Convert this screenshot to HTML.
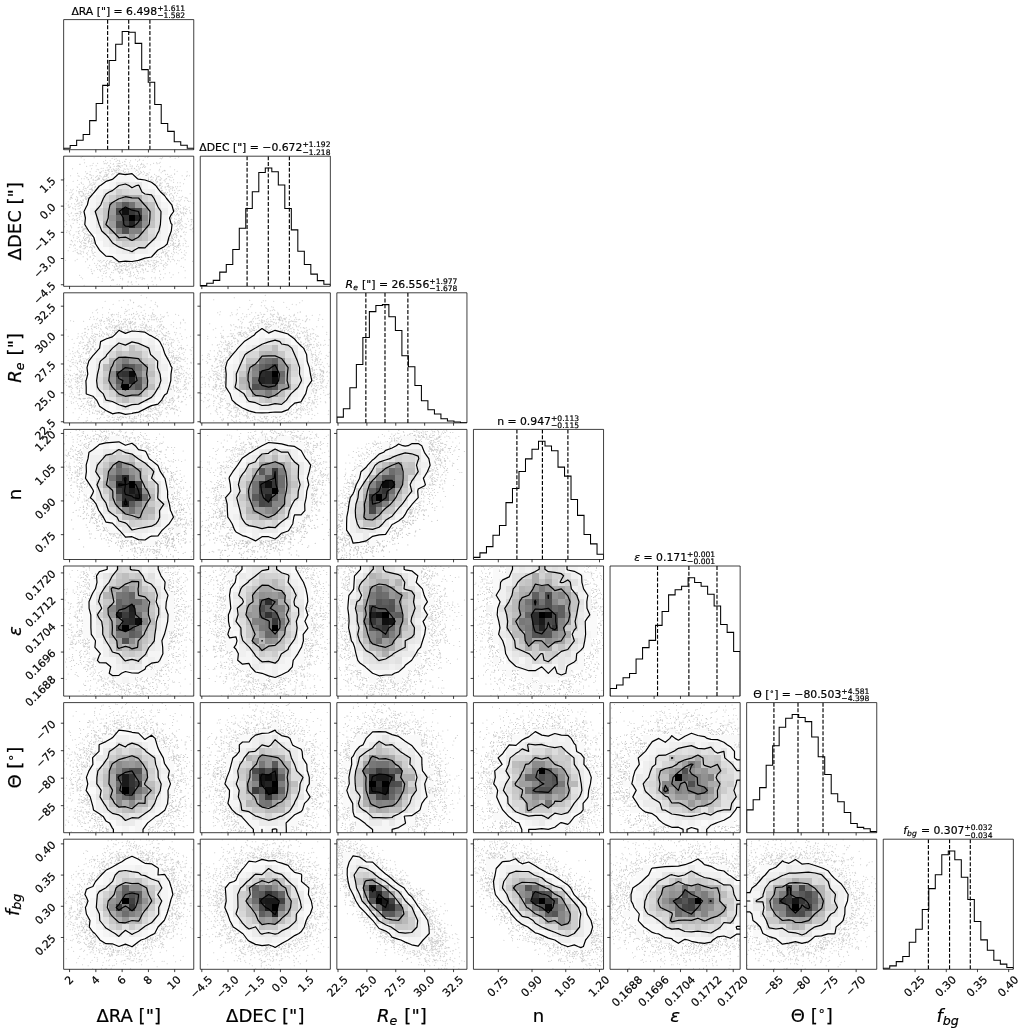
<!DOCTYPE html>
<html lang="en"><head><meta charset="utf-8"><title>Corner plot</title><style>
html,body{margin:0;padding:0;background:#fff}
svg{display:block;filter:blur(.35px)}
.pt{fill:none;stroke:#000;stroke-opacity:.24;stroke-width:2.1;stroke-linecap:round}
.ct{fill:none;stroke:#000;stroke-width:1.2;stroke-linejoin:round}
.hs{fill:none;stroke:#000;stroke-width:1.05;stroke-linejoin:miter}
.dq{fill:none;stroke:#000;stroke-width:1.15;stroke-dasharray:4 1.73}
.fr{fill:none;stroke:#000;stroke-width:.75}
.tk{fill:none;stroke:#000;stroke-width:.75}
</style></head><body>
<svg width="1026" height="1033" viewBox="0 0 1026 1033">
<defs>
<clipPath id="c00"><rect x="63.65" y="19.6" width="130.1" height="130.1"/></clipPath>
<clipPath id="c10"><rect x="63.65" y="156.2" width="130.1" height="130.1"/></clipPath>
<clipPath id="c11"><rect x="200.25" y="156.2" width="130.1" height="130.1"/></clipPath>
<clipPath id="c20"><rect x="63.65" y="292.8" width="130.1" height="130.1"/></clipPath>
<clipPath id="c21"><rect x="200.25" y="292.8" width="130.1" height="130.1"/></clipPath>
<clipPath id="c22"><rect x="336.85" y="292.8" width="130.1" height="130.1"/></clipPath>
<clipPath id="c30"><rect x="63.65" y="429.4" width="130.1" height="130.1"/></clipPath>
<clipPath id="c31"><rect x="200.25" y="429.4" width="130.1" height="130.1"/></clipPath>
<clipPath id="c32"><rect x="336.85" y="429.4" width="130.1" height="130.1"/></clipPath>
<clipPath id="c33"><rect x="473.45" y="429.4" width="130.1" height="130.1"/></clipPath>
<clipPath id="c40"><rect x="63.65" y="566" width="130.1" height="130.1"/></clipPath>
<clipPath id="c41"><rect x="200.25" y="566" width="130.1" height="130.1"/></clipPath>
<clipPath id="c42"><rect x="336.85" y="566" width="130.1" height="130.1"/></clipPath>
<clipPath id="c43"><rect x="473.45" y="566" width="130.1" height="130.1"/></clipPath>
<clipPath id="c44"><rect x="610.05" y="566" width="130.1" height="130.1"/></clipPath>
<clipPath id="c50"><rect x="63.65" y="702.6" width="130.1" height="130.1"/></clipPath>
<clipPath id="c51"><rect x="200.25" y="702.6" width="130.1" height="130.1"/></clipPath>
<clipPath id="c52"><rect x="336.85" y="702.6" width="130.1" height="130.1"/></clipPath>
<clipPath id="c53"><rect x="473.45" y="702.6" width="130.1" height="130.1"/></clipPath>
<clipPath id="c54"><rect x="610.05" y="702.6" width="130.1" height="130.1"/></clipPath>
<clipPath id="c55"><rect x="746.65" y="702.6" width="130.1" height="130.1"/></clipPath>
<clipPath id="c60"><rect x="63.65" y="839.2" width="130.1" height="130.1"/></clipPath>
<clipPath id="c61"><rect x="200.25" y="839.2" width="130.1" height="130.1"/></clipPath>
<clipPath id="c62"><rect x="336.85" y="839.2" width="130.1" height="130.1"/></clipPath>
<clipPath id="c63"><rect x="473.45" y="839.2" width="130.1" height="130.1"/></clipPath>
<clipPath id="c64"><rect x="610.05" y="839.2" width="130.1" height="130.1"/></clipPath>
<clipPath id="c65"><rect x="746.65" y="839.2" width="130.1" height="130.1"/></clipPath>
<clipPath id="c66"><rect x="883.25" y="839.2" width="130.1" height="130.1"/></clipPath>
</defs>
<rect width="1026" height="1033" fill="#fff"/>
<g clip-path="url(#c10)">
<path class="pt" transform="translate(63.65 156.2) scale(.5)" d="m1 45h0m0 62h0m1 22h0m0 12h0m1-36h0m1 103h0m1-140h0m0 27h0m0 36h0m1-72h0m0 77h0m0 16h0m1-38h0m0 35h0m2-58h0m0 8h0m0 90h0m1-92h0m0 5h0m0 15h0m1 10h0m0 24h0m1-78h0m0 29h0m0 18h0m0 34h0m0 28h0m1-97h0m0 1h0m0 14h0m0 57h0m0 19h0m1-137h0m0 28h0m0 15h0m0 56h0m0 10h0m1-76h0m0 7h0m0 35h0m0 26h0m0 29h0m0 8h0m1-95h0m0 1h0m0 12h0m0 18h0m0 30h0m0 25h0m1-99h0m0 15h0m0 43h0m1-102h0m0 52h0m0 26h0m0 68h0m1-121h0m0 16h0m0 9h0m0 30h0m0 14h0m0 6h0m0 9h0m0 25h0m0 31h0m1-27h0m0 16h0m1-51h0m0 29h0m1-62h0m0 32h0m0 49h0m1-76h0m0 5h0m0 10h0m0 54h0m0 9h0m0 6h0m0 5h0m0 20h0m1-123h0m0 21h0m1-10h0m0 17h0m0 5h0m0 8h0m0 24h0m1-82h0m0 12h0m0 9h0m0 29h0m1-58h0m0 27h0m0 26h0m0 10h0m0 5h0m0 4h0m0 28h0m0 3h0m0 23h0m0 5h0m0 14h0m1-172h0m0 14h0m0 14h0m0 21h0m0 3h0m0 3h0m0 6h0m0 0h0m0 19h0m0 14h0m0 43h0m0 22h0m1-154h0m0 56h0m0 5h0m0 5h0m0 10h0m0 28h0m0 8h0m0 44h0m1-124h0m0 80h0m0 3h0m0 8h0m1-122h0m0 16h0m0 15h0m0 2h0m0 2h0m0 17h0m0 0h0m0 3h0m0 16h0m0 11h0m0 20h0m0 13h0m0 40h0m1-179h0m0 50h0m0 33h0m0 6h0m0 14h0m0 0h0m0 7h0m0 10h0m0 13h0m0 18h0m0 3h0m0 11h0m0 57h0m1-222h0m0 54h0m0 8h0m0 32h0m0 5h0m0 0h0m0 44h0m0 23h0m0 7h0m1-100h0m0 14h0m0 7h0m0 2h0m0 2h0m0 1h0m0 1h0m0 56h0m0 7h0m0 15h0m1-191h0m0 49h0m0 18h0m0 11h0m0 12h0m0 4h0m0 1h0m0 22h0m0 61h0m0 10h0m0 5h0m0 46h0m1-197h0m0 9h0m0 26h0m0 11h0m0 7h0m0 14h0m0 30h0m0 29h0m0 4h0m1-105h0m0 2h0m0 6h0m0 2h0m0 12h0m0 1h0m0 4h0m0 32h0m0 11h0m0 2h0m0 8h0m1-150h0m0 148h0m0 20h0m0 77h0m1-189h0m0 10h0m0 8h0m0 13h0m0 2h0m0 11h0m0 7h0m0 29h0m0 0h0m0 8h0m0 0h0m0 2h0m0 2h0m0 37h0m0 5h0m0 11h0m1-138h0m0 11h0m0 2h0m0 3h0m0 30h0m0 2h0m0 2h0m0 4h0m0 5h0m0 1h0m0 3h0m0 2h0m0 0h0m0 1h0m0 2h0m0 21h0m0 10h0m0 2h0m0 9h0m0 6h0m0 14h0m1-186h0m0 38h0m0 15h0m0 19h0m0 15h0m0 5h0m0 8h0m0 17h0m0 3h0m0 1h0m0 7h0m0 2h0m0 10h0m0 26h0m0 85h0m1-245h0m0 56h0m0 0h0m0 29h0m0 4h0m0 3h0m0 18h0m0 11h0m0 0h0m0 0h0m0 0h0m0 11h0m0 9h0m0 3h0m0 3h0m0 6h0m0 2h0m0 6h0m0 0h0m0 5h0m0 6h0m1-145h0m0 24h0m0 12h0m0 4h0m0 4h0m0 17h0m0 24h0m0 10h0m0 9h0m0 34h0m0 5h0m1-152h0m0 51h0m0 4h0m0 69h0m0 9h0m0 4h0m0 6h0m0 9h0m0 28h0m1-146h0m0 4h0m0 5h0m0 11h0m0 57h0m0 2h0m0 3h0m0 4h0m0 16h0m0 8h0m0 5h0m1-160h0m0 15h0m0 8h0m0 37h0m0 7h0m0 70h0m0 6h0m0 31h0m1-151h0m0 39h0m0 3h0m0 6h0m0 5h0m0 0h0m0 50h0m0 1h0m0 46h0m0 12h0m1-171h0m0 28h0m0 13h0m0 72h0m0 8h0m0 8h0m0 18h0m0 16h0m0 10h0m1-160h0m0 14h0m0 17h0m0 72h0m0 6h0m0 2h0m0 3h0m0 10h0m0 52h0m1-177h0m0 25h0m0 3h0m0 0h0m0 9h0m0 85h0m0 2h0m0 3h0m0 16h0m1-131h0m0 20h0m0 80h0m0 5h0m1-126h0m0 0h0m0 13h0m0 3h0m0 13h0m0 17h0m0 69h0m0 7h0m0 6h0m0 2h0m0 3h0m0 12h0m0 36h0m1-199h0m0 12h0m0 25h0m0 0h0m0 0h0m0 16h0m0 6h0m0 78h0m0 0h0m0 44h0m0 2h0m1-165h0m0 29h0m0 6h0m0 6h0m0 80h0m0 1h0m0 17h0m0 5h0m1-143h0m0 6h0m0 11h0m0 3h0m0 7h0m0 10h0m0 3h0m0 93h0m0 3h0m0 8h0m0 44h0m1-201h0m0 17h0m0 23h0m0 2h0m0 8h0m0 89h0m0 4h0m0 3h0m0 17h0m0 42h0m1-212h0m0 45h0m0 4h0m0 1h0m0 3h0m0 89h0m0 7h0m0 12h0m0 4h0m0 1h0m0 2h0m0 4h0m0 3h0m0 41h0m1-175h0m0 8h0m0 107h0m0 33h0m0 28h0m1-221h0m0 25h0m0 7h0m0 2h0m0 4h0m0 0h0m0 4h0m0 12h0m0 103h0m0 8h0m0 15h0m0 1h0m0 3h0m1-30h0m0 5h0m0 8h0m0 23h0m1-201h0m0 52h0m0 110h0m0 7h0m0 2h0m0 0h0m0 55h0m1-173h0m0 7h0m0 112h0m0 0h0m0 6h0m0 2h0m0 0h0m0 9h0m0 7h0m0 15h0m1-166h0m0 5h0m0 7h0m0 2h0m0 5h0m0 108h0m0 17h0m0 8h0m1-158h0m0 18h0m1-41h0m0 11h0m0 19h0m0 6h0m0 128h0m0 3h0m0 32h0m1-178h0m0 148h0m0 1h0m0 2h0m0 6h0m0 1h0m0 7h0m0 0h0m0 17h0m1-196h0m0 21h0m0 14h0m0 2h0m0 126h0m0 6h0m0 6h0m1-187h0m0 25h0m0 8h0m0 9h0m0 1h0m0 1h0m0 126h0m0 1h0m0 15h0m0 15h0m0 11h0m1-181h0m0 150h0m0 14h0m0 33h0m1-215h0m0 16h0m0 3h0m0 10h0m0 2h0m0 140h0m1-153h0m0 1h0m0 7h0m0 1h0m0 141h0m0 3h0m0 7h0m0 2h0m0 12h0m1-187h0m0 7h0m0 5h0m0 145h0m0 9h0m0 4h0m0 0h0m0 8h0m0 9h0m0 8h0m1-193h0m0 5h0m0 15h0m0 2h0m0 148h0m0 24h0m1-228h0m0 32h0m0 158h0m0 4h0m0 7h0m0 2h0m0 5h0m0 0h0m0 13h0m0 9h0m1-206h0m0 17h0m0 8h0m0 5h0m0 1h0m0 143h0m0 4h0m0 3h0m0 8h0m0 13h0m1-195h0m0 165h0m0 8h0m1-153h0m0 144h0m0 16h0m0 28h0m0 11h0m1-205h0m0 1h0m0 8h0m0 149h0m0 22h0m0 20h0m1-221h0m0 5h0m0 13h0m0 155h0m0 8h0m0 13h0m0 1h0m1-208h0m0 35h0m0 1h0m0 1h0m0 153h0m0 8h0m0 25h0m1-219h0m0 25h0m0 1h0m0 157h0m0 9h0m0 1h0m0 22h0m1-191h0m0 9h0m0 153h0m0 17h0m1-204h0m0 18h0m0 4h0m0 10h0m0 158h0m0 17h0m0 3h0m1-222h0m0 6h0m0 20h0m0 12h0m0 173h0m0 21h0m1-201h0m0 185h0m0 2h0m0 8h0m0 13h0m1-226h0m0 21h0m0 2h0m0 1h0m0 1h0m0 5h0m0 0h0m0 157h0m0 1h0m0 1h0m0 1h0m0 5h0m0 5h0m0 2h0m0 0h0m0 16h0m1-210h0m0 5h0m0 18h0m1-33h0m0 23h0m0 3h0m0 165h0m0 1h0m0 2h0m0 1h0m0 14h0m1-195h0m0 15h0m0 6h0m0 153h0m0 24h0m1-206h0m0 10h0m0 6h0m0 179h0m1-196h0m0 8h0m0 5h0m0 12h0m0 171h0m0 3h0m1-176h0m0 4h0m0 156h0m0 2h0m0 7h0m0 2h0m0 13h0m0 0h0m0 16h0m1-232h0m0 12h0m0 1h0m0 1h0m0 19h0m0 0h0m0 3h0m0 156h0m0 2h0m1-189h0m0 8h0m0 185h0m0 1h0m0 3h0m0 26h0m0 6h0m0 16h0m1-213h0m0 1h0m0 155h0m0 2h0m0 8h0m1-185h0m0 3h0m0 7h0m0 6h0m0 2h0m0 2h0m0 155h0m0 5h0m0 1h0m0 4h0m0 20h0m0 16h0m1-244h0m0 26h0m0 10h0m0 2h0m0 160h0m0 1h0m1-173h0m0 5h0m0 5h0m0 166h0m0 6h0m0 6h0m0 28h0m1-230h0m0 9h0m0 11h0m0 8h0m0 168h0m0 21h0m0 15h0m1-233h0m0 12h0m0 16h0m0 185h0m0 19h0m1-246h0m0 19h0m0 7h0m0 7h0m0 178h0m0 8h0m1-214h0m0 23h0m0 176h0m0 8h0m0 9h0m1-194h0m0 3h0m0 10h0m0 0h0m0 166h0m0 18h0m0 2h0m1-12h0m0 2h0m1-212h0m0 5h0m0 15h0m0 4h0m0 3h0m0 178h0m0 5h0m0 5h0m0 7h0m1-207h0m0 9h0m0 8h0m0 181h0m0 1h0m1-204h0m0 12h0m0 5h0m0 3h0m0 179h0m0 6h0m0 4h0m0 32h0m1-248h0m0 11h0m0 0h0m0 208h0m1-209h0m0 1h0m0 2h0m0 4h0m0 186h0m0 13h0m0 6h0m1-216h0m0 11h0m0 4h0m0 4h0m0 180h0m0 18h0m1-223h0m0 11h0m0 13h0m0 1h0m0 182h0m0 5h0m0 3h0m0 10h0m1-223h0m0 4h0m0 6h0m0 1h0m0 6h0m0 8h0m0 183h0m0 16h0m0 23h0m1-243h0m0 212h0m0 4h0m0 2h0m0 8h0m1-218h0m0 10h0m0 182h0m0 5h0m0 25h0m1-225h0m0 10h0m0 192h0m1-187h0m0 0h0m0 185h0m0 1h0m0 6h0m0 2h0m0 1h0m1-9h0m0 14h0m1-222h0m0 7h0m0 17h0m0 181h0m0 12h0m0 15h0m0 3h0m1-219h0m0 2h0m0 195h0m0 8h0m1-203h0m0 189h0m1-203h0m0 9h0m0 8h0m0 181h0m0 4h0m1-208h0m0 22h0m0 182h0m0 5h0m1-208h0m0 6h0m0 9h0m0 10h0m0 179h0m0 0h0m0 11h0m0 0h0m1-220h0m0 25h0m0 3h0m0 191h0m0 2h0m1-221h0m0 211h0m0 2h0m0 2h0m0 1h0m0 5h0m0 1h0m1-210h0m0 2h0m0 14h0m0 2h0m0 177h0m1-188h0m0 186h0m0 18h0m0 7h0m1-15h0m0 6h0m0 32h0m1-233h0m0 7h0m0 178h0m0 9h0m0 30h0m0 2h0m1-222h0m0 185h0m0 17h0m1-203h0m0 0h0m0 190h0m0 5h0m0 3h0m0 13h0m1-227h0m0 13h0m0 1h0m0 186h0m1-196h0m0 3h0m0 12h0m0 182h0m0 3h0m0 16h0m0 0h0m0 4h0m0 4h0m1-232h0m0 17h0m0 4h0m0 3h0m0 198h0m0 0h0m0 3h0m1-20h0m0 3h0m0 5h0m0 17h0m0 14h0m1-229h0m0 10h0m0 217h0m1-232h0m0 2h0m0 5h0m0 192h0m0 3h0m0 4h0m0 31h0m1-44h0m0 0h0m0 5h0m1-191h0m0 6h0m0 3h0m0 1h0m0 0h0m0 186h0m0 1h0m0 1h0m1-197h0m0 4h0m0 1h0m0 178h0m0 4h0m0 18h0m0 7h0m1-207h0m1-8h0m0 1h0m0 211h0m1-206h0m0 182h0m0 2h0m0 8h0m0 1h0m1-216h0m0 212h0m0 1h0m0 22h0m1-215h0m0 8h0m0 7h0m0 180h0m0 29h0m1-231h0m0 8h0m0 14h0m0 174h0m0 4h0m0 6h0m0 19h0m1-217h0m0 10h0m0 171h0m0 4h0m0 16h0m0 1h0m1-220h0m0 7h0m0 27h0m0 168h0m0 18h0m0 9h0m1-238h0m0 30h0m0 1h0m0 186h0m0 4h0m0 9h0m0 13h0m1-223h0m0 15h0m0 3h0m0 6h0m0 170h0m0 19h0m0 22h0m1-248h0m0 16h0m0 3h0m1-21h0m0 29h0m0 1h0m0 175h0m0 6h0m0 2h0m0 3h0m1-188h0m0 7h0m0 2h0m0 164h0m0 7h0m0 29h0m1-226h0m0 6h0m0 7h0m0 187h0m0 2h0m0 12h0m1-199h0m0 11h0m1-29h0m0 0h0m0 2h0m0 17h0m0 179h0m0 6h0m1-178h0m0 168h0m0 17h0m0 1h0m0 17h0m0 3h0m1-224h0m0 20h0m0 164h0m0 0h0m0 10h0m0 3h0m1-211h0m0 8h0m0 20h0m0 6h0m0 177h0m0 8h0m0 2h0m0 15h0m1-224h0m0 10h0m0 11h0m0 3h0m0 174h0m0 15h0m1-215h0m0 24h0m0 164h0m0 2h0m0 3h0m1-189h0m0 11h0m0 9h0m0 203h0m1-243h0m0 209h0m0 4h0m1-194h0m0 17h0m0 7h0m0 0h0m0 180h0m0 2h0m1-187h0m0 1h0m0 1h0m0 3h0m0 161h0m0 8h0m0 3h0m1-182h0m0 3h0m0 10h0m0 158h0m0 8h0m1-199h0m0 29h0m0 163h0m0 4h0m0 19h0m1-228h0m0 33h0m0 5h0m0 1h0m0 5h0m0 0h0m0 159h0m0 2h0m0 1h0m0 49h0m1-256h0m0 36h0m0 6h0m0 2h0m0 159h0m0 26h0m1-184h0m0 1h0m0 1h0m0 158h0m0 3h0m0 1h0m0 5h0m0 0h0m0 5h0m1-187h0m0 17h0m0 161h0m0 5h0m2-189h0m0 24h0m0 153h0m0 12h0m1-199h0m0 25h0m0 7h0m0 168h0m0 4h0m1-174h0m0 160h0m0 2h0m1-169h0m0 1h0m0 161h0m0 4h0m0 37h0m1-196h0m0 0h0m0 180h0m0 3h0m0 20h0m1-32h0m1-175h0m0 7h0m0 159h0m0 3h0m0 9h0m0 36h0m1-243h0m0 40h0m0 144h0m0 0h0m0 8h0m0 19h0m1-171h0m0 145h0m0 6h0m0 2h0m0 7h0m0 1h0m0 3h0m0 14h0m1-196h0m0 0h0m0 161h0m0 6h0m0 5h0m0 11h0m0 5h0m1-167h0m0 145h0m0 20h0m0 5h0m0 15h0m0 3h0m1-197h0m0 144h0m0 24h0m1-177h0m0 0h0m0 7h0m0 1h0m0 4h0m0 3h0m0 138h0m0 16h0m0 4h0m0 1h0m1-200h0m0 30h0m0 2h0m0 146h0m0 3h0m0 2h0m0 1h0m0 4h0m0 10h0m0 9h0m0 37h0m0 3h0m1-245h0m0 37h0m0 7h0m0 131h0m0 1h0m0 2h0m1-152h0m0 9h0m0 10h0m0 3h0m0 127h0m0 10h0m0 11h0m1-170h0m0 149h0m0 1h0m1-151h0m0 148h0m0 1h0m0 8h0m0 14h0m0 8h0m1-205h0m0 15h0m0 11h0m0 7h0m0 12h0m0 134h0m0 9h0m1-176h0m0 31h0m0 1h0m0 1h0m0 9h0m0 1h0m0 121h0m0 12h0m0 27h0m0 1h0m0 13h0m1-239h0m0 8h0m0 36h0m0 5h0m0 1h0m0 1h0m0 10h0m0 126h0m0 0h0m0 0h0m0 23h0m1-193h0m0 22h0m0 4h0m0 11h0m0 8h0m0 2h0m0 124h0m0 14h0m0 30h0m0 11h0m1-214h0m0 22h0m0 7h0m0 6h0m0 1h0m0 0h0m0 131h0m1-195h0m0 40h0m0 19h0m0 5h0m0 1h0m0 3h0m0 111h0m0 10h0m0 8h0m0 7h0m0 5h0m1-161h0m0 7h0m0 126h0m0 6h0m1-189h0m0 27h0m0 38h0m0 4h0m0 3h0m0 113h0m1 2h0m0 2h0m0 16h0m0 10h0m1-146h0m0 3h0m0 118h0m0 27h0m0 6h0m0 17h0m1-215h0m0 1h0m0 19h0m0 26h0m0 1h0m0 141h0m1-143h0m0 2h0m0 111h0m1-157h0m0 18h0m0 4h0m0 10h0m0 2h0m0 11h0m0 3h0m0 1h0m0 112h0m0 6h0m0 2h0m0 25h0m0 12h0m1-199h0m0 36h0m0 122h0m0 7h0m0 12h0m1-168h0m0 22h0m0 111h0m0 9h0m0 6h0m0 22h0m0 3h0m1-173h0m0 10h0m0 20h0m0 2h0m0 3h0m0 2h0m0 0h0m0 1h0m0 97h0m0 14h0m1-134h0m0 22h0m0 2h0m0 99h0m0 9h0m0 5h0m1-161h0m0 18h0m0 18h0m0 6h0m0 95h0m0 3h0m0 1h0m0 2h0m0 20h0m0 11h0m0 7h0m1-176h0m0 18h0m0 2h0m0 108h0m0 8h0m0 12h0m0 10h0m0 2h0m0 3h0m0 2h0m1-151h0m0 3h0m0 111h0m0 11h0m0 1h0m1-141h0m0 22h0m0 5h0m0 1h0m0 99h0m0 14h0m0 8h0m0 0h0m0 18h0m1-160h0m0 24h0m0 5h0m0 3h0m0 86h0m0 16h0m0 52h0m1-231h0m0 19h0m0 21h0m0 19h0m0 62h0m0 34h0m0 11h0m1-103h0m0 10h0m0 10h0m0 71h0m0 18h0m0 4h0m0 23h0m0 10h0m1-173h0m0 11h0m0 34h0m0 0h0m0 12h0m0 29h0m0 6h0m0 3h0m0 25h0m0 2h0m0 5h0m0 77h0m1-167h0m0 13h0m0 8h0m0 1h0m0 25h0m0 3h0m0 22h0m0 0h0m0 15h0m0 6h0m0 26h0m1-152h0m0 19h0m0 4h0m0 25h0m0 4h0m0 24h0m0 0h0m0 1h0m0 17h0m0 4h0m0 13h0m0 2h0m0 6h0m0 2h0m0 7h0m0 7h0m0 1h0m0 28h0m1-138h0m0 10h0m0 12h0m0 6h0m0 19h0m0 1h0m0 14h0m0 10h0m0 5h0m0 2h0m0 0h0m0 17h0m0 1h0m0 4h0m0 32h0m1-139h0m0 0h0m0 1h0m0 21h0m0 10h0m0 1h0m0 3h0m0 1h0m0 17h0m0 16h0m0 7h0m0 0h0m0 1h0m0 13h0m0 2h0m0 2h0m0 2h0m0 15h0m0 1h0m0 2h0m0 20h0m0 40h0m1-190h0m0 5h0m0 28h0m0 2h0m0 7h0m0 3h0m0 2h0m0 5h0m0 7h0m0 0h0m0 8h0m0 1h0m0 1h0m0 17h0m0 2h0m0 2h0m0 3h0m0 2h0m0 13h0m0 11h0m0 6h0m0 6h0m0 4h0m0 4h0m0 1h0m0 4h0m0 15h0m1-120h0m0 20h0m0 10h0m0 21h0m0 38h0m0 9h0m1-157h0m0 8h0m0 1h0m0 32h0m0 6h0m0 34h0m0 17h0m0 5h0m0 3h0m0 2h0m0 13h0m0 0h0m0 6h0m0 8h0m0 18h0m0 13h0m0 16h0m1-205h0m0 68h0m0 37h0m0 10h0m0 37h0m1-95h0m0 44h0m0 28h0m0 2h0m0 16h0m0 17h0m0 6h0m0 6h0m1-91h0m0 0h0m0 9h0m0 13h0m0 15h0m0 14h0m0 7h0m0 7h0m0 3h0m0 4h0m0 0h0m0 25h0m1-121h0m0 14h0m0 27h0m0 11h0m0 41h0m0 5h0m0 19h0m0 10h0m0 23h0m1-185h0m0 64h0m0 3h0m0 4h0m0 3h0m0 5h0m0 0h0m0 6h0m0 1h0m0 16h0m0 3h0m0 4h0m0 8h0m0 1h0m0 11h0m0 0h0m0 20h0m0 2h0m1-128h0m0 8h0m0 13h0m0 40h0m0 17h0m0 13h0m0 4h0m0 60h0m1-139h0m0 19h0m0 13h0m0 27h0m0 8h0m0 16h0m0 27h0m0 16h0m1-193h0m0 102h0m0 0h0m0 2h0m0 11h0m0 2h0m0 14h0m0 13h0m0 4h0m0 1h0m0 16h0m0 3h0m0 6h0m0 2h0m0 4h0m0 51h0m1-151h0m0 9h0m0 5h0m0 21h0m0 7h0m0 4h0m0 2h0m0 3h0m0 2h0m0 39h0m0 2h0m0 12h0m0 21h0m1-141h0m0 73h0m0 28h0m0 5h0m1-121h0m0 7h0m0 29h0m0 21h0m0 1h0m0 0h0m0 24h0m0 4h0m0 5h0m0 35h0m1-81h0m0 7h0m0 8h0m0 14h0m0 5h0m0 27h0m0 2h0m0 25h0m1-104h0m0 4h0m0 40h0m0 1h0m0 1h0m0 92h0m1-151h0m0 45h0m0 7h0m0 3h0m0 13h0m0 10h0m0 13h0m0 32h0m0 12h0m1-165h0m0 73h0m0 18h0m0 9h0m0 6h0m1-65h0m1 22h0m0 12h0m0 27h0m0 34h0m0 4h0m0 24h0m1-148h0m0 49h0m0 3h0m0 6h0m0 3h0m0 36h0m0 70h0m1-118h0m0 15h0m0 32h0m0 14h0m0 31h0m1-150h0m0 43h0m0 100h0m1-106h0m0 17h0m0 13h0m0 22h0m0 8h0m0 14h0m0 11h0m0 30h0m0 9h0m0 22h0m0 14h0m1-137h0m0 8h0m0 60h0m1-91h0m0 22h0m0 10h0m0 27h0m0 10h0m0 18h0m0 11h0m0 12h0m1-153h0m0 70h0m0 26h0m1-105h0m0 7h0m0 46h0m0 22h0m1-18h0m0 37h0m1 55h0m1-90h0m0 40h0m1-28h0m1-63h0m0 70h0m1-34h0m0 15h0m0 23h0m0 26h0m0 7h0m1-33h0m0 1h0m1 12h0m0 1h0m0 9h0m0 1h0m0 10h0m1-16h0m1-4h0m1 18h0m0 65h0m1-67h0m0 8h0m1-57h0m0 37h0"/>
<path fill="#fff" fill-rule="evenodd" d="M112.7 257L118.9 261.8L125.4 261.2L132 261.5L138.5 260.4L145 258.1L151.5 257L151.5 257L157.4 250.5L158 250L164.5 246.4L167.2 244L168.8 237.5L171 231.7L171.3 231L172 224.5L171 223.3L169.5 218L171 215.1L173.7 211.5L171.9 205L171 203.9L166.6 198.5L164.5 195.5L160.6 192L158 188.7L155.7 185.5L151.5 182.2L145 180L138.5 179.2L137.8 179L132 173.6L125.4 174.6L118.9 173.6L112.9 179L112.4 179.4L105.9 181.4L100.5 185.5L99.4 186L94.5 192L92.9 193.8L88.9 198.5L87.3 205L86.4 206.5L84 211.5L85.4 218L84.8 224.5L86.4 227.2L88.8 231L92.9 236.2L93.9 237.5L95.6 244L99.4 249.9L99.9 250.5L105.9 256.1L112.4 256.6L112.7 257Z"/>
<g transform="translate(63.65 156.2) scale(6.5050)" shape-rendering="crispEdges">
<path fill="#fafafa" d="M3 10h1v1h-1zM3 9h1v1h-1zM3 8h1v1h-1zM3 7h1v1h-1zM5 15h1v1h-1zM5 14h1v1h-1zM5 13h1v1h-1zM5 4h1v1h-1zM6 15h1v1h-1zM6 14h1v1h-1zM6 4h1v1h-1zM7 15h1v1h-1zM7 3h1v1h-1zM10 2h1v1h-1zM11 15h1v1h-1zM11 3h1v1h-1zM12 15h1v1h-1zM12 3h1v1h-1zM13 15h1v1h-1zM13 4h1v1h-1zM14 14h1v1h-1zM14 5h1v1h-1zM15 13h1v1h-1zM15 6h1v1h-1zM16 11h1v1h-1zM16 10h1v1h-1zM16 8h1v1h-1zM16 7h1v1h-1z"/>
<path fill="#f5f5f5" d="M4 11h1v1h-1zM4 10h1v1h-1zM4 9h1v1h-1zM4 7h1v1h-1zM4 6h1v1h-1zM5 12h1v1h-1zM5 5h1v1h-1zM7 14h1v1h-1zM7 4h1v1h-1zM8 15h1v1h-1zM8 3h1v1h-1zM9 15h1v1h-1zM9 3h1v1h-1zM10 15h1v1h-1zM10 3h1v1h-1zM12 4h1v1h-1zM13 14h1v1h-1zM14 13h1v1h-1zM15 12h1v1h-1zM15 11h1v1h-1zM15 10h1v1h-1zM15 9h1v1h-1zM15 7h1v1h-1z"/>
<path fill="#f0f0f0" d="M4 8h1v1h-1zM5 11h1v1h-1zM5 6h1v1h-1zM6 13h1v1h-1zM6 12h1v1h-1zM8 14h1v1h-1zM11 14h1v1h-1zM12 14h1v1h-1zM12 5h1v1h-1zM13 13h1v1h-1zM13 5h1v1h-1zM14 12h1v1h-1zM14 6h1v1h-1zM15 8h1v1h-1z"/>
<path fill="#ebebeb" d="M5 7h1v1h-1zM6 5h1v1h-1zM7 13h1v1h-1zM9 14h1v1h-1zM10 4h1v1h-1zM14 7h1v1h-1z"/>
<path fill="#e6e6e6" d="M5 10h1v1h-1zM8 4h1v1h-1zM11 4h1v1h-1zM14 11h1v1h-1z"/>
<path fill="#e1e1e1" d="M7 5h1v1h-1zM9 4h1v1h-1zM10 14h1v1h-1z"/>
<path fill="#dcdcdc" d="M5 9h1v1h-1zM6 6h1v1h-1zM8 13h1v1h-1zM10 5h1v1h-1zM11 5h1v1h-1zM13 11h1v1h-1zM13 6h1v1h-1zM14 10h1v1h-1zM14 9h1v1h-1zM14 8h1v1h-1z"/>
<path fill="#d7d7d7" d="M5 8h1v1h-1zM6 11h1v1h-1zM7 12h1v1h-1zM9 5h1v1h-1zM11 13h1v1h-1zM12 13h1v1h-1zM13 12h1v1h-1z"/>
<path fill="#d2d2d2" d="M10 13h1v1h-1zM12 6h1v1h-1z"/>
<path fill="#cdcdcd" d="M6 7h1v1h-1zM7 6h1v1h-1zM8 5h1v1h-1zM9 13h1v1h-1z"/>
<path fill="#c3c3c3" d="M6 9h1v1h-1zM6 8h1v1h-1zM12 12h1v1h-1zM13 10h1v1h-1zM13 7h1v1h-1z"/>
<path fill="#bebebe" d="M12 11h1v1h-1zM13 9h1v1h-1zM13 8h1v1h-1z"/>
<path fill="#b9b9b9" d="M8 6h1v1h-1zM9 12h1v1h-1zM11 12h1v1h-1z"/>
<path fill="#b4b4b4" d="M6 10h1v1h-1zM7 11h1v1h-1zM8 12h1v1h-1zM12 7h1v1h-1z"/>
<path fill="#afafaf" d="M10 6h1v1h-1zM11 6h1v1h-1z"/>
<path fill="#a5a5a5" d="M9 6h1v1h-1z"/>
<path fill="#a0a0a0" d="M7 7h1v1h-1zM11 7h1v1h-1z"/>
<path fill="#9b9b9b" d="M7 10h1v1h-1zM7 8h1v1h-1z"/>
<path fill="#969696" d="M10 12h1v1h-1z"/>
<path fill="#919191" d="M7 9h1v1h-1zM12 10h1v1h-1zM12 8h1v1h-1z"/>
<path fill="#878787" d="M12 9h1v1h-1z"/>
<path fill="#828282" d="M10 11h1v1h-1zM11 11h1v1h-1z"/>
<path fill="#7d7d7d" d="M8 11h1v1h-1zM8 7h1v1h-1z"/>
<path fill="#737373" d="M10 7h1v1h-1z"/>
<path fill="#696969" d="M8 9h1v1h-1z"/>
<path fill="#5a5a5a" d="M9 7h1v1h-1zM11 10h1v1h-1z"/>
<path fill="#505050" d="M8 10h1v1h-1zM9 11h1v1h-1z"/>
<path fill="#464646" d="M8 8h1v1h-1zM11 8h1v1h-1z"/>
<path fill="#414141" d="M9 10h1v1h-1z"/>
<path fill="#373737" d="M10 8h1v1h-1z"/>
<path fill="#323232" d="M9 9h1v1h-1z"/>
<path fill="#232323" d="M10 10h1v1h-1zM11 9h1v1h-1z"/>
<path fill="#0f0f0f" d="M9 8h1v1h-1z"/>
<path fill="#000000" d="M10 9h1v1h-1z"/>
</g>
<path class="ct" d="M112.7 257L118.9 261.8L125.4 261.2L132 261.5L138.5 260.4L145 258.1L151.5 257L151.5 257L157.4 250.5L158 250L164.5 246.4L167.2 244L168.8 237.5L171 231.7L171.3 231L172 224.5L171 223.3L169.5 218L171 215.1L173.7 211.5L171.9 205L171 203.9L166.6 198.5L164.5 195.5L160.6 192L158 188.7L155.7 185.5L151.5 182.2L145 180L138.5 179.2L137.8 179L132 173.6L125.4 174.6L118.9 173.6L112.9 179L112.4 179.4L105.9 181.4L100.5 185.5L99.4 186L94.5 192L92.9 193.8L88.9 198.5L87.3 205L86.4 206.5L84 211.5L85.4 218L84.8 224.5L86.4 227.2L88.8 231L92.9 236.2L93.9 237.5L95.6 244L99.4 249.9L99.9 250.5L105.9 256.1L112.4 256.6ZM128.9 250.5L132 251.7L133.7 250.5L138.5 247.7L145 247.8L148.8 244L151.5 241.5L155.6 237.5L158 232.6L158.9 231L160.4 224.5L160.8 218L161 211.5L158 207L157.1 205L154.1 198.5L151.5 194.9L145 194L142 192L139 185.5L138.5 185.1L136.5 185.5L132 187.8L128.9 185.5L125.4 184L118.9 185.5L118.9 185.5L112.4 190.6L109.2 192L105.9 194.3L103.3 198.5L100.7 205L99.4 206.7L95.2 211.5L97.3 218L99.2 224.5L99.4 224.9L101.8 231L105.9 234.7L108.6 237.5L112.4 242.7L114.2 244L118.9 246.9L125.4 249.5ZM118.7 237.5L118.9 237.8L120.6 237.5L125.4 237.1L126.4 237.5L132 240.5L137.8 237.5L138.5 237L143.7 231L145 229.3L149.2 224.5L149.9 218L150.1 211.5L145 205.2L144.7 205L139 198.5L138.5 198L132 197.8L125.4 196.7L119.9 198.5L118.9 198.8L112.4 202.4L109.9 205L108.6 211.5L108.2 218L105.9 224.5L112.4 231L112.4 231ZM123.8 224.5L125.4 226.1L132 226.7L136 224.5L138.5 221.9L140.4 218L138.5 211.5L138.5 211.5L132 210.2L125.4 207L119.3 211.5L123.4 218Z"/>
</g>
<g clip-path="url(#c20)">
<path class="pt" transform="translate(63.65 292.8) scale(.5)" d="m1 173h0m0 8h0m1-16h0m0 4h0m1 35h0m1-27h0m1-103h0m0 53h0m0 52h0m1-16h0m0 22h0m0 44h0m1-76h0m0 62h0m2-128h0m0 48h0m0 38h0m1-18h0m0 17h0m0 15h0m1-73h0m0 75h0m1-43h0m0 18h0m0 13h0m0 10h0m0 20h0m1-85h0m0 15h0m0 11h0m0 32h0m0 22h0m1-146h0m0 99h0m0 10h0m0 1h0m0 22h0m1-41h0m0 26h0m0 12h0m0 9h0m0 24h0m0 0h0m1-84h0m0 42h0m0 13h0m0 9h0m0 10h0m0 13h0m1-128h0m0 47h0m0 60h0m1-83h0m0 12h0m0 37h0m0 25h0m1-81h0m0 12h0m0 11h0m0 6h0m0 4h0m0 29h0m0 31h0m0 9h0m0 28h0m1-183h0m0 163h0m1-119h0m0 60h0m1-35h0m0 82h0m0 1h0m1-89h0m0 7h0m0 13h0m0 6h0m0 23h0m0 4h0m0 11h0m0 48h0m1-68h0m0 13h0m1-41h0m0 43h0m0 10h0m0 21h0m0 7h0m1-69h0m0 0h0m0 15h0m0 1h0m1-73h0m0 27h0m0 22h0m0 22h0m0 8h0m0 2h0m0 4h0m0 2h0m0 10h0m0 4h0m0 8h0m1-84h0m0 25h0m0 1h0m0 8h0m0 3h0m0 11h0m0 8h0m0 10h0m0 6h0m0 4h0m0 30h0m1-140h0m0 6h0m0 31h0m0 51h0m0 7h0m0 27h0m0 8h0m0 41h0m1-147h0m0 23h0m0 51h0m0 46h0m1-126h0m0 12h0m0 9h0m0 5h0m0 12h0m0 18h0m0 10h0m0 13h0m0 7h0m0 13h0m0 6h0m0 26h0m0 18h0m1-148h0m0 36h0m0 21h0m0 9h0m0 4h0m0 21h0m0 3h0m0 1h0m0 2h0m0 5h0m0 1h0m0 7h0m0 1h0m1-111h0m0 28h0m0 4h0m0 2h0m0 1h0m0 16h0m0 17h0m0 4h0m0 59h0m1-134h0m0 28h0m0 1h0m0 16h0m0 16h0m0 5h0m0 5h0m0 43h0m0 1h0m0 14h0m1-140h0m0 50h0m0 20h0m0 1h0m0 2h0m0 4h0m0 2h0m0 0h0m0 2h0m0 9h0m0 12h0m0 14h0m1-80h0m0 16h0m0 8h0m0 9h0m0 18h0m0 12h0m0 31h0m0 10h0m0 16h0m1-162h0m0 8h0m0 11h0m0 7h0m0 20h0m0 47h0m0 3h0m0 4h0m0 0h0m0 10h0m0 34h0m1-133h0m0 58h0m0 14h0m0 8h0m1-79h0m0 19h0m0 7h0m0 1h0m0 12h0m0 24h0m0 10h0m0 9h0m0 8h0m0 13h0m0 4h0m0 5h0m0 6h0m0 1h0m0 10h0m0 13h0m1-178h0m0 42h0m0 12h0m0 1h0m0 27h0m0 2h0m0 3h0m0 2h0m0 12h0m0 2h0m0 9h0m0 4h0m0 5h0m0 3h0m0 13h0m0 6h0m0 1h0m0 11h0m0 10h0m0 7h0m0 31h0m1-174h0m0 50h0m0 1h0m0 10h0m0 8h0m0 14h0m0 0h0m0 8h0m0 5h0m0 3h0m0 1h0m0 1h0m0 3h0m0 9h0m0 7h0m1-134h0m0 7h0m0 26h0m0 5h0m0 32h0m0 1h0m0 3h0m0 3h0m0 4h0m0 13h0m0 12h0m0 4h0m0 5h0m0 3h0m0 3h0m0 2h0m0 8h0m0 1h0m0 7h0m0 1h0m0 15h0m1-143h0m0 48h0m0 12h0m0 9h0m0 1h0m0 10h0m0 9h0m0 14h0m0 6h0m0 9h0m0 3h0m0 27h0m1-160h0m0 7h0m0 27h0m0 16h0m0 17h0m0 11h0m0 10h0m0 3h0m0 2h0m0 8h0m0 8h0m0 0h0m0 4h0m0 0h0m0 3h0m0 2h0m0 2h0m0 19h0m1-97h0m0 6h0m0 21h0m0 1h0m0 2h0m0 2h0m0 6h0m0 1h0m0 2h0m0 18h0m0 28h0m0 22h0m0 16h0m0 17h0m0 2h0m1-170h0m0 16h0m0 10h0m0 8h0m0 11h0m0 3h0m0 5h0m0 14h0m0 1h0m1-66h0m0 15h0m0 7h0m0 1h0m0 5h0m0 24h0m0 24h0m0 42h0m0 10h0m0 2h0m0 30h0m1-182h0m0 14h0m0 17h0m0 4h0m0 4h0m0 26h0m0 72h0m0 6h0m0 6h0m0 16h0m0 22h0m1-181h0m0 0h0m0 36h0m0 1h0m0 7h0m0 14h0m0 74h0m0 9h0m1-142h0m0 27h0m0 7h0m0 14h0m0 11h0m0 3h0m0 71h0m0 4h0m0 10h0m0 0h0m0 4h0m1-132h0m0 2h0m0 2h0m0 2h0m0 19h0m0 2h0m0 92h0m0 14h0m0 11h0m1-183h0m0 45h0m0 19h0m0 9h0m0 3h0m0 0h0m0 6h0m0 73h0m0 1h0m0 16h0m0 6h0m0 7h0m0 5h0m1-141h0m0 13h0m0 3h0m0 4h0m0 7h0m0 4h0m0 72h0m0 13h0m0 1h0m0 6h0m1-176h0m0 40h0m0 9h0m0 13h0m0 2h0m0 6h0m0 7h0m0 3h0m0 2h0m0 74h0m0 2h0m0 4h0m0 6h0m0 5h0m0 3h0m1-158h0m0 37h0m0 8h0m0 1h0m0 1h0m0 7h0m0 1h0m0 5h0m0 84h0m0 0h0m0 46h0m1-186h0m0 15h0m0 5h0m0 125h0m0 7h0m0 2h0m0 1h0m0 0h0m0 4h0m1-164h0m0 8h0m0 4h0m0 3h0m0 10h0m0 17h0m0 14h0m0 87h0m0 2h0m0 17h0m1-188h0m0 23h0m0 24h0m0 20h0m0 101h0m0 3h0m0 0h0m0 28h0m0 2h0m1-148h0m0 7h0m0 2h0m0 4h0m0 1h0m0 0h0m0 1h0m0 1h0m0 9h0m0 108h0m0 8h0m1-186h0m0 37h0m0 10h0m0 3h0m0 23h0m1-68h0m0 15h0m0 1h0m0 20h0m0 9h0m0 21h0m0 100h0m0 5h0m0 4h0m0 2h0m0 11h0m1-159h0m0 15h0m0 15h0m0 0h0m0 1h0m0 1h0m0 100h0m0 0h0m0 3h0m0 2h0m0 2h0m1-152h0m0 19h0m0 6h0m0 1h0m0 126h0m0 4h0m0 3h0m1-166h0m0 21h0m0 5h0m0 12h0m0 4h0m0 8h0m0 3h0m0 100h0m0 11h0m0 9h0m1-200h0m0 32h0m0 25h0m0 25h0m0 120h0m1-183h0m0 17h0m0 12h0m0 8h0m0 13h0m0 4h0m0 7h0m0 1h0m0 100h0m0 6h0m0 0h0m1-189h0m0 29h0m0 21h0m0 136h0m0 4h0m0 2h0m0 3h0m0 4h0m0 2h0m0 8h0m0 1h0m0 9h0m1-212h0m0 11h0m0 33h0m0 22h0m0 8h0m0 123h0m0 15h0m1-160h0m0 7h0m1-34h0m0 5h0m0 24h0m0 2h0m0 141h0m1-150h0m0 19h0m0 1h0m0 123h0m0 4h0m0 3h0m0 3h0m0 0h0m1-185h0m0 22h0m0 4h0m0 4h0m0 9h0m0 9h0m0 2h0m0 1h0m0 4h0m0 124h0m0 5h0m0 13h0m1-194h0m0 30h0m1-26h0m0 10h0m0 20h0m0 1h0m0 137h0m0 19h0m1-195h0m0 2h0m0 9h0m0 9h0m0 160h0m0 9h0m1-187h0m0 28h0m0 2h0m0 8h0m0 0h0m0 1h0m0 1h0m0 136h0m0 5h0m0 5h0m0 2h0m1-148h0m0 0h0m0 146h0m1-212h0m0 14h0m0 5h0m0 29h0m0 13h0m0 0h0m0 3h0m0 139h0m0 7h0m0 3h0m1-163h0m0 1h0m0 6h0m0 1h0m0 156h0m1-186h0m0 182h0m1-3h0m0 3h0m0 9h0m1-192h0m0 5h0m0 20h0m0 1h0m0 154h0m0 1h0m1-221h0m0 218h0m1-166h0m0 167h0m1-165h0m0 0h0m0 20h0m1-40h0m0 17h0m0 3h0m0 9h0m0 4h0m0 6h0m0 165h0m1-203h0m0 4h0m0 15h0m0 10h0m0 2h0m0 163h0m1-173h0m0 164h0m0 19h0m1-202h0m0 30h0m0 1h0m0 154h0m0 10h0m1-209h0m0 9h0m0 13h0m0 23h0m0 1h0m1-32h0m0 1h0m0 12h0m0 3h0m0 12h0m0 5h0m0 0h0m0 153h0m0 6h0m0 2h0m0 9h0m1-224h0m0 24h0m0 5h0m0 27h0m0 155h0m1-192h0m0 15h0m0 8h0m0 167h0m0 12h0m1-165h0m1-45h0m0 15h0m0 4h0m0 7h0m0 13h0m0 3h0m0 155h0m0 2h0m1-198h0m0 12h0m0 185h0m0 2h0m0 0h0m1-201h0m0 5h0m0 22h0m0 17h0m0 1h0m0 155h0m0 6h0m1-206h0m0 23h0m0 1h0m0 8h0m0 4h0m0 170h0m1-226h0m0 31h0m0 1h0m0 27h0m0 4h0m0 158h0m0 0h0m0 11h0m1-202h0m0 23h0m1-32h0m0 15h0m0 6h0m0 5h0m0 180h0m0 4h0m0 5h0m1-189h0m0 2h0m0 4h0m0 1h0m0 2h0m0 4h0m1-16h0m0 2h0m0 6h0m0 168h0m0 3h0m1-178h0m0 1h0m0 10h0m1-13h0m0 2h0m0 4h0m0 8h0m0 0h0m0 163h0m0 15h0m1-215h0m0 12h0m0 0h0m0 21h0m0 164h0m0 13h0m1-187h0m0 2h0m0 6h0m1 0h0m0 169h0m0 3h0m0 3h0m0 4h0m1-209h0m0 4h0m0 16h0m0 179h0m0 0h0m1-203h0m0 15h0m0 1h0m0 4h0m0 5h0m0 179h0m0 6h0m0 3h0m0 2h0m1-239h0m0 52h0m0 2h0m0 4h0m0 170h0m1-186h0m0 6h0m0 6h0m0 2h0m0 170h0m0 7h0m0 1h0m1-176h0m0 168h0m0 6h0m1-202h0m0 3h0m0 13h0m0 184h0m0 8h0m0 6h0m1-192h0m0 0h0m0 2h0m0 1h0m0 170h0m0 4h0m0 2h0m0 5h0m1-223h0m0 28h0m0 1h0m0 12h0m0 2h0m0 3h0m0 0h0m1-11h0m0 9h0m0 5h0m0 171h0m0 10h0m1-197h0m0 186h0m1-179h0m0 181h0m1-235h0m0 38h0m0 8h0m0 0h0m0 3h0m0 15h0m0 170h0m0 10h0m1-191h0m0 9h0m0 2h0m0 164h0m0 3h0m1-205h0m0 17h0m0 18h0m1-38h0m0 14h0m0 1h0m0 1h0m0 6h0m0 19h0m0 167h0m1-213h0m0 25h0m0 10h0m0 6h0m0 4h0m0 166h0m0 5h0m1-204h0m0 18h0m0 1h0m0 10h0m0 5h0m0 1h0m0 165h0m1-208h0m0 18h0m0 188h0m0 7h0m1-214h0m0 38h0m0 169h0m0 0h0m0 14h0m0 2h0m1-206h0m0 13h0m0 1h0m0 3h0m0 6h0m0 170h0m1-222h0m0 49h0m0 3h0m0 2h0m0 166h0m1-186h0m0 18h0m0 168h0m0 2h0m1-212h0m0 9h0m0 17h0m0 2h0m0 13h0m0 170h0m0 7h0m1-200h0m0 1h0m0 9h0m0 184h0m0 1h0m0 1h0m0 2h0m1-236h0m0 43h0m0 4h0m0 9h0m0 7h0m0 167h0m0 2h0m0 10h0m1-240h0m0 42h0m0 2h0m0 2h0m0 4h0m0 1h0m0 0h0m0 3h0m0 0h0m0 172h0m1 10h0m0 6h0m1-215h0m0 1h0m0 16h0m0 11h0m0 3h0m0 169h0m0 13h0m1-198h0m0 186h0m0 2h0m0 11h0m0 2h0m0 1h0m1-229h0m0 20h0m0 7h0m0 6h0m0 12h0m0 176h0m1-202h0m0 204h0m1-235h0m0 1h0m0 21h0m0 1h0m0 20h0m0 179h0m0 4h0m0 13h0m1-211h0m0 16h0m0 10h0m0 176h0m0 3h0m0 4h0m1-196h0m0 10h0m0 6h0m0 165h0m0 2h0m0 3h0m0 2h0m1-196h0m0 10h0m0 6h0m0 1h0m0 7h0m0 0h0m0 166h0m0 9h0m1-198h0m0 6h0m0 9h0m1-25h0m0 25h0m0 180h0m0 9h0m0 2h0m1-221h0m0 35h0m0 178h0m1-174h0m0 164h0m1-199h0m1-15h0m0 219h0m1-198h0m0 20h0m0 171h0m0 1h0m0 4h0m0 2h0m1-220h0m0 19h0m0 29h0m0 1h0m1-23h0m0 23h0m1-22h0m0 11h0m0 11h0m0 163h0m0 2h0m0 1h0m0 1h0m0 12h0m1-226h0m0 41h0m0 176h0m0 2h0m0 2h0m0 5h0m0 4h0m0 2h0m1-255h0m0 34h0m0 26h0m0 10h0m0 1h0m0 1h0m0 167h0m0 14h0m1-229h0m0 41h0m0 173h0m1-181h0m0 12h0m0 161h0m1-190h0m0 13h0m0 7h0m0 12h0m1-32h0m0 5h0m0 19h0m0 8h0m0 157h0m0 12h0m0 8h0m1-202h0m0 11h0m0 175h0m0 5h0m0 13h0m1-221h0m0 16h0m0 21h0m0 3h0m1-22h0m0 7h0m0 10h0m0 164h0m1-210h0m0 23h0m0 200h0m1-205h0m0 24h0m0 1h0m0 3h0m0 0h0m0 1h0m0 163h0m0 13h0m1-184h0m0 1h0m0 2h0m0 180h0m1-236h0m0 56h0m0 7h0m0 6h0m0 155h0m0 1h0m0 11h0m0 1h0m0 11h0m1-190h0m0 7h0m0 3h0m0 152h0m0 0h0m0 3h0m0 0h0m0 12h0m1-191h0m0 21h0m0 4h0m0 151h0m0 14h0m0 5h0m0 8h0m1-199h0m0 12h0m0 6h0m0 4h0m0 149h0m0 0h0m0 9h0m0 9h0m0 5h0m1-207h0m0 12h0m0 18h0m0 156h0m0 1h0m0 1h0m0 1h0m0 10h0m0 0h0m1-169h0m0 181h0m1-203h0m0 14h0m0 6h0m0 5h0m0 3h0m0 148h0m0 0h0m0 1h0m0 7h0m0 18h0m1-226h0m0 40h0m0 11h0m0 4h0m0 0h0m0 146h0m0 14h0m0 1h0m0 2h0m1-173h0m0 9h0m0 148h0m0 1h0m0 5h0m0 10h0m1-231h0m0 29h0m0 3h0m0 25h0m0 2h0m0 8h0m0 143h0m0 2h0m0 5h0m0 1h0m0 4h0m1-188h0m0 4h0m0 12h0m0 4h0m0 156h0m0 34h0m1-206h0m0 24h0m0 1h0m0 3h0m0 0h0m0 2h0m0 148h0m1-192h0m0 2h0m0 43h0m0 151h0m0 7h0m0 6h0m1-215h0m0 10h0m0 4h0m0 195h0m1-189h0m0 177h0m0 20h0m0 6h0m0 1h0m1-214h0m0 31h0m0 0h0m0 3h0m0 156h0m0 20h0m1-206h0m0 6h0m0 18h0m0 154h0m0 3h0m0 12h0m1-218h0m0 65h0m1-69h0m0 27h0m0 32h0m0 10h0m0 138h0m0 3h0m0 3h0m0 0h0m0 1h0m0 9h0m1-190h0m0 29h0m0 145h0m0 5h0m0 13h0m0 6h0m1-196h0m0 31h0m0 149h0m1-208h0m0 24h0m0 8h0m0 10h0m0 7h0m0 3h0m0 8h0m0 138h0m0 11h0m0 9h0m0 7h0m0 1h0m0 2h0m0 5h0m1-231h0m0 48h0m1-11h0m0 18h0m0 9h0m0 134h0m0 6h0m0 7h0m1-185h0m0 34h0m0 5h0m0 143h0m0 11h0m1-177h0m0 23h0m0 3h0m0 129h0m0 1h0m1-168h0m0 10h0m0 15h0m0 8h0m0 4h0m0 130h0m0 5h0m0 9h0m0 3h0m1-178h0m0 3h0m0 9h0m0 1h0m0 147h0m0 1h0m0 18h0m0 3h0m1-202h0m0 9h0m0 5h0m0 35h0m0 2h0m0 0h0m0 5h0m1-49h0m0 14h0m0 27h0m0 127h0m0 1h0m0 1h0m0 17h0m0 2h0m0 3h0m1-180h0m0 9h0m0 7h0m1-31h0m0 9h0m0 25h0m0 0h0m0 8h0m0 2h0m0 1h0m0 3h0m0 120h0m0 3h0m0 10h0m1-156h0m0 9h0m0 12h0m0 121h0m0 2h0m0 4h0m0 15h0m0 24h0m1-193h0m0 22h0m0 14h0m0 112h0m0 3h0m0 3h0m1-172h0m0 0h0m0 19h0m0 2h0m0 14h0m0 1h0m0 16h0m0 2h0m0 9h0m0 112h0m0 0h0m1-177h0m0 22h0m0 16h0m0 28h0m0 1h0m0 1h0m0 141h0m1-149h0m1-22h0m0 2h0m0 4h0m0 2h0m0 10h0m0 4h0m0 2h0m0 2h0m0 4h0m0 2h0m0 2h0m0 89h0m0 0h0m0 6h0m0 2h0m0 4h0m0 1h0m0 11h0m1-147h0m0 7h0m0 0h0m0 2h0m0 9h0m0 6h0m0 5h0m0 6h0m0 0h0m0 112h0m1-160h0m0 8h0m0 27h0m0 6h0m0 5h0m0 4h0m0 87h0m0 2h0m0 18h0m0 11h0m1-160h0m0 0h0m0 6h0m0 14h0m0 18h0m0 100h0m0 15h0m0 15h0m1-209h0m0 1h0m0 72h0m0 2h0m0 10h0m0 106h0m1-135h0m0 10h0m0 3h0m0 15h0m0 8h0m0 71h0m0 23h0m0 14h0m1-193h0m0 32h0m0 4h0m0 6h0m0 12h0m0 3h0m0 15h0m0 77h0m0 3h0m0 10h0m0 0h0m0 11h0m0 23h0m1-165h0m0 0h0m0 28h0m0 8h0m0 1h0m0 8h0m0 8h0m0 69h0m0 0h0m0 1h0m0 20h0m0 6h0m1-115h0m0 4h0m0 3h0m0 7h0m0 72h0m0 1h0m0 1h0m0 7h0m0 13h0m1-137h0m0 11h0m0 17h0m0 9h0m0 1h0m0 73h0m0 12h0m0 8h0m0 3h0m0 9h0m0 4h0m0 27h0m1-166h0m0 12h0m0 17h0m0 67h0m0 11h0m0 2h0m0 5h0m0 10h0m0 5h0m1-90h0m0 8h0m0 6h0m0 37h0m0 11h0m0 3h0m0 39h0m1-169h0m0 29h0m0 11h0m0 37h0m0 2h0m0 22h0m0 6h0m0 1h0m0 16h0m0 0h0m0 4h0m0 1h0m0 2h0m0 16h0m0 5h0m0 15h0m1-132h0m0 2h0m0 5h0m0 1h0m0 13h0m0 5h0m0 3h0m0 8h0m0 10h0m0 2h0m0 1h0m0 22h0m0 7h0m0 15h0m0 11h0m0 3h0m0 5h0m1-96h0m0 0h0m0 3h0m0 25h0m0 2h0m0 0h0m0 2h0m0 11h0m0 6h0m0 1h0m0 3h0m0 12h0m0 15h0m0 8h0m0 8h0m0 9h0m0 3h0m0 6h0m0 2h0m1-138h0m0 33h0m0 3h0m0 2h0m0 7h0m0 6h0m0 1h0m0 4h0m0 10h0m0 3h0m0 2h0m0 2h0m0 10h0m0 19h0m0 4h0m0 9h0m0 2h0m0 4h0m0 0h0m1-122h0m0 6h0m0 11h0m0 16h0m0 1h0m0 19h0m0 0h0m0 8h0m0 5h0m0 7h0m0 4h0m0 5h0m0 4h0m0 6h0m0 2h0m0 1h0m0 0h0m0 1h0m0 6h0m0 8h0m0 8h0m0 3h0m0 5h0m0 12h0m1-172h0m0 9h0m0 49h0m0 5h0m0 3h0m0 3h0m0 13h0m0 0h0m0 1h0m0 13h0m0 1h0m0 10h0m0 2h0m0 3h0m0 2h0m0 3h0m0 1h0m0 8h0m0 0h0m0 4h0m0 3h0m0 3h0m0 2h0m0 0h0m0 20h0m0 1h0m0 15h0m1-137h0m0 41h0m0 15h0m0 18h0m0 27h0m0 9h0m1-127h0m0 51h0m0 1h0m0 2h0m0 7h0m0 1h0m0 14h0m0 2h0m0 2h0m0 10h0m0 6h0m0 20h0m0 20h0m0 12h0m0 5h0m0 7h0m0 3h0m1-129h0m0 19h0m0 6h0m0 38h0m0 0h0m1-133h0m0 41h0m0 46h0m0 25h0m0 4h0m0 4h0m0 12h0m0 50h0m1-145h0m0 45h0m0 4h0m0 24h0m0 15h0m0 10h0m0 4h0m0 5h0m0 2h0m0 39h0m0 6h0m1-163h0m0 61h0m0 3h0m0 18h0m0 6h0m0 11h0m0 20h0m0 8h0m0 36h0m1-143h0m0 26h0m0 12h0m0 4h0m0 0h0m0 9h0m0 5h0m0 2h0m0 5h0m0 12h0m0 4h0m0 0h0m0 1h0m0 7h0m0 0h0m0 13h0m0 20h0m0 23h0m1-129h0m0 29h0m0 1h0m0 18h0m0 21h0m0 7h0m0 14h0m0 40h0m1-139h0m0 30h0m0 46h0m0 8h0m0 10h0m0 9h0m0 9h0m0 1h0m1-164h0m0 68h0m0 17h0m0 1h0m0 5h0m0 18h0m0 4h0m0 0h0m0 7h0m0 7h0m0 5h0m0 17h0m0 12h0m0 4h0m0 7h0m0 29h0m1-147h0m0 12h0m0 9h0m0 30h0m0 1h0m0 8h0m0 1h0m0 1h0m0 5h0m0 1h0m0 5h0m0 36h0m0 22h0m1-107h0m0 6h0m0 8h0m0 59h0m1-126h0m0 12h0m0 28h0m0 19h0m0 0h0m0 8h0m0 8h0m0 20h0m0 9h0m0 25h0m1-140h0m0 3h0m0 70h0m0 16h0m0 14h0m0 16h0m0 15h0m0 44h0m1-132h0m0 4h0m0 23h0m0 16h0m0 50h0m0 21h0m1-132h0m0 23h0m0 1h0m0 2h0m0 34h0m0 4h0m0 10h0m0 9h0m0 47h0m1-124h0m0 28h0m0 12h0m0 21h0m0 9h0m1 55h0m1-165h0m0 59h0m0 36h0m0 39h0m0 6h0m0 14h0m1-152h0m0 56h0m0 13h0m0 10h0m0 27h0m0 7h0m0 40h0m1-89h0m0 14h0m0 23h0m0 9h0m0 19h0m1-7h0m0 8h0m0 6h0m1-131h0m0 14h0m0 56h0m0 7h0m0 37h0m0 3h0m0 2h0m0 4h0m0 10h0m0 8h0m0 12h0m1-99h0m0 75h0m0 13h0m1-43h0m0 1h0m0 9h0m0 1h0m0 3h0m0 16h0m0 3h0m0 32h0m1-134h0m0 92h0m0 27h0m1-104h0m0 37h0m0 9h0m0 11h0m1-30h0m0 62h0m1-14h0m1-16h0m0 18h0m1-12h0m1-18h0m0 54h0m1-92h0m0 48h0m0 9h0m0 7h0m0 27h0m1-118h0m0 52h0m1-23h0m0 7h0m0 16h0m0 2h0m0 69h0m1-44h0m1-57h0m1 62h0m0 88h0m1-127h0m0 56h0m1-48h0m0 19h0"/>
<path fill="#fff" fill-rule="evenodd" d="M111.3 413.1L112.4 413.8L115.7 413.1L118.9 412.6L121.1 413.1L125.4 414.4L132 413.5L132.8 413.1L138.5 412.1L145 408.9L149.3 406.6L151.5 405.6L158 404.2L161.6 400.1L164.5 395.1L166.9 393.6L169 387.1L170.8 380.6L171 374.1L171 374.1L172 367.6L171 366.1L168.9 361.1L165.2 354.6L164.5 352.7L163 348.1L159.7 341.6L158 339.8L151.5 335.9L149.4 335.1L145 332.2L138.5 331.5L132 331L125.4 333.4L118.9 330.3L114.4 335.1L112.4 336.9L105.9 339L100.6 341.6L99.6 348.1L99.4 348.4L93.9 354.6L92.9 355.7L88.8 361.1L87 367.6L87.8 374.1L86.4 379.7L85.9 380.6L86.2 387.1L86.2 393.6L86.4 394L92.9 396.2L96.6 400.1L99.4 405.8L100 406.6L105.9 410.5L111.3 413.1Z"/>
<g transform="translate(63.65 292.8) scale(6.5050)" shape-rendering="crispEdges">
<path fill="#fafafa" d="M3 15h1v1h-1zM3 14h1v1h-1zM3 13h1v1h-1zM3 11h1v1h-1zM4 15h1v1h-1zM4 9h1v1h-1zM5 17h1v1h-1zM5 16h1v1h-1zM5 8h1v1h-1zM5 7h1v1h-1zM6 7h1v1h-1zM7 18h1v1h-1zM7 17h1v1h-1zM8 18h1v1h-1zM9 18h1v1h-1zM9 6h1v1h-1zM10 18h1v1h-1zM12 17h1v1h-1zM12 6h1v1h-1zM13 6h1v1h-1zM14 16h1v1h-1zM14 7h1v1h-1zM15 15h1v1h-1zM15 9h1v1h-1zM15 8h1v1h-1zM16 15h1v1h-1zM16 13h1v1h-1zM16 12h1v1h-1zM16 11h1v1h-1z"/>
<path fill="#f5f5f5" d="M4 14h1v1h-1zM4 13h1v1h-1zM4 12h1v1h-1zM4 11h1v1h-1zM4 10h1v1h-1zM5 9h1v1h-1zM6 17h1v1h-1zM7 7h1v1h-1zM8 6h1v1h-1zM10 6h1v1h-1zM11 6h1v1h-1zM12 7h1v1h-1zM14 15h1v1h-1zM14 8h1v1h-1zM15 14h1v1h-1zM15 12h1v1h-1zM15 10h1v1h-1z"/>
<path fill="#f0f0f0" d="M5 15h1v1h-1zM6 8h1v1h-1zM8 17h1v1h-1zM10 17h1v1h-1zM11 17h1v1h-1zM13 16h1v1h-1zM13 7h1v1h-1zM15 13h1v1h-1zM15 11h1v1h-1z"/>
<path fill="#ebebeb" d="M5 10h1v1h-1zM6 9h1v1h-1zM7 8h1v1h-1zM8 7h1v1h-1zM9 7h1v1h-1zM10 7h1v1h-1zM11 7h1v1h-1zM13 9h1v1h-1zM13 8h1v1h-1zM14 11h1v1h-1zM14 10h1v1h-1zM14 9h1v1h-1z"/>
<path fill="#e6e6e6" d="M5 11h1v1h-1zM6 16h1v1h-1zM9 17h1v1h-1zM9 8h1v1h-1zM12 16h1v1h-1zM14 14h1v1h-1z"/>
<path fill="#e1e1e1" d="M5 14h1v1h-1zM5 12h1v1h-1zM6 15h1v1h-1zM6 10h1v1h-1zM7 16h1v1h-1zM12 8h1v1h-1zM14 13h1v1h-1zM14 12h1v1h-1z"/>
<path fill="#dcdcdc" d="M5 13h1v1h-1zM13 15h1v1h-1z"/>
<path fill="#d7d7d7" d="M7 9h1v1h-1zM8 8h1v1h-1zM11 16h1v1h-1zM11 8h1v1h-1zM12 9h1v1h-1z"/>
<path fill="#d2d2d2" d="M7 15h1v1h-1zM10 16h1v1h-1zM13 10h1v1h-1z"/>
<path fill="#cdcdcd" d="M6 14h1v1h-1zM8 16h1v1h-1zM13 13h1v1h-1z"/>
<path fill="#c8c8c8" d="M6 12h1v1h-1zM9 9h1v1h-1zM12 15h1v1h-1zM12 10h1v1h-1zM13 11h1v1h-1z"/>
<path fill="#c3c3c3" d="M10 8h1v1h-1z"/>
<path fill="#bebebe" d="M6 13h1v1h-1zM8 9h1v1h-1zM9 16h1v1h-1zM10 9h1v1h-1zM11 9h1v1h-1zM13 14h1v1h-1zM13 12h1v1h-1z"/>
<path fill="#b9b9b9" d="M6 11h1v1h-1z"/>
<path fill="#b4b4b4" d="M7 10h1v1h-1z"/>
<path fill="#aaaaaa" d="M7 14h1v1h-1zM7 11h1v1h-1zM8 15h1v1h-1z"/>
<path fill="#a5a5a5" d="M12 12h1v1h-1z"/>
<path fill="#a0a0a0" d="M9 15h1v1h-1zM10 15h1v1h-1zM11 10h1v1h-1zM12 14h1v1h-1z"/>
<path fill="#9b9b9b" d="M10 10h1v1h-1zM11 15h1v1h-1z"/>
<path fill="#969696" d="M7 13h1v1h-1zM12 11h1v1h-1z"/>
<path fill="#919191" d="M8 10h1v1h-1zM12 13h1v1h-1z"/>
<path fill="#8c8c8c" d="M7 12h1v1h-1z"/>
<path fill="#878787" d="M8 11h1v1h-1z"/>
<path fill="#7d7d7d" d="M9 10h1v1h-1zM11 12h1v1h-1z"/>
<path fill="#737373" d="M8 14h1v1h-1zM11 11h1v1h-1z"/>
<path fill="#696969" d="M10 14h1v1h-1z"/>
<path fill="#5a5a5a" d="M8 13h1v1h-1zM10 11h1v1h-1zM11 13h1v1h-1z"/>
<path fill="#555555" d="M11 14h1v1h-1z"/>
<path fill="#505050" d="M9 11h1v1h-1z"/>
<path fill="#464646" d="M9 13h1v1h-1z"/>
<path fill="#373737" d="M8 12h1v1h-1z"/>
<path fill="#323232" d="M9 12h1v1h-1z"/>
<path fill="#232323" d="M10 13h1v1h-1z"/>
<path fill="#0a0a0a" d="M10 12h1v1h-1z"/>
<path fill="#000000" d="M9 14h1v1h-1z"/>
</g>
<path class="ct" d="M111.3 413.1L112.4 413.8L115.7 413.1L118.9 412.6L121.1 413.1L125.4 414.4L132 413.5L132.8 413.1L138.5 412.1L145 408.9L149.3 406.6L151.5 405.6L158 404.2L161.6 400.1L164.5 395.1L166.9 393.6L169 387.1L170.8 380.6L171 374.1L171 374.1L172 367.6L171 366.1L168.9 361.1L165.2 354.6L164.5 352.7L163 348.1L159.7 341.6L158 339.8L151.5 335.9L149.4 335.1L145 332.2L138.5 331.5L132 331L125.4 333.4L118.9 330.3L114.4 335.1L112.4 336.9L105.9 339L100.6 341.6L99.6 348.1L99.4 348.4L93.9 354.6L92.9 355.7L88.8 361.1L87 367.6L87.8 374.1L86.4 379.7L85.9 380.6L86.2 387.1L86.2 393.6L86.4 394L92.9 396.2L96.6 400.1L99.4 405.8L100 406.6L105.9 410.5ZM124.9 406.6L125.4 406.9L126.1 406.6L132 404.6L138.5 404.1L145 400.8L146.3 400.1L151.5 397.4L154.6 393.6L158 387.9L158.8 387.1L160.9 380.6L160.1 374.1L158 368.8L157.5 367.6L157.7 361.1L151.5 355.3L150.6 354.6L148.9 348.1L145 346.2L138.5 343.4L132 341.9L125.4 345.1L118.9 343L112.6 348.1L112.4 348.3L106.8 354.6L105.9 356.5L100.4 361.1L99.4 364.4L99.1 367.6L97.5 374.1L96.6 380.6L97.4 387.1L99.4 390.3L103.1 393.6L105.9 400.1L105.9 400.1L112.4 401.5L118.9 404.7ZM118.7 393.6L118.9 393.9L125.4 396.3L132 395.2L138.5 395L140.5 393.6L145 388.8L147.2 387.1L147.7 380.6L146.6 374.1L147.5 367.6L145 365.2L140.4 361.1L138.5 358.7L132 357.9L125.4 357.2L118.9 357.3L114.3 361.1L112.4 366L111.2 367.6L109.5 374.1L108.8 380.6L112.4 387.1L112.4 387.1ZM121.2 387.1L125.4 389.9L130.2 387.1L132 384.5L137.1 380.6L135.5 374.1L132 368.5L125.4 367.6L118.9 372.4L117.4 374.1L118.9 378.5L122.9 380.6Z"/>
</g>
<g clip-path="url(#c21)">
<path class="pt" transform="translate(200.25 292.8) scale(.5)" d="m0 201h0m1-41h0m0 55h0m1-46h0m1 20h0m0 12h0m0 14h0m1-90h0m0 43h0m0 15h0m1-49h0m2 84h0m1-49h0m1 40h0m1-29h0m0 3h0m0 5h0m0 22h0m2-73h0m0 27h0m1 40h0m0 26h0m1-100h0m0 11h0m1-54h0m0 5h0m0 33h0m0 14h0m0 76h0m1-93h0m0 49h0m0 30h0m0 15h0m1-55h0m0 22h0m0 1h0m0 44h0m1-105h0m0 4h0m0 6h0m0 24h0m0 16h0m0 3h0m0 12h0m0 15h0m0 10h0m1-151h0m0 164h0m1-110h0m0 51h0m0 1h0m1-35h0m0 109h0m1-73h0m0 35h0m1-58h0m0 6h0m1-48h0m0 41h0m0 11h0m0 37h0m1-46h0m1-73h0m0 88h0m0 10h0m0 15h0m0 2h0m0 5h0m0 1h0m1-181h0m0 143h0m0 8h0m0 10h0m0 30h0m0 3h0m0 9h0m0 4h0m0 5h0m0 30h0m1-140h0m0 11h0m1 11h0m0 13h0m0 7h0m0 6h0m0 26h0m0 1h0m0 25h0m1-85h0m0 26h0m0 27h0m0 3h0m0 3h0m0 1h0m0 18h0m0 27h0m1-165h0m0 18h0m0 44h0m0 2h0m0 27h0m0 11h0m0 7h0m0 4h0m0 3h0m1-38h0m0 13h0m0 1h0m0 14h0m0 11h0m0 23h0m0 27h0m1-106h0m0 1h0m0 25h0m0 10h0m0 1h0m0 15h0m0 2h0m0 7h0m0 4h0m0 31h0m0 4h0m0 2h0m1-129h0m0 22h0m0 15h0m0 6h0m0 1h0m0 16h0m0 75h0m1-200h0m0 64h0m0 16h0m0 1h0m0 27h0m0 12h0m0 4h0m0 0h0m0 6h0m0 1h0m0 2h0m0 32h0m0 2h0m0 36h0m1-119h0m0 23h0m0 8h0m0 16h0m0 37h0m0 13h0m1-111h0m0 56h0m0 6h0m0 2h0m0 18h0m1-89h0m0 12h0m0 2h0m0 18h0m0 1h0m0 25h0m0 5h0m0 36h0m0 21h0m0 6h0m1-185h0m0 96h0m0 0h0m0 33h0m0 13h0m0 2h0m0 42h0m1-192h0m0 79h0m0 9h0m0 4h0m0 16h0m0 35h0m0 5h0m0 24h0m0 4h0m0 5h0m0 0h0m0 30h0m1-168h0m0 16h0m0 29h0m0 0h0m0 10h0m0 2h0m0 1h0m0 24h0m0 0h0m0 4h0m0 24h0m0 0h0m0 2h0m0 5h0m0 14h0m0 4h0m0 10h0m0 4h0m0 9h0m1-131h0m0 10h0m0 26h0m0 3h0m0 1h0m0 7h0m0 3h0m0 12h0m0 4h0m0 1h0m0 1h0m0 5h0m0 23h0m0 0h0m0 0h0m0 14h0m1-150h0m0 17h0m0 3h0m0 2h0m0 9h0m0 20h0m0 3h0m0 7h0m0 9h0m0 7h0m0 7h0m0 1h0m0 38h0m0 7h0m0 13h0m0 43h0m1-150h0m0 76h0m0 33h0m0 4h0m0 39h0m1-167h0m0 38h0m0 12h0m0 1h0m0 1h0m0 7h0m0 37h0m0 1h0m0 9h0m0 3h0m0 0h0m0 5h0m0 23h0m0 18h0m1-169h0m0 12h0m0 49h0m0 9h0m0 4h0m0 5h0m0 0h0m0 16h0m0 15h0m0 2h0m0 13h0m0 52h0m0 2h0m1-163h0m0 0h0m0 9h0m0 12h0m0 21h0m0 3h0m0 1h0m0 23h0m0 4h0m0 4h0m0 24h0m0 3h0m0 18h0m1-101h0m0 5h0m0 0h0m0 8h0m0 19h0m0 9h0m0 4h0m0 2h0m0 0h0m0 5h0m0 13h0m0 3h0m0 0h0m1-66h0m0 27h0m0 10h0m0 14h0m0 3h0m0 1h0m0 1h0m0 8h0m0 1h0m0 1h0m0 1h0m0 14h0m0 2h0m0 14h0m1-115h0m0 16h0m0 18h0m0 4h0m0 5h0m0 10h0m0 7h0m0 2h0m0 6h0m0 7h0m0 1h0m0 11h0m0 7h0m0 16h0m0 25h0m1-133h0m0 1h0m0 5h0m0 28h0m0 0h0m0 7h0m0 30h0m0 4h0m0 20h0m0 2h0m0 21h0m1-86h0m0 2h0m0 0h0m0 2h0m0 4h0m0 0h0m0 1h0m0 2h0m0 51h0m1-87h0m0 8h0m0 4h0m0 12h0m0 4h0m0 4h0m0 0h0m0 55h0m0 5h0m0 2h0m0 6h0m0 0h0m0 2h0m0 2h0m0 6h0m0 4h0m0 2h0m0 9h0m1-142h0m0 15h0m0 7h0m0 6h0m0 2h0m0 11h0m0 66h0m0 0h0m0 3h0m0 7h0m0 1h0m0 2h0m0 13h0m0 3h0m0 10h0m0 0h0m1-128h0m0 5h0m0 3h0m0 85h0m0 9h0m0 2h0m0 2h0m0 0h0m0 8h0m0 10h0m0 20h0m1-148h0m0 3h0m0 28h0m0 86h0m0 2h0m0 24h0m1-158h0m0 10h0m0 4h0m0 20h0m0 5h0m0 5h0m0 96h0m0 8h0m1-133h0m0 5h0m0 3h0m0 7h0m0 2h0m0 4h0m0 99h0m0 3h0m0 15h0m0 2h0m1-142h0m0 11h0m0 8h0m0 4h0m0 2h0m0 0h0m0 3h0m0 87h0m0 4h0m0 1h0m0 3h0m0 13h0m0 0h0m1-190h0m0 36h0m0 40h0m0 102h0m1-160h0m0 11h0m0 29h0m0 14h0m0 2h0m0 5h0m0 88h0m0 24h0m0 2h0m1-173h0m0 21h0m0 35h0m0 90h0m0 2h0m0 4h0m0 19h0m0 8h0m0 1h0m1-206h0m0 42h0m0 14h0m0 6h0m0 5h0m0 1h0m0 5h0m0 8h0m0 94h0m0 16h0m0 23h0m1-210h0m0 41h0m0 2h0m0 13h0m0 7h0m0 14h0m0 126h0m0 8h0m1-148h0m1-25h0m0 25h0m0 0h0m0 9h0m0 4h0m0 0h0m1-56h0m0 25h0m0 2h0m0 20h0m0 3h0m0 1h0m0 3h0m0 102h0m0 6h0m0 3h0m0 3h0m0 17h0m0 8h0m1-247h0m0 82h0m0 26h0m0 104h0m0 6h0m1-154h0m0 12h0m0 12h0m0 17h0m0 105h0m0 2h0m0 8h0m0 29h0m1-191h0m0 23h0m0 13h0m0 9h0m0 109h0m0 1h0m0 12h0m0 4h0m0 7h0m1-155h0m0 17h0m0 117h0m0 3h0m0 0h0m0 1h0m0 20h0m1-205h0m0 24h0m0 161h0m0 1h0m0 17h0m0 8h0m0 3h0m1-145h0m0 0h0m0 117h0m0 10h0m0 4h0m0 2h0m1-212h0m0 7h0m0 41h0m0 12h0m0 16h0m0 123h0m0 0h0m0 2h0m0 2h0m1-167h0m0 26h0m0 2h0m0 3h0m0 129h0m1-176h0m0 25h0m0 19h0m0 9h0m0 1h0m0 0h0m0 124h0m0 15h0m1-193h0m0 29h0m0 3h0m0 10h0m0 10h0m0 127h0m1-153h0m0 23h0m0 1h0m0 1h0m0 126h0m0 4h0m0 0h0m0 5h0m1-211h0m0 38h0m0 3h0m0 9h0m0 4h0m0 15h0m0 7h0m0 1h0m0 0h0m0 135h0m0 2h0m0 10h0m0 5h0m1-179h0m0 1h0m0 4h0m0 13h0m0 9h0m0 127h0m0 1h0m1-177h0m0 22h0m0 3h0m0 2h0m0 8h0m0 139h0m0 28h0m1-209h0m0 37h0m0 12h0m0 1h0m0 130h0m0 10h0m1-178h0m0 6h0m0 2h0m0 1h0m0 5h0m0 9h0m0 12h0m0 134h0m1-172h0m0 28h0m0 7h0m0 0h0m0 1h0m0 2h0m0 135h0m0 0h0m0 1h0m0 10h0m0 0h0m1-201h0m0 39h0m0 15h0m1-43h0m0 40h0m0 0h0m0 142h0m0 0h0m0 11h0m1-166h0m0 3h0m0 1h0m0 1h0m0 10h0m0 2h0m0 141h0m1-150h0m1-40h0m0 22h0m0 10h0m0 16h0m0 138h0m0 12h0m1-168h0m0 166h0m0 0h0m1-163h0m0 8h0m0 3h0m0 2h0m0 140h0m0 25h0m1-178h0m0 9h0m0 2h0m0 153h0m0 13h0m1-214h0m0 4h0m0 32h0m0 4h0m0 9h0m0 142h0m0 5h0m0 6h0m0 2h0m1-160h0m0 150h0m0 0h0m0 8h0m0 5h0m1-181h0m0 1h0m0 13h0m0 0h0m0 4h0m0 4h0m0 148h0m0 2h0m0 0h0m0 1h0m0 6h0m1-216h0m0 37h0m0 21h0m0 156h0m0 2h0m1-178h0m0 14h0m1-26h0m0 17h0m0 175h0m1-236h0m0 28h0m0 31h0m0 5h0m1-21h0m0 180h0m0 4h0m0 1h0m1-215h0m0 36h0m0 2h0m0 10h0m0 2h0m0 178h0m1-232h0m0 33h0m0 2h0m0 13h0m0 5h0m0 9h0m0 154h0m1-200h0m0 37h0m1-54h0m0 39h0m0 12h0m0 7h0m0 5h0m0 156h0m0 8h0m1-196h0m0 21h0m0 11h0m0 169h0m1-204h0m0 7h0m0 10h0m0 14h0m0 162h0m0 2h0m1-178h0m0 0h0m0 2h0m0 0h0m0 2h0m0 3h0m0 6h0m0 4h0m0 154h0m0 1h0m0 4h0m0 3h0m1-176h0m0 5h0m0 168h0m1-196h0m0 27h0m0 6h0m0 1h0m0 166h0m0 1h0m0 3h0m0 1h0m1-185h0m0 13h0m0 160h0m0 0h0m0 13h0m1-214h0m0 12h0m0 10h0m1 12h0m1 168h0m1-181h0m0 16h0m0 177h0m1-209h0m0 6h0m0 14h0m0 176h0m0 18h0m1-214h0m0 17h0m0 5h0m0 3h0m0 176h0m1-201h0m0 5h0m0 193h0m0 11h0m1-199h0m0 10h0m0 4h0m0 1h0m0 173h0m0 13h0m1-195h0m0 5h0m0 3h0m0 172h0m0 3h0m0 2h0m1-206h0m0 204h0m0 5h0m1-182h0m0 179h0m0 11h0m1-231h0m0 17h0m0 13h0m0 2h0m0 7h0m0 1h0m0 6h0m0 185h0m1-238h0m0 35h0m0 6h0m0 11h0m0 171h0m0 10h0m1-203h0m0 16h0m0 5h0m0 182h0m1-204h0m0 8h0m0 3h0m0 1h0m0 12h0m0 0h0m0 172h0m0 14h0m1-242h0m0 31h0m0 210h0m0 3h0m1-217h0m0 201h0m1-188h0m0 1h0m0 12h0m0 4h0m0 173h0m0 2h0m0 1h0m1-223h0m0 17h0m0 20h0m0 179h0m0 6h0m1-243h0m0 57h0m0 5h0m0 0h0m0 4h0m0 3h0m0 2h0m0 167h0m0 1h0m0 8h0m1-236h0m0 14h0m0 32h0m0 7h0m0 4h0m0 170h0m0 3h0m0 6h0m0 8h0m1-202h0m0 10h0m0 174h0m0 2h0m0 6h0m1-219h0m0 23h0m0 9h0m0 4h0m0 2h0m0 3h0m0 175h0m0 5h0m1-215h0m0 37h0m0 181h0m0 3h0m0 2h0m1-226h0m0 18h0m0 8h0m0 7h0m0 11h0m0 0h0m0 162h0m0 7h0m1-190h0m0 7h0m0 6h0m0 9h0m1-17h0m0 1h0m0 12h0m0 3h0m0 165h0m0 1h0m0 0h0m0 1h0m0 9h0m1-184h0m0 7h0m0 165h0m1-179h0m0 4h0m0 177h0m1-208h0m0 13h0m0 9h0m0 18h0m0 165h0m0 18h0m1-217h0m0 1h0m0 11h0m0 10h0m0 3h0m0 11h0m1-34h0m0 29h0m1-45h0m0 29h0m0 8h0m0 184h0m1-214h0m0 10h0m0 13h0m0 19h0m0 169h0m1-198h0m0 26h0m0 2h0m0 163h0m0 1h0m0 18h0m0 1h0m0 1h0m1-231h0m0 15h0m0 3h0m0 6h0m0 10h0m0 6h0m0 171h0m0 1h0m0 2h0m0 13h0m0 2h0m1-241h0m0 16h0m0 20h0m0 7h0m0 0h0m0 6h0m0 177h0m0 4h0m0 6h0m1-210h0m0 16h0m0 8h0m0 6h0m0 2h0m0 169h0m1-209h0m0 32h0m0 2h0m0 1h0m0 170h0m0 3h0m0 2h0m1-4h0m0 7h0m1-194h0m0 8h0m0 6h0m0 5h0m0 1h0m0 1h0m0 165h0m0 5h0m0 5h0m1-190h0m0 2h0m0 188h0m1-202h0m0 21h0m0 1h0m0 169h0m0 10h0m0 1h0m1-182h0m0 0h0m0 175h0m0 14h0m1-218h0m0 3h0m0 7h0m0 17h0m0 2h0m0 8h0m0 170h0m0 8h0m0 5h0m1-217h0m0 2h0m0 9h0m0 16h0m0 170h0m1-179h0m0 8h0m1-19h0m0 3h0m0 1h0m0 1h0m0 2h0m0 184h0m0 1h0m0 0h0m1-192h0m0 2h0m0 2h0m0 1h0m0 185h0m0 9h0m0 1h0m0 6h0m0 1h0m1-208h0m0 24h0m0 3h0m0 171h0m0 1h0m0 9h0m1-201h0m0 11h0m0 5h0m0 176h0m1-198h0m0 13h0m0 1h0m0 180h0m0 3h0m0 7h0m1-201h0m0 23h0m0 185h0m1-205h0m0 8h0m0 1h0m0 11h0m0 167h0m1-187h0m0 3h0m0 16h0m0 177h0m1-189h0m0 176h0m0 1h0m0 1h0m0 1h0m0 5h0m1-227h0m0 26h0m0 7h0m0 17h0m0 2h0m1 5h0m0 2h0m0 173h0m0 5h0m1-205h0m0 2h0m0 12h0m0 5h0m0 5h0m1-23h0m0 2h0m0 10h0m0 6h0m0 174h0m1-186h0m0 22h0m1-30h0m0 8h0m0 7h0m0 8h0m0 169h0m0 1h0m0 16h0m1-230h0m0 52h0m0 163h0m1-174h0m0 9h0m0 161h0m1-173h0m0 9h0m0 164h0m1-164h0m0 6h0m0 153h0m0 11h0m0 11h0m0 3h0m1-202h0m0 2h0m0 2h0m0 0h0m0 3h0m0 3h0m0 6h0m0 6h0m0 3h0m0 1h0m0 148h0m0 4h0m0 12h0m1-215h0m0 12h0m0 8h0m0 5h0m0 10h0m0 1h0m0 11h0m0 1h0m1-14h0m0 11h0m0 162h0m0 1h0m0 1h0m0 14h0m1-192h0m0 2h0m0 6h0m0 157h0m0 11h0m1-192h0m0 9h0m0 24h0m0 5h0m0 1h0m0 140h0m0 2h0m0 3h0m0 2h0m0 24h0m1-186h0m0 5h0m0 4h0m0 146h0m0 5h0m0 5h0m0 7h0m1-188h0m0 30h0m0 157h0m1-220h0m0 34h0m0 30h0m0 156h0m1-173h0m0 10h0m0 8h0m0 138h0m0 28h0m1-197h0m1-11h0m0 15h0m0 3h0m0 9h0m0 4h0m0 10h0m0 147h0m0 6h0m1-197h0m0 2h0m0 29h0m0 6h0m1-26h0m0 4h0m0 32h0m0 1h0m0 158h0m1-160h0m0 141h0m1-180h0m0 8h0m0 6h0m0 22h0m0 0h0m0 6h0m0 3h0m0 0h0m0 127h0m0 17h0m1-215h0m0 42h0m0 28h0m0 1h0m0 125h0m0 1h0m0 3h0m0 14h0m0 11h0m0 3h0m1-199h0m0 5h0m0 10h0m0 16h0m0 12h0m0 126h0m0 1h0m0 3h0m0 7h0m0 1h0m0 2h0m0 13h0m1-168h0m0 5h0m0 2h0m0 0h0m0 2h0m0 152h0m0 7h0m1-209h0m0 34h0m0 6h0m0 15h0m0 3h0m0 136h0m0 1h0m1-167h0m0 7h0m0 15h0m0 9h0m0 133h0m1-178h0m0 38h0m0 139h0m0 1h0m1-166h0m0 15h0m0 9h0m0 0h0m0 3h0m0 139h0m0 11h0m1-223h0m0 33h0m0 28h0m0 1h0m0 0h0m1-44h0m0 1h0m0 23h0m0 27h0m0 1h0m0 14h0m0 117h0m0 4h0m0 19h0m1-174h0m0 27h0m0 3h0m0 120h0m0 9h0m0 3h0m0 2h0m0 5h0m0 0h0m0 11h0m1-173h0m0 22h0m0 4h0m0 0h0m0 118h0m0 1h0m0 6h0m0 8h0m0 10h0m1-28h0m1-202h0m0 215h0m0 3h0m1-179h0m0 24h0m0 2h0m0 137h0m1-148h0m0 10h0m0 24h0m0 6h0m0 107h0m0 2h0m0 3h0m0 6h0m1-158h0m0 32h0m0 5h0m0 5h0m0 101h0m0 0h0m0 0h0m0 2h0m0 0h0m0 1h0m0 1h0m0 17h0m0 1h0m1-158h0m0 10h0m0 15h0m0 9h0m0 2h0m0 118h0m1-160h0m0 14h0m0 23h0m0 4h0m0 98h0m1-152h0m0 21h0m0 13h0m0 13h0m0 101h0m0 11h0m0 25h0m1-185h0m0 37h0m0 5h0m0 107h0m0 6h0m0 22h0m1-188h0m0 1h0m0 8h0m0 15h0m0 18h0m0 18h0m0 100h0m0 20h0m1-173h0m0 22h0m0 3h0m0 13h0m0 18h0m0 5h0m0 3h0m0 75h0m0 3h0m0 31h0m1-174h0m0 23h0m0 5h0m0 3h0m0 3h0m0 20h0m0 1h0m0 0h0m0 6h0m0 4h0m0 2h0m0 6h0m0 4h0m0 75h0m0 16h0m0 4h0m0 5h0m0 5h0m1-148h0m0 3h0m0 3h0m0 1h0m0 3h0m0 7h0m0 2h0m0 12h0m0 2h0m0 6h0m0 0h0m0 9h0m0 1h0m0 0h0m0 52h0m0 6h0m0 0h0m0 46h0m1-141h0m0 12h0m0 1h0m0 10h0m0 17h0m0 2h0m0 53h0m0 3h0m0 25h0m0 22h0m0 14h0m1-171h0m0 9h0m0 12h0m0 8h0m0 16h0m0 2h0m0 64h0m0 7h0m0 3h0m0 0h0m0 3h0m0 2h0m0 7h0m0 24h0m1-170h0m0 23h0m0 8h0m0 0h0m0 3h0m0 12h0m0 2h0m0 15h0m0 0h0m0 7h0m0 3h0m0 3h0m0 34h0m0 14h0m0 5h0m0 5h0m0 2h0m0 5h0m0 18h0m0 6h0m1-184h0m0 46h0m0 4h0m0 19h0m0 5h0m0 3h0m0 5h0m0 6h0m0 7h0m0 2h0m0 32h0m0 7h0m0 3h0m0 2h0m0 0h0m0 12h0m0 2h0m0 5h0m0 5h0m1-132h0m0 5h0m0 11h0m0 0h0m0 1h0m0 9h0m0 24h0m0 1h0m0 12h0m0 5h0m0 3h0m0 23h0m0 2h0m0 26h0m1-127h0m0 2h0m0 31h0m0 10h0m0 0h0m0 8h0m0 11h0m0 1h0m0 1h0m0 2h0m0 4h0m0 4h0m0 0h0m0 7h0m0 19h0m0 11h0m0 0h0m0 1h0m0 6h0m0 26h0m1-133h0m0 10h0m0 1h0m0 14h0m0 3h0m0 1h0m0 1h0m0 24h0m0 4h0m0 11h0m0 25h0m0 1h0m0 14h0m0 32h0m1-105h0m0 38h0m0 4h0m0 11h0m0 4h0m0 36h0m0 9h0m0 21h0m1-207h0m0 27h0m0 53h0m0 8h0m0 7h0m0 11h0m0 2h0m0 4h0m0 8h0m0 0h0m0 7h0m0 10h0m0 14h0m0 19h0m0 4h0m0 16h0m0 8h0m1-161h0m0 27h0m0 1h0m0 13h0m0 5h0m0 7h0m0 14h0m0 4h0m0 2h0m0 8h0m0 12h0m0 9h0m0 9h0m0 24h0m1-127h0m0 72h0m0 3h0m0 5h0m0 0h0m0 6h0m0 16h0m0 5h0m0 25h0m1-148h0m0 7h0m0 23h0m0 19h0m0 38h0m0 8h0m0 8h0m0 19h0m0 4h0m0 19h0m1-122h0m0 12h0m0 46h0m0 4h0m0 4h0m0 4h0m0 2h0m0 2h0m0 5h0m0 6h0m0 4h0m0 5h0m0 28h0m0 3h0m1-84h0m0 4h0m0 12h0m0 9h0m0 3h0m0 39h0m0 1h0m0 3h0m0 5h0m0 31h0m1-153h0m0 27h0m0 4h0m0 10h0m0 4h0m0 8h0m0 23h0m0 14h0m0 12h0m0 12h0m0 22h0m1-144h0m0 9h0m0 22h0m0 10h0m0 0h0m0 5h0m0 5h0m0 28h0m0 1h0m0 23h0m0 13h0m0 1h0m0 12h0m1-82h0m0 14h0m0 24h0m0 4h0m0 21h0m0 2h0m0 4h0m0 29h0m1-161h0m0 19h0m0 15h0m0 4h0m0 21h0m0 6h0m0 10h0m0 10h0m0 20h0m0 12h0m0 9h0m0 2h0m0 22h0m1-115h0m0 4h0m0 25h0m0 2h0m0 2h0m0 36h0m0 0h0m0 8h0m0 33h0m1-127h0m0 54h0m0 22h0m0 4h0m0 24h0m0 18h0m0 15h0m0 18h0m1-186h0m0 32h0m0 18h0m0 25h0m0 50h0m0 6h0m1-134h0m0 47h0m0 25h0m0 19h0m1-32h0m0 9h0m0 18h0m0 11h0m0 44h0m1-149h0m0 109h0m0 13h0m0 0h0m0 7h0m1-56h0m0 17h0m0 10h0m0 11h0m0 7h0m0 2h0m0 5h0m0 4h0m0 4h0m0 34h0m1-108h0m0 2h0m0 28h0m0 20h0m0 11h0m0 15h0m0 7h0m0 5h0m0 12h0m0 15h0m1-96h0m0 21h0m0 13h0m0 2h0m0 23h0m0 10h0m1-24h0m0 19h0m1-47h0m0 17h0m0 1h0m0 0h0m0 8h0m0 6h0m0 2h0m0 4h0m0 3h0m1-127h0m0 15h0m0 97h0m0 23h0m1-41h0m0 9h0m0 2h0m0 2h0m0 1h0m0 6h0m0 1h0m0 7h0m0 3h0m0 11h0m0 0h0m1-84h0m0 53h0m0 2h0m0 35h0m0 5h0m1-50h0m0 24h0m1-79h0m1 8h0m0 28h0m0 57h0m0 17h0m0 13h0m1 2h0m1-95h0m0 65h0m1-111h0m0 4h0m0 76h0m0 27h0m1-44h0m0 15h0m0 10h0m0 14h0m0 22h0m1-76h0m1-22h0m0 22h0m0 49h0m0 67h0m1-96h0m0 56h0m0 33h0m1-142h0m0 25h0m0 28h0m0 13h0m1 41h0m0 9h0m1-67h0m0 29h0m0 15h0m0 22h0"/>
<path fill="#fff" fill-rule="evenodd" d="M240.1 406.6L242.5 408L249 410.9L255.5 412.7L262 412.8L268.6 412.6L275.1 412L281.6 412.1L288.1 409.6L290.6 406.6L294.6 403.2L301.1 401.8L302 400.1L305.8 393.6L307.4 387.1L307.6 386.8L311.8 380.6L310.4 374.1L309.4 367.6L307.6 362.5L307.2 361.1L306.6 354.6L303.5 348.1L301.1 346L296.7 341.6L294.6 339L289.2 335.1L288.1 334L281.6 332.1L275.1 330.3L268.6 333.1L262 328.6L255.5 333.3L254.3 335.1L249 338.4L244.2 341.6L242.5 343.4L238 348.1L236 350.6L232.5 354.6L229.5 358.4L227.3 361.1L225.5 367.6L226.2 374.1L226 380.6L225.8 387.1L229.5 393L230 393.6L232.1 400.1L236 403.7L240.1 406.6Z"/>
<g transform="translate(200.25 292.8) scale(6.5050)" shape-rendering="crispEdges">
<path fill="#fafafa" d="M4 16h1v1h-1zM4 15h1v1h-1zM4 10h1v1h-1zM5 8h1v1h-1zM6 17h1v1h-1zM6 7h1v1h-1zM8 18h1v1h-1zM8 6h1v1h-1zM9 18h1v1h-1zM9 5h1v1h-1zM10 18h1v1h-1zM10 6h1v1h-1zM11 18h1v1h-1zM11 5h1v1h-1zM12 18h1v1h-1zM13 6h1v1h-1zM14 7h1v1h-1zM15 16h1v1h-1zM15 8h1v1h-1zM16 15h1v1h-1zM16 14h1v1h-1zM16 12h1v1h-1zM16 11h1v1h-1zM16 10h1v1h-1zM16 9h1v1h-1z"/>
<path fill="#f5f5f5" d="M4 14h1v1h-1zM4 13h1v1h-1zM4 12h1v1h-1zM4 11h1v1h-1zM5 16h1v1h-1zM5 15h1v1h-1zM5 10h1v1h-1zM5 9h1v1h-1zM6 16h1v1h-1zM6 8h1v1h-1zM7 17h1v1h-1zM7 7h1v1h-1zM8 17h1v1h-1zM8 7h1v1h-1zM9 6h1v1h-1zM11 6h1v1h-1zM12 6h1v1h-1zM13 17h1v1h-1zM14 16h1v1h-1zM15 15h1v1h-1zM15 9h1v1h-1zM16 13h1v1h-1z"/>
<path fill="#f0f0f0" d="M5 11h1v1h-1zM7 8h1v1h-1zM9 7h1v1h-1zM11 17h1v1h-1zM12 17h1v1h-1zM13 7h1v1h-1zM14 15h1v1h-1zM15 14h1v1h-1zM15 10h1v1h-1z"/>
<path fill="#ebebeb" d="M6 15h1v1h-1zM6 9h1v1h-1zM9 17h1v1h-1zM10 17h1v1h-1zM13 16h1v1h-1zM14 8h1v1h-1zM15 12h1v1h-1zM15 11h1v1h-1z"/>
<path fill="#e6e6e6" d="M5 13h1v1h-1zM5 12h1v1h-1zM6 10h1v1h-1zM8 8h1v1h-1zM10 7h1v1h-1zM12 7h1v1h-1zM14 9h1v1h-1zM15 13h1v1h-1z"/>
<path fill="#e1e1e1" d="M5 14h1v1h-1zM7 16h1v1h-1zM11 7h1v1h-1zM12 8h1v1h-1zM13 9h1v1h-1zM14 13h1v1h-1z"/>
<path fill="#dcdcdc" d="M8 16h1v1h-1zM13 15h1v1h-1zM13 8h1v1h-1zM14 10h1v1h-1z"/>
<path fill="#d7d7d7" d="M6 11h1v1h-1zM7 9h1v1h-1zM8 9h1v1h-1zM14 14h1v1h-1zM14 12h1v1h-1z"/>
<path fill="#d2d2d2" d="M9 8h1v1h-1zM10 8h1v1h-1zM11 16h1v1h-1zM13 10h1v1h-1zM14 11h1v1h-1z"/>
<path fill="#cdcdcd" d="M7 15h1v1h-1zM9 16h1v1h-1zM12 16h1v1h-1z"/>
<path fill="#c8c8c8" d="M6 12h1v1h-1zM12 9h1v1h-1z"/>
<path fill="#c3c3c3" d="M7 10h1v1h-1zM8 10h1v1h-1zM10 16h1v1h-1z"/>
<path fill="#bebebe" d="M6 14h1v1h-1zM11 8h1v1h-1zM12 15h1v1h-1z"/>
<path fill="#b9b9b9" d="M9 9h1v1h-1zM11 9h1v1h-1z"/>
<path fill="#b4b4b4" d="M6 13h1v1h-1zM10 9h1v1h-1zM13 13h1v1h-1z"/>
<path fill="#afafaf" d="M7 14h1v1h-1zM7 11h1v1h-1zM13 12h1v1h-1z"/>
<path fill="#aaaaaa" d="M7 13h1v1h-1zM13 11h1v1h-1z"/>
<path fill="#a5a5a5" d="M7 12h1v1h-1z"/>
<path fill="#a0a0a0" d="M13 14h1v1h-1z"/>
<path fill="#969696" d="M8 15h1v1h-1zM11 15h1v1h-1zM12 14h1v1h-1zM12 10h1v1h-1z"/>
<path fill="#919191" d="M9 15h1v1h-1z"/>
<path fill="#8c8c8c" d="M12 11h1v1h-1z"/>
<path fill="#878787" d="M8 12h1v1h-1z"/>
<path fill="#828282" d="M8 11h1v1h-1z"/>
<path fill="#7d7d7d" d="M10 15h1v1h-1z"/>
<path fill="#787878" d="M9 10h1v1h-1z"/>
<path fill="#737373" d="M12 13h1v1h-1z"/>
<path fill="#6e6e6e" d="M10 10h1v1h-1z"/>
<path fill="#696969" d="M8 13h1v1h-1zM12 12h1v1h-1z"/>
<path fill="#646464" d="M9 11h1v1h-1zM11 10h1v1h-1z"/>
<path fill="#555555" d="M9 14h1v1h-1zM10 11h1v1h-1zM11 14h1v1h-1z"/>
<path fill="#505050" d="M8 14h1v1h-1z"/>
<path fill="#4b4b4b" d="M10 14h1v1h-1z"/>
<path fill="#373737" d="M11 11h1v1h-1z"/>
<path fill="#2d2d2d" d="M9 12h1v1h-1z"/>
<path fill="#282828" d="M10 13h1v1h-1zM10 12h1v1h-1z"/>
<path fill="#232323" d="M9 13h1v1h-1z"/>
<path fill="#0f0f0f" d="M11 13h1v1h-1z"/>
<path fill="#000000" d="M11 12h1v1h-1z"/>
</g>
<path class="ct" d="M240.1 406.6L242.5 408L249 410.9L255.5 412.7L262 412.8L268.6 412.6L275.1 412L281.6 412.1L288.1 409.6L290.6 406.6L294.6 403.2L301.1 401.8L302 400.1L305.8 393.6L307.4 387.1L307.6 386.8L311.8 380.6L310.4 374.1L309.4 367.6L307.6 362.5L307.2 361.1L306.6 354.6L303.5 348.1L301.1 346L296.7 341.6L294.6 339L289.2 335.1L288.1 334L281.6 332.1L275.1 330.3L268.6 333.1L262 328.6L255.5 333.3L254.3 335.1L249 338.4L244.2 341.6L242.5 343.4L238 348.1L236 350.6L232.5 354.6L229.5 358.4L227.3 361.1L225.5 367.6L226.2 374.1L226 380.6L225.8 387.1L229.5 393L230 393.6L232.1 400.1L236 403.7ZM247.7 400.1L249 401.3L255.5 402.7L262 405.5L268.6 405.2L275.1 403.7L281.6 404.4L286.5 400.1L288.1 397.6L291.1 393.6L294.6 390.5L298.2 387.1L301.1 381.4L301.5 380.6L301.1 378.7L299.5 374.1L299.6 367.6L297.4 361.1L294.6 354.6L294.6 354.6L291.7 348.1L288.1 345.1L281.6 344L279.9 341.6L275.1 340.2L269.7 341.6L268.6 341.9L262 344.2L255.5 348.1L255.5 348.1L249 351.7L245.1 354.6L242.5 359.7L242 361.1L239.1 367.6L236.3 374.1L236.4 380.6L236 383.3L235 387.1L236 388.3L242.5 392.7L243.9 393.6ZM253.4 393.6L255.5 395.3L262 396L268.6 397.6L275.1 395.3L277.7 393.6L281.6 390.1L288.1 387.9L288.9 387.1L288.1 384.1L287.1 380.6L287.4 374.1L288.1 367.6L283.6 361.1L281.6 358.5L275.1 355.9L268.6 355.8L262 356.2L258.1 361.1L255.5 363.9L250 367.6L249 371.1L248.2 374.1L248 380.6L249 382.8L249.4 387.1ZM258.7 380.6L262 385.3L268.6 387.1L275.1 385.8L278.6 380.6L279.4 374.1L276.4 367.6L275.1 364.9L271.1 367.6L268.6 369.4L262 370.9L260.2 374.1Z"/>
</g>
<g clip-path="url(#c30)">
<path class="pt" transform="translate(63.65 429.4) scale(.5)" d="m1 28h0m0 1h0m1 37h0m0 9h0m1-24h0m1 13h0m1-52h0m0 29h0m0 90h0m1-79h0m0 21h0m0 9h0m1-28h0m0 37h0m2-42h0m0 2h0m0 24h0m1-29h0m0 2h0m0 50h0m1-27h0m0 4h0m1-23h0m0 15h0m0 19h0m0 17h0m0 23h0m1-82h0m0 30h0m0 3h0m0 2h0m0 3h0m1-76h0m0 33h0m0 18h0m0 55h0m0 19h0m1-94h0m0 21h0m0 40h0m0 3h0m0 17h0m0 0h0m1-28h0m0 6h0m0 1h0m0 14h0m0 22h0m0 48h0m1-166h0m0 25h0m0 51h0m1-59h0m0 0h0m0 22h0m0 0h0m0 32h0m1-66h0m0 5h0m0 9h0m0 9h0m0 10h0m0 52h0m0 30h0m0 31h0m0 33h0m1-144h0m0 71h0m1-61h0m0 9h0m1 23h0m0 8h0m0 43h0m1-107h0m0 0h0m0 18h0m0 17h0m0 7h0m0 3h0m0 2h0m0 57h0m1-104h0m0 8h0m1-47h0m0 83h0m0 9h0m0 11h0m0 57h0m1-126h0m0 14h0m0 11h0m0 12h0m1-62h0m0 14h0m0 34h0m0 26h0m0 4h0m0 3h0m0 7h0m0 3h0m0 6h0m0 4h0m0 2h0m1-95h0m0 25h0m0 7h0m0 5h0m0 5h0m0 19h0m0 2h0m0 3h0m0 8h0m0 1h0m0 21h0m0 22h0m1-127h0m0 34h0m0 23h0m0 7h0m0 26h0m0 39h0m0 3h0m0 31h0m1-143h0m0 14h0m0 4h0m0 46h0m1-80h0m0 29h0m0 4h0m0 9h0m0 6h0m0 25h0m0 1h0m0 1h0m0 25h0m0 6h0m0 10h0m0 31h0m0 59h0m1-218h0m0 54h0m0 10h0m0 10h0m0 1h0m0 3h0m0 3h0m0 5h0m0 3h0m0 28h0m0 5h0m0 2h0m0 9h0m1-112h0m0 9h0m0 10h0m0 5h0m0 10h0m0 21h0m0 30h0m0 8h0m0 40h0m1-134h0m0 18h0m0 10h0m0 1h0m0 17h0m0 9h0m0 30h0m0 2h0m0 65h0m0 0h0m1-161h0m0 18h0m0 26h0m0 6h0m0 16h0m0 3h0m0 5h0m0 2h0m0 9h0m0 3h0m0 11h0m0 2h0m1-70h0m0 2h0m0 5h0m0 21h0m0 2h0m0 3h0m0 31h0m0 8h0m0 6h0m1-117h0m0 22h0m0 21h0m0 8h0m0 4h0m0 8h0m0 8h0m0 30h0m0 9h0m0 2h0m0 7h0m0 21h0m1-133h0m0 37h0m0 38h0m0 13h0m1-92h0m0 29h0m0 9h0m0 2h0m0 14h0m0 33h0m0 3h0m0 2h0m0 0h0m0 0h0m0 5h0m0 3h0m0 12h0m0 35h0m0 13h0m0 11h0m1-175h0m0 3h0m0 24h0m0 13h0m0 8h0m0 6h0m0 4h0m0 1h0m0 1h0m0 4h0m0 2h0m0 23h0m0 0h0m0 5h0m0 3h0m0 3h0m0 1h0m0 48h0m0 3h0m0 4h0m0 75h0m1-204h0m0 10h0m0 5h0m0 7h0m0 30h0m0 7h0m0 4h0m0 0h0m0 4h0m0 5h0m0 1h0m0 26h0m0 1h0m0 8h0m0 26h0m0 13h0m1-158h0m0 10h0m0 4h0m0 7h0m0 15h0m0 4h0m0 7h0m0 9h0m0 1h0m0 3h0m0 1h0m0 6h0m0 1h0m0 5h0m0 8h0m0 9h0m0 6h0m0 2h0m0 7h0m0 18h0m0 22h0m1-151h0m0 15h0m0 22h0m0 1h0m0 8h0m0 8h0m0 0h0m0 13h0m0 7h0m0 39h0m0 1h0m0 5h0m1-120h0m0 3h0m0 20h0m0 10h0m0 13h0m0 3h0m0 3h0m0 9h0m0 4h0m0 0h0m0 5h0m0 3h0m0 4h0m0 5h0m0 3h0m0 2h0m0 9h0m0 19h0m1-100h0m0 5h0m0 14h0m0 31h0m0 5h0m0 18h0m0 0h0m0 21h0m0 2h0m0 7h0m0 10h0m0 1h0m0 1h0m0 48h0m1-172h0m0 18h0m0 9h0m0 1h0m0 8h0m0 8h0m0 3h0m0 49h0m0 20h0m0 21h0m0 3h0m0 12h0m0 7h0m1-140h0m0 6h0m0 13h0m0 0h0m0 51h0m0 6h0m0 0h0m0 10h0m0 17h0m0 1h0m0 6h0m0 10h0m0 10h0m0 28h0m1-185h0m0 1h0m0 26h0m0 4h0m0 4h0m0 1h0m0 6h0m0 56h0m0 2h0m0 7h0m0 3h0m0 3h0m0 25h0m0 2h0m0 0h0m1-134h0m0 17h0m0 17h0m0 74h0m0 0h0m0 1h0m0 13h0m1-113h0m0 4h0m0 2h0m0 4h0m0 7h0m0 76h0m0 19h0m0 5h0m0 29h0m1-132h0m0 1h0m0 1h0m0 3h0m0 74h0m0 3h0m0 3h0m0 20h0m0 8h0m0 50h0m1-185h0m0 9h0m0 3h0m0 9h0m0 3h0m0 69h0m0 16h0m0 10h0m0 49h0m0 23h0m1-185h0m0 6h0m0 12h0m0 71h0m0 0h0m0 2h0m0 4h0m0 1h0m0 5h0m0 3h0m0 5h0m0 4h0m0 46h0m0 34h0m1-202h0m0 19h0m0 6h0m0 1h0m0 2h0m0 80h0m0 1h0m0 3h0m0 6h0m0 1h0m0 4h0m0 1h0m0 40h0m1-158h0m0 4h0m0 9h0m0 7h0m0 1h0m0 74h0m0 1h0m0 8h0m0 3h0m0 11h0m0 2h0m0 5h0m0 29h0m0 34h0m1-186h0m0 12h0m0 5h0m0 85h0m0 16h0m0 11h0m0 2h0m0 6h0m0 5h0m0 6h0m0 6h0m1-139h0m0 1h0m0 1h0m0 79h0m0 0h0m0 25h0m0 14h0m0 18h0m1-173h0m0 33h0m0 5h0m0 78h0m0 3h0m0 26h0m0 15h0m0 6h0m0 8h0m0 1h0m0 0h0m1-165h0m0 5h0m0 10h0m0 0h0m0 8h0m0 90h0m0 22h0m0 1h0m0 11h0m0 2h0m0 2h0m0 23h0m1-174h0m0 6h0m0 9h0m0 6h0m0 3h0m0 1h0m0 134h0m1-160h0m0 13h0m0 4h0m0 128h0m0 11h0m0 2h0m0 6h0m1-157h0m0 14h0m0 126h0m0 12h0m0 17h0m1-157h0m0 3h0m0 1h0m0 117h0m0 2h0m0 1h0m0 63h0m1-215h0m0 1h0m0 5h0m0 19h0m0 3h0m0 137h0m0 10h0m0 4h0m1-172h0m0 22h0m0 118h0m0 14h0m1-146h0m0 0h0m0 2h0m0 7h0m0 3h0m0 123h0m0 7h0m0 6h0m0 14h0m0 4h0m0 3h0m0 6h0m0 5h0m1-173h0m0 130h0m0 2h0m0 23h0m0 6h0m0 16h0m1-202h0m0 10h0m0 14h0m0 4h0m0 2h0m0 129h0m0 1h0m0 34h0m1-175h0m0 141h0m0 1h0m0 1h0m0 2h0m0 4h0m0 24h0m1-181h0m0 10h0m0 9h0m0 144h0m0 3h0m0 25h0m1-187h0m0 154h0m0 3h0m0 22h0m0 0h0m1-182h0m0 1h0m0 13h0m0 1h0m0 1h0m0 137h0m0 18h0m0 1h0m1-182h0m0 11h0m0 1h0m0 159h0m0 27h0m1-191h0m0 17h0m0 1h0m0 143h0m0 1h0m0 42h0m1-209h0m0 10h0m0 7h0m0 4h0m0 152h0m0 32h0m1-204h0m0 11h0m0 0h0m0 9h0m0 4h0m0 146h0m0 5h0m0 39h0m1-30h0m1-183h0m0 13h0m0 8h0m0 148h0m0 1h0m0 0h0m0 12h0m0 1h0m0 0h0m1-176h0m0 9h0m0 158h0m0 3h0m0 3h0m0 8h0m0 9h0m1-199h0m0 0h0m0 22h0m0 155h0m0 15h0m0 6h0m1-199h0m0 24h0m0 1h0m0 155h0m0 0h0m0 5h0m0 3h0m0 7h0m0 20h0m1-214h0m0 14h0m0 1h0m0 1h0m0 164h0m0 15h0m0 2h0m1-189h0m0 3h0m0 9h0m0 3h0m0 0h0m0 158h0m0 10h0m0 7h0m1-202h0m0 12h0m0 4h0m0 1h0m0 8h0m0 168h0m1-178h0m0 4h0m0 3h0m0 172h0m0 17h0m0 10h0m1-218h0m0 2h0m0 9h0m0 13h0m0 0h0m0 163h0m0 7h0m1-181h0m0 7h0m0 178h0m0 3h0m1-186h0m0 198h0m1-30h0m0 0h0m0 8h0m0 0h0m0 33h0m1-224h0m0 13h0m0 3h0m0 172h0m0 30h0m1-213h0m0 1h0m0 4h0m0 177h0m0 7h0m0 5h0m0 4h0m0 1h0m0 27h0m1-217h0m0 5h0m0 168h0m0 7h0m0 3h0m0 9h0m1-195h0m0 10h0m0 176h0m0 4h0m0 0h0m0 4h0m0 14h0m1-206h0m0 5h0m0 2h0m0 167h0m0 5h0m0 6h0m0 4h0m0 6h0m1-196h0m0 5h0m0 170h0m0 16h0m1-201h0m0 186h0m0 3h0m0 0h0m0 4h0m0 3h0m0 8h0m0 9h0m0 6h0m1-215h0m0 8h0m0 2h0m0 173h0m0 0h0m0 7h0m0 6h0m1-199h0m0 2h0m0 7h0m0 4h0m0 172h0m0 13h0m0 3h0m1-202h0m0 10h0m0 1h0m0 1h0m0 8h0m0 186h0m0 3h0m1-214h0m0 26h0m0 175h0m0 4h0m1-191h0m0 0h0m0 3h0m0 7h0m0 1h0m0 0h0m0 170h0m0 3h0m0 9h0m0 2h0m0 1h0m1-202h0m0 14h0m0 173h0m1-178h0m0 5h0m0 174h0m0 0h0m0 2h0m0 14h0m0 1h0m1-8h0m0 23h0m1-217h0m0 193h0m0 2h0m0 2h0m0 18h0m1-203h0m0 1h0m0 192h0m1-207h0m0 2h0m0 4h0m0 8h0m0 178h0m0 1h0m0 2h0m0 13h0m1-16h0m0 8h0m0 22h0m1-22h0m0 14h0m1-211h0m0 1h0m0 6h0m0 4h0m0 194h0m0 9h0m1-222h0m0 7h0m0 3h0m0 10h0m0 1h0m0 176h0m0 2h0m0 12h0m1-215h0m0 1h0m0 16h0m0 5h0m0 189h0m0 1h0m0 31h0m1-217h0m0 207h0m1-232h0m0 4h0m0 201h0m0 5h0m0 13h0m0 10h0m0 3h0m1-233h0m0 19h0m0 2h0m0 182h0m0 0h0m0 1h0m0 5h0m0 4h0m1-202h0m0 4h0m0 6h0m0 200h0m0 4h0m0 9h0m1-17h0m0 31h0m1-240h0m0 201h0m0 6h0m0 3h0m0 3h0m0 8h0m1-205h0m0 186h0m0 6h0m0 9h0m0 6h0m1-222h0m0 3h0m0 1h0m0 8h0m0 2h0m0 202h0m1-15h0m0 1h0m0 9h0m1-5h0m0 5h0m1-217h0m0 8h0m0 11h0m0 191h0m0 1h0m0 0h0m1-212h0m0 13h0m0 4h0m0 0h0m0 6h0m0 189h0m0 4h0m1-217h0m0 9h0m0 15h0m0 2h0m0 187h0m0 3h0m0 1h0m0 5h0m0 1h0m1-215h0m0 12h0m0 1h0m0 1h0m0 189h0m0 17h0m1-219h0m0 1h0m0 203h0m0 2h0m0 24h0m1-223h0m0 1h0m0 193h0m0 6h0m0 3h0m1-197h0m0 0h0m0 195h0m0 35h0m1-234h0m0 1h0m0 3h0m0 0h0m0 2h0m0 189h0m0 15h0m1-216h0m0 11h0m1-11h0m0 2h0m0 4h0m0 192h0m1-198h0m0 208h0m1-200h0m0 202h0m0 13h0m1-233h0m0 9h0m0 0h0m0 200h0m0 4h0m0 2h0m0 9h0m1-8h0m0 3h0m0 3h0m0 31h0m1-232h0m0 188h0m0 11h0m0 12h0m0 4h0m1-237h0m0 3h0m0 211h0m0 11h0m1-15h0m0 3h0m1-218h0m0 26h0m0 1h0m0 201h0m0 22h0m1-235h0m0 2h0m0 202h0m0 18h0m0 20h0m1-229h0m0 193h0m0 3h0m0 11h0m0 9h0m0 9h0m0 6h0m1-243h0m0 6h0m0 205h0m0 10h0m0 3h0m0 2h0m1-222h0m0 8h0m0 191h0m1-192h0m0 193h0m0 9h0m0 15h0m1-212h0m0 187h0m0 9h0m1 27h0m1-241h0m0 222h0m0 11h0m1-226h0m0 7h0m0 11h0m1-26h0m0 5h0m0 9h0m0 12h0m0 181h0m0 6h0m1-2h0m0 11h0m1-220h0m0 212h0m1 11h0m0 13h0m1-246h0m0 4h0m0 22h0m0 1h0m0 191h0m0 0h0m0 15h0m0 1h0m0 7h0m0 0h0m1-223h0m0 11h0m0 0h0m0 1h0m0 1h0m0 3h0m0 186h0m0 2h0m0 15h0m1-231h0m0 19h0m0 0h0m0 215h0m1-215h0m0 2h0m0 8h0m0 180h0m0 4h0m1-195h0m0 203h0m0 6h0m0 3h0m1-228h0m0 26h0m0 1h0m0 181h0m1-205h0m0 10h0m0 14h0m0 189h0m0 9h0m0 6h0m1-204h0m0 1h0m0 180h0m0 6h0m1-209h0m0 203h0m0 4h0m0 8h0m1-226h0m0 20h0m0 8h0m0 193h0m0 0h0m0 22h0m1-232h0m0 6h0m0 16h0m0 184h0m0 2h0m0 4h0m1-198h0m0 212h0m0 12h0m1-245h0m0 14h0m0 9h0m0 4h0m0 0h0m0 2h0m0 1h0m0 178h0m0 8h0m0 2h0m0 3h0m1-213h0m0 12h0m0 0h0m0 5h0m0 182h0m0 11h0m0 3h0m0 8h0m0 1h0m0 0h0m1-204h0m0 183h0m0 6h0m0 2h0m0 10h0m1-212h0m0 2h0m0 5h0m0 5h0m0 1h0m0 9h0m0 2h0m0 1h0m0 168h0m0 7h0m0 1h0m0 3h0m0 1h0m0 1h0m1-196h0m0 4h0m0 177h0m0 3h0m0 3h0m0 1h0m0 6h0m0 20h0m1-231h0m0 16h0m0 7h0m0 5h0m0 2h0m0 3h0m0 167h0m0 19h0m0 0h0m1-211h0m0 191h0m0 10h0m0 15h0m1-204h0m0 3h0m0 7h0m0 8h0m0 157h0m0 5h0m0 0h0m0 3h0m0 3h0m0 5h0m0 1h0m1-197h0m0 181h0m0 5h0m0 12h0m0 1h0m0 7h0m1-199h0m0 12h0m0 165h0m0 12h0m1-9h0m1-165h0m0 4h0m0 162h0m0 1h0m0 0h0m0 4h0m0 12h0m1-187h0m0 168h0m0 5h0m0 0h0m0 0h0m0 19h0m1-213h0m0 7h0m0 7h0m0 8h0m0 9h0m0 0h0m0 170h0m1-192h0m0 0h0m0 5h0m0 11h0m0 157h0m0 3h0m0 3h0m0 1h0m0 3h0m0 10h0m0 6h0m0 8h0m1-222h0m0 29h0m0 170h0m0 5h0m0 13h0m0 16h0m1-206h0m0 177h0m0 11h0m0 6h0m1-211h0m0 177h0m0 1h0m0 1h0m1-155h0m0 165h0m0 4h0m0 14h0m1-223h0m0 14h0m0 3h0m0 21h0m0 158h0m0 11h0m0 1h0m0 24h0m0 4h0m1-240h0m0 32h0m0 5h0m0 9h0m0 165h0m0 5h0m0 0h0m0 11h0m0 3h0m0 12h0m1-225h0m0 8h0m0 11h0m0 16h0m0 1h0m0 147h0m0 4h0m0 5h0m0 1h0m0 3h0m0 5h0m0 6h0m0 4h0m0 13h0m1-194h0m0 1h0m0 1h0m0 2h0m0 148h0m1-150h0m0 3h0m0 0h0m0 2h0m0 147h0m0 2h0m0 3h0m0 23h0m0 6h0m1-183h0m0 149h0m1-173h0m0 22h0m0 6h0m0 3h0m0 144h0m0 21h0m0 7h0m1-238h0m0 20h0m0 21h0m0 8h0m0 7h0m0 2h0m0 4h0m0 2h0m0 1h0m0 134h0m0 2h0m0 3h0m0 1h0m0 0h0m0 4h0m0 6h0m0 8h0m0 13h0m1-218h0m0 17h0m0 25h0m0 138h0m0 4h0m0 24h0m0 1h0m0 5h0m1-196h0m0 14h0m0 10h0m0 2h0m0 8h0m0 3h0m0 0h0m0 0h0m0 3h0m0 129h0m0 13h0m0 2h0m1-186h0m0 2h0m0 22h0m0 7h0m0 0h0m0 4h0m0 0h0m0 2h0m0 127h0m0 11h0m0 32h0m1-222h0m0 38h0m0 11h0m0 1h0m0 150h0m1-200h0m0 43h0m0 11h0m0 125h0m0 16h0m1-140h0m0 7h0m0 122h0m0 41h0m1-228h0m0 52h0m0 10h0m0 2h0m0 124h0m0 15h0m1-213h0m0 71h0m0 4h0m0 0h0m0 4h0m0 110h0m0 12h0m1-149h0m0 18h0m0 1h0m0 6h0m0 3h0m0 104h0m0 17h0m0 44h0m1-166h0m0 104h0m0 2h0m0 9h0m1-159h0m0 28h0m0 14h0m0 105h0m0 7h0m0 3h0m0 1h0m0 6h0m0 9h0m0 8h0m0 1h0m1-177h0m0 20h0m0 2h0m0 2h0m0 17h0m0 1h0m0 4h0m0 2h0m0 114h0m0 9h0m1-186h0m0 1h0m0 15h0m0 41h0m0 4h0m0 5h0m0 88h0m0 4h0m0 10h0m0 1h0m0 4h0m0 6h0m0 41h0m1-180h0m0 14h0m0 4h0m0 95h0m0 1h0m0 4h0m0 5h0m0 2h0m0 0h0m0 13h0m0 1h0m0 12h0m0 5h0m0 1h0m0 17h0m0 1h0m1-177h0m0 3h0m0 13h0m0 110h0m0 10h0m0 14h0m0 5h0m1-198h0m0 48h0m0 2h0m0 49h0m0 62h0m0 1h0m0 6h0m0 13h0m0 8h0m0 2h0m0 8h0m1-198h0m0 26h0m0 16h0m0 7h0m0 33h0m0 6h0m0 1h0m0 15h0m0 59h0m0 13h0m0 11h0m0 9h0m1-112h0m0 3h0m0 0h0m0 2h0m0 1h0m0 1h0m0 1h0m0 2h0m0 70h0m0 20h0m0 3h0m0 20h0m1-179h0m0 37h0m0 16h0m0 1h0m0 0h0m0 0h0m0 25h0m0 1h0m0 47h0m0 2h0m0 1h0m0 23h0m0 2h0m0 2h0m0 18h0m1-141h0m0 4h0m0 1h0m0 4h0m0 3h0m0 5h0m0 3h0m0 75h0m0 5h0m0 8h0m0 21h0m1-154h0m0 26h0m0 7h0m0 4h0m0 16h0m0 2h0m0 18h0m0 6h0m0 5h0m0 36h0m0 5h0m0 4h0m0 1h0m1-119h0m0 30h0m0 23h0m0 24h0m0 50h0m0 39h0m1-187h0m0 24h0m0 5h0m0 2h0m0 8h0m0 14h0m0 29h0m0 44h0m0 19h0m0 1h0m0 25h0m1-198h0m0 50h0m0 2h0m0 4h0m0 4h0m0 1h0m0 3h0m0 16h0m0 4h0m0 10h0m0 1h0m0 15h0m0 11h0m0 38h0m0 24h0m0 1h0m1-133h0m0 34h0m0 27h0m0 5h0m0 1h0m0 2h0m0 4h0m0 3h0m0 19h0m0 4h0m0 4h0m0 9h0m0 9h0m0 11h0m0 1h0m0 7h0m0 2h0m0 4h0m1-139h0m0 2h0m0 20h0m0 14h0m0 7h0m0 2h0m0 5h0m0 13h0m0 6h0m0 3h0m0 5h0m0 17h0m0 1h0m0 6h0m0 5h0m0 18h0m0 2h0m0 8h0m1-187h0m0 23h0m0 1h0m0 26h0m0 26h0m0 4h0m0 7h0m0 5h0m0 2h0m0 25h0m0 2h0m0 6h0m0 6h0m0 4h0m0 0h0m0 2h0m0 4h0m0 6h0m0 1h0m0 33h0m0 9h0m0 2h0m0 18h0m0 2h0m1-207h0m0 12h0m0 26h0m0 13h0m0 2h0m0 12h0m0 7h0m0 3h0m0 4h0m0 7h0m0 5h0m0 0h0m0 1h0m0 5h0m0 0h0m0 12h0m0 7h0m0 3h0m0 1h0m0 6h0m0 24h0m0 16h0m0 3h0m0 2h0m0 1h0m0 1h0m0 15h0m1-133h0m0 48h0m0 12h0m0 2h0m0 15h0m0 42h0m1-186h0m0 69h0m0 12h0m0 9h0m0 2h0m0 9h0m0 13h0m0 7h0m0 16h0m0 2h0m0 4h0m0 12h0m0 0h0m0 15h0m0 25h0m0 1h0m0 10h0m1-153h0m0 1h0m0 89h0m0 5h0m0 6h0m1-128h0m0 40h0m0 32h0m0 4h0m0 29h0m0 8h0m0 23h0m0 39h0m1-153h0m0 25h0m0 32h0m0 22h0m0 2h0m0 2h0m0 18h0m0 7h0m0 4h0m0 9h0m0 4h0m0 33h0m1-166h0m0 23h0m0 10h0m0 32h0m0 23h0m0 3h0m0 22h0m0 7h0m0 22h0m1-135h0m0 27h0m0 14h0m0 3h0m0 6h0m0 5h0m0 24h0m0 0h0m0 8h0m0 2h0m0 9h0m0 8h0m0 6h0m0 1h0m0 2h0m0 3h0m0 3h0m0 8h0m1-112h0m0 21h0m0 0h0m0 8h0m0 24h0m0 30h0m0 14h0m0 13h0m1-84h0m0 13h0m0 0h0m0 40h0m0 14h0m0 11h0m0 5h0m0 37h0m1-185h0m0 54h0m0 31h0m0 5h0m0 0h0m0 26h0m0 14h0m0 7h0m0 1h0m0 1h0m0 8h0m0 6h0m0 6h0m0 4h0m0 1h0m0 33h0m1-150h0m0 17h0m0 19h0m0 4h0m0 2h0m0 9h0m0 7h0m0 12h0m0 12h0m0 1h0m0 11h0m0 2h0m0 0h0m1-73h0m0 9h0m0 22h0m0 46h0m1-126h0m0 7h0m0 26h0m0 13h0m0 8h0m0 14h0m0 21h0m0 6h0m0 22h0m0 30h0m1-125h0m0 51h0m0 11h0m0 14h0m0 2h0m0 6h0m0 1h0m0 7h0m1-92h0m0 14h0m0 3h0m0 38h0m0 54h0m0 8h0m1-157h0m0 32h0m0 53h0m0 2h0m0 1h0m0 9h0m0 1h0m0 18h0m0 55h0m1-134h0m0 36h0m0 23h0m0 19h0m0 12h0m1 4h0m1-152h0m0 117h0m0 10h0m0 48h0m0 4h0m0 26h0m1-133h0m0 3h0m0 23h0m0 16h0m0 5h0m0 28h0m0 0h0m1-97h0m0 65h0m0 22h0m0 11h0m0 13h0m1-54h0m0 54h0m0 6h0m1-149h0m0 79h0m0 26h0m0 10h0m0 20h0m0 10h0m0 13h0m0 1h0m0 6h0m0 2h0m0 18h0m1-140h0m0 83h0m0 13h0m1-17h0m0 2h0m0 0h0m0 1h0m0 10h0m0 10h0m0 1h0m0 16h0m1-102h0m0 43h0m0 15h0m1-59h0m0 9h0m0 6h0m0 11h0m1 3h0m0 40h0m1-3h0m1-45h0m0 12h0m1 36h0m1-53h0m0 21h0m1-23h0m0 13h0m0 20h0m0 14h0m0 42h0m1-110h0m0 14h0m1 0h0m0 49h0m0 7h0m0 13h0m0 57h0m1-64h0m1-42h0m1 70h0m0 25h0m1-60h0m0 28h0m1-31h0m0 20h0"/>
<path fill="#fff" fill-rule="evenodd" d="M125.1 536.7L125.4 537.1L132 536.7L132 536.7L132 536.7L138.5 539.6L145 540L149.8 536.7L151.5 536.1L158 535.8L162.2 530.2L164.5 528.1L169.2 523.7L171 521L173.5 517.2L171 511.3L170.5 510.7L169.4 504.2L167.6 497.7L167.6 491.2L166.3 484.7L164.9 478.2L164.5 477.8L160.4 471.7L158 465.8L157.6 465.2L151.5 460.4L149.2 458.7L146.2 452.2L145 451L138.5 449.6L135.2 445.7L132 443.3L125.4 445.3L118.9 441.8L112.4 442.4L105.9 442.9L99.4 444.4L97.9 445.7L92.9 449.7L89 452.2L88 458.7L86.4 464.2L86.2 465.2L86.4 471.7L86.4 471.7L86.4 471.7L85.5 478.2L86.4 479.6L89.7 484.7L92.9 489.8L93.5 491.2L92.9 493.1L90.4 497.7L92.9 499.9L96.2 504.2L98.8 510.7L99.4 511.3L103.4 517.2L105.9 522.1L112.4 523.1L112.9 523.7L118.9 529.9L119.3 530.2L125.1 536.7Z"/>
<g transform="translate(63.65 429.4) scale(6.5050)" shape-rendering="crispEdges">
<path fill="#fafafa" d="M3 9h1v1h-1zM3 7h1v1h-1zM3 6h1v1h-1zM3 5h1v1h-1zM3 4h1v1h-1zM3 3h1v1h-1zM4 9h1v1h-1zM4 2h1v1h-1zM5 12h1v1h-1zM5 2h1v1h-1zM6 14h1v1h-1zM7 15h1v1h-1zM7 14h1v1h-1zM7 2h1v1h-1zM7 1h1v1h-1zM8 15h1v1h-1zM8 1h1v1h-1zM9 16h1v1h-1zM9 2h1v1h-1zM10 16h1v1h-1zM12 17h1v1h-1zM12 3h1v1h-1zM13 17h1v1h-1zM13 16h1v1h-1zM13 4h1v1h-1zM14 16h1v1h-1zM14 5h1v1h-1zM15 15h1v1h-1zM15 7h1v1h-1zM16 14h1v1h-1zM16 12h1v1h-1zM16 9h1v1h-1zM17 15h1v1h-1z"/>
<path fill="#f5f5f5" d="M4 10h1v1h-1zM4 8h1v1h-1zM4 3h1v1h-1zM5 3h1v1h-1zM6 13h1v1h-1zM6 2h1v1h-1zM8 2h1v1h-1zM10 2h1v1h-1zM11 3h1v1h-1zM12 16h1v1h-1zM12 4h1v1h-1zM14 15h1v1h-1zM14 7h1v1h-1zM14 6h1v1h-1zM15 14h1v1h-1zM15 12h1v1h-1zM15 10h1v1h-1zM15 9h1v1h-1zM15 8h1v1h-1zM16 13h1v1h-1z"/>
<path fill="#f0f0f0" d="M4 7h1v1h-1zM4 6h1v1h-1zM4 5h1v1h-1zM4 4h1v1h-1zM5 11h1v1h-1zM5 4h1v1h-1zM7 13h1v1h-1zM10 3h1v1h-1zM11 16h1v1h-1zM13 15h1v1h-1zM13 5h1v1h-1zM15 13h1v1h-1z"/>
<path fill="#ebebeb" d="M6 12h1v1h-1zM6 3h1v1h-1zM7 3h1v1h-1zM9 15h1v1h-1zM11 15h1v1h-1zM12 15h1v1h-1z"/>
<path fill="#e6e6e6" d="M5 10h1v1h-1zM5 9h1v1h-1zM5 7h1v1h-1zM6 11h1v1h-1zM8 14h1v1h-1zM9 14h1v1h-1zM9 3h1v1h-1zM10 15h1v1h-1zM11 4h1v1h-1zM13 7h1v1h-1zM14 14h1v1h-1zM14 10h1v1h-1zM14 8h1v1h-1zM15 11h1v1h-1z"/>
<path fill="#e1e1e1" d="M8 13h1v1h-1zM14 13h1v1h-1zM14 9h1v1h-1z"/>
<path fill="#dcdcdc" d="M5 5h1v1h-1zM6 10h1v1h-1zM13 14h1v1h-1zM14 12h1v1h-1z"/>
<path fill="#d7d7d7" d="M5 8h1v1h-1zM6 4h1v1h-1zM7 12h1v1h-1zM12 14h1v1h-1zM12 5h1v1h-1zM13 6h1v1h-1zM14 11h1v1h-1z"/>
<path fill="#d2d2d2" d="M5 6h1v1h-1zM8 3h1v1h-1zM11 14h1v1h-1zM11 5h1v1h-1z"/>
<path fill="#cdcdcd" d="M6 9h1v1h-1zM8 4h1v1h-1zM9 4h1v1h-1zM10 14h1v1h-1zM12 6h1v1h-1zM13 8h1v1h-1z"/>
<path fill="#c8c8c8" d="M6 5h1v1h-1zM7 4h1v1h-1zM13 11h1v1h-1z"/>
<path fill="#c3c3c3" d="M7 11h1v1h-1zM10 4h1v1h-1zM12 7h1v1h-1zM13 13h1v1h-1zM13 9h1v1h-1z"/>
<path fill="#bebebe" d="M8 12h1v1h-1zM9 13h1v1h-1z"/>
<path fill="#b9b9b9" d="M6 7h1v1h-1zM6 6h1v1h-1zM10 13h1v1h-1zM12 13h1v1h-1zM12 8h1v1h-1z"/>
<path fill="#b4b4b4" d="M12 12h1v1h-1zM13 12h1v1h-1zM13 10h1v1h-1z"/>
<path fill="#afafaf" d="M7 10h1v1h-1zM7 9h1v1h-1zM7 5h1v1h-1z"/>
<path fill="#aaaaaa" d="M6 8h1v1h-1zM10 5h1v1h-1z"/>
<path fill="#a5a5a5" d="M11 13h1v1h-1zM12 11h1v1h-1z"/>
<path fill="#9b9b9b" d="M11 7h1v1h-1zM11 6h1v1h-1z"/>
<path fill="#969696" d="M9 5h1v1h-1zM11 12h1v1h-1z"/>
<path fill="#919191" d="M10 6h1v1h-1zM12 9h1v1h-1z"/>
<path fill="#8c8c8c" d="M7 8h1v1h-1zM7 6h1v1h-1zM9 12h1v1h-1z"/>
<path fill="#878787" d="M8 11h1v1h-1z"/>
<path fill="#7d7d7d" d="M9 6h1v1h-1zM11 11h1v1h-1z"/>
<path fill="#787878" d="M10 7h1v1h-1z"/>
<path fill="#737373" d="M7 7h1v1h-1zM10 12h1v1h-1z"/>
<path fill="#6e6e6e" d="M8 6h1v1h-1z"/>
<path fill="#696969" d="M8 10h1v1h-1zM12 10h1v1h-1z"/>
<path fill="#646464" d="M8 5h1v1h-1z"/>
<path fill="#5a5a5a" d="M10 11h1v1h-1z"/>
<path fill="#4b4b4b" d="M8 7h1v1h-1z"/>
<path fill="#414141" d="M11 8h1v1h-1z"/>
<path fill="#3c3c3c" d="M8 9h1v1h-1z"/>
<path fill="#2d2d2d" d="M9 10h1v1h-1zM10 10h1v1h-1z"/>
<path fill="#282828" d="M9 9h1v1h-1zM9 8h1v1h-1zM11 9h1v1h-1z"/>
<path fill="#232323" d="M8 8h1v1h-1zM9 7h1v1h-1z"/>
<path fill="#191919" d="M9 11h1v1h-1zM10 9h1v1h-1zM11 10h1v1h-1z"/>
<path fill="#000000" d="M10 8h1v1h-1z"/>
</g>
<path class="ct" d="M125.1 536.7L125.4 537.1L132 536.7L132 536.7L132 536.7L138.5 539.6L145 540L149.8 536.7L151.5 536.1L158 535.8L162.2 530.2L164.5 528.1L169.2 523.7L171 521L173.5 517.2L171 511.3L170.5 510.7L169.4 504.2L167.6 497.7L167.6 491.2L166.3 484.7L164.9 478.2L164.5 477.8L160.4 471.7L158 465.8L157.6 465.2L151.5 460.4L149.2 458.7L146.2 452.2L145 451L138.5 449.6L135.2 445.7L132 443.3L125.4 445.3L118.9 441.8L112.4 442.4L105.9 442.9L99.4 444.4L97.9 445.7L92.9 449.7L89 452.2L88 458.7L86.4 464.2L86.2 465.2L86.4 471.7L86.4 471.7L86.4 471.7L85.5 478.2L86.4 479.6L89.7 484.7L92.9 489.8L93.5 491.2L92.9 493.1L90.4 497.7L92.9 499.9L96.2 504.2L98.8 510.7L99.4 511.3L103.4 517.2L105.9 522.1L112.4 523.1L112.9 523.7L118.9 529.9L119.3 530.2ZM126.6 523.7L132 530L138.5 528.5L145 527.3L151.5 526.2L156.1 523.7L158 521.2L159.7 517.2L159.5 510.7L163.8 504.2L158 498.7L157.7 497.7L158 492.8L158.1 491.2L158 484.7L158 484.7L151.5 478.2L151.5 478.2L151.5 478.2L153.8 471.7L151.5 468.9L147.5 465.2L145 462.9L138.5 459.1L138.2 458.7L132 454.1L125.4 452.7L124.8 452.2L118.9 449.5L114.5 452.2L112.4 453.8L105.9 455.1L102.9 458.7L99.4 462.7L97.4 465.2L95.7 471.7L99.4 477.3L99.9 478.2L99.4 479.3L97 484.7L99.4 490.6L99.8 491.2L102 497.7L105.9 502.9L106.3 504.2L108.4 510.7L112.4 514.1L117.1 517.2L118.9 521L125.4 522.9ZM136.8 517.2L138.5 517.9L140.2 517.2L142.6 510.7L145 506.4L145.9 504.2L150.3 497.7L147.8 491.2L145 487.5L143.9 484.7L140.5 478.2L140.2 471.7L138.5 470.1L132 465.2L132 465.2L125.4 463.3L118.9 461.3L113 465.2L112.4 466.3L108.5 471.7L107.8 478.2L106.4 484.7L112.4 490.3L112.8 491.2L112.9 497.7L115.5 504.2L118.9 508L121.9 510.7L125.4 514L132 515.5ZM124.6 504.2L125.4 505L127 504.2L125.4 498.9ZM133.5 497.7L138.5 498.7L139.8 497.7L138.6 491.2L138.5 490.8L136 484.7L132 482.7L125.4 484.7L125.4 484.7L124.5 491.2L125.4 494.4L132 496.2ZM118.7 484.7L118.9 486L125.4 484.7L118.9 483.9ZM124.2 478.2L125.4 484.7L126 478.2L125.4 477.6Z"/>
</g>
<g clip-path="url(#c31)">
<path class="pt" transform="translate(200.25 429.4) scale(.5)" d="m0 246h0m1-182h0m0 103h0m1-64h0m1 91h0m0 1h0m0 37h0m1-156h0m0 49h0m0 59h0m1 8h0m2 39h0m1-71h0m1 69h0m1-120h0m0 42h0m0 45h0m0 6h0m2-66h0m0 46h0m1-65h0m0 96h0m1-134h0m0 118h0m1-185h0m0 53h0m0 72h0m0 0h0m0 6h0m1 23h0m0 15h0m0 21h0m0 2h0m1-68h0m0 11h0m0 45h0m0 19h0m1-146h0m0 4h0m0 13h0m0 39h0m0 51h0m0 5h0m0 18h0m0 9h0m0 42h0m1-192h0m0 167h0m1-135h0m0 68h0m0 54h0m1-104h0m0 85h0m1-112h0m0 48h0m0 23h0m0 45h0m1-88h0m0 71h0m0 14h0m1-73h0m0 1h0m0 41h0m0 85h0m1-187h0m1-19h0m0 79h0m0 21h0m0 11h0m0 25h0m0 2h0m0 31h0m1-121h0m0 38h0m0 6h0m0 32h0m0 7h0m0 17h0m0 12h0m0 10h0m0 12h0m0 25h0m1-126h0m0 6h0m1-33h0m0 18h0m0 12h0m0 13h0m0 13h0m0 3h0m0 76h0m1-110h0m0 5h0m0 19h0m0 3h0m0 20h0m0 4h0m0 29h0m0 20h0m1-173h0m0 15h0m0 22h0m0 35h0m0 1h0m0 18h0m0 4h0m0 1h0m0 26h0m0 27h0m1-143h0m0 79h0m0 8h0m0 37h0m0 2h0m0 24h0m0 0h0m1-94h0m0 26h0m0 2h0m0 8h0m0 0h0m0 0h0m0 6h0m0 4h0m0 8h0m0 29h0m0 1h0m0 32h0m1-180h0m0 71h0m0 3h0m0 3h0m0 22h0m0 46h0m0 31h0m1-194h0m0 43h0m0 10h0m0 17h0m0 8h0m0 14h0m0 4h0m0 4h0m0 25h0m0 6h0m0 11h0m0 0h0m0 12h0m0 14h0m1-153h0m0 68h0m0 1h0m0 50h0m0 0h0m0 83h0m1-129h0m0 13h0m0 14h0m0 3h0m0 3h0m1-79h0m0 45h0m0 21h0m0 4h0m0 5h0m0 22h0m0 9h0m0 1h0m0 3h0m0 11h0m0 18h0m1-116h0m0 15h0m0 25h0m0 31h0m0 4h0m0 49h0m0 28h0m1-165h0m0 1h0m0 9h0m0 24h0m0 48h0m0 6h0m0 4h0m0 1h0m0 6h0m0 46h0m0 31h0m0 5h0m1-185h0m0 18h0m0 11h0m0 13h0m0 1h0m0 1h0m0 5h0m0 14h0m0 0h0m0 0h0m0 3h0m0 25h0m0 4h0m0 12h0m0 14h0m0 1h0m0 1h0m0 4h0m0 48h0m1-220h0m0 52h0m0 4h0m0 7h0m0 1h0m0 22h0m0 1h0m0 3h0m0 7h0m0 3h0m0 5h0m0 1h0m0 38h0m0 2h0m0 1h0m0 39h0m0 32h0m1-173h0m0 3h0m0 9h0m0 1h0m0 21h0m0 4h0m0 9h0m0 4h0m0 9h0m0 3h0m0 20h0m0 12h0m0 1h0m0 6h0m0 51h0m0 34h0m1-96h0m0 2h0m0 0h0m0 25h0m0 52h0m0 18h0m1-186h0m0 23h0m0 22h0m0 30h0m0 7h0m0 10h0m0 3h0m0 4h0m0 7h0m0 5h0m0 4h0m0 5h0m0 19h0m0 38h0m1-217h0m0 2h0m0 75h0m0 5h0m0 3h0m0 7h0m0 2h0m0 14h0m0 9h0m0 34h0m0 5h0m0 4h0m0 1h0m1-130h0m0 8h0m0 5h0m0 26h0m0 8h0m0 3h0m0 4h0m0 13h0m0 15h0m0 1h0m0 25h0m0 45h0m0 8h0m1-205h0m0 58h0m0 39h0m0 6h0m0 1h0m0 3h0m0 7h0m0 24h0m0 4h0m0 11h0m0 9h0m0 1h0m0 6h0m1-105h0m0 12h0m0 20h0m0 9h0m0 2h0m0 14h0m0 10h0m0 3h0m0 7h0m0 1h0m0 16h0m0 18h0m0 35h0m0 10h0m1-166h0m0 10h0m0 1h0m0 10h0m0 1h0m0 38h0m0 3h0m0 4h0m0 5h0m0 5h0m0 10h0m0 10h0m0 1h0m0 45h0m0 2h0m1-177h0m0 41h0m0 16h0m0 14h0m0 5h0m0 6h0m0 21h0m0 25h0m0 4h0m0 2h0m0 10h0m0 25h0m0 29h0m1-201h0m0 23h0m0 7h0m0 0h0m0 6h0m0 9h0m0 12h0m0 26h0m0 6h0m0 3h0m0 13h0m0 22h0m0 13h0m0 2h0m0 9h0m0 0h0m1-151h0m0 14h0m0 19h0m0 12h0m0 0h0m0 16h0m0 12h0m0 10h0m0 5h0m0 3h0m0 17h0m0 5h0m0 8h0m0 5h0m0 2h0m0 3h0m0 8h0m0 11h0m0 20h0m0 3h0m0 1h0m0 11h0m1-215h0m0 12h0m0 17h0m0 52h0m0 0h0m0 13h0m0 3h0m0 14h0m0 42h0m0 0h0m0 3h0m0 6h0m0 0h0m0 14h0m0 1h0m0 8h0m0 12h0m0 0h0m0 23h0m0 2h0m1-168h0m0 11h0m0 2h0m0 3h0m0 19h0m0 5h0m0 18h0m0 8h0m0 42h0m0 7h0m0 0h0m0 10h0m0 0h0m0 39h0m0 25h0m1-182h0m0 10h0m0 2h0m0 9h0m0 14h0m0 11h0m0 4h0m0 74h0m0 19h0m0 2h0m0 16h0m0 6h0m1-176h0m0 13h0m0 3h0m0 5h0m0 2h0m0 1h0m0 3h0m0 101h0m0 16h0m0 1h0m0 10h0m1-178h0m0 15h0m0 25h0m0 1h0m0 3h0m0 15h0m0 1h0m0 1h0m0 7h0m0 1h0m0 0h0m0 5h0m0 5h0m0 4h0m0 59h0m0 3h0m0 32h0m0 15h0m0 20h0m1-241h0m0 51h0m0 27h0m0 2h0m0 2h0m0 15h0m0 1h0m0 13h0m0 61h0m0 3h0m0 2h0m0 6h0m0 6h0m0 18h0m0 4h0m1-165h0m0 67h0m0 68h0m0 9h0m0 1h0m1-159h0m0 17h0m0 6h0m0 7h0m0 1h0m0 10h0m0 5h0m0 31h0m0 70h0m0 1h0m0 2h0m0 4h0m0 16h0m0 19h0m1-215h0m0 43h0m0 5h0m0 12h0m0 5h0m0 7h0m0 101h0m0 2h0m0 15h0m0 6h0m0 5h0m1-205h0m0 29h0m0 9h0m0 28h0m0 2h0m0 4h0m0 106h0m0 5h0m0 4h0m1-155h0m0 12h0m0 5h0m0 6h0m0 8h0m0 148h0m0 5h0m0 15h0m1-208h0m0 5h0m0 152h0m0 3h0m0 11h0m1-171h0m0 13h0m0 16h0m0 6h0m0 0h0m0 125h0m0 6h0m0 6h0m1-157h0m0 22h0m0 3h0m0 3h0m0 117h0m0 3h0m0 7h0m0 4h0m0 8h0m0 21h0m1-200h0m0 15h0m0 5h0m0 18h0m0 123h0m0 7h0m0 2h0m0 5h0m0 1h0m0 3h0m0 1h0m0 3h0m0 10h0m1-189h0m0 26h0m0 2h0m0 8h0m0 127h0m0 8h0m0 0h0m0 16h0m0 5h0m1-198h0m0 27h0m0 7h0m0 6h0m0 128h0m0 4h0m0 6h0m1-190h0m0 11h0m0 13h0m0 6h0m0 21h0m0 130h0m0 0h0m0 4h0m0 2h0m0 1h0m0 13h0m1-195h0m0 9h0m0 24h0m0 2h0m0 140h0m0 12h0m0 9h0m1-204h0m0 197h0m0 1h0m0 8h0m1-228h0m0 62h0m0 2h0m1-27h0m0 10h0m0 3h0m0 3h0m0 16h0m0 138h0m0 6h0m1-173h0m0 20h0m0 0h0m0 0h0m0 171h0m1-183h0m0 12h0m0 1h0m0 5h0m0 161h0m0 5h0m0 5h0m1-224h0m0 24h0m0 3h0m0 16h0m0 1h0m0 151h0m0 3h0m0 2h0m0 7h0m0 6h0m0 21h0m1-229h0m0 28h0m0 3h0m0 4h0m0 3h0m0 6h0m0 0h0m0 154h0m0 30h0m1-215h0m0 9h0m0 15h0m0 2h0m0 5h0m0 161h0m0 15h0m1-231h0m0 20h0m0 23h0m0 4h0m0 2h0m0 3h0m0 152h0m0 3h0m0 1h0m0 4h0m0 1h0m1-180h0m0 11h0m0 177h0m0 0h0m0 9h0m0 12h0m0 6h0m1-229h0m0 8h0m0 4h0m0 0h0m0 8h0m0 3h0m0 2h0m0 5h0m0 0h0m0 2h0m0 154h0m0 4h0m0 3h0m0 32h0m1-213h0m0 6h0m0 172h0m0 0h0m0 5h0m0 6h0m1-187h0m0 10h0m0 171h0m0 2h0m1-197h0m0 7h0m0 2h0m0 5h0m0 7h0m0 4h0m0 170h0m0 6h0m0 6h0m0 14h0m0 9h0m1-232h0m0 24h0m0 5h0m1 161h0m0 19h0m0 11h0m1-214h0m0 4h0m0 7h0m0 2h0m0 2h0m0 168h0m0 5h0m0 12h0m1-201h0m0 15h0m0 173h0m0 6h0m0 0h0m1-183h0m0 11h0m0 176h0m1-198h0m0 8h0m0 2h0m0 9h0m0 2h0m0 165h0m0 10h0m0 2h0m0 8h0m1-197h0m0 7h0m0 4h0m0 175h0m0 8h0m0 1h0m0 10h0m1-28h0m0 10h0m0 2h0m0 5h0m0 24h0m0 1h0m1-238h0m0 0h0m0 22h0m0 174h0m0 7h0m0 3h0m0 17h0m1-237h0m0 7h0m0 27h0m0 9h0m0 171h0m0 9h0m0 1h0m0 10h0m0 5h0m1-229h0m0 9h0m0 21h0m0 177h0m1-205h0m0 18h0m0 5h0m0 3h0m0 175h0m0 1h0m1-194h0m0 1h0m0 2h0m0 189h0m0 1h0m0 6h0m0 2h0m1-197h0m0 11h0m0 180h0m0 5h0m0 1h0m0 13h0m1-234h0m0 12h0m0 2h0m0 234h0m1-226h0m0 2h0m0 3h0m0 4h0m0 3h0m0 2h0m0 0h0m0 2h0m1-31h0m0 14h0m0 18h0m0 197h0m1-208h0m0 2h0m0 1h0m0 5h0m0 179h0m0 1h0m0 1h0m0 2h0m0 1h0m0 11h0m0 8h0m0 5h0m1-235h0m0 20h0m0 0h0m0 195h0m0 1h0m0 4h0m1-235h0m0 17h0m0 1h0m0 15h0m0 4h0m0 206h0m1-231h0m0 211h0m0 6h0m0 4h0m0 10h0m1-18h0m0 4h0m0 17h0m1-242h0m0 35h0m0 1h0m0 183h0m0 1h0m0 19h0m1-224h0m0 16h0m0 199h0m0 22h0m1-253h0m0 7h0m0 14h0m0 10h0m0 196h0m0 3h0m1-2h0m1-208h0m0 2h0m0 1h0m0 13h0m1-11h0m0 5h0m0 195h0m0 30h0m1-223h0m0 2h0m0 187h0m0 9h0m0 11h0m0 1h0m1-226h0m0 14h0m0 2h0m1-13h0m0 14h0m0 197h0m1-211h0m0 198h0m0 11h0m1-11h0m0 2h0m0 17h0m1-222h0m0 13h0m0 3h0m0 186h0m0 5h0m0 2h0m0 1h0m0 9h0m1-222h0m0 6h0m0 5h0m0 192h0m0 10h0m0 4h0m0 24h0m1-249h0m0 17h0m0 2h0m0 0h0m0 5h0m0 195h0m0 4h0m1-222h0m0 15h0m0 200h0m0 5h0m0 28h0m1-252h0m0 2h0m0 6h0m0 6h0m0 2h0m0 12h0m0 189h0m1-209h0m0 5h0m0 7h0m0 194h0m0 3h0m0 8h0m0 1h0m1-215h0m0 6h0m0 4h0m0 1h0m0 2h0m0 193h0m0 5h0m0 6h0m0 6h0m0 2h0m1-225h0m0 15h0m0 1h0m0 194h0m1-215h0m0 7h0m0 218h0m0 9h0m1 12h0m1-242h0m0 1h0m0 8h0m0 3h0m0 1h0m0 0h0m0 200h0m1-210h0m0 3h0m0 1h0m0 5h0m0 4h0m0 190h0m0 0h0m0 4h0m0 3h0m0 27h0m1-244h0m0 18h0m0 194h0m0 25h0m1-237h0m0 207h0m0 2h0m0 1h0m0 1h0m0 9h0m0 12h0m0 17h0m1-231h0m0 188h0m0 5h0m0 15h0m0 5h0m1-223h0m0 3h0m0 199h0m0 0h0m0 4h0m0 9h0m0 13h0m1-223h0m0 194h0m0 0h0m0 8h0m0 9h0m1-211h0m0 198h0m0 14h0m1-209h0m0 198h0m0 2h0m0 3h0m1-206h0m0 209h0m0 17h0m1-244h0m0 10h0m0 217h0m0 9h0m1-238h0m0 0h0m0 233h0m1-220h0m0 207h0m0 3h0m0 5h0m0 3h0m0 7h0m1-234h0m0 11h0m0 2h0m0 3h0m0 197h0m0 3h0m0 3h0m1-223h0m0 14h0m0 202h0m1-201h0m0 6h0m0 0h0m0 195h0m0 4h0m0 6h0m0 1h0m1-221h0m0 213h0m0 0h0m0 7h0m0 8h0m0 2h0m1-231h0m0 213h0m0 1h0m0 16h0m1-216h0m0 201h0m0 21h0m1-240h0m0 1h0m0 223h0m1-209h0m0 3h0m0 216h0m1-232h0m0 216h0m0 5h0m0 7h0m0 6h0m1-218h0m0 212h0m1-226h0m0 8h0m0 2h0m0 11h0m0 190h0m0 0h0m0 2h0m0 15h0m1-222h0m0 14h0m0 194h0m0 4h0m0 2h0m0 16h0m1-24h0m1-211h0m0 214h0m0 17h0m1-231h0m0 11h0m0 0h0m0 3h0m0 218h0m1-228h0m0 2h0m0 13h0m0 1h0m0 187h0m0 12h0m0 4h0m0 10h0m0 6h0m1-238h0m0 3h0m0 16h0m0 196h0m0 3h0m0 24h0m1-237h0m0 200h0m0 0h0m0 14h0m0 0h0m0 32h0m1-251h0m0 6h0m0 0h0m0 1h0m0 4h0m0 198h0m0 2h0m0 0h0m0 22h0m1-237h0m0 22h0m0 190h0m1-204h0m0 10h0m0 194h0m0 7h0m0 10h0m0 0h0m1-207h0m0 182h0m0 2h0m0 13h0m0 4h0m1-219h0m0 3h0m0 1h0m0 12h0m0 2h0m0 181h0m0 3h0m0 5h0m0 25h0m1-220h0m0 8h0m0 179h0m0 4h0m1-200h0m0 8h0m0 5h0m0 199h0m1-198h0m0 1h0m0 189h0m0 1h0m0 4h0m0 8h0m1-228h0m0 13h0m0 193h0m0 9h0m0 3h0m1-216h0m0 2h0m0 11h0m0 11h0m0 187h0m0 2h0m1-203h0m0 2h0m0 14h0m0 176h0m0 6h0m0 8h0m1-189h0m0 1h0m0 180h0m0 7h0m1-199h0m0 6h0m1-20h0m0 20h0m0 6h0m0 174h0m1-178h0m0 5h0m0 178h0m0 50h0m1-245h0m0 1h0m0 5h0m0 1h0m0 1h0m0 4h0m0 177h0m0 2h0m0 6h0m0 13h0m0 14h0m1-235h0m0 11h0m0 4h0m0 7h0m0 177h0m0 4h0m0 53h0m1-245h0m0 1h0m0 13h0m0 1h0m0 1h0m0 172h0m0 1h0m0 10h0m0 11h0m0 22h0m1-233h0m0 5h0m0 4h0m0 176h0m0 1h0m0 3h0m0 1h0m0 35h0m1-229h0m0 9h0m0 12h0m0 169h0m0 9h0m0 11h0m0 5h0m1-221h0m0 16h0m0 4h0m0 5h0m0 2h0m0 1h0m0 173h0m0 10h0m0 3h0m0 8h0m0 3h0m0 7h0m1-229h0m0 8h0m0 182h0m0 5h0m0 1h0m0 1h0m0 5h0m0 11h0m0 31h0m1-246h0m0 19h0m0 4h0m0 167h0m0 8h0m1-197h0m0 11h0m0 10h0m0 169h0m0 11h0m1-195h0m0 5h0m0 9h0m0 167h0m0 11h0m1-192h0m0 8h0m0 165h0m0 1h0m0 2h0m0 10h0m0 8h0m0 4h0m0 3h0m0 19h0m1-231h0m0 16h0m0 8h0m0 1h0m0 169h0m0 10h0m1-199h0m0 7h0m0 21h0m0 141h0m0 9h0m0 11h0m1-170h0m0 5h0m0 154h0m0 5h0m0 6h0m0 25h0m1-207h0m0 19h0m0 140h0m0 3h0m0 5h0m0 9h0m0 4h0m1-193h0m0 27h0m0 2h0m0 4h0m0 139h0m0 8h0m1-168h0m0 161h0m0 0h0m0 3h0m0 5h0m0 2h0m0 1h0m0 0h0m0 2h0m0 2h0m0 7h0m0 6h0m0 5h0m1-193h0m0 0h0m0 3h0m0 8h0m0 11h0m0 147h0m0 1h0m0 7h0m0 53h0m0 8h0m1-237h0m0 2h0m0 8h0m0 1h0m0 4h0m0 3h0m0 2h0m0 2h0m0 1h0m0 141h0m0 21h0m0 3h0m0 2h0m1-201h0m0 20h0m0 0h0m0 15h0m0 159h0m1-193h0m0 24h0m0 3h0m0 4h0m0 145h0m0 23h0m0 24h0m1-212h0m0 23h0m0 139h0m0 9h0m0 0h0m0 67h0m1-216h0m0 2h0m0 137h0m0 17h0m0 8h0m0 6h0m1-190h0m0 2h0m0 8h0m0 6h0m0 3h0m0 1h0m0 135h0m1-160h0m0 27h0m0 1h0m0 131h0m0 7h0m0 26h0m0 20h0m1-209h0m0 4h0m0 5h0m0 2h0m0 3h0m0 142h0m0 6h0m0 1h0m0 10h0m0 11h0m1-188h0m0 18h0m0 4h0m0 140h0m0 4h0m0 18h0m0 1h0m0 0h0m0 9h0m0 16h0m1-183h0m0 155h0m0 23h0m1-208h0m0 11h0m0 160h0m0 11h0m0 23h0m0 17h0m1-201h0m0 7h0m0 143h0m0 1h0m0 3h0m1-179h0m0 15h0m0 15h0m0 12h0m0 124h0m0 11h0m0 15h0m0 1h0m1-149h0m0 119h0m0 9h0m0 2h0m0 2h0m0 1h0m0 4h0m0 5h0m0 1h0m0 3h0m0 22h0m1-201h0m0 4h0m0 7h0m0 15h0m0 4h0m0 120h0m0 11h0m0 4h0m0 29h0m1-192h0m0 14h0m0 10h0m0 4h0m0 9h0m0 129h0m0 11h0m0 10h0m0 12h0m1-71h0m0 14h0m0 10h0m0 21h0m1-154h0m0 7h0m0 107h0m0 27h0m0 22h0m0 5h0m1-186h0m0 5h0m0 6h0m0 10h0m0 98h0m0 3h0m1-124h0m0 14h0m0 27h0m0 1h0m0 70h0m0 1h0m0 7h0m0 1h0m0 4h0m0 31h0m0 1h0m0 3h0m0 3h0m0 29h0m1-193h0m0 1h0m0 10h0m0 17h0m0 3h0m0 8h0m0 4h0m0 64h0m0 6h0m0 6h0m0 4h0m0 10h0m0 2h0m0 0h0m0 25h0m0 31h0m1-179h0m0 7h0m0 6h0m0 9h0m0 48h0m0 1h0m0 20h0m0 11h0m0 14h0m0 0h0m0 6h0m0 11h0m0 7h0m0 2h0m0 3h0m0 64h0m1-210h0m0 1h0m0 2h0m0 3h0m0 59h0m0 24h0m0 1h0m0 16h0m0 1h0m0 31h0m0 11h0m0 17h0m1-151h0m0 11h0m0 2h0m0 2h0m0 34h0m0 4h0m0 21h0m0 2h0m0 12h0m0 23h0m0 2h0m0 2h0m0 0h0m0 17h0m0 60h0m1-229h0m0 31h0m0 10h0m0 10h0m0 11h0m0 29h0m0 11h0m0 2h0m0 4h0m0 3h0m0 1h0m0 7h0m0 13h0m0 0h0m0 1h0m0 4h0m0 7h0m0 4h0m0 6h0m0 14h0m0 3h0m0 2h0m0 17h0m1-177h0m0 36h0m0 6h0m0 6h0m0 1h0m0 19h0m0 8h0m0 0h0m0 4h0m0 9h0m0 1h0m0 0h0m0 9h0m0 16h0m0 7h0m0 9h0m0 11h0m0 3h0m0 2h0m0 0h0m0 3h0m0 1h0m1-168h0m0 19h0m0 26h0m0 3h0m0 7h0m0 23h0m0 4h0m0 6h0m0 7h0m0 1h0m0 4h0m0 8h0m0 0h0m0 6h0m0 25h0m0 11h0m0 13h0m0 18h0m1-171h0m0 17h0m0 1h0m0 17h0m0 4h0m0 6h0m0 4h0m0 26h0m0 3h0m0 0h0m0 6h0m0 8h0m0 10h0m0 3h0m0 6h0m0 13h0m0 4h0m0 5h0m0 12h0m0 3h0m0 0h0m0 2h0m0 2h0m0 4h0m0 18h0m1-138h0m0 3h0m0 1h0m0 5h0m0 2h0m0 4h0m0 2h0m0 7h0m0 14h0m0 45h0m0 2h0m0 6h0m0 1h0m0 24h0m1-144h0m0 58h0m0 22h0m0 0h0m0 5h0m0 34h0m0 18h0m0 43h0m1-193h0m0 55h0m0 15h0m0 23h0m0 1h0m0 7h0m0 6h0m0 6h0m0 10h0m0 2h0m0 2h0m0 13h0m0 1h0m0 4h0m0 5h0m0 18h0m0 9h0m1-143h0m0 9h0m0 20h0m0 4h0m0 1h0m0 12h0m0 8h0m0 2h0m0 3h0m0 7h0m0 11h0m0 19h0m0 6h0m0 6h0m0 16h0m1-130h0m0 11h0m0 17h0m0 7h0m0 37h0m0 5h0m0 2h0m0 7h0m0 12h0m1-107h0m0 7h0m0 5h0m0 4h0m0 3h0m0 80h0m0 7h0m0 3h0m0 6h0m0 1h0m1-108h0m0 23h0m0 7h0m0 4h0m0 8h0m0 9h0m0 6h0m0 13h0m0 26h0m0 10h0m0 2h0m0 4h0m0 6h0m0 42h0m1-175h0m0 47h0m0 9h0m0 10h0m0 32h0m0 3h0m0 4h0m0 21h0m0 14h0m0 40h0m1-165h0m0 28h0m0 1h0m0 15h0m0 4h0m0 1h0m0 23h0m0 29h0m0 15h0m0 50h0m0 30h0m1-218h0m0 26h0m0 28h0m0 5h0m0 8h0m0 6h0m0 18h0m0 9h0m0 11h0m0 1h0m0 8h0m0 16h0m0 25h0m1-159h0m0 88h0m0 19h0m0 3h0m0 1h0m0 21h0m0 2h0m0 14h0m1-151h0m0 5h0m0 14h0m0 5h0m0 3h0m0 34h0m0 12h0m0 33h0m0 6h0m0 8h0m0 20h0m0 2h0m0 21h0m1-144h0m0 2h0m0 22h0m0 15h0m0 54h0m0 16h0m0 8h0m0 8h0m0 27h0m1-148h0m0 41h0m0 22h0m0 12h0m0 3h0m0 9h0m0 24h0m0 52h0m1-179h0m0 55h0m0 8h0m0 13h0m0 13h0m0 58h0m1-105h0m0 45h0m0 0h0m0 3h0m1-54h0m0 25h0m0 24h0m0 6h0m0 53h0m1-92h0m0 1h0m0 41h0m0 35h0m0 18h0m1-136h0m0 5h0m0 6h0m0 28h0m0 1h0m0 19h0m0 2h0m0 3h0m0 12h0m0 7h0m1-86h0m0 1h0m0 15h0m0 18h0m0 24h0m0 3h0m0 51h0m0 2h0m0 0h0m0 7h0m0 1h0m1-76h0m0 14h0m0 9h0m0 26h0m0 14h0m0 16h0m1-119h0m0 60h0m1-43h0m0 44h0m0 5h0m0 10h0m0 3h0m0 0h0m0 3h0m0 12h0m0 66h0m1-190h0m0 77h0m0 25h0m0 9h0m1-83h0m0 39h0m0 23h0m0 0h0m0 4h0m0 8h0m0 3h0m0 1h0m0 23h0m0 18h0m0 29h0m1-112h0m0 24h0m0 32h0m0 7h0m0 93h0m1-202h0m0 74h0m0 58h0m1-104h0m1 19h0m0 14h0m0 11h0m0 21h0m0 20h0m1-51h0m0 11h0m1-77h0m0 88h0m1-37h0m0 11h0m0 21h0m0 34h0m1-98h0m0 58h0m0 2h0m0 51h0m0 37h0m1-153h0m1-17h0m0 78h0m0 9h0m0 108h0m1-163h0m0 58h0m0 111h0m1-158h0m0 22h0m0 30h0m0 0h0m1 21h0m0 73h0m1-137h0m0 2h0m0 22h0m0 21h0m0 58h0"/>
<path fill="#fff" fill-rule="evenodd" d="M246.6 536.7L249 537.8L255.5 540.9L262 536.7L262 536.7L268.6 536.7L268.6 536.7L275.1 539L278.2 536.7L281.6 533.2L288.1 531L288.9 530.2L292.8 523.7L293.8 517.2L294.6 514.8L301.1 514.9L304.9 510.7L304.7 504.2L306.2 497.7L306.8 491.2L307.6 488.3L308.8 484.7L307.6 479.3L307.3 478.2L307.6 477.4L309.2 471.7L310.7 465.2L307.6 460.7L305.7 458.7L302.1 452.2L301.1 450.5L294.6 446.4L288.1 445.7L288.1 445.7L281.6 443.8L275.1 443.1L268.6 442.5L262 445.7L262 445.7L255.5 449.5L251.2 452.2L249 453.4L242.5 458L241.9 458.7L237.6 465.2L236 467.3L232.8 471.7L229.5 476.9L229.1 478.2L229.5 480.4L230.3 484.7L230.8 491.2L229.5 493.1L225.6 497.7L227.2 504.2L227.4 510.7L227.8 517.2L229.5 519.5L232.1 523.7L234.7 530.2L236 531.9L242.5 535.6L246.6 536.7Z"/>
<g transform="translate(200.25 429.4) scale(6.5050)" shape-rendering="crispEdges">
<path fill="#fafafa" d="M3 9h1v1h-1zM4 14h1v1h-1zM4 9h1v1h-1zM4 8h1v1h-1zM4 7h1v1h-1zM4 6h1v1h-1zM5 16h1v1h-1zM5 15h1v1h-1zM5 5h1v1h-1zM6 16h1v1h-1zM6 4h1v1h-1zM7 16h1v1h-1zM7 3h1v1h-1zM8 17h1v1h-1zM9 16h1v1h-1zM9 2h1v1h-1zM9 1h1v1h-1zM10 16h1v1h-1zM12 2h1v1h-1zM12 1h1v1h-1zM13 15h1v1h-1zM13 2h1v1h-1zM13 1h1v1h-1zM14 14h1v1h-1zM14 13h1v1h-1zM14 2h1v1h-1zM15 13h1v1h-1zM15 3h1v1h-1zM15 2h1v1h-1zM16 12h1v1h-1zM16 11h1v1h-1zM16 10h1v1h-1zM16 9h1v1h-1zM16 7h1v1h-1zM16 4h1v1h-1z"/>
<path fill="#f5f5f5" d="M4 13h1v1h-1zM4 12h1v1h-1zM4 11h1v1h-1zM5 14h1v1h-1zM5 12h1v1h-1zM5 7h1v1h-1zM5 6h1v1h-1zM6 5h1v1h-1zM7 15h1v1h-1zM8 3h1v1h-1zM10 2h1v1h-1zM11 16h1v1h-1zM11 2h1v1h-1zM12 15h1v1h-1zM13 14h1v1h-1zM14 12h1v1h-1zM15 12h1v1h-1zM15 11h1v1h-1zM15 4h1v1h-1zM16 8h1v1h-1zM16 6h1v1h-1zM16 5h1v1h-1z"/>
<path fill="#f0f0f0" d="M4 10h1v1h-1zM5 13h1v1h-1zM6 15h1v1h-1zM7 4h1v1h-1zM8 16h1v1h-1zM8 15h1v1h-1zM14 11h1v1h-1zM14 4h1v1h-1zM14 3h1v1h-1zM15 7h1v1h-1z"/>
<path fill="#ebebeb" d="M5 11h1v1h-1zM5 9h1v1h-1zM5 8h1v1h-1zM6 14h1v1h-1zM6 6h1v1h-1zM8 4h1v1h-1zM9 15h1v1h-1zM9 3h1v1h-1zM10 15h1v1h-1zM11 15h1v1h-1zM12 14h1v1h-1zM15 10h1v1h-1zM15 9h1v1h-1zM15 6h1v1h-1zM15 5h1v1h-1z"/>
<path fill="#e6e6e6" d="M5 10h1v1h-1zM10 3h1v1h-1zM12 3h1v1h-1zM13 13h1v1h-1zM13 3h1v1h-1zM15 8h1v1h-1z"/>
<path fill="#e1e1e1" d="M6 13h1v1h-1zM7 5h1v1h-1z"/>
<path fill="#dcdcdc" d="M6 9h1v1h-1zM7 14h1v1h-1zM10 14h1v1h-1zM12 4h1v1h-1zM13 12h1v1h-1z"/>
<path fill="#d7d7d7" d="M6 12h1v1h-1zM6 7h1v1h-1zM8 5h1v1h-1zM14 10h1v1h-1zM14 5h1v1h-1z"/>
<path fill="#d2d2d2" d="M6 11h1v1h-1zM6 8h1v1h-1zM7 6h1v1h-1zM8 14h1v1h-1zM9 14h1v1h-1zM10 4h1v1h-1zM11 14h1v1h-1zM13 4h1v1h-1zM14 9h1v1h-1zM14 6h1v1h-1z"/>
<path fill="#cdcdcd" d="M7 7h1v1h-1zM11 3h1v1h-1zM12 13h1v1h-1zM14 7h1v1h-1z"/>
<path fill="#c8c8c8" d="M6 10h1v1h-1z"/>
<path fill="#c3c3c3" d="M7 13h1v1h-1zM8 13h1v1h-1zM9 4h1v1h-1zM13 11h1v1h-1zM13 10h1v1h-1zM14 8h1v1h-1z"/>
<path fill="#bebebe" d="M7 11h1v1h-1zM11 13h1v1h-1zM12 12h1v1h-1zM13 5h1v1h-1z"/>
<path fill="#b9b9b9" d="M11 4h1v1h-1zM13 6h1v1h-1z"/>
<path fill="#b4b4b4" d="M7 12h1v1h-1zM8 6h1v1h-1zM13 9h1v1h-1zM13 7h1v1h-1z"/>
<path fill="#afafaf" d="M7 8h1v1h-1zM13 8h1v1h-1z"/>
<path fill="#aaaaaa" d="M9 13h1v1h-1z"/>
<path fill="#a5a5a5" d="M7 10h1v1h-1zM9 5h1v1h-1zM10 13h1v1h-1z"/>
<path fill="#a0a0a0" d="M7 9h1v1h-1zM8 12h1v1h-1z"/>
<path fill="#9b9b9b" d="M9 12h1v1h-1zM12 5h1v1h-1z"/>
<path fill="#969696" d="M10 5h1v1h-1z"/>
<path fill="#919191" d="M11 5h1v1h-1z"/>
<path fill="#8c8c8c" d="M8 7h1v1h-1zM10 12h1v1h-1z"/>
<path fill="#878787" d="M9 7h1v1h-1zM10 6h1v1h-1zM11 11h1v1h-1zM12 11h1v1h-1zM12 10h1v1h-1z"/>
<path fill="#828282" d="M11 12h1v1h-1z"/>
<path fill="#7d7d7d" d="M8 11h1v1h-1zM12 6h1v1h-1z"/>
<path fill="#787878" d="M12 9h1v1h-1z"/>
<path fill="#737373" d="M8 9h1v1h-1zM8 8h1v1h-1z"/>
<path fill="#6e6e6e" d="M12 8h1v1h-1zM12 7h1v1h-1z"/>
<path fill="#646464" d="M11 10h1v1h-1z"/>
<path fill="#5a5a5a" d="M8 10h1v1h-1zM9 6h1v1h-1z"/>
<path fill="#555555" d="M10 7h1v1h-1z"/>
<path fill="#4b4b4b" d="M10 11h1v1h-1z"/>
<path fill="#464646" d="M9 11h1v1h-1zM9 10h1v1h-1z"/>
<path fill="#3c3c3c" d="M11 7h1v1h-1zM11 6h1v1h-1z"/>
<path fill="#373737" d="M9 9h1v1h-1zM10 9h1v1h-1zM11 8h1v1h-1z"/>
<path fill="#2d2d2d" d="M9 8h1v1h-1z"/>
<path fill="#1e1e1e" d="M10 10h1v1h-1z"/>
<path fill="#0f0f0f" d="M10 8h1v1h-1z"/>
<path fill="#000000" d="M11 9h1v1h-1z"/>
</g>
<path class="ct" d="M246.6 536.7L249 537.8L255.5 540.9L262 536.7L262 536.7L268.6 536.7L268.6 536.7L275.1 539L278.2 536.7L281.6 533.2L288.1 531L288.9 530.2L292.8 523.7L293.8 517.2L294.6 514.8L301.1 514.9L304.9 510.7L304.7 504.2L306.2 497.7L306.8 491.2L307.6 488.3L308.8 484.7L307.6 479.3L307.3 478.2L307.6 477.4L309.2 471.7L310.7 465.2L307.6 460.7L305.7 458.7L302.1 452.2L301.1 450.5L294.6 446.4L288.1 445.7L288.1 445.7L281.6 443.8L275.1 443.1L268.6 442.5L262 445.7L262 445.7L255.5 449.5L251.2 452.2L249 453.4L242.5 458L241.9 458.7L237.6 465.2L236 467.3L232.8 471.7L229.5 476.9L229.1 478.2L229.5 480.4L230.3 484.7L230.8 491.2L229.5 493.1L225.6 497.7L227.2 504.2L227.4 510.7L227.8 517.2L229.5 519.5L232.1 523.7L234.7 530.2L236 531.9L242.5 535.6ZM245.5 523.7L249 525.6L255.5 526.8L262 528.7L268.6 527.2L275.1 527.7L279.2 523.7L281.6 521.7L287.9 517.2L288.1 516.5L289.3 510.7L292.3 504.2L294.6 500.3L297.9 497.7L298.3 491.2L300.1 484.7L298.3 478.2L298.4 471.7L298.7 465.2L294.6 462L291.7 458.7L288.1 452.2L281.6 452.2L281.6 452.2L275.1 449L269.5 452.2L268.6 453.3L262 454L257.3 458.7L255.5 461.7L249 464.2L248.3 465.2L244.7 471.7L242.5 474.1L240 478.2L238.4 484.7L240.1 491.2L236.7 497.7L238.3 504.2L240 510.7L241.4 517.2L242.5 519.3ZM266.9 517.2L268.6 517.4L269.1 517.2L275.1 514.4L278.7 510.7L281.6 507.5L284.6 504.2L284.8 497.7L286.3 491.2L287 484.7L286.6 478.2L285.7 471.7L283.2 465.2L281.6 464.4L275.1 461.7L268.6 463.7L262 465.2L262 465.2L256.9 471.7L255.5 474.3L253.3 478.2L250.2 484.7L249 488.4L248.5 491.2L249 496.8L249.2 497.7L251.7 504.2L254.2 510.7L255.5 511.4L262 514.8ZM263.5 497.7L268.6 502.2L271.3 497.7L275.1 494.9L278.1 491.2L276 484.7L275.4 478.2L275.1 471.7L274.2 478.2L268.6 480.5L262 483.7L260.7 484.7L261.5 491.2L262 493.6Z"/>
</g>
<g clip-path="url(#c32)">
<path class="pt" transform="translate(336.85 429.4) scale(.5)" d="m0 216h0m0 8h0m0 11h0m0 4h0m0 14h0m1-156h0m0 64h0m0 32h0m0 5h0m0 7h0m0 13h0m0 12h0m0 10h0m0 4h0m1-51h0m0 10h0m0 15h0m0 8h0m1-93h0m0 37h0m0 5h0m0 6h0m0 10h0m0 5h0m0 31h0m0 13h0m0 7h0m1-114h0m0 10h0m0 8h0m0 63h0m0 2h0m0 11h0m0 11h0m0 1h0m0 6h0m0 15h0m1-109h0m0 19h0m0 20h0m0 54h0m0 16h0m1-129h0m0 26h0m0 25h0m0 11h0m0 2h0m0 0h0m0 5h0m0 20h0m0 39h0m1-88h0m0 13h0m0 10h0m0 23h0m1-95h0m0 26h0m0 7h0m0 18h0m0 3h0m0 18h0m0 7h0m0 19h0m0 6h0m0 32h0m1-75h0m0 37h0m0 1h0m0 20h0m0 16h0m1-129h0m0 20h0m0 20h0m0 16h0m0 4h0m0 22h0m0 25h0m0 21h0m1-110h0m0 10h0m0 13h0m0 13h0m0 0h0m0 24h0m0 1h0m0 13h0m0 2h0m0 21h0m0 9h0m1-121h0m0 4h0m0 12h0m0 17h0m0 16h0m0 3h0m0 16h0m0 19h0m0 19h0m0 23h0m1-139h0m0 50h0m0 26h0m0 1h0m0 5h0m0 3h0m0 23h0m0 3h0m0 0h0m1-117h0m0 10h0m0 52h0m0 2h0m0 3h0m0 2h0m0 1h0m0 0h0m0 11h0m0 8h0m0 3h0m0 0h0m0 0h0m0 0h0m0 8h0m0 15h0m0 3h0m0 24h0m0 1h0m1-164h0m0 31h0m0 26h0m0 6h0m0 12h0m0 11h0m0 11h0m0 7h0m0 41h0m1-131h0m0 24h0m0 6h0m0 11h0m0 15h0m0 1h0m0 2h0m0 11h0m0 0h0m0 2h0m0 1h0m0 10h0m0 1h0m0 14h0m0 5h0m0 5h0m0 2h0m0 3h0m0 22h0m0 8h0m1-172h0m0 11h0m0 1h0m0 8h0m0 17h0m0 21h0m0 12h0m0 3h0m0 7h0m0 5h0m0 2h0m0 5h0m0 5h0m0 2h0m0 6h0m0 0h0m0 4h0m0 13h0m0 2h0m0 4h0m0 16h0m0 3h0m1-159h0m0 20h0m0 44h0m0 16h0m0 9h0m0 3h0m0 15h0m0 4h0m0 1h0m0 8h0m0 4h0m0 2h0m0 1h0m0 10h0m0 2h0m0 16h0m0 1h0m0 10h0m1-75h0m0 5h0m0 4h0m0 9h0m0 13h0m0 1h0m0 2h0m0 3h0m0 5h0m0 11h0m0 21h0m0 15h0m0 9h0m1-148h0m0 10h0m0 10h0m0 7h0m0 13h0m0 6h0m0 12h0m0 10h0m0 9h0m0 18h0m0 2h0m0 13h0m0 0h0m0 11h0m0 23h0m0 8h0m1-159h0m0 4h0m0 38h0m0 11h0m0 2h0m0 2h0m0 0h0m0 9h0m0 0h0m0 38h0m0 1h0m0 2h0m0 4h0m1-106h0m0 30h0m0 1h0m0 0h0m0 2h0m0 4h0m0 1h0m0 63h0m0 1h0m0 4h0m0 9h0m0 9h0m1-116h0m0 5h0m0 0h0m0 5h0m0 21h0m0 8h0m0 0h0m0 3h0m0 2h0m0 51h0m0 0h0m0 4h0m0 7h0m1-169h0m0 55h0m0 18h0m0 5h0m0 1h0m0 7h0m0 7h0m0 2h0m0 66h0m0 15h0m1-119h0m0 32h0m0 74h0m0 11h0m0 2h0m0 1h0m0 20h0m1-181h0m0 40h0m0 7h0m0 1h0m0 6h0m0 9h0m0 3h0m0 1h0m0 3h0m0 76h0m0 5h0m0 0h0m0 8h0m0 4h0m0 1h0m0 2h0m0 0h0m0 10h0m0 8h0m0 7h0m1-164h0m0 5h0m0 19h0m0 16h0m0 0h0m0 83h0m0 8h0m0 8h0m0 7h0m0 2h0m0 8h0m0 5h0m1-156h0m0 22h0m0 5h0m0 2h0m0 3h0m0 2h0m0 84h0m0 5h0m0 3h0m0 1h0m0 1h0m1-119h0m0 113h0m0 6h0m0 9h0m1-146h0m0 3h0m0 0h0m0 10h0m0 3h0m0 8h0m0 110h0m0 5h0m1-147h0m0 27h0m0 4h0m0 4h0m0 112h0m0 0h0m1-173h0m0 35h0m0 14h0m0 2h0m0 1h0m0 14h0m0 6h0m0 0h0m0 0h0m0 100h0m0 0h0m0 3h0m1-187h0m0 38h0m0 19h0m0 8h0m0 4h0m0 115h0m1-125h0m0 4h0m0 1h0m0 2h0m0 6h0m0 7h0m0 118h0m0 2h0m0 8h0m0 1h0m1-172h0m0 14h0m0 17h0m0 6h0m0 2h0m0 0h0m0 109h0m0 9h0m1-170h0m0 7h0m0 3h0m0 17h0m0 21h0m0 3h0m1 118h0m0 2h0m1-177h0m0 17h0m0 13h0m0 4h0m0 7h0m0 5h0m0 2h0m0 2h0m0 1h0m0 122h0m1-188h0m0 43h0m0 4h0m0 10h0m0 1h0m0 6h0m0 122h0m0 9h0m1-166h0m0 4h0m0 12h0m0 2h0m0 10h0m0 4h0m0 124h0m0 9h0m0 10h0m1-180h0m0 11h0m0 5h0m0 4h0m0 1h0m0 2h0m0 0h0m0 4h0m0 6h0m0 140h0m0 3h0m0 2h0m0 7h0m1-218h0m0 42h0m0 2h0m0 10h0m0 7h0m0 133h0m0 0h0m0 3h0m1-183h0m0 22h0m0 15h0m0 2h0m0 1h0m0 2h0m0 1h0m0 135h0m0 0h0m0 4h0m0 1h0m0 1h0m0 4h0m0 3h0m1-198h0m0 9h0m0 43h0m0 3h0m0 129h0m0 3h0m0 6h0m1-183h0m0 18h0m0 1h0m0 9h0m0 3h0m0 4h0m0 0h0m0 138h0m0 4h0m0 1h0m1-170h0m0 17h0m0 1h0m0 8h0m0 4h0m0 137h0m1-166h0m0 5h0m0 178h0m1-195h0m0 21h0m0 0h0m0 1h0m0 8h0m0 2h0m0 150h0m0 18h0m1-198h0m0 20h0m0 154h0m0 1h0m0 19h0m1-209h0m0 29h0m0 165h0m0 2h0m0 21h0m1-208h0m0 12h0m0 16h0m0 0h0m0 154h0m0 2h0m0 26h0m1-18h0m1-190h0m0 27h0m0 2h0m0 161h0m1-159h0m0 146h0m0 22h0m1-190h0m0 3h0m0 7h0m0 0h0m0 2h0m0 164h0m1-183h0m0 23h0m0 3h0m1-42h0m0 32h0m0 3h0m0 1h0m0 3h0m0 171h0m0 0h0m1-169h0m0 149h0m0 1h0m0 15h0m0 4h0m1-216h0m0 16h0m0 13h0m0 174h0m0 1h0m0 7h0m0 6h0m1-207h0m0 8h0m0 19h0m0 3h0m0 170h0m1-199h0m0 6h0m0 180h0m0 20h0m1-192h0m0 1h0m0 10h0m0 158h0m0 4h0m0 2h0m1-180h0m0 19h0m0 157h0m0 11h0m0 6h0m1-214h0m0 37h0m0 159h0m0 6h0m1-188h0m0 8h0m0 14h0m0 2h0m0 154h0m0 9h0m0 4h0m1-176h0m0 164h0m0 3h0m0 2h0m0 7h0m1-196h0m0 190h0m0 1h0m0 3h0m0 5h0m0 8h0m1-187h0m0 163h0m0 8h0m0 0h0m1-181h0m0 177h0m0 4h0m0 11h0m1-196h0m0 1h0m0 10h0m0 174h0m0 17h0m1-189h0m0 0h0m0 161h0m0 8h0m0 1h0m0 9h0m0 12h0m1-220h0m0 1h0m0 26h0m0 2h0m0 1h0m0 158h0m0 9h0m0 5h0m0 9h0m0 4h0m0 1h0m0 10h0m1-224h0m0 5h0m0 17h0m0 2h0m0 3h0m0 2h0m0 159h0m0 2h0m0 1h0m0 17h0m1-189h0m0 170h0m0 4h0m0 6h0m0 6h0m0 20h0m1-224h0m0 28h0m0 176h0m1-211h0m0 197h0m0 7h0m1-202h0m0 6h0m0 11h0m0 172h0m0 3h0m0 1h0m0 1h0m0 1h0m0 4h0m0 4h0m1-179h0m0 5h0m0 162h0m0 4h0m0 6h0m1-197h0m0 1h0m0 16h0m0 2h0m0 165h0m0 5h0m0 26h0m1-216h0m0 15h0m0 1h0m0 0h0m0 4h0m0 1h0m0 165h0m0 8h0m0 17h0m1-189h0m0 1h0m0 175h0m0 7h0m1-206h0m0 9h0m0 6h0m0 2h0m0 168h0m0 3h0m0 1h0m0 9h0m1-210h0m0 20h0m0 192h0m0 18h0m1-217h0m0 21h0m0 166h0m0 5h0m0 0h0m0 7h0m1 4h0m1-193h0m0 175h0m0 1h0m0 15h0m0 4h0m1-208h0m0 22h0m0 167h0m0 15h0m1-201h0m0 0h0m0 13h0m0 5h0m1-12h0m0 5h0m0 6h0m0 171h0m0 3h0m0 0h0m0 1h0m0 23h0m1-205h0m0 4h0m0 2h0m0 2h0m0 171h0m0 3h0m1-210h0m0 21h0m0 3h0m0 7h0m0 3h0m0 180h0m0 16h0m0 2h0m1-204h0m0 176h0m0 3h0m0 4h0m0 12h0m1-205h0m0 11h0m0 6h0m0 166h0m0 0h0m0 3h0m0 0h0m0 3h0m0 18h0m0 8h0m1-211h0m0 5h0m0 177h0m0 3h0m0 19h0m0 18h0m1-241h0m0 20h0m0 181h0m0 6h0m0 1h0m0 13h0m1-202h0m0 4h0m0 3h0m0 2h0m0 1h0m0 174h0m1-190h0m0 1h0m0 4h0m0 8h0m0 1h0m0 175h0m1-190h0m0 2h0m0 5h0m0 182h0m0 6h0m1-181h0m0 1h0m0 0h0m0 1h0m0 166h0m0 6h0m0 19h0m0 1h0m1-194h0m0 1h0m0 169h0m0 5h0m1-190h0m0 6h0m0 2h0m0 175h0m0 1h0m0 3h0m0 13h0m1-196h0m0 3h0m0 0h0m0 7h0m0 1h0m0 178h0m1-186h0m0 3h0m0 5h0m0 171h0m1-207h0m0 27h0m0 2h0m0 5h0m0 166h0m0 4h0m0 1h0m0 8h0m1-198h0m0 9h0m0 6h0m0 2h0m0 1h0m0 174h0m0 35h0m1-20h0m1-211h0m0 11h0m0 5h0m0 6h0m0 169h0m1-175h0m0 3h0m0 161h0m0 11h0m2-196h0m0 8h0m0 2h0m0 3h0m0 2h0m0 174h0m0 21h0m1-21h0m0 5h0m0 10h0m0 3h0m1-180h0m0 0h0m0 155h0m0 5h0m0 26h0m0 8h0m1-217h0m0 181h0m0 0h0m0 1h0m0 27h0m1-32h0m0 2h0m0 2h0m0 8h0m0 16h0m1-206h0m0 5h0m0 4h0m0 2h0m0 11h0m0 158h0m0 17h0m1-190h0m0 4h0m0 167h0m0 12h0m0 2h0m0 13h0m0 12h0m1-220h0m0 17h0m0 3h0m0 0h0m0 172h0m0 3h0m1-171h0m0 156h0m0 0h0m0 1h0m1-168h0m0 3h0m0 3h0m0 2h0m0 164h0m0 3h0m0 10h0m1-190h0m0 12h0m0 159h0m0 10h0m0 11h0m0 32h0m1-234h0m0 22h0m0 156h0m0 0h0m0 6h0m0 2h0m0 20h0m0 5h0m1-201h0m0 6h0m0 191h0m1-196h0m0 9h0m0 162h0m0 17h0m0 2h0m0 3h0m0 17h0m1-226h0m0 6h0m0 11h0m0 8h0m0 0h0m0 158h0m1-159h0m0 4h0m0 157h0m0 5h0m1-176h0m0 167h0m0 15h0m0 5h0m1-180h0m0 0h0m0 1h0m0 165h0m0 1h0m0 0h0m0 2h0m0 6h0m0 12h0m1-197h0m0 12h0m0 3h0m0 1h0m0 0h0m0 151h0m0 1h0m0 1h0m0 5h0m0 1h0m0 0h0m0 14h0m0 0h0m1-182h0m0 8h0m0 1h0m0 155h0m0 2h0m0 1h0m1-166h0m0 161h0m0 10h0m0 7h0m0 2h0m1-186h0m0 3h0m0 3h0m0 4h0m0 2h0m0 156h0m0 2h0m0 14h0m0 8h0m0 9h0m1-199h0m0 2h0m0 158h0m0 5h0m0 4h0m1-182h0m0 13h0m0 3h0m0 5h0m0 0h0m0 3h0m0 3h0m0 144h0m0 1h0m0 3h0m0 8h0m1-181h0m0 9h0m0 9h0m0 5h0m0 4h0m0 146h0m0 3h0m0 10h0m0 3h0m1-184h0m0 1h0m0 1h0m0 1h0m0 2h0m0 9h0m0 7h0m0 152h0m1-165h0m0 14h0m0 0h0m0 143h0m0 2h0m0 2h0m0 0h0m1-154h0m0 151h0m0 1h0m0 1h0m0 1h0m0 5h0m0 5h0m0 5h0m1-179h0m0 2h0m0 1h0m0 10h0m0 139h0m0 7h0m1-161h0m0 0h0m0 3h0m0 3h0m0 2h0m0 7h0m0 0h0m0 3h0m0 147h0m0 7h0m0 24h0m1-186h0m0 139h0m0 23h0m1-167h0m0 8h0m0 139h0m0 12h0m0 1h0m0 11h0m1-179h0m0 2h0m0 13h0m0 4h0m0 1h0m0 142h0m0 1h0m0 5h0m0 0h0m0 4h0m0 3h0m0 26h0m0 19h0m1-213h0m0 6h0m0 1h0m0 1h0m0 4h0m0 0h0m0 130h0m0 0h0m0 16h0m1-158h0m0 149h0m0 31h0m0 10h0m1-199h0m0 18h0m0 136h0m0 10h0m0 1h0m0 13h0m1-177h0m0 12h0m0 1h0m0 5h0m0 2h0m0 130h0m0 7h0m0 21h0m0 20h0m1-185h0m0 132h0m0 1h0m0 10h0m0 3h0m0 13h0m0 8h0m1-182h0m0 5h0m0 6h0m0 0h0m0 141h0m0 0h0m0 2h0m0 3h0m0 5h0m0 5h0m1-159h0m0 0h0m0 1h0m0 0h0m0 2h0m0 2h0m0 133h0m0 5h0m0 9h0m0 23h0m1-166h0m0 140h0m0 2h0m1-159h0m0 18h0m0 1h0m0 136h0m0 0h0m0 11h0m1-18h0m0 4h0m0 22h0m0 3h0m0 3h0m1-175h0m0 7h0m0 8h0m0 124h0m0 6h0m0 14h0m0 2h0m0 14h0m1-185h0m0 9h0m0 3h0m0 135h0m0 32h0m0 0h0m1-171h0m0 1h0m0 2h0m0 4h0m0 1h0m0 1h0m0 129h0m1-145h0m0 0h0m0 8h0m0 2h0m0 6h0m0 1h0m0 142h0m0 4h0m0 46h0m1-213h0m0 11h0m0 8h0m0 1h0m0 127h0m0 10h0m0 18h0m0 30h0m1-182h0m0 119h0m0 18h0m0 22h0m0 21h0m1-188h0m0 5h0m1-18h0m0 3h0m0 17h0m0 5h0m0 114h0m0 0h0m0 7h0m0 6h0m0 5h0m1-11h0m0 19h0m0 11h0m0 0h0m1-167h0m0 16h0m0 111h0m0 28h0m0 1h0m1-162h0m0 9h0m0 8h0m0 3h0m0 2h0m1-15h0m0 4h0m0 7h0m0 3h0m0 2h0m0 107h0m0 3h0m0 1h0m0 7h0m0 3h0m0 4h0m0 10h0m0 8h0m1-163h0m0 7h0m0 8h0m0 2h0m0 106h0m0 14h0m0 7h0m0 4h0m0 4h0m1-155h0m0 10h0m0 14h0m0 109h0m0 13h0m0 49h0m1-185h0m0 6h0m0 6h0m0 0h0m0 1h0m0 93h0m0 7h0m0 6h0m0 1h0m0 8h0m0 4h0m0 10h0m1-129h0m0 90h0m0 1h0m0 10h0m0 1h0m0 22h0m1-146h0m0 6h0m0 7h0m0 5h0m0 1h0m0 1h0m0 93h0m0 10h0m0 1h0m0 0h0m0 8h0m0 25h0m1-156h0m0 5h0m0 104h0m0 7h0m0 2h0m0 1h0m0 17h0m1-128h0m0 12h0m0 6h0m0 85h0m0 5h0m0 38h0m1-158h0m0 11h0m0 15h0m0 8h0m0 80h0m0 1h0m1-109h0m0 4h0m0 1h0m0 1h0m0 17h0m0 1h0m0 4h0m0 80h0m0 1h0m0 11h0m0 2h0m0 22h0m0 17h0m1-165h0m0 10h0m0 20h0m0 1h0m0 7h0m0 76h0m0 18h0m0 6h0m0 2h0m0 16h0m0 11h0m0 8h0m1-164h0m0 10h0m0 1h0m0 4h0m0 9h0m0 55h0m0 22h0m0 46h0m0 9h0m1-143h0m0 11h0m0 3h0m0 4h0m0 49h0m0 6h0m0 0h0m0 14h0m0 9h0m0 8h0m1-126h0m0 3h0m0 17h0m0 15h0m0 56h0m0 7h0m0 3h0m0 4h0m0 0h0m1-108h0m0 15h0m0 17h0m0 0h0m0 6h0m0 1h0m0 5h0m0 43h0m0 8h0m0 9h0m0 3h0m0 50h0m1-151h0m0 21h0m0 0h0m0 2h0m0 3h0m0 1h0m0 1h0m0 2h0m0 0h0m0 53h0m0 10h0m0 8h0m0 7h0m0 8h0m0 35h0m1-148h0m0 3h0m0 1h0m0 11h0m0 7h0m0 6h0m0 9h0m0 0h0m0 39h0m0 5h0m0 4h0m0 3h0m0 2h0m0 0h0m0 3h0m0 4h0m1-106h0m0 44h0m0 45h0m0 12h0m0 2h0m0 6h0m0 37h0m1-130h0m0 15h0m0 0h0m0 1h0m0 18h0m0 1h0m0 28h0m0 10h0m0 3h0m0 4h0m0 10h0m0 5h0m0 0h0m0 4h0m0 11h0m1-87h0m0 9h0m0 27h0m0 7h0m0 29h0m0 8h0m0 15h0m0 35h0m1-154h0m0 8h0m0 0h0m0 22h0m0 3h0m0 1h0m0 2h0m0 26h0m0 3h0m1-70h0m0 20h0m0 5h0m0 4h0m0 5h0m0 1h0m0 1h0m0 14h0m0 46h0m0 1h0m0 7h0m0 0h0m0 0h0m0 11h0m0 1h0m0 14h0m0 3h0m1-135h0m0 4h0m0 8h0m0 5h0m0 5h0m0 2h0m0 2h0m0 16h0m0 14h0m0 8h0m0 0h0m0 6h0m0 1h0m0 1h0m0 9h0m0 4h0m0 10h0m0 27h0m0 6h0m1-114h0m0 2h0m0 11h0m0 27h0m0 27h0m0 3h0m1-87h0m0 7h0m0 6h0m0 15h0m0 3h0m0 17h0m0 10h0m0 2h0m0 1h0m0 6h0m0 1h0m0 6h0m0 27h0m0 2h0m0 14h0m1-110h0m0 9h0m0 5h0m0 9h0m0 2h0m0 3h0m0 19h0m0 6h0m0 8h0m0 16h0m0 6h0m1-98h0m0 21h0m0 7h0m0 2h0m0 8h0m0 3h0m0 22h0m0 8h0m0 9h0m0 8h0m0 0h0m0 0h0m0 9h0m0 0h0m0 4h0m0 1h0m0 15h0m0 12h0m0 20h0m0 34h0m1-151h0m0 7h0m0 16h0m0 5h0m0 10h0m0 2h0m0 15h0m0 4h0m0 5h0m0 7h0m0 4h0m0 24h0m0 16h0m0 8h0m1-152h0m0 3h0m0 5h0m0 3h0m0 13h0m0 1h0m0 2h0m0 4h0m0 7h0m0 6h0m0 2h0m0 9h0m0 6h0m0 3h0m0 4h0m0 8h0m0 3h0m0 6h0m0 11h0m0 5h0m0 4h0m0 2h0m0 11h0m1-100h0m0 0h0m0 3h0m0 9h0m0 9h0m0 20h0m0 74h0m1-125h0m0 30h0m0 0h0m0 8h0m0 3h0m0 2h0m0 17h0m0 4h0m0 5h0m0 15h0m0 14h0m1-106h0m0 7h0m0 8h0m0 6h0m0 10h0m0 5h0m0 0h0m0 13h0m0 12h0m0 12h0m0 33h0m0 10h0m0 6h0m1-121h0m0 34h0m0 24h0m0 24h0m0 11h0m0 4h0m0 2h0m0 53h0m0 0h0m0 5h0m1-162h0m0 41h0m0 24h0m0 1h0m0 1h0m0 1h0m0 64h0m1-112h0m0 6h0m0 4h0m0 20h0m0 7h0m0 3h0m0 0h0m0 11h0m0 1h0m0 10h0m0 2h0m0 20h0m0 7h0m1-94h0m0 2h0m0 21h0m0 14h0m0 23h0m0 13h0m1-49h0m0 3h0m0 2h0m0 15h0m0 9h0m0 6h0m0 1h0m0 23h0m0 54h0m1-135h0m0 17h0m0 22h0m0 22h0m0 21h0m0 81h0m1-180h0m0 15h0m0 7h0m0 9h0m0 7h0m0 2h0m0 15h0m0 1h0m0 22h0m0 5h0m0 5h0m0 6h0m0 30h0m1-122h0m0 5h0m0 8h0m0 11h0m0 9h0m0 12h0m0 0h0m0 6h0m0 4h0m0 3h0m0 27h0m0 2h0m1-85h0m0 8h0m0 2h0m0 7h0m0 46h0m1-56h0m0 3h0m0 7h0m0 9h0m0 11h0m0 4h0m0 5h0m0 63h0m1-100h0m0 1h0m0 29h0m0 1h0m0 7h0m0 5h0m0 3h0m0 9h0m0 40h0m0 6h0m1-116h0m0 27h0m0 12h0m0 4h0m0 1h0m0 4h0m0 13h0m0 1h0m0 1h0m0 9h0m0 0h0m0 3h0m0 20h0m0 16h0m0 32h0m1-130h0m0 7h0m0 7h0m0 7h0m0 8h0m0 18h0m0 1h0m0 10h0m0 32h0m0 0h0m1-103h0m0 9h0m0 19h0m0 39h0m1-27h0m0 25h0m0 2h0m0 24h0m0 10h0m1-96h0m0 22h0m0 13h0m0 1h0m0 49h0m0 19h0m1-81h0m0 10h0m0 4h0m0 13h0m0 18h0m0 44h0m0 2h0m0 36h0m1-147h0m0 33h0m1-40h0m0 75h0m0 10h0m0 38h0m1-119h0m0 53h0m0 3h0m0 17h0m0 24h0m1-87h0m0 15h0m0 6h0m0 9h0m0 17h0m0 2h0m0 19h0m0 21h0m0 3h0m1-101h0m0 24h0m0 5h0m0 27h0m0 0h0m0 2h0m0 5h0m0 5h0m0 60h0m1-82h0m0 39h0m0 7h0m1-97h0m0 30h0m0 51h0m1-79h0m0 0h0m0 10h0m0 11h0m0 57h0m0 1h0m1-27h0m0 23h0m1-33h0m0 13h0m0 28h0m1-48h0m1-24h0m1 24h0m0 3h0m1-24h0m0 46h0m1-57h0m0 32h0m0 8h0m2-12h0m2 16h0m0 21h0m0 2h0m1-67h0m0 19h0m0 42h0m1 45h0m1-69h0m0 25h0m2-27h0m0 59h0m1-64h0m1-19h0m2 16h0m1 27h0m1 20h0m2-66h0m0 26h0m0 14h0m1-27h0m0 13h0m1 46h0m4 0h0m5-42h0"/>
<path fill="#fff" fill-rule="evenodd" d="M351 536.7L353.1 543.2L359.6 542.4L366.1 540.9L372 536.7L372.6 536.3L379.1 534.9L385.6 534.4L388.3 530.2L392.1 524.5L393.7 523.7L398.6 521L403.3 517.2L405.2 514.4L407.1 510.7L411.7 504.8L412.2 504.2L418.2 497.7L417.7 491.2L418.2 489L424.7 485.7L425.4 484.7L424.7 482.3L423.4 478.2L424.7 476.3L427.4 471.7L430.1 465.2L428.8 458.7L424.7 452.9L424.4 452.2L421.8 445.7L418.2 443.6L411.7 443.7L408.1 445.7L405.2 446.2L402.8 445.7L398.6 444L396.3 445.7L392.1 448L385.6 450.4L383.7 452.2L379.1 454.1L374.3 458.7L372.6 459.9L367.7 465.2L366.1 467.3L361 471.7L359.6 478.2L359.6 478.2L356.2 484.7L354.1 491.2L353.1 493.6L350.3 497.7L349 504.2L348.1 510.7L346.8 517.2L346.6 523.7L346.6 530.2L351 536.7Z"/>
<g transform="translate(336.85 429.4) scale(6.5050)" shape-rendering="crispEdges">
<path fill="#fafafa" d="M1 15h1v1h-1zM1 14h1v1h-1zM1 13h1v1h-1zM1 12h1v1h-1zM2 17h1v1h-1zM2 9h1v1h-1zM3 17h1v1h-1zM3 7h1v1h-1zM3 6h1v1h-1zM4 5h1v1h-1zM5 17h1v1h-1zM5 16h1v1h-1zM5 4h1v1h-1zM6 16h1v1h-1zM6 3h1v1h-1zM7 16h1v1h-1zM7 2h1v1h-1zM8 14h1v1h-1zM9 14h1v1h-1zM10 13h1v1h-1zM10 2h1v1h-1zM10 1h1v1h-1zM11 11h1v1h-1zM11 1h1v1h-1zM12 10h1v1h-1zM12 9h1v1h-1zM13 8h1v1h-1zM13 7h1v1h-1zM13 3h1v1h-1zM13 2h1v1h-1zM14 5h1v1h-1zM14 4h1v1h-1z"/>
<path fill="#f5f5f5" d="M2 16h1v1h-1zM3 16h1v1h-1zM3 8h1v1h-1zM7 15h1v1h-1zM7 3h1v1h-1zM9 13h1v1h-1zM9 2h1v1h-1zM10 12h1v1h-1zM11 10h1v1h-1zM11 2h1v1h-1zM12 8h1v1h-1zM12 2h1v1h-1zM13 6h1v1h-1zM13 4h1v1h-1z"/>
<path fill="#f0f0f0" d="M2 15h1v1h-1zM2 14h1v1h-1zM2 13h1v1h-1zM2 11h1v1h-1zM2 10h1v1h-1zM4 6h1v1h-1zM6 15h1v1h-1zM6 4h1v1h-1zM8 3h1v1h-1zM12 7h1v1h-1zM13 5h1v1h-1z"/>
<path fill="#ebebeb" d="M2 12h1v1h-1zM4 16h1v1h-1zM4 15h1v1h-1zM4 7h1v1h-1zM5 5h1v1h-1zM7 14h1v1h-1zM7 4h1v1h-1zM9 12h1v1h-1zM9 3h1v1h-1zM10 11h1v1h-1zM11 8h1v1h-1zM12 5h1v1h-1z"/>
<path fill="#e6e6e6" d="M3 15h1v1h-1zM5 15h1v1h-1zM8 13h1v1h-1zM10 3h1v1h-1zM11 3h1v1h-1zM12 3h1v1h-1z"/>
<path fill="#e1e1e1" d="M5 6h1v1h-1zM8 4h1v1h-1zM11 9h1v1h-1zM12 6h1v1h-1zM12 4h1v1h-1z"/>
<path fill="#dcdcdc" d="M3 14h1v1h-1zM3 10h1v1h-1zM3 9h1v1h-1zM10 10h1v1h-1zM11 7h1v1h-1z"/>
<path fill="#d7d7d7" d="M7 13h1v1h-1zM10 4h1v1h-1zM11 4h1v1h-1z"/>
<path fill="#d2d2d2" d="M6 14h1v1h-1zM6 5h1v1h-1zM9 11h1v1h-1zM9 4h1v1h-1z"/>
<path fill="#cdcdcd" d="M3 11h1v1h-1zM10 9h1v1h-1z"/>
<path fill="#c8c8c8" d="M3 12h1v1h-1zM4 8h1v1h-1zM8 12h1v1h-1zM10 5h1v1h-1z"/>
<path fill="#c3c3c3" d="M3 13h1v1h-1zM4 14h1v1h-1zM5 14h1v1h-1zM7 12h1v1h-1zM9 10h1v1h-1zM10 8h1v1h-1zM11 5h1v1h-1z"/>
<path fill="#bebebe" d="M7 5h1v1h-1zM10 6h1v1h-1zM11 6h1v1h-1z"/>
<path fill="#b9b9b9" d="M4 9h1v1h-1zM5 7h1v1h-1zM6 13h1v1h-1zM6 6h1v1h-1zM8 11h1v1h-1zM10 7h1v1h-1z"/>
<path fill="#aaaaaa" d="M4 10h1v1h-1zM8 5h1v1h-1zM9 9h1v1h-1z"/>
<path fill="#a0a0a0" d="M4 12h1v1h-1z"/>
<path fill="#9b9b9b" d="M4 13h1v1h-1zM4 11h1v1h-1z"/>
<path fill="#969696" d="M5 13h1v1h-1zM7 6h1v1h-1z"/>
<path fill="#8c8c8c" d="M9 5h1v1h-1z"/>
<path fill="#878787" d="M5 8h1v1h-1zM6 12h1v1h-1zM6 7h1v1h-1zM8 10h1v1h-1zM9 7h1v1h-1z"/>
<path fill="#828282" d="M7 11h1v1h-1zM9 8h1v1h-1z"/>
<path fill="#7d7d7d" d="M9 6h1v1h-1z"/>
<path fill="#6e6e6e" d="M8 9h1v1h-1zM8 6h1v1h-1z"/>
<path fill="#646464" d="M5 9h1v1h-1z"/>
<path fill="#5f5f5f" d="M6 8h1v1h-1z"/>
<path fill="#5a5a5a" d="M6 11h1v1h-1zM7 7h1v1h-1zM8 7h1v1h-1z"/>
<path fill="#464646" d="M5 12h1v1h-1z"/>
<path fill="#414141" d="M5 11h1v1h-1zM6 9h1v1h-1zM7 10h1v1h-1z"/>
<path fill="#323232" d="M5 10h1v1h-1zM7 9h1v1h-1z"/>
<path fill="#141414" d="M8 8h1v1h-1z"/>
<path fill="#0a0a0a" d="M7 8h1v1h-1z"/>
<path fill="#000000" d="M6 10h1v1h-1z"/>
</g>
<path class="ct" d="M351 536.7L353.1 543.2L359.6 542.4L366.1 540.9L372 536.7L372.6 536.3L379.1 534.9L385.6 534.4L388.3 530.2L392.1 524.5L393.7 523.7L398.6 521L403.3 517.2L405.2 514.4L407.1 510.7L411.7 504.8L412.2 504.2L418.2 497.7L417.7 491.2L418.2 489L424.7 485.7L425.4 484.7L424.7 482.3L423.4 478.2L424.7 476.3L427.4 471.7L430.1 465.2L428.8 458.7L424.7 452.9L424.4 452.2L421.8 445.7L418.2 443.6L411.7 443.7L408.1 445.7L405.2 446.2L402.8 445.7L398.6 444L396.3 445.7L392.1 448L385.6 450.4L383.7 452.2L379.1 454.1L374.3 458.7L372.6 459.9L367.7 465.2L366.1 467.3L361 471.7L359.6 478.2L359.6 478.2L356.2 484.7L354.1 491.2L353.1 493.6L350.3 497.7L349 504.2L348.1 510.7L346.8 517.2L346.6 523.7L346.6 530.2ZM357.3 523.7L359.6 528L366.1 528.7L372.6 529.4L379.1 527.2L382.8 523.7L385.6 520.3L390.4 517.2L392.1 516.2L396.6 510.7L398.6 508.2L402.3 504.2L405.2 500.1L406.7 497.7L411.7 491.4L411.8 491.2L411.7 490.8L410.1 484.7L411.7 481.2L413.9 478.2L418.2 471.7L416.5 465.2L418.2 459.9L418.8 458.7L418.2 456.1L411.7 453.8L405.2 452.9L398.6 454.8L392.1 457.4L390 458.7L385.6 460L379.1 462.1L375.1 465.2L372.6 469.8L371.5 471.7L367.2 478.2L366.1 479.7L362.8 484.7L359.6 489.7L358.7 491.2L358 497.7L355.9 504.2L355.3 510.7L355.6 517.2ZM363.9 517.2L366.1 519.5L372.6 520L376.3 517.2L379.1 515.3L383 510.7L385.6 508.2L390.5 504.2L392.1 502.4L395.8 497.7L398.6 491.8L399.1 491.2L402.6 484.7L403.1 478.2L403.1 471.7L401.5 465.2L398.6 462.7L392.1 465.2L392.1 465.2L385.6 468.4L381.7 471.7L379.1 473.6L374.9 478.2L372.6 480.4L369.4 484.7L367.4 491.2L366.2 497.7L366.1 498.1L364.4 504.2L364.7 510.7ZM371.9 497.7L372.6 504.2L379.1 502.5L385.6 498.1L386 497.7L387.3 491.2L392.1 487.9L394.7 484.7L392.1 480.3L385.6 480.3L381.5 484.7L379.1 490.9L378.9 491.2L372.6 495.8Z"/>
</g>
<g clip-path="url(#c40)">
<path class="pt" transform="translate(63.65 566) scale(.5)" d="m1 86h0m0 5h0m1-44h0m0 48h0m1-27h0m1 124h0m1-136h0m0 74h0m0 97h0m1-174h0m0 133h0m0 16h0m1-156h0m0 91h0m2-64h0m0 42h0m0 101h0m1-142h0m0 52h0m0 17h0m1-56h0m0 96h0m1-167h0m0 88h0m0 14h0m0 9h0m0 39h0m1-82h0m0 11h0m0 49h0m0 13h0m0 34h0m1-169h0m0 54h0m0 5h0m0 37h0m0 38h0m1-81h0m0 41h0m0 12h0m0 22h0m0 3h0m0 54h0m1-84h0m0 10h0m0 5h0m0 19h0m0 32h0m0 12h0m1-192h0m0 154h0m0 21h0m1-52h0m0 18h0m0 3h0m0 3h0m0 21h0m0 4h0m1-133h0m0 4h0m0 30h0m0 40h0m0 18h0m0 2h0m0 4h0m0 9h0m0 9h0m1 24h0m0 1h0m1-88h0m0 46h0m1-92h0m0 83h0m0 61h0m1-168h0m0 61h0m0 6h0m0 3h0m0 37h0m0 3h0m0 15h0m0 61h0m1-114h0m0 54h0m1-105h0m0 44h0m0 59h0m0 14h0m0 44h0m1-81h0m0 1h0m0 19h0m0 43h0m1-154h0m0 34h0m0 14h0m0 1h0m0 13h0m0 2h0m0 5h0m0 7h0m0 2h0m0 22h0m0 78h0m1-210h0m0 24h0m0 9h0m0 4h0m0 11h0m0 25h0m0 19h0m0 2h0m0 8h0m0 0h0m0 11h0m0 9h0m1-109h0m0 41h0m0 4h0m0 6h0m0 7h0m0 31h0m0 25h0m0 85h0m1-81h0m0 9h0m0 3h0m0 45h0m1-163h0m0 24h0m0 14h0m0 1h0m0 1h0m0 2h0m0 13h0m0 5h0m0 13h0m0 21h0m0 10h0m0 14h0m0 98h0m1-212h0m0 48h0m0 2h0m0 1h0m0 2h0m0 0h0m0 18h0m0 23h0m0 0h0m0 5h0m0 3h0m0 33h0m0 6h0m1-161h0m0 25h0m0 9h0m0 58h0m0 19h0m0 8h0m0 34h0m0 5h0m0 13h0m1-165h0m0 29h0m0 20h0m0 68h0m0 7h0m0 7h0m0 27h0m0 1h0m0 1h0m0 9h0m1-181h0m0 69h0m0 1h0m0 2h0m0 3h0m0 8h0m0 30h0m0 4h0m0 3h0m0 4h0m0 33h0m0 0h0m1-146h0m0 16h0m0 11h0m0 22h0m0 30h0m0 8h0m0 18h0m0 3h0m0 50h0m0 15h0m1-132h0m0 3h0m0 2h0m0 1h0m0 7h0m0 1h0m0 3h0m0 2h0m0 6h0m0 19h0m0 12h0m0 33h0m1-43h0m0 5h0m0 19h0m0 14h0m1-146h0m0 9h0m0 12h0m0 8h0m0 10h0m0 12h0m0 21h0m0 4h0m0 6h0m0 7h0m0 39h0m0 1h0m0 18h0m0 3h0m0 6h0m0 99h0m1-243h0m0 3h0m0 14h0m0 26h0m0 4h0m0 10h0m0 17h0m0 12h0m0 5h0m0 8h0m0 5h0m0 3h0m0 7h0m0 13h0m0 0h0m0 17h0m0 3h0m0 15h0m0 15h0m0 13h0m0 32h0m1-233h0m0 9h0m0 38h0m0 26h0m0 16h0m0 2h0m0 0h0m0 17h0m0 0h0m0 3h0m0 9h0m0 17h0m0 6h0m0 1h0m0 8h0m0 7h0m1-147h0m0 12h0m0 11h0m0 18h0m0 12h0m0 12h0m0 7h0m0 6h0m0 1h0m0 4h0m0 2h0m0 3h0m0 1h0m0 3h0m0 13h0m0 8h0m0 32h0m0 11h0m0 11h0m0 21h0m0 36h0m1-206h0m0 8h0m0 31h0m0 4h0m0 25h0m0 16h0m0 4h0m0 13h0m0 27h0m0 10h0m0 11h0m0 20h0m1-183h0m0 7h0m0 24h0m0 6h0m0 6h0m0 1h0m0 7h0m0 6h0m0 6h0m0 15h0m0 15h0m0 1h0m0 36h0m0 3h0m0 3h0m0 2h0m0 50h0m0 23h0m0 9h0m1-231h0m0 19h0m0 2h0m0 8h0m0 29h0m0 5h0m0 9h0m0 23h0m0 4h0m0 13h0m0 2h0m0 5h0m0 8h0m0 33h0m0 9h0m0 20h0m0 52h0m0 10h0m1-246h0m0 7h0m0 24h0m0 11h0m0 16h0m0 8h0m0 1h0m0 7h0m0 7h0m0 12h0m0 9h0m0 6h0m0 2h0m0 0h0m0 32h0m0 56h0m1-194h0m0 4h0m0 1h0m0 12h0m0 42h0m0 4h0m0 1h0m0 14h0m0 8h0m0 3h0m0 8h0m0 6h0m0 11h0m0 14h0m0 16h0m0 14h0m0 0h0m0 16h0m1-175h0m0 6h0m0 20h0m0 14h0m0 3h0m0 21h0m0 8h0m0 1h0m0 7h0m0 34h0m0 7h0m0 10h0m0 9h0m0 8h0m0 6h0m0 4h0m0 24h0m0 8h0m0 2h0m0 13h0m1-188h0m0 12h0m0 1h0m0 21h0m0 13h0m0 2h0m0 12h0m0 6h0m0 3h0m0 7h0m0 21h0m0 21h0m0 2h0m0 32h0m0 14h0m0 30h0m1-212h0m0 18h0m0 8h0m0 21h0m0 2h0m0 17h0m0 2h0m0 21h0m0 5h0m0 4h0m0 4h0m0 16h0m0 1h0m0 12h0m0 14h0m0 29h0m0 7h0m0 1h0m1-198h0m0 25h0m0 32h0m0 10h0m0 1h0m0 12h0m0 8h0m0 5h0m0 1h0m0 35h0m0 1h0m0 3h0m0 7h0m0 18h0m0 1h0m0 1h0m0 1h0m0 11h0m1-170h0m0 4h0m0 20h0m0 8h0m0 3h0m0 2h0m0 6h0m0 7h0m0 4h0m0 9h0m0 25h0m0 4h0m0 2h0m0 9h0m0 2h0m0 13h0m0 6h0m0 20h0m0 5h0m0 14h0m0 18h0m0 7h0m0 56h0m1-243h0m0 30h0m0 2h0m0 4h0m0 7h0m0 11h0m0 38h0m0 1h0m0 7h0m0 6h0m0 1h0m0 4h0m0 0h0m0 0h0m0 2h0m0 2h0m0 6h0m0 1h0m0 2h0m0 1h0m0 34h0m0 2h0m0 11h0m0 4h0m0 13h0m0 10h0m0 2h0m0 11h0m0 29h0m1-242h0m0 3h0m0 30h0m0 3h0m0 57h0m0 9h0m0 3h0m0 1h0m0 3h0m0 12h0m0 2h0m0 4h0m0 1h0m0 7h0m0 1h0m0 5h0m0 2h0m0 12h0m0 7h0m0 13h0m0 50h0m0 11h0m0 15h0m1-254h0m0 1h0m0 5h0m0 4h0m0 25h0m0 3h0m0 9h0m0 5h0m0 75h0m0 4h0m0 7h0m0 37h0m0 1h0m0 0h0m0 2h0m0 12h0m0 23h0m1-207h0m0 23h0m0 15h0m0 11h0m0 84h0m0 11h0m0 6h0m0 13h0m0 6h0m0 1h0m0 26h0m1-194h0m0 1h0m0 2h0m0 1h0m0 1h0m0 17h0m0 11h0m0 1h0m0 104h0m0 1h0m0 1h0m0 1h0m0 6h0m0 30h0m0 12h0m0 1h0m0 22h0m0 0h0m1-214h0m0 6h0m0 37h0m0 104h0m0 0h0m0 6h0m0 4h0m0 3h0m0 5h0m0 1h0m0 3h0m0 26h0m1-201h0m0 29h0m0 8h0m0 6h0m0 5h0m0 1h0m0 93h0m0 12h0m0 1h0m0 11h0m0 4h0m0 10h0m0 1h0m0 4h0m0 6h0m0 6h0m0 3h0m0 1h0m0 10h0m0 6h0m1-197h0m0 11h0m0 124h0m0 6h0m0 1h0m0 25h0m0 8h0m0 30h0m1-206h0m0 5h0m0 13h0m0 1h0m0 118h0m0 2h0m0 3h0m0 2h0m0 20h0m0 4h0m0 18h0m0 9h0m1-206h0m0 12h0m0 5h0m0 3h0m0 9h0m0 114h0m0 9h0m0 10h0m0 9h0m0 6h0m0 72h0m1-241h0m0 7h0m0 9h0m0 2h0m0 2h0m0 7h0m0 109h0m0 10h0m0 1h0m0 11h0m0 4h0m0 11h0m0 18h0m0 18h0m0 31h0m1-250h0m0 3h0m0 5h0m0 22h0m0 0h0m0 3h0m0 0h0m0 2h0m0 123h0m0 3h0m0 9h0m0 7h0m0 17h0m0 11h0m0 37h0m1-241h0m0 16h0m0 11h0m0 135h0m0 16h0m1-185h0m0 2h0m0 15h0m0 7h0m0 1h0m0 140h0m0 1h0m0 1h0m0 7h0m0 1h0m0 1h0m0 4h0m0 3h0m0 11h0m0 2h0m0 1h0m0 36h0m1-218h0m0 172h0m0 1h0m0 1h0m0 54h0m1-243h0m0 3h0m0 10h0m0 2h0m0 159h0m0 5h0m0 3h0m0 20h0m0 1h0m0 15h0m1-18h0m0 27h0m0 3h0m1-226h0m0 169h0m0 1h0m0 20h0m0 9h0m0 10h0m1-205h0m0 169h0m0 20h0m0 5h0m0 10h0m0 15h0m1-224h0m0 0h0m0 3h0m0 187h0m0 2h0m0 23h0m0 29h0m1-241h0m0 1h0m0 2h0m0 192h0m0 0h0m0 18h0m0 28h0m0 8h0m0 4h0m1-57h0m0 19h0m1-212h0m0 189h0m0 2h0m0 3h0m0 1h0m0 6h0m0 10h0m0 6h0m0 1h0m1-31h0m0 26h0m0 3h0m0 15h0m1-239h0m0 195h0m0 10h0m0 1h0m0 17h0m0 5h0m1-36h0m0 1h0m0 60h0m1-253h0m0 0h0m0 193h0m0 2h0m0 20h0m0 23h0m0 11h0m1-44h0m0 2h0m0 0h0m0 3h0m0 8h0m0 10h0m0 7h0m0 2h0m1-43h0m0 2h0m0 1h0m0 11h0m0 1h0m0 9h0m0 4h0m0 16h0m0 5h0m1-244h0m0 0h0m0 197h0m0 5h0m0 3h0m0 1h0m0 2h0m0 5h0m1-16h0m0 10h0m0 2h0m0 0h0m0 1h0m0 8h0m0 2h0m0 5h0m0 8h0m1-232h0m0 1h0m0 1h0m0 195h0m0 19h0m0 19h0m0 10h0m0 10h0m1-256h0m0 5h0m0 195h0m0 6h0m0 7h0m0 2h0m0 1h0m0 16h0m0 13h0m0 10h0m0 1h0m1-256h0m0 2h0m0 1h0m0 207h0m0 3h0m0 4h0m0 40h0m1-254h0m0 210h0m0 12h0m0 30h0m1-43h0m0 22h0m1-32h0m0 20h0m0 1h0m0 13h0m0 1h0m0 20h0m1-59h0m0 49h0m1-41h0m0 14h0m0 9h0m0 13h0m0 0h0m0 13h0m1-47h0m0 12h0m0 36h0m1-40h0m0 3h0m0 10h0m0 2h0m0 24h0m1 4h0m2-26h0m1-5h0m0 3h0m0 1h0m1-13h0m0 0h0m0 4h0m0 6h0m0 13h0m1-9h0m0 3h0m0 5h0m1-18h0m0 4h0m0 17h0m1-25h0m0 10h0m0 8h0m1-18h0m0 11h0m0 5h0m0 17h0m1-33h0m0 3h0m1 27h0m1-30h0m0 12h0m1-1h0m0 2h0m0 1h0m0 8h0m0 1h0m1-21h0m0 15h0m0 14h0m1-32h0m0 17h0m1 8h0m0 13h0m1-26h0m0 2h0m0 5h0m0 2h0m1-10h0m0 8h0m1-10h0m0 31h0m1-37h0m0 10h0m0 8h0m0 2h0m0 5h0m1-24h0m0 10h0m1-12h0m0 1h0m0 12h0m0 13h0m0 9h0m1-42h0m0 1h0m0 5h0m0 3h0m0 21h0m0 0h0m0 8h0m1-4h0m1-28h0m1-5h0m0 9h0m0 16h0m0 1h0m0 5h0m0 0h0m1-12h0m1-14h0m0 11h0m0 3h0m0 13h0m0 1h0m1-21h0m0 22h0m0 6h0m1-39h0m0 7h0m0 1h0m0 1h0m0 2h0m0 2h0m0 24h0m1-24h0m0 28h0m1-44h0m0 5h0m0 20h0m0 12h0m1-30h0m0 7h0m0 3h0m0 0h0m0 14h0m0 0h0m0 4h0m1-34h0m0 3h0m0 1h0m0 5h0m0 0h0m0 1h0m1-6h0m0 7h0m0 12h0m0 2h0m0 19h0m1-44h0m0 12h0m0 5h0m0 4h0m0 13h0m1-34h0m0 11h0m0 2h0m0 12h0m0 7h0m0 5h0m1-30h0m0 9h0m0 2h0m0 21h0m1-38h0m0 1h0m0 7h0m0 1h0m0 6h0m0 1h0m0 3h0m0 7h0m0 6h0m0 9h0m1-39h0m0 7h0m0 29h0m1-28h0m0 20h0m1-28h0m0 30h0m2-31h0m0 5h0m0 6h0m0 10h0m1-21h0m0 1h0m0 2h0m0 1h0m1 5h0m0 3h0m0 1h0m0 11h0m1-22h0m0 2h0m0 10h0m0 24h0m1-39h0m0 5h0m0 8h0m0 3h0m1-10h0m0 2h0m0 9h0m0 22h0m1-36h0m0 9h0m1-9h0m0 4h0m0 3h0m0 15h0m0 3h0m0 9h0m1-36h0m0 5h0m0 7h0m0 11h0m0 14h0m0 3h0m1-22h0m0 5h0m0 0h0m0 0h0m0 1h0m0 20h0m1-44h0m0 4h0m0 8h0m0 10h0m1-19h0m0 4h0m0 8h0m0 26h0m1-40h0m0 21h0m0 5h0m0 2h0m2-29h0m0 1h0m0 0h0m0 34h0m0 7h0m1-39h0m0 1h0m0 18h0m1-21h0m0 8h0m0 3h0m1 12h0m0 15h0m0 4h0m1-42h0m0 0h0m0 4h0m0 6h0m0 19h0m1-33h0m0 0h0m0 1h0m0 10h0m0 18h0m0 4h0m1-31h0m0 3h0m0 5h0m0 24h0m0 1h0m0 3h0m0 3h0m1-41h0m0 18h0m0 14h0m0 0h0m1-31h0m0 6h0m0 24h0m0 8h0m0 4h0m1-44h0m0 3h0m0 1h0m0 24h0m0 1h0m0 4h0m0 11h0m1-49h0m0 9h0m0 15h0m0 13h0m1-36h0m0 1h0m0 8h0m0 15h0m1 12h0m1-39h0m0 2h0m0 2h0m0 11h0m0 0h0m0 39h0m1-56h0m0 26h0m0 25h0m1-46h0m0 1h0m0 18h0m0 18h0m1-43h0m0 9h0m0 10h0m0 9h0m0 0h0m1-8h0m0 3h0m0 5h0m0 25h0m1-47h0m0 0h0m0 11h0m1-3h0m0 19h0m0 0h0m0 12h0m1-47h0m0 11h0m0 4h0m0 22h0m0 11h0m1-48h0m1 9h0m0 8h0m0 4h0m0 13h0m0 7h0m0 10h0m1-50h0m0 8h0m0 11h0m1-18h0m0 5h0m0 3h0m0 12h0m0 1h0m1-28h0m0 8h0m0 8h0m1-11h0m0 3h0m0 2h0m0 9h0m0 40h0m1-59h0m0 2h0m0 21h0m0 8h0m0 7h0m0 8h0m1-31h0m0 1h0m0 0h0m0 1h0m0 14h0m0 7h0m1-25h0m0 12h0m0 25h0m1-27h0m0 42h0m1-60h0m0 15h0m0 9h0m1-31h0m0 6h0m0 5h0m0 12h0m1 5h0m0 7h0m0 21h0m1-42h0m0 9h0m0 11h0m0 20h0m1-41h0m0 30h0m1-43h0m0 6h0m0 9h0m0 2h0m0 6h0m0 2h0m0 22h0m0 3h0m0 12h0m1-56h0m0 14h0m1-20h0m0 1h0m0 4h0m0 8h0m0 21h0m1-227h0m0 199h0m0 2h0m1-200h0m0 192h0m0 36h0m0 3h0m1-231h0m0 8h0m0 181h0m0 5h0m0 12h0m0 1h0m0 6h0m0 2h0m0 4h0m1-219h0m0 4h0m0 7h0m0 1h0m0 2h0m0 192h0m0 2h0m0 21h0m0 29h0m1-257h0m0 5h0m0 5h0m0 184h0m0 1h0m0 23h0m0 35h0m1-243h0m0 179h0m0 13h0m0 4h0m0 2h0m0 10h0m0 0h0m0 32h0m1-236h0m0 191h0m0 14h0m0 14h0m1-232h0m0 0h0m0 5h0m0 2h0m0 4h0m0 4h0m0 163h0m0 6h0m0 22h0m1-60h0m0 16h0m0 16h0m0 21h0m1-57h0m0 6h0m0 6h0m0 2h0m0 1h0m0 11h0m0 5h0m0 2h0m0 16h0m1-50h0m0 16h0m0 2h0m0 6h0m0 11h0m0 10h0m0 14h0m0 14h0m0 12h0m1-221h0m0 19h0m0 127h0m0 1h0m0 1h0m0 4h0m0 2h0m0 2h0m0 7h0m0 3h0m0 26h0m1-181h0m0 26h0m0 127h0m0 17h0m0 5h0m0 41h0m0 3h0m1-233h0m0 8h0m0 2h0m0 3h0m0 29h0m0 1h0m0 84h0m0 8h0m0 13h0m0 15h0m0 8h0m0 1h0m0 6h0m0 4h0m0 6h0m0 2h0m0 2h0m0 52h0m1-222h0m0 16h0m0 0h0m0 96h0m0 1h0m0 2h0m0 19h0m0 15h0m0 12h0m0 13h0m0 8h0m0 26h0m1-222h0m0 10h0m0 4h0m0 1h0m0 0h0m0 5h0m0 15h0m0 1h0m0 0h0m0 28h0m0 11h0m0 38h0m0 1h0m0 7h0m0 4h0m0 1h0m0 0h0m0 18h0m0 3h0m0 5h0m0 0h0m0 4h0m0 7h0m0 20h0m0 20h0m0 26h0m1-228h0m0 9h0m0 3h0m0 3h0m0 9h0m0 0h0m0 12h0m0 2h0m0 19h0m0 2h0m0 5h0m0 71h0m0 4h0m0 15h0m0 2h0m0 1h0m0 18h0m0 3h0m0 4h0m0 3h0m0 17h0m1-216h0m0 3h0m0 27h0m0 2h0m0 1h0m0 3h0m0 14h0m0 19h0m0 1h0m0 11h0m0 4h0m0 1h0m0 4h0m0 32h0m0 2h0m0 19h0m0 1h0m0 4h0m0 3h0m0 5h0m0 1h0m0 35h0m0 54h0m0 11h0m1-243h0m0 2h0m0 1h0m0 4h0m0 12h0m0 4h0m0 4h0m0 8h0m0 20h0m0 3h0m0 5h0m0 3h0m0 5h0m0 6h0m0 24h0m0 1h0m0 0h0m0 2h0m0 24h0m0 1h0m0 12h0m0 18h0m0 19h0m0 4h0m0 7h0m1-198h0m0 3h0m0 21h0m0 5h0m0 3h0m0 6h0m0 30h0m0 25h0m0 10h0m0 8h0m0 13h0m0 36h0m0 16h0m0 8h0m0 5h0m0 8h0m0 1h0m0 18h0m0 8h0m0 15h0m0 12h0m1-256h0m0 3h0m0 10h0m0 26h0m0 3h0m0 11h0m0 22h0m0 10h0m0 14h0m0 7h0m0 6h0m0 3h0m0 12h0m0 30h0m0 5h0m0 7h0m0 0h0m0 20h0m0 19h0m0 30h0m1-220h0m0 9h0m0 11h0m0 5h0m0 1h0m0 5h0m0 14h0m0 7h0m0 4h0m0 22h0m0 5h0m0 5h0m0 14h0m0 6h0m0 2h0m0 3h0m0 24h0m0 5h0m0 6h0m0 30h0m0 14h0m1-181h0m0 3h0m0 14h0m0 43h0m0 10h0m0 4h0m0 9h0m0 3h0m0 19h0m0 11h0m0 11h0m0 10h0m0 12h0m0 0h0m0 48h0m1-203h0m0 4h0m0 10h0m0 24h0m0 3h0m0 13h0m0 15h0m0 3h0m0 4h0m0 12h0m0 2h0m0 13h0m0 12h0m0 12h0m0 4h0m0 7h0m0 97h0m1-254h0m0 9h0m0 18h0m0 8h0m0 20h0m0 12h0m0 13h0m0 21h0m0 5h0m0 33h0m1-98h0m0 6h0m0 3h0m0 10h0m0 1h0m0 7h0m0 19h0m0 5h0m0 8h0m0 26h0m0 4h0m0 2h0m0 3h0m0 6h0m0 6h0m0 9h0m0 46h0m1-189h0m0 17h0m0 17h0m0 11h0m0 11h0m0 11h0m0 11h0m0 1h0m0 10h0m0 13h0m0 14h0m0 17h0m0 1h0m0 13h0m0 12h0m0 17h0m0 20h0m1-210h0m0 38h0m0 14h0m0 4h0m0 0h0m0 5h0m0 3h0m0 4h0m0 1h0m0 4h0m0 3h0m0 1h0m0 5h0m0 9h0m0 41h0m0 9h0m0 4h0m0 4h0m0 1h0m1-138h0m0 9h0m0 19h0m0 8h0m0 1h0m0 3h0m0 13h0m0 14h0m0 4h0m0 5h0m0 27h0m0 5h0m0 1h0m0 18h0m0 1h0m0 35h0m0 4h0m0 20h0m0 28h0m1-211h0m0 10h0m0 12h0m0 11h0m0 1h0m0 14h0m0 5h0m0 2h0m0 7h0m0 0h0m0 3h0m0 3h0m0 9h0m0 3h0m0 8h0m0 1h0m0 0h0m0 10h0m0 1h0m0 12h0m0 2h0m0 10h0m0 8h0m0 24h0m0 58h0m1-229h0m0 10h0m0 18h0m0 3h0m0 7h0m0 14h0m0 0h0m0 2h0m0 6h0m0 2h0m0 0h0m0 13h0m0 1h0m0 0h0m0 8h0m0 6h0m0 3h0m0 3h0m0 4h0m0 14h0m0 0h0m0 21h0m0 23h0m0 4h0m0 13h0m0 4h0m0 11h0m1-192h0m0 64h0m0 3h0m0 15h0m0 25h0m0 10h0m0 32h0m1-100h0m0 1h0m0 5h0m0 17h0m0 11h0m0 8h0m0 18h0m0 11h0m0 7h0m0 7h0m0 1h0m0 5h0m0 8h0m0 11h0m0 1h0m0 0h0m0 70h0m1-220h0m0 44h0m0 67h0m0 17h0m0 46h0m1-169h0m0 85h0m0 8h0m0 30h0m0 0h0m0 2h0m0 12h0m0 58h0m1-182h0m0 10h0m0 39h0m0 3h0m0 10h0m0 8h0m0 5h0m0 30h0m0 6h0m0 32h0m0 8h0m0 26h0m1-157h0m0 5h0m0 15h0m0 36h0m0 10h0m0 14h0m0 9h0m0 51h0m0 18h0m1-191h0m0 15h0m0 1h0m0 10h0m0 8h0m0 0h0m0 15h0m0 12h0m0 17h0m0 6h0m0 0h0m0 9h0m0 15h0m0 27h0m0 29h0m0 13h0m0 14h0m0 0h0m1-207h0m0 13h0m0 12h0m0 21h0m0 30h0m0 17h0m0 50h0m0 5h0m1-137h0m0 16h0m0 14h0m0 8h0m0 15h0m0 16h0m0 8h0m0 6h0m0 32h0m1-100h0m0 8h0m0 14h0m0 9h0m0 13h0m0 19h0m0 14h0m0 3h0m0 22h0m0 6h0m0 2h0m0 17h0m0 13h0m0 14h0m0 9h0m0 22h0m1-205h0m0 24h0m0 50h0m0 7h0m0 18h0m0 3h0m0 8h0m0 2h0m0 7h0m0 11h0m0 27h0m0 13h0m0 56h0m1-209h0m0 74h0m0 54h0m0 37h0m1-143h0m0 41h0m0 4h0m0 7h0m0 17h0m0 21h0m0 58h0m0 10h0m0 11h0m0 39h0m1-199h0m0 0h0m0 1h0m0 11h0m0 72h0m0 1h0m0 38h0m0 62h0m1-218h0m0 17h0m0 6h0m0 1h0m0 8h0m0 73h0m1-81h0m0 17h0m0 18h0m0 6h0m0 13h0m0 10h0m0 9h0m0 32h0m0 8h0m1-94h0m0 12h0m0 51h0m0 8h0m0 3h0m1-96h0m1 8h0m0 39h0m0 1h0m0 43h0m0 35h0m0 5h0m1-159h0m0 18h0m0 36h0m0 24h0m0 30h0m0 2h0m0 57h0m1-128h0m0 23h0m0 31h0m0 70h0m0 26h0m1-122h0m0 22h0m0 44h0m1-144h0m0 13h0m0 13h0m0 10h0m0 17h0m0 29h0m0 5h0m0 5h0m0 105h0m0 25h0m0 33h0m1-176h0m0 40h0m0 66h0m1-166h0m0 48h0m0 10h0m0 62h0m0 5h0m0 14h0m0 8h0m0 11h0m1-131h0m0 54h0m0 18h0m1-94h0m0 66h0m0 24h0m0 15h0m1-107h0m0 82h0m1-26h0m1-2h0m0 22h0m1-1h0m1 33h0m0 12h0m1-136h0m0 70h0m0 16h0m0 100h0m0 40h0m1-88h0m0 51h0m1-130h0m0 17h0m0 22h0m0 41h0m0 60h0m1-101h0m1 7h0m1-13h0m0 50h0m1-57h0m0 163h0m1-199h0m0 84h0"/>
<path fill="#fff" fill-rule="evenodd" d="M109.2 673.3L112.4 675.6L118.9 675.4L121.5 673.3L125.4 671.5L132 673L138.5 673.1L145 669.2L146 666.8L151.5 663.2L158 662.1L159.8 660.3L162.9 653.8L162.7 647.3L161.9 640.8L164.5 634.3L164.5 634.3L166.2 627.8L167.7 621.3L168.1 614.8L165.8 608.3L166.3 601.8L168 595.3L164.5 588.8L164.5 588.8L164.5 588.8L165.1 582.3L164.5 581L161 575.8L158.2 569.3L158.2 562.7L158 562.6L151.5 561L145 562.3L138.5 559.7L132 559.5L125.4 559.2L118.9 559.2L112.4 561.6L107.2 562.7L107.2 569.3L105.9 569.7L99.4 571.6L96.5 575.8L97 582.3L95.4 588.8L92.9 592.8L91.7 595.3L89 601.8L89.1 608.3L90.8 614.8L90.9 621.3L90.9 627.8L91.3 634.3L92.9 636.7L95.5 640.8L94.9 647.3L99.4 652.6L100.4 653.8L99.4 655.1L97.4 660.3L99.4 662.7L105.9 662.8L110.7 666.8L109.2 673.3ZM151.5 653.8L151.5 653.8L151.5 653.8L151.5 653.8L151.5 653.8Z"/>
<g transform="translate(63.65 566) scale(6.5050)" shape-rendering="crispEdges">
<path fill="#fafafa" d="M3 10h1v1h-1zM3 9h1v1h-1zM3 8h1v1h-1zM3 7h1v1h-1zM3 6h1v1h-1zM3 5h1v1h-1zM4 13h1v1h-1zM4 12h1v1h-1zM4 11h1v1h-1zM4 3h1v1h-1zM4 2h1v1h-1zM4 0h1v1h-1zM5 15h1v1h-1zM5 13h1v1h-1zM5 0h1v1h-1zM6 16h1v1h-1zM6 15h1v1h-1zM6 0h1v1h-1zM8 17h1v1h-1zM9 16h1v1h-1zM10 17h1v1h-1zM10 16h1v1h-1zM11 16h1v1h-1zM12 16h1v1h-1zM13 16h1v1h-1zM14 15h1v1h-1zM15 14h1v1h-1zM15 13h1v1h-1zM15 12h1v1h-1zM15 11h1v1h-1zM15 1h1v1h-1zM16 9h1v1h-1zM16 8h1v1h-1zM16 7h1v1h-1zM16 6h1v1h-1zM16 5h1v1h-1zM16 4h1v1h-1z"/>
<path fill="#f5f5f5" d="M4 10h1v1h-1zM4 9h1v1h-1zM4 8h1v1h-1zM4 7h1v1h-1zM4 5h1v1h-1zM4 4h1v1h-1zM5 14h1v1h-1zM5 12h1v1h-1zM5 11h1v1h-1zM5 2h1v1h-1zM6 14h1v1h-1zM7 16h1v1h-1zM7 15h1v1h-1zM7 14h1v1h-1zM7 0h1v1h-1zM8 16h1v1h-1zM9 17h1v1h-1zM12 15h1v1h-1zM12 14h1v1h-1zM12 0h1v1h-1zM13 13h1v1h-1zM14 14h1v1h-1zM14 13h1v1h-1zM14 1h1v1h-1zM14 0h1v1h-1zM15 10h1v1h-1zM15 9h1v1h-1zM15 8h1v1h-1zM15 6h1v1h-1zM15 5h1v1h-1zM15 3h1v1h-1zM15 2h1v1h-1z"/>
<path fill="#f0f0f0" d="M4 6h1v1h-1zM5 3h1v1h-1zM5 1h1v1h-1zM6 13h1v1h-1zM6 12h1v1h-1zM8 15h1v1h-1zM13 14h1v1h-1zM13 0h1v1h-1zM14 12h1v1h-1zM14 11h1v1h-1zM14 10h1v1h-1zM14 2h1v1h-1zM15 7h1v1h-1zM15 4h1v1h-1z"/>
<path fill="#ebebeb" d="M5 10h1v1h-1zM5 9h1v1h-1zM5 6h1v1h-1zM6 2h1v1h-1zM8 14h1v1h-1zM9 15h1v1h-1zM11 15h1v1h-1zM12 1h1v1h-1zM13 12h1v1h-1zM14 9h1v1h-1zM14 8h1v1h-1zM14 5h1v1h-1z"/>
<path fill="#e6e6e6" d="M5 8h1v1h-1zM5 4h1v1h-1zM6 1h1v1h-1zM7 13h1v1h-1zM10 15h1v1h-1zM10 14h1v1h-1zM11 0h1v1h-1zM13 2h1v1h-1zM14 3h1v1h-1z"/>
<path fill="#e1e1e1" d="M6 11h1v1h-1zM7 1h1v1h-1zM8 13h1v1h-1zM10 0h1v1h-1zM13 1h1v1h-1zM14 4h1v1h-1z"/>
<path fill="#dcdcdc" d="M5 5h1v1h-1zM9 14h1v1h-1zM9 0h1v1h-1zM11 14h1v1h-1zM12 13h1v1h-1zM12 2h1v1h-1zM14 7h1v1h-1zM14 6h1v1h-1z"/>
<path fill="#d7d7d7" d="M6 3h1v1h-1zM7 12h1v1h-1zM8 0h1v1h-1zM13 3h1v1h-1z"/>
<path fill="#d2d2d2" d="M5 7h1v1h-1zM6 10h1v1h-1zM6 9h1v1h-1zM7 2h1v1h-1zM11 13h1v1h-1zM13 11h1v1h-1z"/>
<path fill="#cdcdcd" d="M6 8h1v1h-1zM7 11h1v1h-1zM9 13h1v1h-1zM10 1h1v1h-1zM12 12h1v1h-1zM13 10h1v1h-1z"/>
<path fill="#c8c8c8" d="M6 5h1v1h-1zM8 1h1v1h-1zM10 13h1v1h-1zM11 1h1v1h-1zM12 3h1v1h-1zM13 9h1v1h-1zM13 6h1v1h-1z"/>
<path fill="#c3c3c3" d="M7 5h1v1h-1zM8 2h1v1h-1zM12 11h1v1h-1zM13 7h1v1h-1zM13 4h1v1h-1z"/>
<path fill="#bebebe" d="M6 7h1v1h-1zM6 6h1v1h-1zM9 12h1v1h-1zM9 2h1v1h-1zM9 1h1v1h-1zM13 5h1v1h-1z"/>
<path fill="#b9b9b9" d="M12 10h1v1h-1zM12 4h1v1h-1zM13 8h1v1h-1z"/>
<path fill="#b4b4b4" d="M6 4h1v1h-1z"/>
<path fill="#afafaf" d="M7 10h1v1h-1zM7 9h1v1h-1zM7 8h1v1h-1zM7 4h1v1h-1zM8 3h1v1h-1zM11 12h1v1h-1zM11 11h1v1h-1zM11 4h1v1h-1zM11 3h1v1h-1zM11 2h1v1h-1z"/>
<path fill="#aaaaaa" d="M10 2h1v1h-1z"/>
<path fill="#a5a5a5" d="M7 3h1v1h-1zM8 12h1v1h-1zM10 12h1v1h-1zM12 9h1v1h-1z"/>
<path fill="#a0a0a0" d="M8 11h1v1h-1zM10 3h1v1h-1z"/>
<path fill="#9b9b9b" d="M12 7h1v1h-1z"/>
<path fill="#919191" d="M7 7h1v1h-1z"/>
<path fill="#8c8c8c" d="M10 11h1v1h-1z"/>
<path fill="#878787" d="M7 6h1v1h-1zM12 8h1v1h-1zM12 6h1v1h-1zM12 5h1v1h-1z"/>
<path fill="#828282" d="M8 8h1v1h-1zM9 3h1v1h-1zM11 6h1v1h-1z"/>
<path fill="#787878" d="M8 10h1v1h-1zM8 4h1v1h-1zM9 10h1v1h-1z"/>
<path fill="#737373" d="M9 5h1v1h-1zM9 4h1v1h-1zM11 9h1v1h-1z"/>
<path fill="#6e6e6e" d="M11 7h1v1h-1z"/>
<path fill="#696969" d="M10 5h1v1h-1zM11 10h1v1h-1zM11 5h1v1h-1z"/>
<path fill="#646464" d="M8 6h1v1h-1zM8 5h1v1h-1zM10 4h1v1h-1z"/>
<path fill="#5f5f5f" d="M10 10h1v1h-1z"/>
<path fill="#505050" d="M9 11h1v1h-1zM9 6h1v1h-1z"/>
<path fill="#4b4b4b" d="M10 9h1v1h-1z"/>
<path fill="#414141" d="M8 9h1v1h-1z"/>
<path fill="#3c3c3c" d="M9 7h1v1h-1z"/>
<path fill="#2d2d2d" d="M9 8h1v1h-1z"/>
<path fill="#282828" d="M10 8h1v1h-1z"/>
<path fill="#232323" d="M10 7h1v1h-1z"/>
<path fill="#1e1e1e" d="M10 6h1v1h-1z"/>
<path fill="#191919" d="M8 7h1v1h-1z"/>
<path fill="#0a0a0a" d="M11 8h1v1h-1z"/>
<path fill="#000000" d="M9 9h1v1h-1z"/>
</g>
<path class="ct" d="M109.2 673.3L112.4 675.6L118.9 675.4L121.5 673.3L125.4 671.5L132 673L138.5 673.1L145 669.2L146 666.8L151.5 663.2L158 662.1L159.8 660.3L162.9 653.8L162.7 647.3L161.9 640.8L164.5 634.3L164.5 634.3L166.2 627.8L167.7 621.3L168.1 614.8L165.8 608.3L166.3 601.8L168 595.3L164.5 588.8L164.5 588.8L164.5 588.8L165.1 582.3L164.5 581L161 575.8L158.2 569.3L158.2 562.7L158 562.6L151.5 561L145 562.3L138.5 559.7L132 559.5L125.4 559.2L118.9 559.2L112.4 561.6L107.2 562.7L107.2 569.3L105.9 569.7L99.4 571.6L96.5 575.8L97 582.3L95.4 588.8L92.9 592.8L91.7 595.3L89 601.8L89.1 608.3L90.8 614.8L90.9 621.3L90.9 627.8L91.3 634.3L92.9 636.7L95.5 640.8L94.9 647.3L99.4 652.6L100.4 653.8L99.4 655.1L97.4 660.3L99.4 662.7L105.9 662.8L110.7 666.8ZM151.5 653.8L151.5 653.8L151.5 653.8L151.5 653.8ZM124.5 660.3L125.4 661L127.3 660.3L132 659.3L136 660.3L138.5 661.4L139 660.3L145 654.9L145.8 653.8L149 647.3L151.5 644.6L154.3 640.8L154.9 634.3L155.9 627.8L156.4 621.3L158 616L158.7 614.8L158.7 608.3L158 606.7L156.1 601.8L157.4 595.3L155.3 588.8L151.5 584.3L147.1 582.3L145 581L142.8 575.8L138.5 570.5L132 569.8L130.3 569.3L130.3 562.7L125.4 562.3L118.9 562.1L117.6 562.7L117.6 569.3L112.4 575.8L112.4 575.8L109 582.3L105.9 585.8L103.9 588.8L100.1 595.3L99.4 598.5L98.5 601.8L99.4 603.2L101.7 608.3L99.4 611.6L97.4 614.8L99.4 618.7L101.7 621.3L102.7 627.8L102.7 634.3L105.9 640.8L105.9 640.8L110 647.3L112.4 652L118.9 653.8L118.9 653.8ZM117.5 647.3L118.9 648.5L122.2 647.3L125.4 646.4L129.3 647.3L132 648.9L137.6 647.3L138.2 640.8L138.5 640.7L144.2 634.3L145 631.9L147.1 627.8L150.4 621.3L148.4 614.8L148.5 608.3L149.7 601.8L145 596.8L138.5 595.3L138.5 595.3L138 588.8L138.5 586.6L138.7 582.3L138.5 581.7L132 581.4L130.3 582.3L125.4 584.1L119.1 588.8L118.9 588.9L118.2 588.8L112.4 587.4L111.2 588.8L112.4 594.5L112.6 595.3L113.9 601.8L112.4 604L108 608.3L108.3 614.8L112 621.3L112.4 627.8L112.4 627.8L112.4 627.8L112.1 634.3L112.4 634.8L116.8 640.8ZM118.4 627.8L118.9 629.1L125.4 631.7L132 628.4L132.2 627.8L138.5 625.3L141.8 621.3L138.5 617.1L135.6 614.8L134.9 608.3L132 604.1L125.4 608.3L125.4 608.3L118.9 610.2L116.3 614.8L118.9 617.8L123.1 621.3L118.9 626.7Z"/>
</g>
<g clip-path="url(#c41)">
<path class="pt" transform="translate(200.25 566) scale(.5)" d="m0 150h0m1-95h0m0 52h0m1-95h0m1 9h0m0 50h0m0 72h0m1-82h0m0 30h0m0 89h0m1-101h0m2-32h0m1 114h0m1-48h0m1-102h0m0 24h0m0 23h0m0 143h0m2-178h0m0 144h0m1-52h0m0 55h0m1-81h0m0 20h0m1-38h0m0 11h0m0 10h0m0 42h0m0 35h0m1-132h0m0 93h0m0 19h0m0 58h0m1-174h0m0 20h0m0 4h0m0 18h0m1-55h0m0 37h0m0 15h0m0 12h0m0 7h0m0 27h0m0 29h0m0 78h0m0 35h0m1-156h0m0 7h0m1-92h0m0 94h0m0 12h0m1-95h0m0 60h0m1-63h0m0 30h0m0 31h0m1 43h0m0 4h0m1-133h0m0 1h0m0 20h0m0 51h0m1 52h0m1-116h0m0 51h0m0 35h0m0 15h0m0 49h0m0 8h0m0 39h0m1-194h0m0 15h0m0 10h0m0 8h0m0 34h0m0 50h0m0 7h0m0 24h0m0 1h0m0 4h0m1-65h0m0 8h0m1 29h0m0 23h0m0 5h0m0 15h0m0 2h0m0 21h0m0 2h0m1-116h0m0 10h0m0 8h0m0 5h0m0 4h0m0 15h0m0 36h0m0 63h0m1-222h0m0 51h0m0 37h0m0 2h0m0 3h0m0 14h0m0 9h0m0 25h0m0 23h0m0 8h0m1-160h0m0 1h0m0 51h0m0 4h0m0 27h0m0 56h0m0 41h0m1-172h0m0 63h0m0 8h0m0 10h0m0 26h0m0 1h0m0 0h0m0 2h0m0 3h0m0 11h0m0 27h0m0 40h0m1-190h0m0 50h0m0 3h0m0 9h0m0 15h0m0 33h0m0 12h0m1-124h0m0 8h0m0 7h0m0 12h0m0 6h0m0 6h0m0 2h0m0 4h0m0 49h0m0 7h0m0 4h0m0 8h0m0 30h0m0 24h0m1-158h0m0 17h0m0 8h0m0 27h0m0 55h0m0 8h0m1-52h0m0 2h0m0 30h0m0 8h0m0 25h0m1-147h0m0 66h0m0 13h0m0 6h0m0 4h0m0 5h0m0 13h0m0 9h0m0 5h0m0 0h0m0 25h0m1-118h0m0 14h0m0 2h0m0 7h0m0 91h0m0 8h0m0 54h0m1-218h0m0 4h0m0 31h0m0 10h0m0 15h0m0 2h0m0 10h0m0 12h0m0 39h0m0 27h0m0 5h0m0 62h0m1-202h0m0 14h0m0 10h0m0 3h0m0 9h0m0 8h0m0 19h0m0 18h0m0 10h0m0 1h0m0 20h0m0 28h0m0 9h0m0 2h0m0 9h0m0 3h0m0 10h0m0 7h0m0 4h0m1-187h0m0 34h0m0 20h0m0 37h0m0 11h0m0 7h0m0 11h0m0 0h0m0 1h0m0 5h0m0 6h0m0 4h0m0 10h0m0 3h0m0 6h0m0 29h0m0 14h0m1-206h0m0 28h0m0 26h0m0 2h0m0 12h0m0 3h0m0 5h0m0 15h0m0 5h0m0 9h0m0 7h0m0 45h0m0 3h0m0 28h0m0 3h0m0 60h0m1-245h0m0 0h0m0 32h0m0 46h0m0 62h0m1-127h0m0 1h0m0 9h0m0 3h0m0 32h0m0 7h0m0 41h0m0 10h0m0 3h0m0 8h0m0 14h0m0 4h0m0 23h0m0 22h0m1-200h0m0 41h0m0 4h0m0 7h0m0 6h0m0 2h0m0 3h0m0 11h0m0 10h0m0 28h0m0 52h0m0 12h0m0 50h0m1-219h0m0 14h0m0 18h0m0 22h0m0 19h0m0 18h0m0 5h0m0 6h0m0 20h0m0 9h0m0 7h0m0 10h0m0 76h0m1-234h0m0 15h0m0 6h0m0 4h0m0 8h0m0 37h0m0 14h0m0 18h0m0 17h0m0 9h0m0 13h0m0 27h0m0 24h0m1-189h0m0 13h0m0 4h0m0 40h0m0 7h0m0 1h0m0 8h0m0 28h0m0 3h0m0 7h0m0 29h0m0 6h0m0 2h0m0 49h0m1-194h0m0 14h0m0 11h0m0 29h0m0 19h0m0 40h0m0 16h0m0 0h0m0 15h0m0 1h0m0 5h0m0 44h0m0 4h0m0 16h0m0 11h0m1-173h0m0 5h0m0 3h0m0 12h0m0 5h0m0 17h0m0 4h0m0 17h0m0 9h0m0 31h0m0 15h0m0 54h0m1-217h0m0 5h0m0 29h0m0 17h0m0 4h0m0 15h0m0 21h0m0 11h0m0 8h0m0 7h0m0 8h0m0 5h0m0 16h0m0 6h0m0 26h0m0 25h0m0 8h0m1-213h0m0 3h0m0 7h0m0 23h0m0 4h0m0 8h0m0 7h0m0 22h0m0 9h0m0 1h0m0 8h0m0 0h0m0 3h0m0 1h0m0 11h0m0 2h0m0 11h0m0 4h0m0 13h0m0 9h0m0 2h0m0 15h0m0 18h0m0 28h0m0 1h0m0 4h0m1-224h0m0 18h0m0 11h0m0 5h0m0 6h0m0 1h0m0 5h0m0 7h0m0 5h0m0 9h0m0 8h0m0 12h0m0 1h0m0 1h0m0 18h0m0 14h0m0 9h0m0 1h0m0 1h0m0 0h0m0 1h0m0 34h0m0 2h0m0 2h0m0 1h0m1-154h0m0 5h0m0 16h0m0 0h0m0 2h0m0 27h0m0 3h0m0 1h0m0 12h0m0 17h0m0 9h0m0 6h0m0 2h0m0 8h0m0 1h0m0 3h0m0 7h0m0 0h0m0 0h0m0 3h0m0 8h0m0 22h0m1-160h0m0 5h0m0 12h0m0 26h0m0 6h0m0 4h0m0 20h0m0 9h0m0 4h0m0 3h0m0 1h0m0 1h0m0 2h0m0 1h0m0 24h0m0 15h0m0 2h0m0 38h0m0 1h0m0 72h0m1-248h0m0 1h0m0 4h0m0 38h0m0 1h0m0 23h0m0 1h0m0 2h0m0 1h0m0 4h0m0 6h0m0 4h0m0 31h0m0 3h0m0 73h0m1-172h0m0 1h0m0 2h0m0 11h0m0 12h0m0 1h0m0 6h0m0 5h0m0 1h0m0 2h0m0 9h0m0 0h0m0 6h0m0 8h0m0 26h0m0 26h0m0 6h0m0 0h0m0 13h0m0 42h0m0 7h0m0 3h0m1-209h0m0 16h0m0 10h0m0 12h0m0 23h0m0 6h0m0 3h0m0 3h0m0 4h0m0 60h0m0 0h0m0 1h0m0 0h0m0 11h0m0 1h0m0 1h0m0 5h0m0 4h0m0 5h0m0 2h0m0 6h0m0 7h0m0 8h0m0 9h0m1-165h0m0 3h0m0 36h0m0 6h0m0 81h0m0 12h0m0 66h0m1-225h0m0 1h0m0 10h0m0 7h0m0 3h0m0 111h0m0 11h0m0 6h0m0 5h0m0 75h0m1-243h0m0 10h0m0 9h0m0 121h0m0 13h0m0 3h0m0 2h0m0 8h0m0 14h0m0 18h0m0 11h0m0 10h0m0 32h0m1-238h0m0 12h0m0 11h0m0 108h0m0 21h0m0 1h0m0 6h0m0 12h0m0 4h0m1-186h0m0 10h0m0 0h0m0 8h0m0 1h0m0 3h0m0 6h0m0 116h0m0 10h0m0 8h0m0 25h0m1-48h0m0 1h0m0 16h0m0 7h0m0 16h0m0 3h0m0 2h0m0 1h0m0 15h0m0 43h0m1-239h0m0 8h0m0 7h0m0 6h0m0 3h0m0 3h0m0 109h0m0 13h0m0 12h0m0 21h0m0 1h0m0 5h0m0 19h0m0 10h0m0 16h0m1-243h0m0 0h0m0 11h0m0 1h0m0 1h0m0 3h0m0 12h0m0 0h0m0 7h0m0 116h0m0 3h0m0 10h0m0 5h0m0 4h0m0 2h0m0 6h0m0 4h0m0 0h0m0 28h0m0 40h0m1-245h0m0 2h0m0 3h0m0 9h0m0 8h0m0 119h0m0 1h0m0 6h0m0 11h0m0 14h0m0 8h0m0 3h0m0 8h0m0 23h0m0 10h0m1-227h0m0 7h0m0 10h0m0 0h0m0 135h0m0 8h0m0 18h0m0 2h0m0 4h0m0 1h0m0 24h0m0 11h0m0 14h0m1-228h0m0 15h0m0 4h0m0 147h0m0 6h0m0 9h0m0 5h0m0 20h0m0 25h0m0 3h0m1-245h0m0 2h0m0 18h0m0 120h0m0 1h0m0 5h0m0 6h0m0 1h0m0 2h0m0 16h0m0 2h0m0 1h0m0 27h0m1-203h0m0 11h0m0 5h0m0 1h0m0 137h0m0 21h0m0 12h0m0 3h0m0 1h0m0 16h0m0 10h0m0 25h0m0 0h0m1-239h0m0 9h0m0 3h0m0 3h0m0 0h0m0 133h0m0 25h0m0 3h0m0 6h0m0 4h0m0 16h0m1-204h0m0 173h0m0 12h0m0 1h0m0 5h0m0 13h0m0 9h0m0 26h0m1-231h0m0 1h0m0 3h0m0 166h0m0 16h0m0 16h0m0 2h0m0 34h0m1-247h0m0 190h0m0 0h0m0 5h0m0 2h0m0 10h0m0 13h0m0 10h0m1-228h0m0 234h0m0 4h0m0 17h0m1-252h0m0 203h0m1-208h0m0 2h0m0 1h0m0 190h0m0 9h0m0 52h0m1-252h0m0 4h0m0 188h0m0 0h0m0 15h0m0 3h0m0 46h0m1-258h0m0 1h0m0 6h0m0 191h0m0 43h0m1-237h0m0 198h0m0 9h0m0 9h0m0 7h0m0 3h0m1-227h0m0 2h0m0 192h0m0 9h0m0 45h0m1-43h0m0 18h0m0 20h0m0 2h0m0 7h0m1-56h0m0 4h0m0 0h0m0 5h0m0 47h0m0 3h0m1-55h0m0 0h0m0 2h0m0 23h0m1-29h0m0 2h0m0 10h0m0 29h0m0 10h0m1-54h0m0 4h0m0 2h0m0 5h0m0 26h0m0 16h0m1-51h0m0 9h0m0 20h0m0 13h0m1-41h0m0 33h0m1-14h0m0 26h0m0 1h0m1-49h0m0 25h0m0 9h0m0 8h0m0 9h0m1-35h0m0 8h0m0 39h0m1-51h0m0 9h0m0 31h0m1-44h0m0 3h0m0 11h0m0 4h0m0 12h0m1-18h0m0 3h0m0 1h0m0 10h0m0 8h0m1-17h0m0 11h0m0 2h0m1-35h0m0 9h0m0 2h0m0 21h0m0 1h0m1-29h0m0 13h0m0 14h0m0 15h0m1-38h0m0 10h0m1-11h0m0 11h0m0 6h0m0 10h0m0 14h0m0 1h0m0 3h0m0 5h0m1-22h0m0 19h0m0 0h0m1-48h0m0 10h0m0 8h0m1-17h0m0 7h0m1-3h0m0 15h0m0 5h0m0 7h0m0 3h0m1-30h0m0 15h0m0 1h0m0 5h0m0 2h0m0 11h0m0 2h0m1-33h0m0 3h0m0 1h0m0 5h0m0 6h0m0 24h0m1-11h0m0 6h0m0 12h0m1-45h0m1 13h0m0 8h0m0 13h0m1-36h0m0 4h0m0 14h0m0 25h0m1-24h0m1 12h0m0 15h0m1-40h0m0 10h0m0 7h0m0 2h0m1-19h0m1-2h0m0 32h0m1-21h0m0 2h0m0 1h0m0 0h0m0 13h0m0 15h0m1-32h0m0 2h0m0 1h0m1-14h0m0 8h0m0 0h0m0 12h0m0 16h0m1-37h0m0 7h0m0 3h0m1-7h0m0 1h0m0 7h0m0 7h0m0 13h0m1-29h0m0 20h0m1-21h0m0 12h0m0 11h0m1-22h0m0 1h0m0 3h0m0 4h0m0 23h0m0 2h0m0 4h0m0 4h0m1-27h0m0 2h0m0 20h0m1-17h0m0 4h0m0 20h0m1-14h0m0 1h0m0 2h0m0 9h0m1-37h0m0 3h0m0 13h0m0 3h0m0 1h0m0 2h0m1-20h0m0 13h0m0 3h0m1 0h0m0 1h0m0 5h0m0 12h0m1-36h0m0 1h0m0 25h0m0 14h0m1-40h0m0 1h0m0 7h0m0 12h0m0 2h0m0 1h0m1-23h0m0 8h0m1 8h0m0 1h0m0 0h0m0 7h0m0 12h0m2-36h0m0 5h0m0 4h0m0 17h0m1-17h0m0 2h0m0 8h0m1-16h0m0 0h0m0 33h0m1-33h0m0 4h0m0 3h0m0 1h0m0 1h0m0 13h0m1-24h0m1 7h0m0 9h0m0 10h0m1-13h0m0 0h0m0 8h0m0 8h0m1-9h0m0 4h0m1-13h0m1 1h0m0 1h0m0 11h0m0 6h0m0 0h0m1-27h0m0 2h0m0 3h0m0 9h0m1 3h0m1-17h0m0 13h0m0 12h0m1 7h0m3-29h0m0 3h0m0 0h0m0 10h0m0 3h0m0 15h0m1-32h0m0 1h0m0 3h0m0 5h0m0 5h0m2-9h0m0 7h0m0 0h0m0 17h0m0 2h0m1-33h0m0 9h0m0 6h0m1-19h0m1 2h0m0 1h0m0 6h0m0 5h0m0 9h0m1-13h0m0 3h0m0 4h0m0 17h0m1-35h0m0 2h0m0 5h0m0 6h0m0 9h0m0 6h0m1-24h0m0 23h0m1-23h0m0 3h0m0 27h0m0 1h0m0 0h0m1-27h0m0 20h0m1-17h0m0 3h0m1-16h0m0 1h0m0 19h0m1-20h0m0 7h0m0 32h0m1-35h0m0 0h0m0 4h0m0 5h0m0 15h0m1-20h0m0 31h0m1-40h0m0 2h0m0 2h0m0 0h0m0 7h0m0 19h0m0 6h0m0 4h0m1-41h0m0 14h0m0 10h0m0 17h0m1-40h0m0 5h0m0 3h0m0 15h0m0 19h0m1-34h0m0 33h0m1-37h0m0 31h0m0 6h0m1 0h0m2-39h0m0 7h0m0 6h0m1-20h0m0 2h0m0 6h0m0 0h0m0 14h0m0 24h0m0 2h0m1-41h0m1-2h0m0 14h0m1-16h0m0 2h0m0 1h0m0 3h0m0 6h0m0 3h0m1-21h0m0 5h0m0 7h0m0 16h0m1-27h0m0 1h0m0 1h0m0 49h0m1-43h0m1-9h0m0 40h0m1-49h0m0 3h0m0 10h0m0 11h0m1-31h0m0 1h0m0 2h0m0 2h0m0 52h0m1-62h0m0 8h0m0 6h0m0 16h0m1-26h0m0 6h0m0 49h0m1-62h0m0 6h0m0 1h0m0 5h0m0 1h0m0 10h0m0 2h0m0 22h0m0 26h0m1-69h0m0 2h0m0 13h0m0 2h0m0 2h0m0 3h0m0 4h0m0 34h0m0 4h0m0 3h0m1-71h0m0 0h0m0 8h0m0 3h0m0 6h0m0 15h0m0 24h0m0 4h0m1-240h0m0 3h0m0 179h0m0 1h0m0 1h0m0 0h0m0 7h0m0 2h0m0 5h0m0 1h0m0 1h0m0 4h0m0 4h0m0 3h0m0 12h0m0 6h0m0 1h0m1-227h0m0 1h0m0 175h0m0 17h0m0 20h0m0 1h0m1-35h0m0 3h0m0 8h0m0 0h0m0 1h0m0 1h0m0 3h0m0 26h0m0 1h0m1-229h0m0 12h0m0 168h0m0 32h0m1-208h0m0 5h0m0 166h0m0 10h0m0 15h0m1-190h0m0 5h0m0 0h0m0 165h0m0 2h0m0 6h0m0 1h0m0 16h0m1-12h0m0 47h0m1-236h0m0 1h0m0 9h0m0 3h0m0 0h0m0 155h0m0 15h0m0 7h0m0 7h0m0 1h0m1-189h0m0 168h0m0 3h0m0 18h0m0 52h0m1-244h0m0 10h0m0 146h0m0 4h0m0 4h0m0 4h0m0 12h0m0 12h0m0 12h0m0 2h0m0 4h0m0 28h0m1-247h0m0 16h0m0 148h0m0 3h0m0 1h0m0 5h0m0 2h0m0 1h0m0 7h0m0 4h0m0 0h0m0 12h0m0 34h0m0 4h0m1-236h0m0 6h0m0 8h0m0 8h0m0 142h0m0 12h0m0 2h0m0 1h0m0 6h0m0 2h0m0 3h0m0 6h0m0 9h0m0 12h0m0 1h0m1-215h0m0 15h0m0 7h0m0 1h0m0 149h0m0 15h0m0 9h0m0 2h0m0 28h0m1-227h0m0 20h0m0 1h0m0 136h0m0 7h0m0 40h0m0 26h0m0 4h0m0 1h0m0 20h0m1-248h0m0 0h0m0 2h0m0 3h0m0 2h0m0 1h0m0 8h0m0 124h0m0 10h0m0 0h0m0 7h0m0 23h0m1-191h0m0 17h0m0 17h0m0 106h0m0 7h0m0 1h0m0 8h0m0 15h0m0 36h0m0 9h0m0 2h0m0 27h0m1-243h0m0 3h0m0 27h0m0 4h0m0 100h0m0 3h0m0 17h0m0 11h0m0 2h0m0 4h0m0 21h0m0 10h0m0 3h0m0 0h0m0 14h0m0 2h0m1-191h0m0 102h0m0 8h0m0 32h0m0 1h0m0 7h0m0 6h0m0 13h0m0 19h0m1-210h0m0 18h0m0 2h0m0 12h0m0 102h0m0 7h0m0 9h0m0 80h0m1-233h0m0 16h0m0 2h0m0 6h0m0 14h0m0 98h0m0 1h0m0 3h0m0 8h0m0 1h0m0 8h0m0 19h0m0 3h0m0 58h0m1-239h0m0 19h0m0 15h0m0 9h0m0 0h0m0 34h0m0 23h0m0 1h0m0 0h0m0 10h0m0 22h0m0 3h0m0 2h0m0 3h0m0 19h0m1-152h0m0 1h0m0 11h0m0 8h0m0 8h0m0 37h0m0 30h0m0 8h0m0 18h0m0 6h0m0 10h0m0 8h0m0 1h0m0 7h0m0 4h0m0 22h0m1-173h0m0 9h0m0 10h0m0 39h0m0 16h0m0 9h0m0 2h0m0 8h0m0 16h0m0 0h0m0 2h0m0 1h0m0 4h0m0 7h0m0 5h0m0 0h0m0 27h0m0 4h0m0 3h0m0 17h0m0 3h0m0 13h0m0 6h0m1-217h0m0 1h0m0 3h0m0 4h0m0 12h0m0 4h0m0 1h0m0 5h0m0 8h0m0 2h0m0 0h0m0 5h0m0 6h0m0 25h0m0 3h0m0 9h0m0 13h0m0 14h0m0 1h0m0 13h0m0 5h0m0 18h0m0 14h0m0 13h0m0 14h0m0 32h0m0 27h0m1-248h0m0 16h0m0 11h0m0 9h0m0 4h0m0 7h0m0 34h0m0 3h0m0 0h0m0 17h0m0 2h0m0 16h0m0 16h0m0 2h0m0 1h0m0 15h0m0 37h0m1-173h0m0 3h0m0 2h0m0 24h0m0 1h0m0 14h0m0 7h0m0 8h0m0 5h0m0 6h0m0 11h0m0 2h0m0 12h0m0 5h0m0 12h0m0 13h0m0 10h0m0 12h0m0 23h0m1-189h0m0 27h0m0 2h0m0 3h0m0 3h0m0 10h0m0 4h0m0 1h0m0 4h0m0 1h0m0 4h0m0 3h0m0 9h0m0 8h0m0 7h0m0 0h0m0 1h0m0 7h0m0 2h0m0 7h0m0 14h0m0 13h0m0 4h0m0 29h0m0 19h0m0 11h0m0 6h0m0 12h0m1-186h0m0 3h0m0 7h0m0 17h0m0 10h0m0 2h0m0 8h0m0 1h0m0 6h0m0 4h0m0 9h0m0 2h0m0 1h0m0 23h0m0 15h0m0 3h0m0 13h0m0 12h0m0 4h0m0 9h0m0 13h0m0 4h0m0 25h0m1-180h0m0 3h0m0 6h0m0 3h0m0 8h0m0 16h0m0 4h0m0 12h0m0 6h0m0 3h0m0 5h0m0 9h0m0 4h0m0 16h0m0 29h0m0 2h0m0 9h0m0 4h0m0 16h0m0 48h0m1-226h0m0 7h0m0 16h0m0 11h0m0 21h0m0 0h0m0 4h0m0 0h0m0 3h0m0 39h0m0 4h0m0 6h0m0 4h0m0 3h0m0 7h0m0 3h0m0 9h0m0 6h0m0 11h0m0 7h0m0 3h0m0 14h0m0 22h0m0 42h0m1-254h0m0 16h0m0 0h0m0 5h0m0 6h0m0 52h0m0 16h0m0 3h0m0 1h0m0 11h0m0 2h0m0 15h0m0 16h0m0 49h0m1-162h0m0 29h0m0 20h0m0 49h0m0 25h0m0 3h0m0 3h0m0 14h0m1-161h0m0 5h0m0 39h0m0 5h0m0 11h0m0 1h0m0 5h0m0 21h0m0 3h0m0 3h0m0 22h0m0 0h0m0 15h0m0 7h0m0 14h0m0 0h0m0 4h0m1-171h0m0 24h0m0 9h0m0 30h0m0 15h0m0 0h0m0 23h0m0 5h0m0 2h0m0 18h0m0 30h0m0 2h0m0 1h0m0 20h0m1-168h0m0 3h0m0 23h0m0 55h0m0 24h0m0 4h0m0 15h0m0 83h0m0 36h0m1-238h0m0 9h0m0 16h0m0 33h0m0 38h0m0 10h0m0 2h0m0 14h0m0 16h0m0 3h0m1-153h0m0 3h0m0 10h0m0 32h0m0 3h0m0 15h0m0 19h0m0 10h0m0 25h0m0 19h0m0 49h0m0 3h0m0 32h0m0 14h0m1-200h0m0 64h0m0 1h0m0 11h0m0 2h0m0 6h0m0 4h0m0 89h0m0 22h0m0 4h0m1-204h0m0 2h0m0 9h0m0 16h0m0 22h0m0 34h0m0 10h0m0 17h0m0 3h0m0 6h0m0 39h0m1-167h0m0 0h0m0 13h0m0 29h0m0 25h0m0 3h0m0 18h0m0 4h0m0 9h0m0 0h0m0 5h0m0 33h0m0 86h0m1-220h0m0 24h0m0 22h0m0 15h0m0 31h0m0 29h0m0 34h0m0 59h0m1-244h0m0 9h0m0 22h0m0 12h0m0 7h0m0 39h0m0 2h0m0 12h0m0 6h0m0 15h0m0 19h0m0 5h0m0 30h0m1-142h0m0 9h0m0 4h0m0 45h0m0 18h0m0 12h0m0 22h0m0 5h0m0 24h0m1-160h0m0 30h0m0 22h0m0 24h0m0 27h0m0 16h0m0 42h0m0 39h0m1-197h0m0 52h0m0 49h0m0 33h0m0 12h0m0 16h0m1-153h0m0 28h0m0 43h0m0 17h0m1-90h0m0 3h0m0 2h0m0 95h0m0 32h0m1-151h0m0 38h0m0 23h0m0 23h0m0 25h0m1-83h0m0 29h0m0 17h0m0 5h0m0 2h0m0 5h0m0 6h0m0 22h0m0 15h0m0 90h0m1-211h0m0 46h0m0 17h0m0 5h0m0 15h0m0 17h0m0 27h0m0 0h0m0 13h0m0 37h0m1-149h0m0 30h0m0 24h0m0 21h0m0 15h0m0 29h0m1-161h0m0 98h0m1-34h0m0 41h0m0 11h0m0 5h0m0 13h0m0 27h0m0 0h0m0 9h0m0 16h0m1-94h0m0 37h0m0 10h0m0 101h0m1-208h0m0 6h0m0 10h0m0 4h0m0 8h0m0 19h0m0 20h0m0 5h0m0 10h0m0 24h0m0 41h0m1-173h0m0 79h0m0 7h0m0 12h0m0 17h0m1-79h0m0 55h0m0 64h0m1-12h0m1-54h0m0 5h0m0 4h0m0 56h0m0 4h0m1-95h0m0 21h0m1-61h0m0 19h0m1-38h0m0 4h0m0 77h0m0 72h0m1-86h0m0 22h0m0 19h0m0 26h0m0 29h0m1-21h0m1-99h0m0 19h0m0 120h0m0 11h0m1-168h0m0 25h0m0 32h0m1-20h0m0 38h0m0 2h0m0 88h0m1-114h0m0 65h0m1-115h0m0 71h0m0 35h0m0 28h0"/>
<path fill="#fff" fill-rule="evenodd" d="M262 673.3L268.6 675.9L275.1 677.5L281.6 674.7L284.5 673.3L288.1 671.5L292.3 666.8L293.2 660.3L294.6 658.5L297.8 653.8L301.1 647.9L301.5 647.3L303.4 640.8L303.2 634.3L307.6 628.7L307.9 627.8L307.6 627.2L304.9 621.3L307.6 615.4L308 614.8L307.6 614.4L305.8 608.3L307.6 602.2L307.8 601.8L307.6 598.5L307.3 595.3L305.9 588.8L303.5 582.3L301.1 578.4L299.6 575.8L296 569.3L296 562.7L294.6 562.1L288.1 560.8L281.6 561.1L275.1 559.2L268.6 559.5L262 559.9L255.5 559.8L249 560.7L242.5 562.6L242 562.7L242 569.3L236.2 575.8L236 577.9L235.2 582.3L230.5 588.8L229.5 595.3L230.2 601.8L230.8 608.3L229.5 612.3L228.4 614.8L228.5 621.3L229.5 626.5L230.3 627.8L229.5 628.6L227.8 634.3L229.5 637.8L236 636.9L237 640.8L236 644.7L234 647.3L236 649.2L238.4 653.8L237.7 660.3L242.5 664.2L249 663.4L250.7 666.8L255.5 672L262 673.3L262 673.3Z"/>
<g transform="translate(200.25 566) scale(6.5050)" shape-rendering="crispEdges">
<path fill="#fafafa" d="M4 12h1v1h-1zM4 11h1v1h-1zM4 9h1v1h-1zM4 8h1v1h-1zM4 6h1v1h-1zM4 5h1v1h-1zM4 4h1v1h-1zM4 3h1v1h-1zM4 1h1v1h-1zM5 14h1v1h-1zM5 13h1v1h-1zM5 12h1v1h-1zM5 11h1v1h-1zM5 10h1v1h-1zM5 2h1v1h-1zM5 1h1v1h-1zM6 15h1v1h-1zM6 0h1v1h-1zM7 15h1v1h-1zM8 16h1v1h-1zM9 17h1v1h-1zM9 16h1v1h-1zM11 17h1v1h-1zM12 16h1v1h-1zM13 16h1v1h-1zM14 15h1v1h-1zM14 14h1v1h-1zM14 0h1v1h-1zM15 14h1v1h-1zM15 13h1v1h-1zM15 12h1v1h-1zM15 10h1v1h-1zM15 1h1v1h-1zM16 10h1v1h-1zM16 9h1v1h-1zM16 8h1v1h-1zM16 7h1v1h-1zM16 5h1v1h-1zM16 4h1v1h-1zM16 3h1v1h-1zM16 2h1v1h-1z"/>
<path fill="#f5f5f5" d="M4 10h1v1h-1zM4 7h1v1h-1zM5 9h1v1h-1zM5 3h1v1h-1zM6 14h1v1h-1zM7 14h1v1h-1zM7 13h1v1h-1zM10 16h1v1h-1zM10 15h1v1h-1zM12 15h1v1h-1zM12 0h1v1h-1zM13 15h1v1h-1zM13 14h1v1h-1zM13 0h1v1h-1zM14 13h1v1h-1zM14 12h1v1h-1zM14 1h1v1h-1zM15 11h1v1h-1zM15 8h1v1h-1zM15 2h1v1h-1z"/>
<path fill="#f0f0f0" d="M5 7h1v1h-1zM5 5h1v1h-1zM6 13h1v1h-1zM6 12h1v1h-1zM6 2h1v1h-1zM7 1h1v1h-1zM7 0h1v1h-1zM8 14h1v1h-1zM9 15h1v1h-1zM11 16h1v1h-1zM11 15h1v1h-1zM12 14h1v1h-1zM14 2h1v1h-1zM15 9h1v1h-1zM15 4h1v1h-1zM15 3h1v1h-1z"/>
<path fill="#ebebeb" d="M5 6h1v1h-1zM5 4h1v1h-1zM6 5h1v1h-1zM6 1h1v1h-1zM8 15h1v1h-1zM8 0h1v1h-1zM9 0h1v1h-1zM13 13h1v1h-1zM14 11h1v1h-1zM14 5h1v1h-1zM14 3h1v1h-1zM15 7h1v1h-1zM15 5h1v1h-1z"/>
<path fill="#e6e6e6" d="M5 8h1v1h-1zM6 11h1v1h-1zM7 12h1v1h-1zM7 2h1v1h-1zM8 1h1v1h-1zM10 0h1v1h-1zM12 13h1v1h-1zM13 12h1v1h-1zM13 2h1v1h-1zM13 1h1v1h-1zM14 6h1v1h-1zM15 6h1v1h-1z"/>
<path fill="#e1e1e1" d="M6 10h1v1h-1zM6 9h1v1h-1zM6 4h1v1h-1zM6 3h1v1h-1zM8 13h1v1h-1zM9 14h1v1h-1zM10 14h1v1h-1zM11 0h1v1h-1zM14 9h1v1h-1zM14 8h1v1h-1zM14 4h1v1h-1z"/>
<path fill="#dcdcdc" d="M6 8h1v1h-1zM11 14h1v1h-1zM14 10h1v1h-1zM14 7h1v1h-1z"/>
<path fill="#d7d7d7" d="M6 6h1v1h-1zM7 11h1v1h-1zM8 2h1v1h-1zM10 13h1v1h-1zM12 1h1v1h-1zM13 11h1v1h-1zM13 3h1v1h-1z"/>
<path fill="#d2d2d2" d="M6 7h1v1h-1zM7 3h1v1h-1zM8 12h1v1h-1zM10 1h1v1h-1zM11 1h1v1h-1zM13 9h1v1h-1zM13 4h1v1h-1z"/>
<path fill="#cdcdcd" d="M9 13h1v1h-1zM9 1h1v1h-1zM11 13h1v1h-1zM12 2h1v1h-1z"/>
<path fill="#c8c8c8" d="M7 10h1v1h-1zM7 9h1v1h-1zM7 4h1v1h-1zM9 2h1v1h-1zM10 2h1v1h-1zM12 12h1v1h-1zM13 10h1v1h-1z"/>
<path fill="#c3c3c3" d="M7 5h1v1h-1zM8 3h1v1h-1zM11 12h1v1h-1zM12 3h1v1h-1zM13 7h1v1h-1zM13 5h1v1h-1z"/>
<path fill="#bebebe" d="M7 8h1v1h-1zM10 12h1v1h-1zM12 11h1v1h-1z"/>
<path fill="#b9b9b9" d="M9 11h1v1h-1zM11 3h1v1h-1zM11 2h1v1h-1z"/>
<path fill="#b4b4b4" d="M8 10h1v1h-1z"/>
<path fill="#afafaf" d="M8 5h1v1h-1zM13 8h1v1h-1zM13 6h1v1h-1z"/>
<path fill="#aaaaaa" d="M7 6h1v1h-1zM12 10h1v1h-1zM12 5h1v1h-1z"/>
<path fill="#a5a5a5" d="M8 4h1v1h-1zM9 3h1v1h-1zM10 3h1v1h-1z"/>
<path fill="#a0a0a0" d="M8 9h1v1h-1zM9 12h1v1h-1z"/>
<path fill="#9b9b9b" d="M8 7h1v1h-1zM8 6h1v1h-1zM11 4h1v1h-1z"/>
<path fill="#969696" d="M7 7h1v1h-1zM9 10h1v1h-1zM10 4h1v1h-1zM11 11h1v1h-1z"/>
<path fill="#919191" d="M9 4h1v1h-1zM10 11h1v1h-1z"/>
<path fill="#8c8c8c" d="M8 11h1v1h-1zM12 7h1v1h-1zM12 4h1v1h-1z"/>
<path fill="#878787" d="M12 9h1v1h-1z"/>
<path fill="#828282" d="M8 8h1v1h-1zM12 6h1v1h-1z"/>
<path fill="#7d7d7d" d="M9 8h1v1h-1zM11 6h1v1h-1z"/>
<path fill="#787878" d="M9 9h1v1h-1zM12 8h1v1h-1z"/>
<path fill="#737373" d="M10 9h1v1h-1zM10 8h1v1h-1z"/>
<path fill="#6e6e6e" d="M11 10h1v1h-1z"/>
<path fill="#696969" d="M10 10h1v1h-1zM11 5h1v1h-1z"/>
<path fill="#646464" d="M10 6h1v1h-1z"/>
<path fill="#5f5f5f" d="M9 5h1v1h-1z"/>
<path fill="#5a5a5a" d="M9 7h1v1h-1z"/>
<path fill="#505050" d="M11 7h1v1h-1z"/>
<path fill="#4b4b4b" d="M9 6h1v1h-1z"/>
<path fill="#373737" d="M11 8h1v1h-1z"/>
<path fill="#323232" d="M10 7h1v1h-1z"/>
<path fill="#2d2d2d" d="M10 5h1v1h-1z"/>
<path fill="#000000" d="M11 9h1v1h-1z"/>
</g>
<path class="ct" d="M262 673.3L268.6 675.9L275.1 677.5L281.6 674.7L284.5 673.3L288.1 671.5L292.3 666.8L293.2 660.3L294.6 658.5L297.8 653.8L301.1 647.9L301.5 647.3L303.4 640.8L303.2 634.3L307.6 628.7L307.9 627.8L307.6 627.2L304.9 621.3L307.6 615.4L308 614.8L307.6 614.4L305.8 608.3L307.6 602.2L307.8 601.8L307.6 598.5L307.3 595.3L305.9 588.8L303.5 582.3L301.1 578.4L299.6 575.8L296 569.3L296 562.7L294.6 562.1L288.1 560.8L281.6 561.1L275.1 559.2L268.6 559.5L262 559.9L255.5 559.8L249 560.7L242.5 562.6L242 562.7L242 569.3L236.2 575.8L236 577.9L235.2 582.3L230.5 588.8L229.5 595.3L230.2 601.8L230.8 608.3L229.5 612.3L228.4 614.8L228.5 621.3L229.5 626.5L230.3 627.8L229.5 628.6L227.8 634.3L229.5 637.8L236 636.9L237 640.8L236 644.7L234 647.3L236 649.2L238.4 653.8L237.7 660.3L242.5 664.2L249 663.4L250.7 666.8L255.5 672L262 673.3ZM260 660.3L262 661.8L268.6 661.3L275.1 663.2L278.4 660.3L281.4 653.8L281.6 653.7L288.1 649.5L288.7 647.3L293.4 640.8L294.6 639.2L296.2 634.3L297.1 627.8L296.3 621.3L298.8 614.8L298.5 608.3L294.6 605.5L294 601.8L294.6 598.9L296.2 595.3L294.6 592.3L293.1 588.8L288.1 582.3L288.1 582.3L288.1 582.3L289 575.8L288.1 574.8L281.6 572.8L276.6 569.3L276.6 562.7L275.1 562.1L268.6 562.7L268.6 569.3L268.6 569.3L262 570.6L255.7 575.8L255.5 576.1L249 580.8L248 582.3L242.5 586.5L240.9 588.8L238.7 595.3L242.5 599.1L243.4 601.8L242.5 603.5L237.3 608.3L238.1 614.8L236 621.3L240.9 627.8L241.1 634.3L242.5 639.7L243 640.8L249 646.8L249.5 647.3L254.4 653.8L255.5 655.9ZM259.4 647.3L262 650.6L267 647.3L268.6 646.2L275.1 645.4L280.2 640.8L281.6 638.5L284.7 634.3L285.4 627.8L288.1 622.8L289 621.3L288.1 618.7L286.3 614.8L288.1 610.5L288.8 608.3L288.1 606L284.7 601.8L285.3 595.3L281.6 590.6L275.1 589.5L274 588.8L268.6 585.4L262 585.2L258 588.8L255.5 591.4L252.5 595.3L253.1 601.8L249 604.7L247.3 608.3L245.9 614.8L249 620.1L249.9 621.3L252.3 627.8L255.1 634.3L252.1 640.8L255.5 644.3ZM262 641.1L261.9 640.8L262 640.6L262.3 640.8ZM269.2 627.8L275.1 634.1L279.9 627.8L280 621.3L277.6 614.8L275.1 611.2L270.2 608.3L275.1 601.8L268.6 598.3L262 600.4L261.3 601.8L259.6 608.3L260.4 614.8L262 617.9L268.6 620.6L269.3 621.3Z"/>
</g>
<g clip-path="url(#c42)">
<path class="pt" transform="translate(336.85 566) scale(.5)" d="m0 43h0m0 38h0m0 62h0m0 18h0m0 75h0m1-229h0m0 53h0m0 42h0m0 23h0m0 7h0m0 2h0m0 20h0m0 15h0m0 55h0m1-220h0m0 70h0m0 86h0m0 10h0m1-163h0m0 1h0m0 6h0m0 66h0m0 3h0m0 3h0m0 4h0m0 24h0m0 0h0m1-48h0m0 18h0m0 19h0m0 24h0m0 11h0m0 7h0m0 9h0m0 8h0m0 3h0m0 23h0m1-129h0m0 42h0m0 7h0m0 95h0m0 3h0m1-202h0m0 65h0m0 9h0m0 10h0m0 3h0m0 1h0m0 5h0m0 7h0m0 76h0m1-121h0m0 72h0m0 46h0m0 32h0m1-187h0m0 59h0m0 0h0m0 16h0m0 23h0m0 14h0m0 0h0m0 24h0m0 22h0m0 67h0m1-192h0m0 14h0m0 74h0m0 40h0m0 35h0m1-214h0m0 30h0m0 9h0m0 77h0m0 18h0m0 3h0m0 24h0m0 5h0m1-142h0m0 26h0m0 12h0m0 7h0m0 30h0m0 13h0m0 4h0m0 5h0m0 21h0m0 11h0m0 28h0m1-159h0m0 16h0m0 17h0m0 0h0m0 1h0m0 58h0m0 1h0m0 2h0m0 10h0m0 28h0m1-142h0m0 18h0m0 3h0m0 28h0m0 10h0m0 3h0m0 1h0m0 26h0m0 61h0m1-155h0m0 25h0m0 8h0m0 8h0m0 17h0m0 5h0m0 1h0m0 3h0m0 7h0m0 7h0m0 3h0m0 0h0m0 2h0m0 20h0m0 3h0m0 4h0m0 23h0m0 19h0m0 60h0m1-158h0m0 31h0m0 2h0m0 1h0m0 2h0m0 23h0m0 3h0m0 33h0m0 19h0m1-172h0m0 3h0m0 12h0m0 14h0m0 3h0m0 1h0m0 0h0m0 20h0m0 34h0m0 17h0m0 8h0m0 4h0m0 4h0m0 8h0m0 6h0m0 3h0m0 2h0m0 25h0m0 6h0m0 29h0m1-206h0m0 19h0m0 5h0m0 10h0m0 9h0m0 13h0m0 10h0m0 0h0m0 12h0m0 2h0m0 4h0m0 18h0m0 7h0m0 1h0m0 23h0m0 10h0m0 6h0m0 1h0m0 11h0m0 2h0m0 51h0m0 11h0m1-207h0m0 12h0m0 40h0m0 1h0m0 1h0m0 6h0m0 6h0m0 4h0m0 5h0m0 12h0m0 38h0m0 13h0m0 2h0m0 6h0m0 20h0m0 9h0m0 5h0m0 38h0m1-239h0m0 20h0m0 9h0m0 33h0m0 16h0m0 15h0m0 29h0m0 5h0m0 5h0m0 7h0m0 14h0m0 52h0m0 1h0m1-168h0m0 10h0m0 0h0m0 8h0m0 8h0m0 11h0m0 10h0m0 3h0m0 6h0m0 36h0m0 9h0m0 0h0m0 4h0m0 13h0m0 0h0m0 12h0m0 16h0m0 18h0m0 27h0m0 0h0m1-201h0m0 8h0m0 6h0m0 3h0m0 8h0m0 2h0m0 1h0m0 17h0m0 9h0m0 20h0m0 1h0m0 5h0m0 1h0m0 6h0m0 5h0m0 1h0m0 0h0m0 8h0m0 17h0m0 12h0m0 2h0m0 43h0m0 13h0m1-195h0m0 15h0m0 4h0m0 7h0m0 6h0m0 16h0m0 38h0m0 12h0m0 8h0m0 25h0m0 4h0m0 21h0m0 24h0m0 6h0m0 22h0m0 2h0m1-229h0m0 13h0m0 4h0m0 13h0m0 3h0m0 10h0m0 4h0m0 12h0m0 3h0m0 32h0m0 3h0m0 20h0m0 2h0m0 7h0m0 3h0m0 4h0m0 16h0m0 27h0m0 8h0m0 39h0m0 8h0m1-219h0m0 12h0m0 85h0m0 13h0m0 3h0m0 4h0m0 19h0m0 0h0m0 15h0m0 3h0m0 5h0m0 9h0m0 15h0m0 42h0m0 8h0m1-241h0m0 1h0m0 16h0m0 3h0m0 22h0m0 4h0m0 84h0m0 11h0m0 11h0m0 5h0m1-158h0m0 15h0m0 4h0m0 2h0m0 3h0m0 3h0m0 2h0m0 0h0m0 3h0m0 12h0m0 91h0m0 2h0m0 2h0m0 3h0m0 5h0m0 29h0m0 1h0m0 1h0m0 13h0m0 11h0m1-199h0m0 5h0m0 4h0m0 7h0m0 2h0m0 20h0m0 2h0m0 4h0m0 91h0m0 2h0m0 3h0m0 7h0m0 5h0m0 13h0m0 7h0m0 10h0m0 2h0m0 35h0m0 31h0m1-258h0m0 1h0m0 10h0m0 9h0m0 13h0m0 11h0m0 3h0m0 99h0m0 5h0m0 0h0m0 0h0m0 10h0m0 4h0m0 5h0m0 22h0m0 5h0m0 17h0m0 9h0m0 2h0m1-213h0m0 19h0m0 0h0m0 2h0m0 9h0m0 2h0m0 143h0m0 47h0m0 13h0m1-245h0m0 7h0m0 17h0m0 8h0m0 4h0m0 4h0m0 116h0m0 3h0m0 6h0m0 41h0m0 5h0m0 2h0m1-214h0m0 2h0m0 13h0m0 16h0m0 14h0m0 107h0m0 2h0m0 22h0m0 0h0m0 7h0m0 1h0m0 6h0m0 7h0m1-189h0m0 7h0m0 16h0m0 3h0m0 7h0m0 3h0m0 109h0m0 3h0m0 2h0m0 2h0m0 12h0m0 7h0m0 39h0m1-209h0m0 2h0m0 33h0m0 110h0m0 22h0m0 15h0m0 0h0m0 19h0m0 20h0m1-232h0m0 11h0m0 4h0m0 3h0m0 11h0m0 9h0m0 4h0m0 146h0m0 8h0m0 4h0m0 12h0m1-34h0m0 2h0m0 3h0m0 29h0m1-208h0m0 12h0m0 163h0m0 10h0m0 50h0m1-235h0m0 1h0m0 8h0m0 3h0m0 173h0m0 20h0m0 30h0m1-236h0m0 3h0m0 176h0m0 0h0m0 2h0m0 16h0m0 41h0m1-51h0m0 3h0m0 2h0m0 2h0m0 13h0m0 7h0m1-209h0m0 7h0m0 166h0m0 17h0m0 5h0m0 0h0m0 4h0m0 0h0m0 13h0m1-216h0m0 0h0m0 2h0m0 181h0m0 1h0m0 3h0m0 1h0m0 13h0m0 6h0m0 3h0m0 8h0m0 4h0m0 15h0m1-241h0m0 7h0m0 5h0m0 194h0m0 3h0m0 7h0m0 1h0m0 41h0m1-66h0m0 4h0m0 4h0m0 13h0m0 4h0m0 29h0m1-246h0m0 3h0m0 5h0m0 1h0m0 233h0m1-44h0m0 4h0m0 4h0m0 1h0m0 1h0m0 5h0m0 15h0m0 10h0m1-41h0m0 11h0m0 5h0m0 30h0m0 1h0m1-28h0m0 11h0m0 7h0m1-37h0m0 12h0m0 4h0m0 2h0m0 5h0m0 27h0m1-43h0m0 38h0m1-45h0m0 4h0m0 6h0m0 16h0m1 6h0m0 9h0m0 10h0m1-48h0m0 2h0m0 5h0m0 17h0m0 3h0m0 8h0m1 2h0m0 3h0m1-37h0m0 18h0m0 1h0m0 15h0m1-37h0m0 2h0m0 13h0m0 2h0m0 7h0m0 13h0m0 19h0m1-47h0m0 1h0m0 4h0m0 6h0m1-13h0m0 18h0m1-22h0m0 3h0m0 2h0m0 1h0m0 5h0m1 11h0m0 3h0m0 26h0m1-42h0m0 9h0m0 8h0m0 1h0m0 10h0m0 3h0m1-34h0m0 8h0m0 4h0m0 29h0m0 4h0m1-16h0m1-24h0m0 6h0m1-10h0m0 1h0m0 0h0m0 12h0m0 34h0m1-47h0m0 3h0m0 8h0m0 12h0m1-21h0m0 7h0m0 12h0m0 13h0m0 3h0m1-29h0m0 6h0m0 1h0m0 3h0m0 11h0m0 21h0m1-29h0m0 20h0m0 5h0m1-31h0m0 2h0m0 11h0m0 5h0m0 16h0m1-39h0m0 4h0m0 3h0m0 20h0m1-20h0m0 17h0m0 12h0m1-38h0m0 21h0m0 18h0m0 1h0m1-41h0m0 3h0m0 1h0m0 7h0m0 3h0m1-5h0m0 2h0m0 5h0m0 11h0m0 10h0m0 3h0m1-23h0m0 17h0m1-34h0m0 0h0m0 2h0m0 28h0m1-9h0m0 2h0m0 1h0m1-15h0m0 1h0m0 16h0m1-23h0m0 0h0m0 14h0m0 0h0m0 11h0m1-5h0m1-22h0m0 8h0m0 7h0m1-12h0m0 15h0m0 10h0m1-21h0m1 5h0m0 0h0m0 23h0m1-25h0m0 19h0m0 9h0m1-25h0m0 6h0m0 7h0m0 4h0m1-25h0m0 0h0m0 6h0m0 9h0m1-19h0m0 1h0m0 0h0m0 1h0m0 4h0m1 5h0m0 2h0m0 8h0m0 0h0m0 5h0m0 13h0m0 2h0m1-39h0m0 6h0m0 2h0m0 4h0m0 12h0m0 10h0m0 1h0m1-37h0m0 1h0m0 3h0m0 6h0m0 20h0m1-28h0m0 18h0m1-19h0m0 19h0m0 6h0m0 6h0m1-31h0m0 0h0m0 2h0m0 10h0m0 4h0m0 4h0m0 4h0m0 2h0m1 9h0m1-27h0m1 0h0m0 2h0m0 9h0m1-18h0m0 20h0m0 17h0m1-38h0m0 36h0m1-35h0m0 14h0m0 11h0m0 10h0m1-24h0m1 18h0m1-32h0m0 8h0m1-6h0m0 0h0m0 1h0m0 2h0m0 12h0m0 10h0m0 3h0m0 0h0m0 7h0m0 2h0m1 0h0m0 0h0m1-4h0m0 5h0m1-29h0m0 3h0m0 13h0m0 11h0m1-33h0m0 0h0m0 4h0m0 4h0m0 25h0m0 1h0m1-27h0m0 21h0m1-25h0m0 0h0m0 7h0m1-13h0m0 19h0m1-21h0m0 3h0m0 1h0m0 13h0m0 8h0m1-24h0m0 11h0m0 2h0m0 11h0m1-25h0m0 3h0m0 38h0m1-42h0m0 7h0m0 10h0m0 0h0m0 3h0m0 1h0m0 4h0m0 5h0m0 9h0m0 0h0m0 2h0m1-39h0m0 1h0m0 20h0m1-23h0m0 6h0m0 1h0m0 11h0m0 13h0m0 6h0m1-38h0m0 8h0m0 13h0m1-7h0m0 29h0m1-37h0m1-2h0m0 1h0m0 13h0m0 4h0m0 10h0m0 1h0m1-28h0m1-3h0m0 1h0m0 16h0m0 9h0m0 2h0m1-23h0m0 28h0m1-35h0m0 4h0m0 4h0m1-10h0m0 6h0m0 2h0m0 8h0m1-20h0m0 41h0m0 7h0m1-50h0m0 8h0m0 9h0m0 17h0m0 3h0m0 7h0m1-42h0m0 0h0m0 4h0m0 4h0m0 13h0m0 3h0m1-20h0m0 9h0m0 30h0m1-45h0m0 2h0m0 6h0m0 16h0m1-27h0m0 6h0m0 14h0m0 16h0m0 6h0m0 2h0m1-45h0m0 34h0m0 7h0m0 15h0m1-40h0m0 7h0m1-222h0m0 206h0m0 1h0m0 8h0m0 13h0m0 4h0m1 2h0m0 7h0m1-239h0m0 196h0m0 6h0m0 4h0m0 17h0m1-23h0m0 1h0m0 1h0m0 2h0m0 2h0m0 5h0m0 3h0m0 9h0m0 6h0m0 4h0m0 5h0m1-244h0m0 200h0m0 49h0m0 2h0m1-250h0m0 1h0m0 215h0m0 2h0m0 2h0m0 11h0m0 0h0m0 16h0m1-42h0m0 13h0m0 10h0m0 29h0m1-254h0m0 0h0m0 190h0m0 9h0m0 10h0m0 7h0m0 2h0m0 1h0m0 10h0m0 13h0m0 1h0m1-248h0m0 2h0m0 1h0m0 214h0m0 8h0m0 3h0m1-227h0m0 6h0m0 202h0m0 9h0m0 3h0m1-21h0m0 2h0m0 8h0m0 4h0m0 15h0m1-226h0m0 194h0m0 41h0m0 4h0m1-235h0m0 2h0m0 199h0m0 8h0m0 0h0m0 24h0m0 6h0m0 11h0m1-64h0m0 1h0m0 2h0m0 2h0m0 8h0m0 21h0m0 3h0m1-225h0m0 0h0m0 0h0m0 3h0m0 189h0m0 14h0m0 23h0m1-233h0m1 191h0m0 0h0m0 2h0m0 0h0m0 1h0m1-194h0m0 5h0m0 4h0m0 2h0m0 189h0m0 6h0m0 34h0m0 13h0m0 1h0m1-246h0m0 175h0m0 4h0m0 4h0m0 13h0m1-201h0m0 178h0m0 3h0m0 8h0m0 4h0m0 4h0m0 18h0m0 38h0m1-257h0m0 2h0m0 6h0m0 6h0m0 192h0m0 4h0m0 21h0m0 2h0m0 22h0m1-253h0m0 1h0m0 9h0m0 2h0m0 165h0m0 2h0m0 12h0m0 15h0m0 9h0m1-212h0m0 3h0m0 3h0m0 168h0m0 1h0m0 13h0m0 5h0m0 8h0m0 3h0m0 37h0m1-60h0m0 51h0m1-230h0m0 8h0m0 180h0m0 17h0m0 19h0m1-197h0m0 144h0m0 3h0m0 5h0m0 6h0m0 17h0m1-205h0m0 1h0m0 2h0m0 7h0m0 13h0m0 147h0m0 3h0m0 9h0m0 5h0m0 1h0m1-191h0m0 3h0m0 4h0m0 9h0m0 5h0m0 2h0m0 150h0m0 0h0m0 5h0m0 11h0m0 6h0m0 7h0m0 14h0m1-199h0m0 1h0m0 2h0m0 16h0m0 146h0m0 7h0m0 1h0m0 19h0m0 2h0m0 4h0m1-187h0m0 4h0m0 4h0m0 137h0m0 1h0m0 11h0m0 2h0m0 16h0m0 9h0m0 0h0m1-203h0m0 15h0m0 4h0m0 140h0m0 22h0m0 9h0m0 13h0m0 3h0m0 4h0m0 6h0m1-224h0m0 3h0m0 4h0m0 9h0m0 1h0m0 3h0m0 2h0m0 4h0m0 2h0m0 7h0m0 1h0m0 137h0m0 13h0m0 4h0m0 1h0m0 2h0m0 22h0m1-209h0m0 1h0m0 4h0m0 2h0m0 8h0m0 7h0m0 5h0m0 2h0m0 4h0m0 126h0m0 20h0m0 43h0m0 1h0m1-211h0m0 4h0m0 6h0m0 10h0m0 2h0m0 0h0m0 119h0m0 4h0m0 10h0m0 5h0m0 25h0m0 1h0m0 26h0m1-221h0m0 2h0m0 1h0m0 6h0m0 5h0m0 2h0m0 15h0m0 116h0m0 23h0m0 18h0m0 20h0m0 12h0m0 0h0m0 23h0m1-245h0m0 4h0m0 23h0m0 119h0m0 41h0m0 6h0m0 25h0m0 33h0m1-256h0m0 7h0m0 141h0m0 5h0m0 4h0m0 8h0m0 35h0m0 6h0m0 5h0m0 37h0m1-223h0m0 5h0m0 11h0m0 112h0m0 5h0m0 87h0m1-244h0m0 2h0m0 13h0m0 3h0m0 17h0m0 1h0m0 5h0m0 102h0m0 1h0m0 9h0m0 9h0m0 1h0m0 19h0m0 13h0m0 3h0m1-202h0m0 21h0m0 13h0m0 9h0m0 4h0m0 2h0m0 60h0m0 1h0m0 1h0m0 37h0m0 2h0m0 18h0m0 3h0m0 76h0m1-231h0m0 3h0m0 13h0m0 14h0m0 1h0m0 11h0m0 27h0m0 25h0m0 7h0m0 31h0m0 2h0m0 48h0m0 2h0m0 15h0m1-209h0m0 7h0m0 27h0m0 8h0m0 36h0m0 26h0m0 26h0m0 3h0m0 21h0m0 13h0m0 5h0m0 0h0m1-166h0m0 2h0m0 6h0m0 13h0m0 16h0m0 1h0m0 8h0m0 55h0m0 1h0m0 5h0m0 12h0m0 5h0m0 6h0m0 2h0m0 17h0m0 13h0m0 13h0m0 2h0m0 46h0m0 19h0m1-254h0m0 39h0m0 9h0m0 2h0m0 27h0m0 4h0m0 1h0m0 24h0m0 14h0m0 2h0m0 10h0m0 10h0m0 7h0m0 20h0m0 2h0m0 7h0m0 15h0m0 20h0m0 14h0m1-224h0m0 11h0m0 9h0m0 8h0m0 5h0m0 27h0m0 12h0m0 0h0m0 4h0m0 6h0m0 2h0m0 27h0m0 1h0m0 1h0m0 6h0m0 7h0m0 3h0m0 14h0m0 6h0m0 2h0m0 5h0m0 6h0m0 22h0m0 27h0m1-196h0m0 20h0m0 9h0m0 0h0m0 2h0m0 6h0m0 6h0m0 15h0m0 4h0m0 14h0m0 22h0m0 3h0m0 7h0m0 8h0m0 20h0m0 10h0m0 9h0m0 11h0m0 7h0m1-175h0m0 9h0m0 1h0m0 0h0m0 3h0m0 37h0m0 5h0m0 8h0m0 8h0m0 12h0m0 35h0m0 1h0m0 3h0m0 2h0m0 1h0m0 0h0m0 7h0m0 58h0m1-198h0m0 16h0m0 12h0m0 3h0m0 15h0m0 6h0m0 11h0m0 11h0m0 14h0m0 13h0m0 6h0m0 4h0m0 1h0m0 3h0m0 18h0m0 44h0m1-184h0m0 47h0m0 10h0m0 37h0m0 29h0m0 2h0m0 25h0m0 17h0m0 16h0m0 11h0m0 57h0m1-229h0m0 12h0m0 1h0m0 3h0m0 3h0m0 11h0m0 5h0m0 18h0m0 25h0m0 2h0m0 2h0m0 14h0m1-109h0m0 8h0m0 2h0m0 11h0m0 20h0m0 2h0m0 8h0m0 15h0m0 0h0m0 4h0m0 24h0m0 15h0m0 13h0m0 2h0m0 16h0m0 1h0m0 18h0m0 14h0m0 1h0m0 14h0m1-191h0m0 2h0m0 36h0m0 10h0m0 7h0m0 4h0m0 3h0m0 17h0m0 2h0m0 13h0m0 9h0m0 15h0m0 8h0m0 10h0m0 15h0m0 10h0m0 3h0m0 19h0m0 0h0m0 39h0m0 29h0m1-215h0m0 30h0m0 12h0m0 52h0m0 30h0m0 32h0m1-177h0m0 5h0m0 16h0m0 12h0m0 4h0m0 7h0m0 2h0m0 24h0m0 7h0m0 4h0m0 2h0m0 11h0m0 51h0m0 26h0m0 36h0m1-211h0m0 6h0m0 25h0m0 10h0m0 17h0m0 2h0m0 1h0m0 17h0m0 42h0m0 36h0m0 32h0m1-206h0m0 19h0m0 20h0m0 17h0m0 13h0m0 24h0m0 6h0m0 2h0m0 4h0m0 0h0m0 3h0m0 6h0m0 1h0m0 11h0m0 2h0m0 7h0m0 5h0m0 6h0m0 14h0m0 15h0m1-160h0m0 4h0m0 27h0m0 9h0m0 13h0m0 26h0m0 4h0m0 9h0m0 1h0m0 15h0m0 6h0m0 7h0m0 1h0m0 15h0m1-142h0m0 3h0m0 6h0m0 16h0m0 10h0m0 21h0m0 4h0m0 8h0m0 4h0m0 8h0m0 3h0m0 10h0m0 8h0m0 10h0m0 20h0m0 7h0m0 0h0m0 5h0m0 8h0m0 46h0m0 32h0m0 3h0m1-176h0m0 9h0m0 5h0m0 28h0m0 26h0m0 24h0m0 19h0m1-139h0m0 16h0m0 9h0m0 13h0m0 10h0m0 0h0m0 29h0m0 2h0m0 36h0m0 14h0m0 19h0m1-168h0m0 1h0m0 24h0m0 1h0m0 4h0m0 21h0m0 10h0m0 11h0m0 36h0m0 4h0m0 3h0m0 61h0m0 4h0m1-194h0m0 33h0m0 22h0m0 47h0m0 3h0m0 9h0m0 14h0m0 6h0m0 19h0m0 9h0m1-153h0m0 69h0m0 8h0m0 7h0m0 1h0m0 22h0m0 28h0m1-148h0m0 54h0m0 31h0m0 12h0m0 5h0m0 3h0m0 7h0m0 16h0m0 0h0m0 0h0m0 1h0m0 20h0m1-79h0m0 6h0m0 27h0m0 20h0m0 16h0m0 14h0m1-138h0m0 24h0m0 12h0m0 35h0m0 61h0m0 5h0m0 6h0m0 22h0m0 15h0m1-181h0m0 40h0m0 11h0m0 4h0m0 9h0m0 104h0m1-165h0m0 29h0m0 34h0m0 12h0m0 16h0m0 1h0m0 3h0m0 9h0m0 14h0m0 12h0m0 3h0m0 8h0m0 0h0m1-120h0m0 45h0m0 1h0m0 9h0m0 3h0m0 6h0m0 15h0m0 21h0m0 16h0m0 11h0m0 23h0m0 55h0m1-126h0m0 59h0m0 28h0m0 18h0m1-184h0m0 22h0m0 5h0m0 3h0m0 31h0m0 1h0m0 68h0m0 4h0m1-133h0m0 32h0m0 2h0m0 11h0m0 29h0m0 17h0m0 22h0m0 22h0m0 9h0m0 19h0m1-152h0m0 12h0m0 11h0m0 7h0m0 14h0m0 16h0m0 6h0m0 17h0m0 3h0m0 11h0m0 2h0m0 24h0m0 2h0m0 4h0m0 4h0m1-183h0m0 59h0m0 11h0m0 6h0m0 0h0m0 5h0m0 9h0m0 56h0m0 36h0m0 10h0m1-100h0m0 35h0m0 76h0m0 48h0m1-221h0m0 29h0m0 1h0m0 76h0m0 107h0m1-156h0m0 20h0m0 19h0m0 11h0m0 91h0m0 26h0m1-246h0m0 17h0m0 42h0m0 22h0m0 3h0m0 4h0m0 5h0m0 28h0m1-5h0m0 1h0m1-121h0m0 43h0m0 96h0m0 100h0m1-224h0m0 38h0m0 68h0m0 7h0m0 15h0m1-104h0m0 2h0m0 15h0m0 12h0m0 7h0m0 6h0m0 11h0m0 19h0m0 36h0m1-125h0m0 18h0m0 9h0m0 2h0m0 42h0m0 22h0m0 3h0m0 20h0m0 11h0m1-17h0m0 1h0m0 11h0m1-40h0m0 32h0m0 44h0m1-155h0m0 31h0m0 20h0m0 0h0m0 22h0m0 89h0m1-44h0m0 3h0m1-78h0m0 3h0m1 113h0m1-186h0m1 76h0m0 76h0m1-69h0m0 14h0m1-81h0m0 109h0m0 67h0m2-112h0m2-52h0m0 45h0m0 13h0m1-17h0m0 7h0m0 40h0m1-69h0m1 58h0m0 51h0m2-77h0m0 11h0m1-70h0m1 103h0m2-25h0m1 85h0m1-110h0m2-54h0m0 59h0m0 12h0m1 32h0m0 26h0m1 10h0m4-62h0m5-31h0"/>
<path fill="#fff" fill-rule="evenodd" d="M372.6 673.3L379.1 675.8L385.6 675L392.1 674.8L394.5 673.3L398.6 671.9L404.4 666.8L405.2 665.2L411.7 660.3L411.7 660.3L415.8 653.8L418.2 649.6L420.6 647.3L422.6 640.8L424.7 634.3L424.7 634.3L425.6 627.8L424.7 625.4L423 621.3L424.7 619.5L427.5 614.8L424.7 610.1L423.9 608.3L424.7 605.8L427.4 601.8L424.7 596.6L424.2 595.3L422.4 588.8L418.2 584.5L416.2 582.3L417.8 575.8L411.7 570.8L405.2 569.8L404.1 569.3L404.1 562.7L398.6 560.9L392.1 559.8L385.6 559.6L379.1 558.7L372.6 559.3L366.1 560.7L360.5 562.7L360.5 569.3L359.6 570.3L354.5 575.8L354.1 582.3L353.7 588.8L353.1 590.2L348.9 595.3L348.3 601.8L347.8 608.3L348.7 614.8L349.1 621.3L348.6 627.8L350.1 634.3L351.4 640.8L353.1 643.1L354.6 647.3L356 653.8L357.8 660.3L359.6 662.7L365.3 666.8L366.1 667.6L372.6 673.3L372.6 673.3Z"/>
<g transform="translate(336.85 566) scale(6.5050)" shape-rendering="crispEdges">
<path fill="#fafafa" d="M1 9h1v1h-1zM1 7h1v1h-1zM1 6h1v1h-1zM1 5h1v1h-1zM1 4h1v1h-1zM2 14h1v1h-1zM2 12h1v1h-1zM2 3h1v1h-1zM2 2h1v1h-1zM2 1h1v1h-1zM3 15h1v1h-1zM3 0h1v1h-1zM4 16h1v1h-1zM5 17h1v1h-1zM5 16h1v1h-1zM8 19h1v1h-1zM9 17h1v1h-1zM9 16h1v1h-1zM10 16h1v1h-1zM10 15h1v1h-1zM10 0h1v1h-1zM11 15h1v1h-1zM11 14h1v1h-1zM11 0h1v1h-1zM12 14h1v1h-1zM12 2h1v1h-1zM12 1h1v1h-1zM12 0h1v1h-1zM13 12h1v1h-1zM13 11h1v1h-1zM13 10h1v1h-1zM13 8h1v1h-1zM13 6h1v1h-1zM13 4h1v1h-1zM13 3h1v1h-1zM14 5h1v1h-1z"/>
<path fill="#f5f5f5" d="M2 11h1v1h-1zM3 14h1v1h-1zM4 15h1v1h-1zM6 16h1v1h-1zM7 16h1v1h-1zM8 16h1v1h-1zM10 14h1v1h-1zM12 12h1v1h-1zM13 9h1v1h-1zM13 5h1v1h-1z"/>
<path fill="#f0f0f0" d="M2 10h1v1h-1zM2 9h1v1h-1zM2 4h1v1h-1zM3 13h1v1h-1zM3 1h1v1h-1zM4 0h1v1h-1zM8 15h1v1h-1zM9 0h1v1h-1zM11 12h1v1h-1zM11 2h1v1h-1zM11 1h1v1h-1zM12 8h1v1h-1zM12 5h1v1h-1zM12 3h1v1h-1zM13 7h1v1h-1z"/>
<path fill="#ebebeb" d="M2 8h1v1h-1zM2 7h1v1h-1zM2 6h1v1h-1zM5 15h1v1h-1zM6 15h1v1h-1zM7 15h1v1h-1zM9 15h1v1h-1zM10 13h1v1h-1zM11 13h1v1h-1zM12 11h1v1h-1zM12 10h1v1h-1z"/>
<path fill="#e6e6e6" d="M3 12h1v1h-1zM3 4h1v1h-1zM4 14h1v1h-1zM8 14h1v1h-1zM8 0h1v1h-1zM9 13h1v1h-1zM10 1h1v1h-1zM11 11h1v1h-1zM12 9h1v1h-1zM12 7h1v1h-1zM12 4h1v1h-1z"/>
<path fill="#e1e1e1" d="M2 5h1v1h-1zM3 2h1v1h-1zM4 13h1v1h-1zM4 1h1v1h-1zM5 14h1v1h-1zM7 14h1v1h-1zM7 0h1v1h-1zM9 14h1v1h-1zM10 3h1v1h-1zM11 8h1v1h-1zM11 3h1v1h-1zM12 6h1v1h-1z"/>
<path fill="#dcdcdc" d="M3 11h1v1h-1zM3 9h1v1h-1zM5 13h1v1h-1zM5 0h1v1h-1zM6 14h1v1h-1zM10 12h1v1h-1zM10 11h1v1h-1zM10 2h1v1h-1z"/>
<path fill="#d7d7d7" d="M3 5h1v1h-1zM8 13h1v1h-1zM9 1h1v1h-1zM11 7h1v1h-1z"/>
<path fill="#d2d2d2" d="M3 10h1v1h-1zM3 3h1v1h-1zM4 12h1v1h-1zM8 1h1v1h-1zM11 6h1v1h-1zM11 5h1v1h-1z"/>
<path fill="#cdcdcd" d="M3 8h1v1h-1zM3 7h1v1h-1zM4 2h1v1h-1zM6 0h1v1h-1zM7 1h1v1h-1zM8 2h1v1h-1zM9 12h1v1h-1zM9 11h1v1h-1zM10 10h1v1h-1zM11 10h1v1h-1zM11 9h1v1h-1zM11 4h1v1h-1z"/>
<path fill="#c8c8c8" d="M6 13h1v1h-1zM9 3h1v1h-1zM10 5h1v1h-1z"/>
<path fill="#c3c3c3" d="M4 3h1v1h-1z"/>
<path fill="#bebebe" d="M4 11h1v1h-1zM4 4h1v1h-1zM5 2h1v1h-1zM6 1h1v1h-1zM10 9h1v1h-1zM10 7h1v1h-1zM10 6h1v1h-1z"/>
<path fill="#b9b9b9" d="M3 6h1v1h-1zM5 12h1v1h-1z"/>
<path fill="#b4b4b4" d="M5 1h1v1h-1zM9 2h1v1h-1zM10 4h1v1h-1z"/>
<path fill="#afafaf" d="M6 12h1v1h-1zM6 2h1v1h-1zM7 13h1v1h-1zM7 2h1v1h-1zM8 12h1v1h-1zM10 8h1v1h-1z"/>
<path fill="#aaaaaa" d="M4 10h1v1h-1z"/>
<path fill="#a5a5a5" d="M4 9h1v1h-1zM4 5h1v1h-1z"/>
<path fill="#a0a0a0" d="M4 7h1v1h-1zM7 12h1v1h-1z"/>
<path fill="#9b9b9b" d="M4 6h1v1h-1zM7 11h1v1h-1zM8 3h1v1h-1z"/>
<path fill="#969696" d="M8 4h1v1h-1zM9 10h1v1h-1zM9 9h1v1h-1zM9 5h1v1h-1z"/>
<path fill="#919191" d="M5 3h1v1h-1z"/>
<path fill="#8c8c8c" d="M8 11h1v1h-1zM9 4h1v1h-1z"/>
<path fill="#878787" d="M5 11h1v1h-1zM5 10h1v1h-1zM7 3h1v1h-1zM9 8h1v1h-1zM9 6h1v1h-1z"/>
<path fill="#828282" d="M4 8h1v1h-1z"/>
<path fill="#7d7d7d" d="M5 5h1v1h-1zM8 10h1v1h-1z"/>
<path fill="#787878" d="M5 4h1v1h-1zM6 10h1v1h-1z"/>
<path fill="#6e6e6e" d="M6 11h1v1h-1zM6 3h1v1h-1zM7 4h1v1h-1z"/>
<path fill="#696969" d="M6 4h1v1h-1zM8 9h1v1h-1z"/>
<path fill="#646464" d="M8 7h1v1h-1z"/>
<path fill="#5f5f5f" d="M7 5h1v1h-1zM9 7h1v1h-1z"/>
<path fill="#555555" d="M5 9h1v1h-1zM6 6h1v1h-1zM6 5h1v1h-1zM7 6h1v1h-1zM8 5h1v1h-1z"/>
<path fill="#505050" d="M6 8h1v1h-1zM7 10h1v1h-1zM8 6h1v1h-1z"/>
<path fill="#414141" d="M6 9h1v1h-1z"/>
<path fill="#3c3c3c" d="M5 6h1v1h-1z"/>
<path fill="#373737" d="M5 8h1v1h-1z"/>
<path fill="#323232" d="M7 9h1v1h-1z"/>
<path fill="#1e1e1e" d="M5 7h1v1h-1z"/>
<path fill="#141414" d="M6 7h1v1h-1zM8 8h1v1h-1z"/>
<path fill="#0f0f0f" d="M7 8h1v1h-1z"/>
<path fill="#000000" d="M7 7h1v1h-1z"/>
</g>
<path class="ct" d="M372.6 673.3L379.1 675.8L385.6 675L392.1 674.8L394.5 673.3L398.6 671.9L404.4 666.8L405.2 665.2L411.7 660.3L411.7 660.3L415.8 653.8L418.2 649.6L420.6 647.3L422.6 640.8L424.7 634.3L424.7 634.3L425.6 627.8L424.7 625.4L423 621.3L424.7 619.5L427.5 614.8L424.7 610.1L423.9 608.3L424.7 605.8L427.4 601.8L424.7 596.6L424.2 595.3L422.4 588.8L418.2 584.5L416.2 582.3L417.8 575.8L411.7 570.8L405.2 569.8L404.1 569.3L404.1 562.7L398.6 560.9L392.1 559.8L385.6 559.6L379.1 558.7L372.6 559.3L366.1 560.7L360.5 562.7L360.5 569.3L359.6 570.3L354.5 575.8L354.1 582.3L353.7 588.8L353.1 590.2L348.9 595.3L348.3 601.8L347.8 608.3L348.7 614.8L349.1 621.3L348.6 627.8L350.1 634.3L351.4 640.8L353.1 643.1L354.6 647.3L356 653.8L357.8 660.3L359.6 662.7L365.3 666.8L366.1 667.6L372.6 673.3ZM378.5 660.3L379.1 660.6L379.7 660.3L385.6 659L392.1 655.1L393.2 653.8L398.6 650.7L405.2 647.3L405.2 640.8L405.2 640.8L411.7 637.4L414.1 634.3L414.5 627.8L411.7 623.1L411 621.3L411.7 617.2L412.7 614.8L415.1 608.3L413.5 601.8L414.5 595.3L411.7 591.2L405.2 589.4L404 588.8L404.8 582.3L400.7 575.8L398.6 574.7L392.1 573.2L385.6 571.7L383.4 569.3L383.4 562.7L379.1 561.6L373.3 562.7L373.3 569.3L372.6 569.6L367.3 575.8L366.1 577.9L361.6 582.3L359.6 585.3L358.7 588.8L359.6 591.2L361.6 595.3L359.6 600L356.9 601.8L355.4 608.3L357.1 614.8L357.3 621.3L359.1 627.8L357.7 634.3L359.5 640.8L359.6 641.2L363.6 647.3L366.1 650.6L372 653.8L372.6 654.4ZM370.1 640.8L372.6 643.9L379.1 645.9L385.6 647.3L392.1 644.5L394 640.8L398.6 635.4L399.7 634.3L400.1 627.8L402.7 621.3L402.9 614.8L401.5 608.3L399.6 601.8L402.1 595.3L398.6 593.2L392.8 588.8L392.1 588.1L385.6 584.8L379.1 584L372.6 586.5L370.6 588.8L369 595.3L367 601.8L366.1 605.5L365.1 608.3L366.1 613.2L366.2 614.8L366.1 615.1L364 621.3L366.1 627.2L366.4 627.8L367.8 634.3ZM374.1 627.8L379.1 629.4L385.6 634.3L389 627.8L392.1 625.7L395.2 621.3L392.1 616.5L390.8 614.8L385.6 608.8L379.1 608.7L378.1 608.3L372.6 606.2L371.4 608.3L370.5 614.8L370.7 621.3L372.6 626.9Z"/>
</g>
<g clip-path="url(#c43)">
<path class="pt" transform="translate(473.45 566) scale(.5)" d="m0 59h0m0 59h0m0 36h0m0 15h0m1-65h0m1 54h0m0 9h0m0 15h0m1-145h0m0 51h0m0 95h0m1-50h0m1-99h0m0 53h0m0 21h0m0 41h0m1-10h0m0 32h0m1-87h0m1-27h0m0 86h0m1-143h0m0 59h0m0 7h0m0 52h0m1-78h0m0 17h0m0 14h0m0 149h0m2-119h0m0 15h0m1-95h0m0 29h0m0 33h0m0 51h0m0 34h0m1-111h0m0 93h0m0 26h0m1-144h0m0 12h0m0 37h0m0 28h0m0 7h0m0 7h0m0 39h0m1-152h0m0 13h0m0 78h0m0 1h0m0 34h0m1-135h0m0 26h0m0 53h0m0 22h0m0 48h0m1-136h0m0 16h0m0 12h0m0 13h0m0 61h0m0 21h0m0 7h0m0 18h0m1-136h0m0 43h0m1-67h0m0 67h0m0 20h0m0 1h0m0 1h0m0 19h0m0 22h0m0 86h0m1-182h0m0 15h0m0 52h0m0 11h0m0 13h0m0 39h0m0 34h0m1-194h0m0 30h0m0 21h0m0 9h0m0 15h0m0 57h0m1-112h0m0 158h0m1-163h0m0 68h0m0 23h0m0 17h0m0 33h0m0 34h0m0 16h0m1-197h0m0 28h0m0 57h0m0 136h0m1-182h0m0 11h0m0 14h0m0 2h0m0 15h0m0 113h0m1-181h0m0 5h0m0 2h0m0 6h0m0 5h0m0 1h0m0 20h0m0 8h0m0 2h0m0 3h0m0 8h0m0 2h0m0 8h0m0 9h0m0 27h0m1-113h0m0 45h0m0 7h0m0 7h0m0 5h0m0 65h0m1-127h0m0 24h0m0 16h0m0 32h0m0 1h0m0 6h0m0 13h0m0 34h0m0 1h0m0 45h0m0 12h0m1-200h0m0 45h0m0 72h0m0 5h0m0 5h0m0 14h0m0 0h0m0 5h0m0 24h0m1-143h0m0 1h0m0 51h0m0 27h0m0 11h0m0 12h0m0 8h0m0 1h0m0 17h0m0 0h0m0 23h0m1-169h0m0 30h0m0 1h0m0 6h0m0 33h0m0 11h0m0 19h0m0 0h0m0 6h0m0 2h0m0 6h0m0 28h0m0 3h0m0 11h0m0 9h0m1-177h0m0 9h0m0 1h0m0 29h0m0 6h0m0 15h0m0 7h0m0 10h0m0 4h0m0 5h0m0 53h0m0 2h0m0 2h0m0 17h0m0 17h0m0 17h0m1-147h0m0 29h0m0 0h0m0 1h0m0 18h0m0 16h0m0 1h0m0 20h0m0 34h0m0 48h0m0 8h0m1-196h0m0 5h0m0 27h0m0 13h0m0 5h0m0 1h0m0 5h0m0 8h0m0 14h0m0 30h0m0 4h0m0 17h0m0 7h0m0 24h0m0 46h0m0 23h0m1-236h0m0 30h0m0 5h0m0 22h0m0 1h0m0 17h0m0 10h0m0 22h0m0 13h0m0 4h0m0 13h0m0 1h0m0 2h0m1-160h0m0 31h0m0 24h0m0 2h0m0 2h0m0 28h0m0 12h0m0 13h0m0 97h0m1-170h0m0 12h0m0 34h0m0 51h0m0 7h0m0 5h0m0 8h0m0 1h0m0 9h0m0 5h0m0 8h0m0 11h0m1-165h0m0 4h0m0 11h0m0 5h0m0 7h0m0 7h0m0 45h0m0 5h0m0 3h0m0 12h0m0 5h0m0 3h0m0 3h0m0 38h0m0 6h0m0 18h0m1-194h0m0 10h0m0 1h0m0 22h0m0 9h0m0 7h0m0 12h0m0 1h0m0 1h0m0 11h0m0 1h0m0 9h0m0 5h0m0 1h0m0 15h0m0 9h0m0 4h0m0 15h0m0 22h0m0 1h0m0 18h0m0 7h0m0 60h0m1-242h0m0 8h0m0 20h0m0 6h0m0 10h0m0 3h0m0 12h0m0 0h0m0 5h0m0 4h0m0 7h0m0 13h0m0 1h0m0 2h0m0 0h0m0 2h0m0 3h0m0 5h0m0 22h0m0 18h0m0 46h0m0 21h0m1-194h0m0 17h0m0 4h0m0 10h0m0 6h0m0 3h0m0 28h0m0 4h0m0 10h0m0 5h0m0 6h0m0 1h0m0 18h0m0 9h0m0 2h0m0 10h0m0 0h0m0 8h0m0 3h0m0 26h0m0 19h0m0 2h0m0 14h0m1-210h0m0 63h0m0 4h0m0 3h0m0 2h0m0 10h0m0 17h0m0 3h0m0 9h0m0 12h0m0 10h0m0 1h0m0 5h0m0 35h0m0 21h0m0 15h0m0 7h0m1-188h0m0 1h0m0 9h0m0 10h0m0 0h0m0 1h0m0 36h0m0 15h0m0 3h0m0 9h0m0 0h0m0 16h0m0 30h0m0 1h0m0 25h0m1-196h0m0 5h0m0 0h0m0 9h0m0 10h0m0 14h0m0 3h0m0 1h0m0 23h0m0 2h0m0 2h0m0 11h0m0 6h0m0 44h0m0 2h0m0 15h0m0 30h0m0 3h0m0 6h0m0 4h0m0 3h0m1-179h0m0 35h0m0 15h0m0 4h0m0 5h0m0 5h0m0 2h0m0 1h0m0 12h0m0 8h0m0 11h0m0 8h0m0 2h0m0 8h0m0 36h0m0 11h0m0 3h0m0 10h0m1-184h0m0 14h0m0 4h0m0 11h0m0 16h0m0 10h0m0 9h0m0 5h0m0 8h0m0 0h0m0 1h0m0 14h0m0 0h0m0 3h0m0 11h0m0 18h0m0 2h0m0 16h0m0 1h0m0 36h0m0 47h0m1-230h0m0 7h0m0 16h0m0 2h0m0 10h0m0 23h0m0 19h0m0 31h0m0 8h0m0 1h0m0 10h0m0 3h0m0 5h0m0 5h0m0 23h0m0 3h0m0 10h0m0 21h0m0 35h0m0 21h0m1-256h0m0 3h0m0 1h0m0 9h0m0 18h0m0 11h0m0 1h0m0 1h0m0 21h0m0 42h0m0 2h0m0 10h0m0 7h0m0 7h0m0 17h0m1-151h0m0 3h0m0 25h0m0 8h0m0 40h0m0 33h0m0 14h0m0 24h0m0 25h0m0 24h0m0 12h0m0 19h0m1-192h0m0 9h0m0 26h0m0 2h0m0 0h0m0 46h0m0 1h0m0 2h0m0 35h0m0 10h0m0 26h0m0 0h0m0 14h0m0 0h0m1-199h0m0 3h0m0 9h0m0 3h0m0 15h0m0 37h0m0 50h0m0 27h0m0 10h0m0 64h0m0 18h0m1-234h0m0 0h0m0 19h0m0 4h0m0 0h0m0 3h0m0 36h0m0 96h0m0 10h0m0 5h0m0 10h0m0 10h0m0 45h0m1-248h0m0 29h0m0 1h0m0 10h0m0 103h0m0 1h0m0 2h0m0 3h0m0 0h0m0 21h0m0 4h0m0 2h0m0 2h0m0 9h0m0 3h0m0 34h0m0 3h0m1-227h0m0 0h0m0 3h0m0 26h0m0 118h0m0 21h0m0 1h0m0 1h0m0 4h0m0 7h0m0 5h0m0 3h0m0 1h0m0 17h0m0 25h0m1-209h0m0 6h0m0 1h0m0 117h0m0 0h0m0 2h0m0 5h0m0 5h0m0 6h0m0 32h0m0 7h0m1-187h0m0 2h0m0 10h0m0 122h0m0 9h0m0 7h0m0 38h0m1-193h0m0 5h0m0 4h0m0 134h0m0 15h0m0 2h0m0 5h0m0 3h0m0 19h0m0 18h0m0 3h0m1-218h0m0 22h0m0 133h0m0 7h0m0 2h0m0 4h0m0 7h0m0 14h0m0 12h0m0 6h0m0 25h0m1-217h0m0 4h0m0 145h0m0 2h0m0 16h0m0 10h0m0 34h0m1-226h0m0 158h0m0 6h0m0 3h0m0 5h0m0 0h0m0 24h0m0 16h0m0 15h0m1-206h0m0 0h0m0 138h0m0 1h0m0 1h0m0 1h0m0 0h0m0 34h0m0 5h0m0 3h0m0 32h0m0 20h0m1-239h0m0 149h0m0 10h0m0 4h0m0 24h0m0 2h0m1-196h0m0 2h0m0 7h0m0 150h0m0 54h0m1-218h0m0 13h0m0 1h0m0 3h0m0 153h0m0 1h0m0 21h0m0 2h0m0 8h0m0 9h0m0 0h0m0 1h0m1-217h0m0 2h0m0 0h0m0 14h0m0 162h0m0 4h0m0 6h0m0 1h0m0 0h0m0 19h0m0 10h0m0 33h0m1-250h0m0 1h0m0 11h0m0 1h0m0 165h0m0 11h0m0 11h0m1-203h0m0 8h0m0 7h0m0 171h0m0 29h0m1-207h0m0 1h0m0 12h0m0 181h0m0 1h0m0 0h0m0 7h0m1-209h0m0 6h0m0 3h0m0 4h0m0 1h0m0 1h0m0 1h0m0 2h0m0 1h0m0 2h0m0 170h0m0 9h0m0 9h0m0 35h0m1-238h0m0 182h0m0 2h0m0 1h0m0 3h0m0 8h0m0 17h0m1-18h0m0 0h0m0 11h0m0 27h0m1-235h0m0 3h0m0 3h0m0 3h0m0 188h0m0 4h0m0 21h0m1-218h0m0 0h0m0 1h0m0 207h0m1-10h0m0 2h0m0 5h0m0 28h0m1-238h0m0 1h0m0 188h0m0 1h0m0 22h0m0 12h0m0 1h0m1-228h0m0 200h0m0 7h0m0 16h0m0 23h0m1-42h0m0 4h0m0 1h0m0 1h0m0 6h0m1-20h0m0 5h0m0 38h0m1-33h0m0 1h0m0 7h0m0 23h0m0 7h0m0 3h0m1-18h0m0 1h0m0 17h0m1-48h0m0 4h0m0 13h0m0 7h0m0 21h0m1-44h0m0 8h0m0 7h0m0 23h0m1-36h0m0 3h0m0 4h0m0 11h0m0 2h0m0 0h0m0 3h0m0 3h0m1-28h0m0 1h0m0 20h0m0 25h0m1-45h0m0 4h0m0 54h0m1-55h0m0 10h0m1-6h0m0 7h0m0 1h0m1-12h0m0 1h0m0 29h0m0 19h0m1-46h0m1 9h0m0 10h0m0 11h0m0 18h0m1-49h0m0 2h0m0 25h0m0 12h0m1-3h0m0 12h0m1-48h0m0 31h0m0 19h0m1-51h0m0 29h0m1-16h0m0 1h0m0 3h0m1-15h0m0 3h0m0 26h0m0 14h0m0 5h0m1-45h0m0 2h0m0 1h0m1-7h0m0 18h0m1 12h0m0 7h0m0 5h0m0 5h0m1-14h0m0 10h0m1 6h0m1-48h0m0 1h0m0 2h0m0 3h0m0 16h0m1-17h0m0 4h0m0 4h0m1-13h0m0 1h0m0 4h0m0 3h0m0 16h0m2-23h0m0 5h0m0 2h0m0 4h0m0 1h0m0 3h0m0 10h0m0 7h0m0 3h0m1-4h0m1-24h0m0 26h0m0 16h0m1-49h0m0 5h0m0 9h0m0 3h0m0 17h0m0 2h0m0 9h0m1-26h0m0 9h0m0 9h0m0 0h0m1-32h0m0 19h0m0 0h0m1-10h0m0 7h0m1-17h0m0 4h0m0 5h0m0 5h0m0 0h0m0 8h0m0 6h0m0 10h0m0 6h0m1-40h0m0 22h0m0 0h0m1-29h0m0 12h0m0 10h0m0 21h0m0 3h0m1-45h0m0 0h0m0 1h0m0 0h0m0 6h0m0 6h0m0 4h0m0 1h0m0 14h0m1-18h0m0 9h0m0 12h0m1-11h0m0 8h0m0 2h0m0 0h0m1-34h0m0 7h0m0 41h0m1-48h0m0 19h0m0 0h0m0 2h0m0 6h0m0 2h0m0 8h0m1-10h0m0 0h0m0 17h0m0 3h0m1-16h0m0 6h0m1-27h0m0 9h0m1-21h0m0 11h0m0 0h0m1 1h0m0 12h0m0 1h0m0 2h0m0 24h0m1-52h0m0 1h0m0 1h0m0 10h0m0 9h0m0 23h0m1-35h0m1-8h0m0 2h0m0 0h0m0 6h0m1-2h0m0 2h0m0 21h0m0 20h0m1-45h0m0 18h0m0 18h0m0 1h0m1-38h0m0 0h0m0 9h0m0 2h0m0 7h0m0 2h0m0 12h0m1-36h0m0 1h0m0 5h0m0 19h0m0 1h0m0 5h0m0 17h0m1-31h0m0 1h0m0 4h0m0 10h0m0 10h0m0 3h0m1-33h0m0 8h0m0 2h0m0 10h0m0 4h0m0 5h0m1-45h0m0 1h0m0 11h0m0 1h0m0 8h0m0 19h0m0 1h0m0 14h0m1-55h0m0 3h0m0 4h0m0 27h0m0 2h0m1-32h0m0 13h0m0 1h0m0 2h0m0 30h0m1-37h0m0 4h0m0 4h0m0 8h0m1-26h0m0 2h0m0 16h0m0 2h0m0 4h0m0 0h0m0 21h0m1-46h0m0 6h0m0 8h0m0 6h0m1-9h0m0 40h0m1-47h0m0 0h0m0 4h0m0 12h0m0 1h0m0 0h0m0 7h0m0 5h0m1-25h0m0 6h0m0 1h0m0 0h0m0 2h0m0 1h0m0 9h0m0 1h0m1-20h0m0 3h0m0 0h0m1 11h0m0 5h0m0 7h0m0 17h0m1-44h0m0 8h0m0 1h0m0 5h0m0 29h0m0 2h0m1-11h0m0 11h0m0 1h0m1-44h0m0 1h0m0 4h0m0 8h0m0 2h0m0 11h0m0 2h0m0 8h0m1-22h0m0 16h0m0 12h0m1-43h0m0 24h0m0 18h0m0 1h0m1-37h0m0 1h0m0 2h0m0 18h0m0 4h0m0 1h0m1-34h0m0 6h0m0 9h0m0 29h0m0 3h0m1-33h0m0 33h0m1-47h0m0 7h0m0 1h0m2-8h0m0 4h0m0 23h0m0 2h0m1-33h0m0 4h0m0 4h0m0 2h0m0 1h0m0 6h0m0 6h0m2-25h0m0 4h0m0 3h0m0 4h0m1-2h0m0 0h0m0 32h0m0 10h0m1-52h0m0 34h0m0 8h0m0 4h0m1-46h0m0 6h0m0 3h0m0 6h0m1-2h0m0 3h0m1-1h0m0 9h0m0 4h0m0 21h0m1-24h0m1-9h0m0 3h0m1-4h0m0 29h0m1-33h0m0 0h0m0 14h0m0 1h0m0 1h0m0 14h0m1-30h0m0 6h0m0 7h0m1-12h0m0 3h0m0 35h0m1-36h0m0 3h0m0 22h0m0 3h0m0 7h0m0 2h0m2-17h0m0 7h0m0 1h0m1-27h0m0 1h0m1 10h0m0 6h0m1 2h0m1-9h0m0 1h0m0 1h0m1 2h0m1 6h0m1-20h0m0 0h0m0 9h0m0 13h0m0 2h0m0 14h0m1-39h0m0 15h0m1-17h0m0 2h0m1-1h0m0 38h0m0 1h0m1-39h0m0 3h0m0 7h0m0 2h0m0 5h0m1-25h0m0 3h0m0 8h0m0 23h0m0 9h0m1-251h0m0 202h0m0 9h0m0 3h0m0 14h0m1-229h0m0 201h0m0 7h0m0 6h0m0 0h0m0 32h0m0 10h0m1-254h0m0 207h0m0 0h0m0 27h0m1-235h0m0 198h0m0 8h0m0 1h0m0 6h0m0 11h0m0 11h0m0 6h0m0 17h0m1-252h0m0 222h0m0 18h0m0 3h0m1-250h0m0 200h0m0 1h0m0 4h0m0 12h0m0 2h0m0 11h0m0 3h0m0 3h0m0 6h0m1-27h0m0 4h0m0 20h0m0 12h0m1-244h0m0 192h0m0 1h0m0 29h0m0 16h0m1-237h0m0 226h0m0 6h0m0 19h0m1-256h0m0 191h0m0 2h0m0 11h0m0 34h0m1-236h0m0 2h0m0 200h0m0 2h0m0 8h0m0 1h0m1-218h0m0 193h0m0 6h0m0 4h0m0 49h0m1-57h0m0 16h0m0 24h0m1-40h0m0 2h0m0 1h0m0 21h0m0 28h0m1-245h0m0 2h0m0 190h0m0 5h0m0 19h0m0 4h0m1-219h0m0 6h0m0 191h0m0 6h0m0 20h0m1-222h0m0 2h0m0 4h0m0 212h0m1-221h0m0 5h0m0 1h0m0 1h0m0 212h0m0 11h0m1-221h0m0 179h0m0 0h0m0 4h0m0 58h0m1-240h0m0 165h0m0 12h0m0 1h0m0 14h0m0 13h0m0 13h0m1-225h0m0 179h0m0 17h0m0 47h0m1-244h0m0 4h0m0 180h0m0 0h0m0 3h0m0 0h0m0 2h0m0 9h0m1-25h0m0 4h0m0 1h0m0 11h0m0 3h0m0 5h0m0 15h0m1-211h0m0 6h0m0 165h0m0 4h0m0 6h0m0 9h0m0 21h0m0 2h0m0 33h0m1-77h0m0 4h0m0 1h0m0 22h0m0 23h0m0 31h0m1-253h0m0 5h0m0 170h0m0 7h0m0 37h0m0 10h0m0 5h0m1-224h0m0 162h0m0 3h0m0 8h0m0 4h0m0 59h0m1-237h0m0 160h0m0 5h0m0 8h0m0 12h0m0 18h0m1-210h0m0 3h0m0 3h0m0 3h0m0 177h0m0 8h0m0 18h0m0 16h0m1-225h0m0 3h0m0 172h0m0 21h0m0 2h0m0 51h0m1-235h0m0 9h0m0 138h0m0 39h0m0 1h0m0 2h0m0 10h0m1-218h0m0 15h0m0 6h0m0 147h0m0 0h0m0 0h0m0 6h0m0 34h0m0 15h0m1-212h0m0 2h0m0 1h0m0 5h0m0 2h0m0 4h0m0 0h0m0 8h0m0 4h0m0 136h0m0 13h0m0 39h0m1-226h0m0 1h0m0 5h0m0 2h0m0 7h0m0 3h0m0 1h0m0 2h0m0 0h0m0 6h0m0 1h0m0 12h0m0 2h0m0 123h0m0 15h0m0 3h0m0 1h0m0 8h0m0 6h0m0 6h0m0 35h0m0 4h0m0 11h0m0 0h0m1-252h0m0 8h0m0 1h0m0 14h0m0 11h0m0 121h0m0 2h0m0 3h0m0 4h0m0 7h0m0 6h0m0 6h0m0 5h0m0 6h0m0 0h0m1-151h0m0 109h0m0 20h0m0 4h0m0 0h0m0 8h0m0 2h0m0 6h0m0 3h0m1-188h0m0 13h0m0 5h0m0 11h0m0 3h0m0 108h0m0 5h0m0 8h0m0 32h0m0 4h0m0 29h0m1-211h0m0 1h0m0 19h0m0 14h0m0 91h0m0 2h0m0 8h0m1-139h0m0 10h0m0 5h0m0 5h0m0 4h0m0 4h0m0 9h0m0 61h0m0 1h0m0 5h0m0 4h0m0 2h0m0 14h0m0 16h0m0 2h0m0 10h0m0 42h0m0 5h0m0 16h0m1-200h0m0 9h0m0 12h0m0 64h0m0 2h0m0 11h0m0 13h0m0 2h0m0 0h0m0 14h0m0 30h0m0 18h0m0 23h0m1-225h0m0 5h0m0 12h0m0 4h0m0 3h0m0 44h0m0 39h0m0 7h0m0 2h0m0 8h0m0 6h0m0 13h0m0 3h0m0 11h0m0 35h0m1-157h0m0 29h0m0 0h0m0 1h0m0 3h0m0 1h0m0 4h0m0 41h0m0 3h0m0 2h0m0 7h0m0 2h0m0 2h0m0 1h0m0 2h0m0 13h0m0 13h0m0 8h0m0 13h0m1-170h0m0 1h0m0 5h0m0 7h0m0 6h0m0 7h0m0 4h0m0 10h0m0 2h0m0 1h0m0 10h0m0 12h0m0 27h0m0 11h0m0 2h0m0 6h0m0 1h0m0 3h0m0 27h0m0 32h0m0 19h0m1-201h0m0 0h0m0 22h0m0 20h0m0 11h0m0 4h0m0 44h0m0 3h0m0 3h0m0 20h0m0 6h0m0 5h0m0 23h0m0 40h0m1-190h0m0 11h0m0 11h0m0 13h0m0 7h0m0 5h0m0 0h0m0 2h0m0 17h0m0 1h0m0 10h0m0 17h0m0 33h0m0 15h0m0 5h0m0 19h0m0 17h0m0 19h0m0 7h0m0 17h0m1-226h0m0 27h0m0 9h0m0 7h0m0 2h0m0 4h0m0 3h0m0 3h0m0 1h0m0 17h0m0 1h0m0 5h0m0 7h0m0 2h0m0 0h0m0 13h0m0 7h0m0 21h0m0 12h0m0 2h0m0 5h0m0 20h0m0 3h0m0 15h0m0 18h0m1-217h0m0 0h0m0 20h0m0 3h0m0 1h0m0 42h0m0 16h0m0 3h0m0 0h0m0 5h0m0 4h0m0 3h0m0 10h0m0 11h0m0 6h0m0 3h0m0 15h0m0 1h0m0 4h0m0 19h0m0 1h0m0 7h0m1-141h0m0 10h0m0 4h0m0 29h0m0 7h0m0 10h0m0 13h0m0 2h0m0 1h0m0 18h0m0 44h0m0 2h0m0 34h0m0 12h0m0 3h0m1-211h0m0 5h0m0 3h0m0 2h0m0 50h0m0 8h0m0 4h0m0 3h0m0 5h0m0 2h0m0 9h0m0 6h0m0 25h0m0 7h0m0 5h0m0 11h0m0 21h0m0 13h0m0 16h0m0 0h0m1-192h0m0 33h0m0 13h0m0 7h0m0 4h0m0 50h0m0 4h0m0 11h0m0 57h0m0 26h0m1-206h0m0 4h0m0 59h0m0 9h0m0 14h0m0 5h0m0 6h0m0 9h0m0 14h0m0 20h0m0 4h0m0 2h0m0 17h0m0 0h0m1-152h0m0 30h0m0 26h0m0 1h0m0 24h0m0 9h0m0 9h0m0 10h0m0 25h0m0 17h0m1-131h0m0 4h0m0 89h0m0 45h0m0 4h0m1-161h0m0 26h0m0 11h0m0 30h0m0 1h0m0 48h0m0 5h0m0 32h0m0 2h0m1-166h0m0 14h0m0 7h0m0 17h0m0 15h0m0 6h0m0 8h0m0 9h0m0 6h0m0 8h0m0 1h0m0 2h0m0 12h0m0 13h0m0 17h0m0 4h0m0 12h0m0 37h0m0 8h0m0 22h0m1-197h0m0 40h0m0 6h0m0 18h0m0 37h0m0 73h0m1-163h0m0 14h0m0 1h0m0 20h0m0 3h0m0 15h0m0 1h0m0 1h0m0 3h0m0 11h0m0 10h0m0 10h0m0 2h0m0 2h0m0 16h0m0 40h0m1-136h0m0 14h0m0 31h0m0 8h0m0 13h0m0 43h0m0 5h0m0 23h0m0 26h0m0 7h0m1-221h0m0 28h0m0 10h0m0 21h0m0 5h0m0 12h0m0 7h0m0 14h0m0 6h0m0 1h0m0 5h0m0 7h0m0 0h0m0 2h0m0 7h0m0 33h0m0 52h0m1-216h0m0 2h0m0 36h0m0 10h0m0 8h0m0 13h0m0 21h0m0 2h0m0 25h0m0 5h0m0 22h0m1-124h0m0 16h0m0 9h0m0 25h0m0 1h0m0 8h0m0 79h0m0 3h0m0 7h0m0 0h0m0 12h0m0 9h0m0 13h0m0 43h0m1-228h0m0 36h0m0 40h0m0 3h0m0 23h0m0 10h0m0 2h0m0 18h0m0 4h0m0 12h0m0 34h0m1-113h0m0 35h0m0 13h0m0 37h0m0 32h0m1-126h0m0 35h0m0 55h0m0 25h0m0 60h0m1-209h0m0 9h0m0 10h0m0 39h0m0 51h0m0 10h0m0 32h0m1-148h0m0 43h0m0 33h0m0 3h0m0 21h0m1-135h0m0 71h0m0 29h0m0 1h0m0 37h0m1-133h0m0 35h0m0 10h0m0 17h0m0 37h0m1-117h0m0 23h0m0 59h0m0 5h0m0 22h0m0 9h0m0 14h0m0 32h0m1-145h0m0 7h0m0 30h0m0 61h0m0 21h0m0 75h0m1-133h0m0 0h0m0 10h0m0 7h0m0 36h0m0 115h0m1-183h0m0 25h0m0 5h0m0 63h0m1-50h0m0 35h0m1-87h0m0 26h0m0 12h0m0 41h0m0 68h0"/>
<path fill="#fff" fill-rule="evenodd" d="M557.1 673.3L561.3 675L565.8 673.3L566.9 666.8L567.8 665.6L574.3 661.9L576.1 660.3L576.7 653.8L580.8 650.4L583.4 647.3L584.7 640.8L585.6 634.3L585.4 627.8L585.2 621.3L587.3 618.2L589.8 614.8L587.3 608.9L587 608.3L586.8 601.8L587.3 598.5L587.9 595.3L587.3 594.5L583.6 588.8L581.9 582.3L581.6 575.8L580.8 574.8L574.3 571.3L567.8 570L567 569.3L567 562.7L561.3 560.3L554.8 560L548.3 560.5L541.8 559.2L535.2 561L528.7 561.6L522.2 561.3L515.7 562.1L512.5 562.7L512.5 569.3L509.7 575.8L509.2 576.9L502.7 579.9L500.6 582.3L500.1 588.8L496.2 595.3L500.1 601.8L497.7 608.3L497.2 614.8L498.8 621.3L500 627.8L498.6 634.3L502.7 640.8L502.7 640.8L504.8 647.3L505.7 653.8L509.2 660.3L509.2 660.3L515.7 666.3L516.8 666.8L522.2 668.5L528.7 670.7L535.2 670.7L541.8 666.8L541.8 666.8L541.8 666.8L548.3 673.3L554.8 666.8L554.8 666.8L554.8 666.8L557.1 673.3Z"/>
<g transform="translate(473.45 566) scale(6.5050)" shape-rendering="crispEdges">
<path fill="#fafafa" d="M3 14h1v1h-1zM3 11h1v1h-1zM3 10h1v1h-1zM3 9h1v1h-1zM3 8h1v1h-1zM3 6h1v1h-1zM3 5h1v1h-1zM3 3h1v1h-1zM3 2h1v1h-1zM3 1h1v1h-1zM3 0h1v1h-1zM4 15h1v1h-1zM4 13h1v1h-1zM4 1h1v1h-1zM5 16h1v1h-1zM5 15h1v1h-1zM7 16h1v1h-1zM8 17h1v1h-1zM8 16h1v1h-1zM9 18h1v1h-1zM10 17h1v1h-1zM10 16h1v1h-1zM11 19h1v1h-1zM11 17h1v1h-1zM12 17h1v1h-1zM15 15h1v1h-1zM16 15h1v1h-1zM16 14h1v1h-1zM16 13h1v1h-1zM16 0h1v1h-1zM17 12h1v1h-1zM17 11h1v1h-1zM17 9h1v1h-1zM17 8h1v1h-1zM17 3h1v1h-1zM17 1h1v1h-1zM18 10h1v1h-1zM18 9h1v1h-1zM18 8h1v1h-1zM18 7h1v1h-1z"/>
<path fill="#f5f5f5" d="M2 6h1v1h-1zM3 7h1v1h-1zM3 4h1v1h-1zM4 12h1v1h-1zM4 11h1v1h-1zM5 14h1v1h-1zM5 1h1v1h-1zM5 0h1v1h-1zM6 15h1v1h-1zM7 14h1v1h-1zM9 16h1v1h-1zM9 15h1v1h-1zM10 15h1v1h-1zM11 16h1v1h-1zM12 16h1v1h-1zM12 15h1v1h-1zM14 16h1v1h-1zM14 15h1v1h-1zM14 0h1v1h-1zM15 0h1v1h-1zM16 1h1v1h-1zM17 10h1v1h-1zM17 6h1v1h-1zM17 5h1v1h-1zM17 4h1v1h-1z"/>
<path fill="#f0f0f0" d="M4 9h1v1h-1zM4 5h1v1h-1zM4 4h1v1h-1zM4 3h1v1h-1zM4 2h1v1h-1zM5 13h1v1h-1zM5 2h1v1h-1zM6 0h1v1h-1zM7 15h1v1h-1zM8 0h1v1h-1zM11 15h1v1h-1zM13 16h1v1h-1zM15 14h1v1h-1zM15 13h1v1h-1zM15 3h1v1h-1zM15 1h1v1h-1zM16 12h1v1h-1zM16 4h1v1h-1zM16 2h1v1h-1zM17 7h1v1h-1z"/>
<path fill="#ebebeb" d="M4 10h1v1h-1zM4 8h1v1h-1zM4 7h1v1h-1zM5 12h1v1h-1zM5 11h1v1h-1zM6 14h1v1h-1zM7 0h1v1h-1zM8 15h1v1h-1zM8 14h1v1h-1zM9 0h1v1h-1zM12 14h1v1h-1zM14 14h1v1h-1zM15 10h1v1h-1zM16 10h1v1h-1zM16 9h1v1h-1zM16 7h1v1h-1zM16 3h1v1h-1z"/>
<path fill="#e6e6e6" d="M5 10h1v1h-1zM5 4h1v1h-1zM6 13h1v1h-1zM11 0h1v1h-1zM13 15h1v1h-1zM13 14h1v1h-1zM13 13h1v1h-1zM13 0h1v1h-1zM15 12h1v1h-1zM16 11h1v1h-1zM16 8h1v1h-1zM16 6h1v1h-1z"/>
<path fill="#e1e1e1" d="M4 6h1v1h-1zM5 3h1v1h-1zM6 2h1v1h-1zM6 1h1v1h-1zM7 13h1v1h-1zM7 1h1v1h-1zM12 0h1v1h-1zM14 13h1v1h-1zM14 1h1v1h-1zM15 2h1v1h-1zM16 5h1v1h-1z"/>
<path fill="#dcdcdc" d="M8 13h1v1h-1zM10 14h1v1h-1zM10 13h1v1h-1zM13 2h1v1h-1z"/>
<path fill="#d7d7d7" d="M5 5h1v1h-1zM6 12h1v1h-1zM6 11h1v1h-1zM9 14h1v1h-1zM14 12h1v1h-1zM15 11h1v1h-1zM15 8h1v1h-1z"/>
<path fill="#d2d2d2" d="M5 8h1v1h-1zM6 3h1v1h-1zM8 1h1v1h-1zM10 1h1v1h-1zM11 14h1v1h-1zM12 12h1v1h-1zM12 1h1v1h-1zM13 1h1v1h-1zM14 2h1v1h-1zM15 9h1v1h-1z"/>
<path fill="#cdcdcd" d="M5 7h1v1h-1zM7 12h1v1h-1zM9 13h1v1h-1zM10 0h1v1h-1zM11 13h1v1h-1zM12 2h1v1h-1zM14 9h1v1h-1zM15 7h1v1h-1z"/>
<path fill="#c8c8c8" d="M5 9h1v1h-1zM5 6h1v1h-1zM7 2h1v1h-1zM9 12h1v1h-1zM12 13h1v1h-1zM14 11h1v1h-1z"/>
<path fill="#c3c3c3" d="M6 4h1v1h-1zM8 2h1v1h-1zM10 2h1v1h-1zM13 12h1v1h-1zM15 6h1v1h-1zM15 5h1v1h-1zM15 4h1v1h-1z"/>
<path fill="#bebebe" d="M6 9h1v1h-1zM6 7h1v1h-1zM7 11h1v1h-1zM11 1h1v1h-1z"/>
<path fill="#b9b9b9" d="M6 10h1v1h-1zM6 6h1v1h-1zM6 5h1v1h-1zM7 10h1v1h-1zM8 3h1v1h-1z"/>
<path fill="#b4b4b4" d="M7 3h1v1h-1zM14 3h1v1h-1z"/>
<path fill="#afafaf" d="M7 4h1v1h-1zM11 2h1v1h-1z"/>
<path fill="#aaaaaa" d="M8 12h1v1h-1zM9 2h1v1h-1zM9 1h1v1h-1zM12 3h1v1h-1zM14 10h1v1h-1z"/>
<path fill="#a5a5a5" d="M6 8h1v1h-1zM8 4h1v1h-1zM9 11h1v1h-1zM10 12h1v1h-1zM10 11h1v1h-1zM11 12h1v1h-1zM13 11h1v1h-1zM13 3h1v1h-1zM14 4h1v1h-1z"/>
<path fill="#a0a0a0" d="M13 5h1v1h-1zM14 6h1v1h-1z"/>
<path fill="#9b9b9b" d="M7 7h1v1h-1zM14 8h1v1h-1z"/>
<path fill="#969696" d="M9 3h1v1h-1zM12 11h1v1h-1zM13 10h1v1h-1z"/>
<path fill="#919191" d="M7 5h1v1h-1zM11 3h1v1h-1zM12 4h1v1h-1zM14 5h1v1h-1z"/>
<path fill="#8c8c8c" d="M7 6h1v1h-1zM11 11h1v1h-1zM14 7h1v1h-1z"/>
<path fill="#878787" d="M7 9h1v1h-1zM10 4h1v1h-1zM12 10h1v1h-1zM12 5h1v1h-1zM13 9h1v1h-1zM13 4h1v1h-1z"/>
<path fill="#828282" d="M13 8h1v1h-1z"/>
<path fill="#7d7d7d" d="M8 11h1v1h-1zM8 10h1v1h-1zM8 8h1v1h-1zM8 6h1v1h-1zM10 3h1v1h-1z"/>
<path fill="#787878" d="M7 8h1v1h-1zM8 9h1v1h-1z"/>
<path fill="#737373" d="M8 5h1v1h-1zM10 5h1v1h-1z"/>
<path fill="#696969" d="M12 6h1v1h-1z"/>
<path fill="#646464" d="M8 7h1v1h-1z"/>
<path fill="#5f5f5f" d="M9 4h1v1h-1zM10 6h1v1h-1zM13 7h1v1h-1zM13 6h1v1h-1z"/>
<path fill="#5a5a5a" d="M11 9h1v1h-1z"/>
<path fill="#555555" d="M9 10h1v1h-1zM9 6h1v1h-1zM11 10h1v1h-1z"/>
<path fill="#505050" d="M10 10h1v1h-1zM11 6h1v1h-1zM11 5h1v1h-1z"/>
<path fill="#4b4b4b" d="M9 5h1v1h-1zM11 8h1v1h-1zM11 4h1v1h-1zM12 7h1v1h-1z"/>
<path fill="#464646" d="M9 9h1v1h-1zM12 8h1v1h-1z"/>
<path fill="#373737" d="M12 9h1v1h-1z"/>
<path fill="#2d2d2d" d="M9 8h1v1h-1zM9 7h1v1h-1z"/>
<path fill="#232323" d="M10 9h1v1h-1z"/>
<path fill="#191919" d="M10 8h1v1h-1z"/>
<path fill="#0a0a0a" d="M11 7h1v1h-1z"/>
<path fill="#000000" d="M10 7h1v1h-1z"/>
</g>
<path class="ct" d="M557.1 673.3L561.3 675L565.8 673.3L566.9 666.8L567.8 665.6L574.3 661.9L576.1 660.3L576.7 653.8L580.8 650.4L583.4 647.3L584.7 640.8L585.6 634.3L585.4 627.8L585.2 621.3L587.3 618.2L589.8 614.8L587.3 608.9L587 608.3L586.8 601.8L587.3 598.5L587.9 595.3L587.3 594.5L583.6 588.8L581.9 582.3L581.6 575.8L580.8 574.8L574.3 571.3L567.8 570L567 569.3L567 562.7L561.3 560.3L554.8 560L548.3 560.5L541.8 559.2L535.2 561L528.7 561.6L522.2 561.3L515.7 562.1L512.5 562.7L512.5 569.3L509.7 575.8L509.2 576.9L502.7 579.9L500.6 582.3L500.1 588.8L496.2 595.3L500.1 601.8L497.7 608.3L497.2 614.8L498.8 621.3L500 627.8L498.6 634.3L502.7 640.8L502.7 640.8L504.8 647.3L505.7 653.8L509.2 660.3L509.2 660.3L515.7 666.3L516.8 666.8L522.2 668.5L528.7 670.7L535.2 670.7L541.8 666.8L541.8 666.8L541.8 666.8L548.3 673.3L554.8 666.8L554.8 666.8L554.8 666.8ZM544.1 660.3L548.3 661.7L550 660.3L554.8 656.6L558.4 653.8L561.3 651.4L567.8 649.5L569.3 647.3L574.3 640.8L572.2 634.3L574.3 630L576.3 627.8L575.1 621.3L576.6 614.8L577.8 608.3L579 601.8L576.8 595.3L574.3 592.4L571.4 588.8L570.3 582.3L567.8 579.9L563.7 582.3L561.3 582.7L560 582.3L561.3 579.8L563.6 575.8L561.3 573.7L554.8 572.3L548.3 571.7L544.9 569.3L544.9 562.7L541.8 561.8L539.2 562.7L539.2 569.3L535.2 571.6L528.7 574.5L526 575.8L522.2 578L517.8 582.3L515.7 586.1L513.2 588.8L512 595.3L509.2 601.3L509 601.8L504.7 608.3L506.7 614.8L507.7 621.3L507.1 627.8L509.2 631.4L511.2 634.3L514.7 640.8L515.4 647.3L515.7 647.9L522.2 650.8L528.7 653.6L529.4 653.8L535.2 660.3L540.6 653.8L541.8 653.5L542.8 653.8ZM525.2 640.8L528.7 646.3L534.7 640.8L535.2 640.5L541.8 640.8L541.8 640.8L548.3 647.3L554.8 642.2L561.3 640.8L561.3 640.8L565.4 634.3L563.5 627.8L567.8 622.1L568.4 621.3L569.9 614.8L568.6 608.3L570.1 601.8L567.8 595.8L567.4 595.3L561.3 588.8L554.8 590.6L552.9 588.8L548.3 584.7L541.8 585.5L535.2 584.2L533 588.8L528.7 595.3L528.7 595.3L522.2 597.6L519.5 601.8L519 608.3L520.7 614.8L515.7 621.3L518.9 627.8L522.2 631.6L524.6 634.3ZM533.8 627.8L535.2 631.9L541.8 634L546.9 627.8L548.3 622.4L550.3 627.8L554.8 629.8L556.7 627.8L555.7 621.3L555.7 614.8L554.8 614.3L548.3 608.3L541.8 609.3L535.2 609L531.3 614.8L532.6 621.3ZM534.5 601.8L535.2 605L535.9 601.8L535.2 600.2ZM548 595.3L548.3 598.5L548.5 595.3L548.3 595.1Z"/>
</g>
<g clip-path="url(#c50)">
<path class="pt" transform="translate(63.65 702.6) scale(.5)" d="m1 133h0m0 51h0m1-67h0m0 95h0m1-41h0m1 74h0m1-158h0m0 110h0m0 38h0m1-112h0m0 28h0m0 15h0m1-63h0m0 106h0m2-98h0m0 1h0m0 125h0m1-145h0m0 99h0m0 49h0m1-183h0m0 171h0m1-135h0m0 12h0m0 49h0m0 19h0m0 42h0m1-155h0m0 65h0m0 2h0m0 54h0m0 11h0m1-126h0m0 51h0m0 34h0m0 5h0m0 29h0m1-81h0m0 55h0m0 4h0m0 8h0m0 42h0m0 45h0m1-142h0m0 20h0m0 8h0m0 10h0m0 9h0m0 34h0m1-98h0m0 43h0m0 103h0m1-170h0m0 88h0m0 2h0m0 7h0m0 23h0m1-168h0m0 94h0m0 8h0m0 1h0m0 41h0m0 1h0m0 6h0m0 4h0m0 47h0m1-79h0m0 14h0m1-26h0m0 79h0m1-118h0m0 16h0m0 117h0m1-158h0m0 27h0m0 2h0m0 47h0m0 62h0m0 4h0m0 1h0m0 6h0m1-65h0m0 73h0m1-213h0m0 67h0m0 24h0m0 19h0m0 17h0m1-55h0m0 35h0m0 38h0m0 4h0m1-64h0m0 19h0m0 7h0m0 8h0m0 23h0m0 6h0m0 4h0m0 3h0m0 2h0m0 2h0m0 44h0m1-117h0m0 9h0m0 16h0m0 1h0m0 5h0m0 22h0m0 51h0m0 0h0m0 8h0m0 13h0m0 4h0m0 14h0m1-140h0m0 9h0m0 26h0m0 13h0m0 17h0m0 3h0m0 26h0m0 36h0m1-153h0m0 50h0m0 21h0m0 39h0m1-124h0m0 22h0m0 22h0m0 4h0m0 20h0m0 5h0m0 10h0m0 10h0m0 30h0m0 2h0m0 23h0m0 10h0m0 7h0m1-197h0m0 14h0m0 43h0m0 15h0m0 15h0m0 24h0m0 3h0m0 1h0m0 16h0m0 15h0m0 17h0m0 22h0m0 17h0m1-159h0m0 14h0m0 54h0m0 5h0m0 21h0m0 2h0m0 10h0m0 22h0m0 28h0m1-182h0m0 7h0m0 42h0m0 2h0m0 5h0m0 51h0m0 7h0m0 2h0m0 46h0m0 26h0m1-149h0m0 15h0m0 2h0m0 12h0m0 19h0m0 2h0m0 24h0m0 8h0m0 18h0m0 5h0m0 19h0m0 0h0m1-99h0m0 8h0m0 6h0m0 9h0m0 46h0m0 12h0m0 15h0m0 10h0m0 23h0m1-167h0m0 42h0m0 1h0m0 4h0m0 1h0m0 27h0m0 9h0m0 31h0m0 4h0m0 9h0m0 31h0m0 8h0m1-175h0m0 62h0m0 66h0m0 26h0m1-134h0m0 2h0m0 6h0m0 10h0m0 9h0m0 9h0m0 0h0m0 10h0m0 4h0m0 11h0m0 12h0m0 4h0m0 26h0m0 14h0m0 9h0m0 12h0m1-177h0m0 36h0m0 29h0m0 7h0m0 9h0m0 8h0m0 1h0m0 1h0m0 2h0m0 5h0m0 8h0m0 1h0m0 3h0m0 9h0m0 4h0m0 3h0m0 1h0m0 0h0m0 3h0m0 15h0m0 22h0m1-198h0m0 52h0m0 9h0m0 15h0m0 29h0m0 9h0m0 10h0m0 3h0m0 2h0m0 3h0m0 8h0m0 17h0m0 10h0m0 5h0m0 38h0m0 9h0m1-151h0m0 0h0m0 6h0m0 3h0m0 6h0m0 19h0m0 3h0m0 4h0m0 2h0m0 14h0m0 13h0m0 2h0m0 1h0m0 2h0m0 2h0m0 5h0m0 1h0m0 4h0m0 15h0m0 5h0m0 41h0m1-109h0m0 8h0m0 18h0m0 8h0m0 0h0m0 2h0m0 5h0m0 3h0m0 29h0m0 11h0m0 15h0m0 25h0m1-186h0m0 43h0m0 0h0m0 16h0m0 8h0m0 7h0m0 1h0m0 10h0m0 0h0m0 2h0m0 5h0m0 10h0m0 6h0m0 10h0m0 6h0m0 1h0m0 0h0m0 49h0m1-172h0m0 26h0m0 5h0m0 7h0m0 11h0m0 4h0m0 4h0m0 3h0m0 14h0m0 14h0m0 5h0m0 1h0m0 12h0m0 7h0m0 10h0m0 2h0m0 23h0m0 37h0m1-163h0m0 10h0m0 3h0m0 14h0m0 14h0m0 4h0m0 12h0m0 21h0m0 15h0m0 11h0m0 9h0m0 15h0m0 1h0m0 8h0m1-164h0m0 28h0m0 5h0m0 6h0m0 10h0m0 54h0m0 17h0m0 1h0m0 3h0m0 7h0m0 4h0m0 3h0m0 57h0m1-220h0m0 9h0m0 19h0m0 9h0m0 35h0m0 2h0m0 7h0m0 1h0m0 3h0m0 1h0m0 2h0m0 6h0m0 56h0m0 1h0m0 3h0m0 9h0m0 18h0m1-181h0m0 22h0m0 4h0m0 35h0m0 14h0m0 72h0m0 11h0m0 20h0m0 6h0m0 16h0m0 1h0m0 15h0m1-216h0m0 46h0m0 6h0m0 4h0m0 12h0m0 1h0m0 91h0m0 3h0m0 17h0m0 8h0m0 29h0m1-221h0m0 13h0m0 0h0m0 31h0m0 5h0m0 3h0m0 45h0m0 1h0m0 60h0m0 3h0m0 11h0m1-171h0m0 45h0m0 25h0m0 3h0m0 1h0m0 5h0m0 1h0m0 1h0m0 10h0m0 3h0m0 56h0m0 17h0m0 9h0m0 6h0m0 17h0m0 13h0m0 1h0m1-211h0m0 6h0m0 52h0m0 1h0m0 6h0m0 0h0m0 10h0m0 9h0m0 3h0m0 5h0m0 65h0m0 7h0m0 0h0m0 3h0m0 30h0m0 1h0m1-159h0m0 15h0m0 10h0m0 1h0m0 2h0m0 7h0m0 12h0m0 71h0m0 5h0m0 5h0m0 0h0m0 2h0m0 2h0m0 9h0m0 1h0m0 0h0m0 1h0m0 14h0m0 23h0m1-176h0m0 16h0m0 0h0m0 2h0m0 21h0m0 83h0m0 1h0m0 14h0m0 1h0m0 9h0m1-173h0m0 6h0m0 7h0m0 6h0m0 8h0m0 6h0m0 4h0m0 7h0m0 8h0m0 3h0m0 6h0m0 9h0m0 82h0m0 1h0m0 3h0m0 14h0m0 6h0m0 24h0m1-217h0m0 55h0m0 5h0m0 3h0m0 7h0m0 0h0m0 6h0m0 5h0m0 3h0m0 90h0m0 2h0m0 36h0m1-140h0m0 5h0m0 3h0m0 2h0m0 97h0m0 2h0m0 1h0m0 3h0m0 7h0m0 1h0m0 25h0m1-220h0m0 14h0m0 38h0m0 12h0m0 3h0m0 1h0m0 2h0m0 114h0m0 5h0m0 21h0m0 13h0m1-219h0m0 15h0m0 23h0m0 1h0m0 4h0m0 132h0m0 1h0m0 3h0m0 0h0m1-155h0m0 4h0m0 34h0m0 4h0m0 111h0m0 4h0m0 12h0m0 15h0m1-231h0m0 3h0m0 5h0m0 31h0m0 9h0m0 1h0m0 16h0m0 18h0m0 2h0m0 126h0m0 5h0m0 8h0m0 4h0m1-235h0m0 48h0m0 5h0m0 5h0m0 9h0m0 2h0m0 17h0m0 126h0m0 5h0m0 9h0m0 10h0m1-174h0m0 30h0m0 120h0m0 1h0m0 7h0m0 4h0m0 2h0m1-178h0m0 6h0m0 1h0m0 11h0m0 5h0m0 3h0m0 6h0m0 9h0m0 1h0m0 2h0m0 120h0m0 29h0m0 6h0m1-227h0m0 29h0m0 13h0m0 12h0m0 2h0m0 7h0m0 6h0m0 1h0m0 0h0m0 140h0m1-158h0m0 0h0m0 0h0m0 12h0m0 5h0m0 129h0m0 8h0m1-202h0m0 13h0m0 19h0m0 12h0m0 2h0m0 3h0m0 2h0m0 2h0m0 145h0m0 12h0m0 1h0m0 3h0m1-160h0m0 145h0m1-178h0m0 10h0m0 3h0m0 7h0m0 3h0m0 5h0m0 4h0m0 2h0m0 6h0m0 133h0m0 0h0m0 1h0m0 9h0m1-169h0m0 2h0m0 24h0m0 134h0m0 3h0m0 10h0m1-220h0m0 49h0m0 0h0m0 8h0m0 3h0m0 155h0m0 7h0m0 8h0m0 2h0m0 2h0m1-215h0m0 11h0m0 4h0m0 20h0m0 6h0m0 142h0m0 1h0m0 21h0m0 3h0m1-236h0m0 57h0m0 1h0m0 10h0m0 0h0m0 146h0m0 18h0m1-213h0m0 38h0m0 159h0m0 3h0m0 1h0m0 21h0m1-248h0m0 34h0m0 37h0m0 149h0m0 2h0m0 9h0m1-176h0m0 16h0m0 2h0m0 158h0m0 0h0m0 5h0m0 3h0m0 0h0m1-182h0m0 1h0m0 10h0m0 4h0m0 171h0m0 2h0m0 6h0m1-253h0m0 28h0m0 39h0m0 6h0m0 3h0m0 147h0m0 0h0m0 15h0m0 0h0m0 15h0m1-211h0m0 15h0m0 5h0m0 178h0m0 1h0m0 3h0m0 9h0m1-212h0m0 23h0m0 2h0m0 7h0m0 154h0m0 5h0m0 4h0m0 3h0m0 2h0m1-198h0m0 3h0m0 11h0m0 3h0m0 3h0m0 5h0m1-32h0m0 5h0m0 24h0m0 172h0m1-180h0m0 2h0m0 5h0m0 168h0m0 3h0m0 11h0m1-226h0m0 23h0m0 10h0m0 4h0m0 10h0m0 171h0m0 4h0m0 4h0m0 0h0m0 1h0m0 7h0m1-227h0m0 8h0m0 2h0m0 9h0m0 4h0m0 3h0m0 2h0m0 9h0m0 0h0m0 171h0m0 5h0m0 0h0m0 7h0m0 1h0m0 1h0m0 2h0m1-206h0m0 2h0m0 190h0m0 4h0m0 11h0m0 1h0m1-13h0m0 9h0m1-199h0m0 198h0m0 4h0m1-210h0m0 4h0m0 3h0m0 10h0m0 3h0m0 0h0m0 1h0m0 0h0m0 5h0m1-65h0m0 54h0m0 0h0m0 182h0m0 1h0m0 3h0m0 6h0m0 3h0m1-229h0m0 37h0m0 1h0m0 2h0m0 3h0m0 174h0m0 0h0m0 10h0m1-243h0m0 10h0m0 15h0m0 7h0m0 205h0m1-197h0m0 5h0m0 0h0m0 5h0m0 187h0m0 1h0m1-195h0m0 9h0m0 5h0m0 2h0m0 188h0m0 0h0m1-190h0m1-49h0m0 44h0m0 189h0m0 2h0m1-218h0m0 8h0m0 214h0m1-4h0m1-237h0m0 7h0m0 23h0m0 7h0m1-17h0m0 4h0m0 6h0m0 8h0m0 2h0m1-27h0m0 5h0m0 5h0m0 2h0m1 18h0m0 1h0m1-59h0m0 39h0m0 18h0m1-18h0m0 9h0m0 4h0m0 3h0m1-32h0m0 13h0m0 11h0m1-46h0m0 31h0m0 5h0m0 9h0m0 4h0m0 4h0m1-31h0m0 17h0m0 10h0m1-18h0m0 5h0m0 13h0m0 4h0m1-38h0m1 16h0m0 9h0m0 9h0m1-28h0m0 20h0m0 8h0m1-14h0m0 14h0m0 1h0m1-9h0m1-15h0m0 9h0m0 11h0m0 3h0m1-42h0m0 23h0m0 9h0m0 5h0m0 7h0m1-5h0m0 4h0m1-45h0m1 17h0m0 2h0m0 5h0m0 15h0m0 7h0m1-16h0m0 6h0m1 3h0m0 6h0m1 2h0m1-30h0m1-22h0m1 16h0m1-18h0m0 32h0m0 3h0m0 16h0m0 1h0m1-37h0m0 15h0m0 10h0m0 0h0m0 13h0m1-28h0m0 19h0m0 7h0m0 0h0m0 1h0m1-14h0m0 16h0m0 1h0m1-22h0m0 8h0m0 12h0m0 1h0m1-9h0m0 4h0m0 5h0m1-7h0m0 3h0m1-20h0m0 11h0m0 3h0m0 4h0m0 2h0m0 5h0m1-11h0m0 10h0m1-37h0m0 8h0m0 27h0m0 4h0m1-37h0m0 36h0m1-27h0m1-21h0m0 48h0m1-42h0m0 16h0m0 24h0m1 3h0m0 2h0m1-15h0m1-30h0m0 36h0m0 7h0m1-37h0m0 16h0m1 20h0m0 3h0m1-29h0m0 26h0m1-47h0m0 9h0m0 16h0m0 6h0m0 11h0m0 3h0m0 4h0m1-11h0m1-2h0m1-17h0m0 0h0m0 24h0m1-28h0m0 23h0m0 13h0m1-18h0m0 8h0m0 10h0m1-28h0m0 20h0m0 1h0m0 4h0m1 1h0m0 1h0m0 3h0m1-33h0m0 22h0m0 6h0m0 5h0m0 2h0m1-35h0m0 25h0m0 10h0m1-50h0m0 14h0m0 13h0m0 4h0m0 11h0m0 3h0m1-32h0m0 11h0m0 23h0m1-1h0m0 5h0m1-36h0m0 19h0m0 16h0m0 193h0m1-244h0m0 6h0m0 31h0m0 9h0m0 197h0m1-200h0m0 3h0m0 8h0m0 189h0m1-218h0m0 9h0m0 3h0m0 3h0m0 16h0m0 184h0m0 4h0m1-232h0m0 7h0m0 30h0m0 4h0m0 0h0m0 2h0m0 180h0m0 2h0m0 6h0m0 1h0m0 0h0m1-204h0m0 0h0m0 2h0m0 1h0m0 10h0m0 181h0m0 5h0m1-209h0m0 12h0m0 10h0m0 181h0m0 5h0m1-217h0m0 4h0m0 0h0m0 27h0m0 1h0m0 1h0m0 176h0m1-204h0m0 2h0m0 10h0m0 9h0m0 2h0m0 180h0m0 8h0m1-194h0m0 8h0m0 3h0m0 175h0m1-196h0m0 18h0m0 179h0m0 1h0m0 1h0m0 1h0m0 7h0m1-192h0m0 178h0m0 3h0m0 11h0m0 1h0m0 4h0m1-222h0m0 29h0m0 1h0m0 191h0m1-232h0m0 41h0m0 181h0m0 5h0m1-236h0m0 48h0m0 0h0m0 174h0m0 12h0m0 4h0m0 0h0m1-221h0m0 7h0m0 9h0m0 3h0m0 1h0m0 11h0m1-45h0m0 30h0m0 15h0m0 171h0m0 1h0m0 1h0m0 1h0m0 1h0m0 2h0m0 8h0m1-235h0m0 18h0m0 17h0m0 15h0m1-25h0m0 6h0m0 16h0m0 3h0m0 1h0m0 175h0m0 3h0m0 6h0m0 8h0m1-253h0m0 62h0m0 175h0m0 7h0m0 6h0m1-227h0m0 11h0m0 14h0m0 8h0m0 7h0m0 167h0m0 4h0m0 4h0m0 11h0m0 1h0m1-200h0m0 2h0m0 4h0m0 171h0m0 17h0m1-192h0m0 3h0m0 2h0m0 2h0m0 2h0m0 3h0m0 0h0m0 165h0m0 5h0m1-169h0m0 163h0m1-206h0m0 45h0m0 158h0m0 1h0m0 2h0m0 2h0m0 9h0m0 3h0m0 4h0m0 7h0m1-192h0m0 5h0m1-29h0m0 36h0m0 151h0m1-185h0m0 14h0m0 3h0m0 11h0m0 160h0m0 2h0m0 8h0m1-201h0m0 5h0m0 9h0m0 13h0m0 5h0m0 4h0m0 151h0m0 1h0m0 8h0m0 1h0m0 3h0m1-226h0m0 29h0m0 7h0m0 18h0m0 2h0m0 10h0m0 147h0m0 5h0m0 12h0m0 12h0m0 1h0m1-238h0m0 209h0m0 4h0m0 11h0m0 6h0m0 0h0m0 1h0m1-184h0m0 18h0m0 3h0m0 2h0m0 141h0m0 2h0m0 4h0m0 5h0m1-222h0m0 39h0m0 2h0m0 8h0m0 9h0m0 10h0m0 7h0m0 133h0m0 2h0m0 12h0m0 6h0m1-233h0m0 45h0m0 1h0m0 0h0m0 14h0m0 4h0m0 7h0m0 1h0m0 139h0m0 33h0m1-180h0m0 8h0m0 7h0m0 0h0m0 0h0m0 5h0m0 134h0m0 0h0m0 1h0m0 2h0m0 1h0m0 9h0m1-185h0m0 23h0m0 2h0m0 5h0m0 142h0m1-180h0m0 22h0m0 10h0m0 0h0m0 5h0m0 9h0m0 133h0m0 5h0m0 0h0m0 4h0m0 2h0m1-171h0m0 27h0m0 131h0m1-228h0m0 54h0m0 2h0m0 6h0m0 30h0m0 4h0m0 122h0m0 14h0m1-192h0m0 33h0m0 26h0m0 5h0m0 1h0m0 114h0m0 15h0m0 2h0m0 1h0m1-184h0m0 12h0m0 17h0m0 14h0m0 1h0m0 3h0m0 3h0m0 115h0m0 5h0m0 3h0m0 1h0m1-185h0m0 26h0m0 1h0m0 4h0m0 2h0m0 13h0m0 158h0m0 8h0m1-177h0m0 1h0m0 29h0m0 8h0m0 100h0m0 3h0m0 8h0m0 19h0m1-172h0m0 3h0m0 1h0m0 2h0m0 1h0m0 19h0m0 11h0m0 4h0m0 106h0m0 2h0m0 10h0m0 21h0m1-212h0m0 28h0m0 17h0m0 12h0m0 17h0m0 0h0m0 4h0m0 2h0m0 95h0m0 2h0m0 13h0m0 11h0m1-238h0m0 58h0m0 19h0m0 5h0m0 5h0m0 5h0m0 9h0m0 1h0m0 10h0m0 3h0m0 91h0m0 6h0m1-205h0m0 55h0m0 8h0m0 13h0m0 5h0m0 9h0m0 2h0m0 5h0m0 6h0m0 97h0m0 10h0m0 5h0m0 29h0m0 0h0m1-187h0m0 11h0m0 11h0m0 3h0m0 4h0m0 3h0m0 0h0m0 3h0m0 2h0m0 113h0m0 7h0m0 1h0m0 13h0m0 16h0m1-185h0m0 16h0m0 7h0m0 2h0m0 21h0m0 7h0m0 85h0m0 5h0m0 1h0m0 42h0m1-185h0m0 27h0m0 0h0m0 7h0m0 1h0m0 10h0m0 2h0m0 8h0m0 3h0m0 73h0m0 4h0m0 3h0m0 2h0m0 4h0m0 8h0m0 17h0m1-143h0m0 4h0m0 8h0m0 9h0m0 4h0m0 7h0m0 1h0m0 18h0m0 27h0m0 3h0m0 8h0m0 16h0m0 23h0m0 22h0m1-177h0m0 12h0m0 34h0m0 1h0m0 9h0m0 45h0m0 5h0m0 4h0m0 0h0m0 4h0m0 16h0m0 1h0m0 13h0m0 1h0m0 5h0m0 2h0m1-135h0m0 3h0m0 2h0m0 16h0m0 7h0m0 11h0m0 7h0m0 11h0m0 6h0m0 33h0m0 5h0m0 12h0m0 10h0m0 9h0m0 4h0m0 10h0m0 3h0m1-186h0m0 15h0m0 13h0m0 17h0m0 17h0m0 15h0m0 4h0m0 2h0m0 2h0m0 3h0m0 12h0m0 6h0m0 49h0m0 41h0m0 8h0m1-230h0m0 106h0m0 21h0m0 2h0m0 13h0m0 1h0m0 6h0m0 6h0m0 1h0m0 1h0m0 1h0m0 3h0m0 13h0m0 6h0m0 9h0m0 11h0m0 16h0m1-166h0m0 6h0m0 5h0m0 33h0m0 1h0m0 11h0m0 9h0m0 50h0m0 29h0m0 9h0m1-154h0m0 33h0m0 1h0m0 1h0m0 1h0m0 13h0m0 10h0m0 9h0m0 3h0m0 10h0m0 6h0m0 44h0m0 9h0m0 16h0m0 10h0m0 2h0m1-126h0m0 10h0m0 2h0m0 7h0m0 11h0m0 13h0m0 4h0m0 3h0m0 36h0m0 0h0m0 4h0m0 1h0m0 6h0m0 5h0m0 27h0m0 9h0m0 4h0m1-197h0m0 11h0m0 7h0m0 15h0m0 30h0m0 6h0m0 12h0m0 0h0m0 12h0m0 8h0m0 6h0m0 10h0m0 3h0m0 4h0m0 10h0m0 4h0m0 7h0m0 19h0m0 24h0m1-210h0m0 6h0m0 15h0m0 38h0m0 17h0m0 28h0m0 2h0m0 2h0m0 4h0m0 15h0m0 13h0m0 10h0m0 6h0m0 3h0m0 0h0m0 10h0m0 9h0m0 24h0m0 14h0m1-228h0m0 36h0m0 23h0m0 10h0m0 5h0m0 4h0m0 3h0m0 14h0m0 1h0m0 10h0m0 2h0m0 1h0m0 4h0m0 3h0m0 0h0m0 11h0m0 13h0m0 1h0m0 0h0m0 9h0m0 2h0m0 30h0m0 2h0m0 9h0m0 30h0m1-217h0m0 69h0m0 5h0m0 0h0m0 0h0m0 3h0m0 2h0m0 1h0m0 2h0m0 12h0m0 17h0m0 1h0m0 1h0m0 1h0m0 2h0m0 13h0m0 2h0m0 3h0m0 0h0m0 3h0m0 8h0m0 7h0m0 12h0m0 14h0m0 16h0m0 1h0m0 14h0m1-123h0m0 2h0m0 20h0m0 9h0m0 67h0m0 18h0m1-170h0m0 3h0m0 19h0m0 2h0m0 17h0m0 1h0m0 4h0m0 5h0m0 40h0m0 3h0m0 13h0m0 3h0m0 3h0m0 7h0m0 25h0m0 40h0m0 4h0m1-233h0m0 45h0m0 44h0m0 26h0m0 81h0m1-133h0m0 26h0m0 58h0m0 3h0m0 23h0m0 2h0m0 11h0m0 9h0m1-147h0m0 37h0m0 1h0m0 3h0m0 11h0m0 28h0m0 13h0m0 42h0m0 10h0m0 4h0m0 14h0m0 14h0m1-190h0m0 19h0m0 1h0m0 36h0m0 1h0m0 23h0m0 29h0m0 12h0m0 30h0m1-171h0m0 38h0m0 9h0m0 5h0m0 3h0m0 12h0m0 2h0m0 9h0m0 10h0m0 3h0m0 18h0m0 16h0m0 3h0m0 9h0m0 16h0m0 24h0m0 2h0m0 11h0m1-151h0m0 11h0m0 47h0m0 1h0m0 21h0m0 4h0m0 23h0m0 30h0m1-98h0m0 0h0m0 13h0m0 27h0m0 2h0m0 5h0m0 4h0m0 49h0m1-125h0m0 16h0m0 1h0m0 3h0m0 7h0m0 0h0m0 8h0m0 8h0m0 3h0m0 0h0m0 34h0m0 37h0m0 1h0m0 13h0m0 7h0m0 17h0m1-191h0m0 56h0m0 5h0m0 10h0m0 22h0m0 10h0m0 43h0m0 5h0m0 5h0m0 6h0m0 8h0m0 8h0m0 14h0m1-124h0m0 0h0m0 46h0m0 30h0m1-192h0m0 101h0m0 3h0m0 65h0m0 5h0m0 14h0m0 7h0m0 2h0m0 14h0m0 19h0m1-118h0m0 6h0m0 24h0m0 7h0m0 2h0m0 20h0m0 15h0m0 3h0m1-91h0m0 32h0m0 7h0m0 11h0m0 39h0m0 17h0m1-185h0m0 50h0m0 56h0m0 2h0m0 6h0m0 19h0m0 18h0m0 3h0m0 53h0m1-91h0m0 2h0m0 12h0m0 35h0m0 18h0m1 0h0m1-98h0m0 5h0m0 32h0m0 43h0m0 47h0m0 11h0m1-142h0m0 4h0m0 43h0m0 7h0m0 29h0m0 32h0m0 6h0m1-96h0m0 11h0m0 46h0m0 32h0m0 29h0m1-141h0m0 23h0m0 0h0m1-52h0m0 4h0m0 2h0m0 33h0m0 34h0m0 4h0m0 3h0m0 28h0m0 8h0m0 8h0m0 5h0m1-104h0m0 68h0m0 26h0m1-119h0m0 13h0m0 1h0m0 54h0m0 18h0m0 40h0m0 6h0m0 15h0m1-99h0m0 1h0m0 35h0m1-95h0m0 42h0m0 12h0m0 124h0m1-136h0m0 42h0m1 29h0m1-18h0m0 29h0m1-123h0m1 50h0m0 20h0m1 16h0m0 17h0m0 0h0m0 35h0m0 10h0m1-188h0m0 47h0m1 20h0m0 40h0m0 12h0m0 55h0m0 7h0m1 21h0m1-63h0m1-41h0m0 10h0m1 29h0m0 18h0m1-118h0m0 56h0"/>
<path fill="#fff" fill-rule="evenodd" d="M113.4 836L118.9 836.8L125.4 837.2L132 836.1L138.5 837.1L143 836L143 829.4L145 826.6L147.7 822.9L151.5 819.9L155.8 816.4L158 815.4L164.5 810.6L165 809.9L167.6 803.4L168.2 796.9L168 790.4L170.5 783.9L168.1 777.4L169.4 770.9L165.1 764.4L164.5 763.5L163.3 757.9L159.6 751.4L158 748.1L157 744.9L155.1 738.4L151.5 735.2L146.3 738.4L145 739.4L143.7 738.4L138.5 733.1L132 732.3L130.9 731.9L125.4 730.8L118.9 730.1L117.5 731.9L112.4 737.8L111.3 738.4L105.9 741.6L99.4 744.5L99.1 744.9L99 751.4L92.9 757.4L92.6 757.9L92.9 764.4L92.9 764.4L92.9 764.4L88.9 770.9L86.4 777.4L87.8 783.9L86.4 789.5L86.1 790.4L86.4 790.9L90.2 796.9L92 803.4L92.9 806.7L93.5 809.9L99.4 813.7L103.2 816.4L105.9 820.9L109.5 822.9L112.4 828.1L113.4 829.4L113.4 836Z"/>
<g transform="translate(63.65 702.6) scale(6.5050)" shape-rendering="crispEdges">
<path fill="#fafafa" d="M3 13h1v1h-1zM3 12h1v1h-1zM3 11h1v1h-1zM3 10h1v1h-1zM4 16h1v1h-1zM4 15h1v1h-1zM4 13h1v1h-1zM4 9h1v1h-1zM4 8h1v1h-1zM5 7h1v1h-1zM5 6h1v1h-1zM6 18h1v1h-1zM6 5h1v1h-1zM7 19h1v1h-1zM7 18h1v1h-1zM7 5h1v1h-1zM8 19h1v1h-1zM8 4h1v1h-1zM9 4h1v1h-1zM10 19h1v1h-1zM10 4h1v1h-1zM11 4h1v1h-1zM12 19h1v1h-1zM12 18h1v1h-1zM12 5h1v1h-1zM13 18h1v1h-1zM14 17h1v1h-1zM14 7h1v1h-1zM14 6h1v1h-1zM15 16h1v1h-1zM15 9h1v1h-1zM15 8h1v1h-1zM15 7h1v1h-1zM16 13h1v1h-1zM16 12h1v1h-1zM16 10h1v1h-1zM16 9h1v1h-1z"/>
<path fill="#f5f5f5" d="M4 14h1v1h-1zM4 11h1v1h-1zM4 10h1v1h-1zM5 9h1v1h-1zM6 17h1v1h-1zM6 6h1v1h-1zM7 6h1v1h-1zM9 19h1v1h-1zM10 5h1v1h-1zM11 19h1v1h-1zM11 18h1v1h-1zM11 5h1v1h-1zM13 17h1v1h-1zM13 7h1v1h-1zM13 6h1v1h-1zM13 5h1v1h-1zM14 16h1v1h-1zM15 15h1v1h-1zM15 14h1v1h-1zM15 13h1v1h-1zM15 11h1v1h-1z"/>
<path fill="#f0f0f0" d="M4 12h1v1h-1zM5 16h1v1h-1zM5 15h1v1h-1zM7 17h1v1h-1zM8 18h1v1h-1zM8 5h1v1h-1zM9 5h1v1h-1zM12 17h1v1h-1zM12 6h1v1h-1zM14 15h1v1h-1zM14 8h1v1h-1zM15 12h1v1h-1zM15 10h1v1h-1z"/>
<path fill="#ebebeb" d="M5 13h1v1h-1zM5 8h1v1h-1zM6 16h1v1h-1zM6 8h1v1h-1zM6 7h1v1h-1zM8 17h1v1h-1zM9 18h1v1h-1zM9 6h1v1h-1zM10 18h1v1h-1zM13 16h1v1h-1zM14 14h1v1h-1zM14 9h1v1h-1z"/>
<path fill="#e6e6e6" d="M5 14h1v1h-1zM10 17h1v1h-1zM11 6h1v1h-1zM14 11h1v1h-1zM14 10h1v1h-1z"/>
<path fill="#e1e1e1" d="M6 15h1v1h-1zM8 6h1v1h-1zM11 17h1v1h-1zM12 7h1v1h-1z"/>
<path fill="#dcdcdc" d="M5 12h1v1h-1zM5 10h1v1h-1zM7 7h1v1h-1zM9 17h1v1h-1zM9 7h1v1h-1zM10 6h1v1h-1z"/>
<path fill="#d7d7d7" d="M5 11h1v1h-1zM6 9h1v1h-1zM7 16h1v1h-1zM12 16h1v1h-1zM13 15h1v1h-1zM13 9h1v1h-1zM13 8h1v1h-1zM14 13h1v1h-1zM14 12h1v1h-1z"/>
<path fill="#d2d2d2" d="M10 7h1v1h-1zM12 8h1v1h-1zM13 11h1v1h-1z"/>
<path fill="#cdcdcd" d="M6 13h1v1h-1zM7 8h1v1h-1zM8 16h1v1h-1zM8 7h1v1h-1zM11 16h1v1h-1zM11 7h1v1h-1zM13 10h1v1h-1z"/>
<path fill="#c8c8c8" d="M6 14h1v1h-1zM6 10h1v1h-1zM13 14h1v1h-1z"/>
<path fill="#c3c3c3" d="M7 15h1v1h-1z"/>
<path fill="#bebebe" d="M6 12h1v1h-1zM6 11h1v1h-1zM8 8h1v1h-1zM9 16h1v1h-1zM12 9h1v1h-1zM13 12h1v1h-1z"/>
<path fill="#b9b9b9" d="M10 16h1v1h-1zM11 8h1v1h-1zM12 12h1v1h-1z"/>
<path fill="#b4b4b4" d="M7 13h1v1h-1zM9 8h1v1h-1zM11 15h1v1h-1zM12 15h1v1h-1zM12 14h1v1h-1zM13 13h1v1h-1z"/>
<path fill="#afafaf" d="M7 9h1v1h-1z"/>
<path fill="#aaaaaa" d="M7 14h1v1h-1zM7 12h1v1h-1zM7 11h1v1h-1zM9 15h1v1h-1zM12 10h1v1h-1z"/>
<path fill="#a5a5a5" d="M10 8h1v1h-1z"/>
<path fill="#9b9b9b" d="M7 10h1v1h-1zM10 9h1v1h-1zM12 11h1v1h-1z"/>
<path fill="#969696" d="M9 9h1v1h-1z"/>
<path fill="#919191" d="M11 14h1v1h-1zM11 9h1v1h-1z"/>
<path fill="#8c8c8c" d="M8 15h1v1h-1zM8 9h1v1h-1zM10 15h1v1h-1zM12 13h1v1h-1z"/>
<path fill="#878787" d="M8 14h1v1h-1zM8 10h1v1h-1z"/>
<path fill="#737373" d="M11 13h1v1h-1z"/>
<path fill="#6e6e6e" d="M8 12h1v1h-1zM9 14h1v1h-1z"/>
<path fill="#646464" d="M11 11h1v1h-1z"/>
<path fill="#5f5f5f" d="M8 13h1v1h-1zM9 10h1v1h-1zM10 14h1v1h-1z"/>
<path fill="#505050" d="M10 10h1v1h-1zM11 10h1v1h-1z"/>
<path fill="#464646" d="M8 11h1v1h-1z"/>
<path fill="#414141" d="M11 12h1v1h-1z"/>
<path fill="#323232" d="M10 12h1v1h-1zM10 11h1v1h-1z"/>
<path fill="#2d2d2d" d="M10 13h1v1h-1z"/>
<path fill="#191919" d="M9 12h1v1h-1zM9 11h1v1h-1z"/>
<path fill="#000000" d="M9 13h1v1h-1z"/>
</g>
<path class="ct" d="M113.4 836L118.9 836.8L125.4 837.2L132 836.1L138.5 837.1L143 836L143 829.4L145 826.6L147.7 822.9L151.5 819.9L155.8 816.4L158 815.4L164.5 810.6L165 809.9L167.6 803.4L168.2 796.9L168 790.4L170.5 783.9L168.1 777.4L169.4 770.9L165.1 764.4L164.5 763.5L163.3 757.9L159.6 751.4L158 748.1L157 744.9L155.1 738.4L151.5 735.2L146.3 738.4L145 739.4L143.7 738.4L138.5 733.1L132 732.3L130.9 731.9L125.4 730.8L118.9 730.1L117.5 731.9L112.4 737.8L111.3 738.4L105.9 741.6L99.4 744.5L99.1 744.9L99 751.4L92.9 757.4L92.6 757.9L92.9 764.4L92.9 764.4L92.9 764.4L88.9 770.9L86.4 777.4L87.8 783.9L86.4 789.5L86.1 790.4L86.4 790.9L90.2 796.9L92 803.4L92.9 806.7L93.5 809.9L99.4 813.7L103.2 816.4L105.9 820.9L109.5 822.9L112.4 828.1L113.4 829.4ZM121.5 816.4L125.4 820.5L132 817.7L138.5 818L140.7 816.4L145 813.4L150.1 809.9L151.5 808.4L154.7 803.4L156.9 796.9L158 795.2L160.3 790.4L161.2 783.9L158.2 777.4L158 770.9L158 770.9L155.7 764.4L154.8 757.9L151.5 755.4L146 751.4L145 750L138.5 745.3L137.6 744.9L132 743.1L127.7 744.9L125.4 747L120.9 744.9L118.9 744.1L118.4 744.9L112.4 749.4L109.3 751.4L107.8 757.9L105.9 760.4L103.2 764.4L99.4 769L97.9 770.9L96.9 777.4L96.8 783.9L99.4 787.6L101.2 790.4L100 796.9L103.9 803.4L105.9 806.2L108 809.9L112.4 813.4L118.9 814.9ZM114.6 803.4L118.9 807.2L125.4 806.7L132 808.8L138.1 803.4L138.5 803L145 803.4L145.3 796.9L151.3 790.4L145 784.9L144.5 783.9L145 782.7L147.6 777.4L146.9 770.9L145 767.5L143.2 764.4L138.5 758.5L137.4 757.9L132 755.7L125.4 757.8L124.9 757.9L118.9 759.6L112.4 763.7L112 764.4L109.3 770.9L109.2 777.4L108.9 783.9L112.4 789.9L112.5 790.4L112.4 791L110.5 796.9L112.4 799.3ZM119.8 790.4L125.4 795L132 795.1L135.2 790.4L138.5 785.9L139.1 783.9L138.5 781L136 777.4L132 770.9L125.4 772.3L118.9 776.3L118.2 777.4L118.9 779.3L121.3 783.9Z"/>
</g>
<g clip-path="url(#c51)">
<path class="pt" transform="translate(200.25 702.6) scale(.5)" d="m0 58h0m1 107h0m0 85h0m1-100h0m1 47h0m0 0h0m0 21h0m1-109h0m0 15h0m0 96h0m1-41h0m2-73h0m1 65h0m1-28h0m1-19h0m0 7h0m0 45h0m0 30h0m2-75h0m0 59h0m1-69h0m0 70h0m1-101h0m0 79h0m1-96h0m0 36h0m0 26h0m0 9h0m0 17h0m1-91h0m0 57h0m0 16h0m0 31h0m1-57h0m0 1h0m0 6h0m0 18h0m1-52h0m0 2h0m0 26h0m0 16h0m0 34h0m0 17h0m0 2h0m0 2h0m0 29h0m1-150h0m0 37h0m1 48h0m0 16h0m0 8h0m1-72h0m0 19h0m1-25h0m0 95h0m0 7h0m1-139h0m0 107h0m1-85h0m0 61h0m0 12h0m0 7h0m1-4h0m1-18h0m0 6h0m0 20h0m0 20h0m0 11h0m0 29h0m0 12h0m1-112h0m0 7h0m0 5h0m0 5h0m0 1h0m0 47h0m0 24h0m0 4h0m0 10h0m0 16h0m1-109h0m0 11h0m1-70h0m0 53h0m0 11h0m0 11h0m0 29h0m0 22h0m0 10h0m1-109h0m0 18h0m0 23h0m0 2h0m0 24h0m0 3h0m0 43h0m0 27h0m1-172h0m0 9h0m0 48h0m0 10h0m0 10h0m0 20h0m0 5h0m0 0h0m0 43h0m0 11h0m1-158h0m0 12h0m0 32h0m0 60h0m0 3h0m0 10h0m0 19h0m1-139h0m0 1h0m0 50h0m0 15h0m0 8h0m0 14h0m0 6h0m0 1h0m0 36h0m0 11h0m0 4h0m0 17h0m1-191h0m0 56h0m0 24h0m0 11h0m0 10h0m0 2h0m0 31h0m1-66h0m0 8h0m0 4h0m0 0h0m0 9h0m0 6h0m0 6h0m0 2h0m0 4h0m0 25h0m0 4h0m0 24h0m0 32h0m0 6h0m1-117h0m0 8h0m0 3h0m0 53h0m0 28h0m0 20h0m1-199h0m0 53h0m0 9h0m0 45h0m0 1h0m1-53h0m0 26h0m0 2h0m0 44h0m0 4h0m0 9h0m0 11h0m0 3h0m0 17h0m0 17h0m0 14h0m1-196h0m0 56h0m0 32h0m0 24h0m0 24h0m0 23h0m0 22h0m1-188h0m0 21h0m0 43h0m0 38h0m0 3h0m0 14h0m0 1h0m0 5h0m0 0h0m0 5h0m0 18h0m0 2h0m1-126h0m0 11h0m0 6h0m0 61h0m0 1h0m0 3h0m0 5h0m0 5h0m0 2h0m0 9h0m0 4h0m0 12h0m0 21h0m0 3h0m0 1h0m0 2h0m0 2h0m0 8h0m0 2h0m1-134h0m0 3h0m0 22h0m0 9h0m0 13h0m0 1h0m0 9h0m0 4h0m0 5h0m0 11h0m0 4h0m0 3h0m0 2h0m0 7h0m0 12h0m0 3h0m0 13h0m1-149h0m0 6h0m0 9h0m0 7h0m0 5h0m0 11h0m0 3h0m0 18h0m0 11h0m0 0h0m0 22h0m0 1h0m0 16h0m0 15h0m0 69h0m0 13h0m1-131h0m0 30h0m0 29h0m0 13h0m0 19h0m1-107h0m0 20h0m0 11h0m0 22h0m0 4h0m0 4h0m0 16h0m0 4h0m0 9h0m0 8h0m0 5h0m0 11h0m0 6h0m0 18h0m1-146h0m0 3h0m0 17h0m0 13h0m0 12h0m0 15h0m0 6h0m0 2h0m0 24h0m0 9h0m0 11h0m0 17h0m0 2h0m1-158h0m0 1h0m0 0h0m0 3h0m0 19h0m0 18h0m0 1h0m0 22h0m0 5h0m0 1h0m0 2h0m0 28h0m0 20h0m1-127h0m0 22h0m0 12h0m0 2h0m0 23h0m0 36h0m0 5h0m0 10h0m0 11h0m0 2h0m0 26h0m0 4h0m0 17h0m1-174h0m0 35h0m0 0h0m0 18h0m0 31h0m0 2h0m0 13h0m0 3h0m0 10h0m0 10h0m0 29h0m0 13h0m0 12h0m0 3h0m1-136h0m0 1h0m0 17h0m0 9h0m0 5h0m0 5h0m0 7h0m0 3h0m0 19h0m0 1h0m0 1h0m0 30h0m0 6h0m0 26h0m1-195h0m0 75h0m0 2h0m0 31h0m0 13h0m0 2h0m0 1h0m0 31h0m0 11h0m0 7h0m1-138h0m0 49h0m0 4h0m0 4h0m0 5h0m0 3h0m0 22h0m0 1h0m0 1h0m0 4h0m0 10h0m0 4h0m0 26h0m0 3h0m0 29h0m1-192h0m0 14h0m0 3h0m0 30h0m0 7h0m0 5h0m0 9h0m0 12h0m0 2h0m0 3h0m0 8h0m0 2h0m0 27h0m0 12h0m0 4h0m0 8h0m0 1h0m0 4h0m0 25h0m0 5h0m1-199h0m0 21h0m0 26h0m0 22h0m0 12h0m0 5h0m0 1h0m0 2h0m0 2h0m0 2h0m0 1h0m0 3h0m0 2h0m0 9h0m0 4h0m0 25h0m0 6h0m0 11h0m0 13h0m0 6h0m0 19h0m0 31h0m1-210h0m0 45h0m0 18h0m0 4h0m0 4h0m0 10h0m0 1h0m0 15h0m0 36h0m0 0h0m0 4h0m0 1h0m0 2h0m0 3h0m0 9h0m0 3h0m0 18h0m0 8h0m0 3h0m0 11h0m1-203h0m0 48h0m0 18h0m0 7h0m0 3h0m0 13h0m0 2h0m0 10h0m0 1h0m0 40h0m0 30h0m0 4h0m0 9h0m0 13h0m0 16h0m1-242h0m0 49h0m0 22h0m0 16h0m0 11h0m0 9h0m0 9h0m0 10h0m0 41h0m0 0h0m0 2h0m0 67h0m1-179h0m0 24h0m0 2h0m0 11h0m0 3h0m0 0h0m0 16h0m0 0h0m0 1h0m0 5h0m0 2h0m0 76h0m0 8h0m0 7h0m0 4h0m0 17h0m0 0h0m1-194h0m0 10h0m0 19h0m0 3h0m0 3h0m0 2h0m0 4h0m0 7h0m0 17h0m0 7h0m0 8h0m0 78h0m0 9h0m0 1h0m0 1h0m0 11h0m0 14h0m1-192h0m0 68h0m0 6h0m0 4h0m0 128h0m1-181h0m0 1h0m0 33h0m0 5h0m0 5h0m0 6h0m0 83h0m0 2h0m0 40h0m1-196h0m0 10h0m0 7h0m0 9h0m0 6h0m0 139h0m0 2h0m0 3h0m0 4h0m0 19h0m1-228h0m0 12h0m0 39h0m0 14h0m0 4h0m0 18h0m0 102h0m0 4h0m0 9h0m0 8h0m0 17h0m1-157h0m0 14h0m0 1h0m0 107h0m0 25h0m1-175h0m0 4h0m0 16h0m0 6h0m0 11h0m0 109h0m0 21h0m0 8h0m1-202h0m0 12h0m0 32h0m0 11h0m0 122h0m0 0h0m0 4h0m0 27h0m1-186h0m0 5h0m0 12h0m0 4h0m0 3h0m0 3h0m0 130h0m0 2h0m0 20h0m0 0h0m0 12h0m1-230h0m0 17h0m0 16h0m0 12h0m0 13h0m0 0h0m0 17h0m0 118h0m0 2h0m0 6h0m0 1h0m0 6h0m0 8h0m0 7h0m1-143h0m0 114h0m0 17h0m0 11h0m1-209h0m0 3h0m0 18h0m0 5h0m0 23h0m0 2h0m0 0h0m0 4h0m0 1h0m0 5h0m0 139h0m0 16h0m1-224h0m0 26h0m0 2h0m0 17h0m0 2h0m0 25h0m0 120h0m0 14h0m0 9h0m0 9h0m0 1h0m1-189h0m0 5h0m0 3h0m0 8h0m0 7h0m0 1h0m0 9h0m0 139h0m0 0h0m0 5h0m1-156h0m0 13h0m0 122h0m0 1h0m0 25h0m1-185h0m0 6h0m0 11h0m0 144h0m0 2h0m0 2h0m0 6h0m0 5h0m1-197h0m0 29h0m0 5h0m0 2h0m0 5h0m0 3h0m0 173h0m1-214h0m0 33h0m0 1h0m0 1h0m0 9h0m0 2h0m0 137h0m0 12h0m0 2h0m0 10h0m1-188h0m0 6h0m0 12h0m0 4h0m0 3h0m0 7h0m0 143h0m0 18h0m1-211h0m0 15h0m0 31h0m0 141h0m0 8h0m0 1h0m0 13h0m0 1h0m1-201h0m0 11h0m0 7h0m0 2h0m0 4h0m0 146h0m0 3h0m0 2h0m0 0h0m0 4h0m0 20h0m0 3h0m1-219h0m0 11h0m0 17h0m0 13h0m0 1h0m0 0h0m0 2h0m0 146h0m0 5h0m0 14h0m0 2h0m1-187h0m0 1h0m0 169h0m0 1h0m0 1h0m0 8h0m0 1h0m0 3h0m0 4h0m0 9h0m1-193h0m0 170h0m0 20h0m0 2h0m1-211h0m0 16h0m0 1h0m0 10h0m0 1h0m0 4h0m0 150h0m0 13h0m0 8h0m0 7h0m1-247h0m0 20h0m0 42h0m0 1h0m0 159h0m0 2h0m0 3h0m0 3h0m0 2h0m0 8h0m0 5h0m1-195h0m0 11h0m0 161h0m0 12h0m1-194h0m0 1h0m0 13h0m0 3h0m0 0h0m0 4h0m0 4h0m0 162h0m0 11h0m1-224h0m0 27h0m0 6h0m0 9h0m0 6h0m0 2h0m0 3h0m0 0h0m0 155h0m0 3h0m0 11h0m0 4h0m1-218h0m0 33h0m0 2h0m0 10h0m0 181h0m1-199h0m0 2h0m0 9h0m0 170h0m0 3h0m0 13h0m0 1h0m1-220h0m0 15h0m0 25h0m0 160h0m0 7h0m0 7h0m1-205h0m0 8h0m0 19h0m0 2h0m0 3h0m0 167h0m0 6h0m0 4h0m0 1h0m1-217h0m0 14h0m0 19h0m0 3h0m0 169h0m0 7h0m0 1h0m0 5h0m0 0h0m1-216h0m0 12h0m0 0h0m0 3h0m0 2h0m0 1h0m0 1h0m0 8h0m0 1h0m0 5h0m0 0h0m1-49h0m0 31h0m0 6h0m0 6h0m0 0h0m0 7h0m0 169h0m0 3h0m0 11h0m1-220h0m0 12h0m0 10h0m0 1h0m0 13h0m0 167h0m0 7h0m1-222h0m0 13h0m0 13h0m0 196h0m0 9h0m0 2h0m1-217h0m0 7h0m0 7h0m0 11h0m0 2h0m0 183h0m1-250h0m0 58h0m0 14h0m1-66h0m0 21h0m0 31h0m0 190h0m1-185h0m0 4h0m0 4h0m0 1h0m0 177h0m0 3h0m1-201h0m0 13h0m0 7h0m0 174h0m0 11h0m1-232h0m0 15h0m1-12h0m0 10h0m0 220h0m1-200h0m0 194h0m1-239h0m0 49h0m0 2h0m0 1h0m1-52h0m0 50h0m0 1h0m0 0h0m0 1h0m0 189h0m0 2h0m1-232h0m0 7h0m0 17h0m1-24h0m0 27h0m0 1h0m0 3h0m1-39h0m0 7h0m0 32h0m0 0h0m0 0h0m0 7h0m1-36h0m0 7h0m0 15h0m1-45h0m0 10h0m0 38h0m0 7h0m0 3h0m1-50h0m0 33h0m1-2h0m0 2h0m0 16h0m1-55h0m0 36h0m1 2h0m0 16h0m1-28h0m0 19h0m0 9h0m1-5h0m0 2h0m0 3h0m1-18h0m0 14h0m2-40h0m0 12h0m0 8h0m0 16h0m1-20h0m0 7h0m0 22h0m1-3h0m0 1h0m0 2h0m1-45h0m0 4h0m0 37h0m1-16h0m0 10h0m0 1h0m0 4h0m1-31h0m0 11h0m1 7h0m0 2h0m1-35h0m0 9h0m0 23h0m0 6h0m0 2h0m0 1h0m0 1h0m0 1h0m1-3h0m1-49h0m0 51h0m0 5h0m1-19h0m0 12h0m0 1h0m0 6h0m0 3h0m1-7h0m0 1h0m0 0h0m0 1h0m1-26h0m0 23h0m0 7h0m1-37h0m0 10h0m0 21h0m0 1h0m1-1h0m1-35h0m0 22h0m0 3h0m0 9h0m1-34h0m0 23h0m0 6h0m0 2h0m0 2h0m1-1h0m0 2h0m1-11h0m0 7h0m0 5h0m1 2h0m1-22h0m0 6h0m0 8h0m1-26h0m0 28h0m1-41h0m0 36h0m1-26h0m0 4h0m0 6h0m0 1h0m0 25h0m0 2h0m1-20h0m0 18h0m1-51h0m0 33h0m0 217h0m0 1h0m0 1h0m1-242h0m0 11h0m0 21h0m0 209h0m0 3h0m0 1h0m0 0h0m1-231h0m0 1h0m0 224h0m0 3h0m0 2h0m1-219h0m0 2h0m0 5h0m0 213h0m1-241h0m0 11h0m0 13h0m0 2h0m0 4h0m0 1h0m0 2h0m0 203h0m1-215h0m1-9h0m0 6h0m0 1h0m0 2h0m0 0h0m0 5h0m0 2h0m0 1h0m0 9h0m1-50h0m0 9h0m0 33h0m0 7h0m0 3h0m0 196h0m0 0h0m0 1h0m1-235h0m0 8h0m0 24h0m1-3h0m0 4h0m1-38h0m0 16h0m0 9h0m0 11h0m1-43h0m0 13h0m0 4h0m0 10h0m0 4h0m0 9h0m1-23h0m0 16h0m0 0h0m0 14h0m0 2h0m0 1h0m0 0h0m1-40h0m1 41h0m1-14h0m0 8h0m0 1h0m1-27h0m0 22h0m0 13h0m1-25h0m0 19h0m1-20h0m0 24h0m1-39h0m0 41h0m1-42h0m0 35h0m0 6h0m1-34h0m0 27h0m0 1h0m0 2h0m1-20h0m0 11h0m0 14h0m0 3h0m0 1h0m1-26h0m0 24h0m0 2h0m1-35h0m0 9h0m1 4h0m0 13h0m0 0h0m0 8h0m0 2h0m1-13h0m0 6h0m1-54h0m0 46h0m0 192h0m1-218h0m0 216h0m0 10h0m0 2h0m1-207h0m0 195h0m0 4h0m0 3h0m0 10h0m1-254h0m0 37h0m0 20h0m0 185h0m0 2h0m0 2h0m0 1h0m0 3h0m0 1h0m1-252h0m0 38h0m0 8h0m0 6h0m0 8h0m0 1h0m0 3h0m0 177h0m0 0h0m0 5h0m0 3h0m0 0h0m0 2h0m0 1h0m1-211h0m0 10h0m0 5h0m0 0h0m0 4h0m0 175h0m0 1h0m0 11h0m0 1h0m1-250h0m0 26h0m0 31h0m0 8h0m0 1h0m0 1h0m0 168h0m0 6h0m0 1h0m0 16h0m1-245h0m0 35h0m0 8h0m0 4h0m0 8h0m0 165h0m0 21h0m1-223h0m0 9h0m0 22h0m0 2h0m0 177h0m0 6h0m0 10h0m1-204h0m0 9h0m0 2h0m0 4h0m0 1h0m0 1h0m0 3h0m0 159h0m0 3h0m0 10h0m0 7h0m1-222h0m0 33h0m0 2h0m0 1h0m0 5h0m0 3h0m0 156h0m0 7h0m0 5h0m0 2h0m0 11h0m1-237h0m0 6h0m0 33h0m0 2h0m0 183h0m0 3h0m1-185h0m0 8h0m0 165h0m0 0h0m0 19h0m1-206h0m0 21h0m0 2h0m0 11h0m0 149h0m0 8h0m0 10h0m1-223h0m0 20h0m0 23h0m0 7h0m0 3h0m0 1h0m0 149h0m1-207h0m0 17h0m0 19h0m0 24h0m0 2h0m0 148h0m0 14h0m0 3h0m0 4h0m1-196h0m0 7h0m0 3h0m0 5h0m0 2h0m0 1h0m0 3h0m0 0h0m0 3h0m0 150h0m0 0h0m0 4h0m0 7h0m0 15h0m1-204h0m0 3h0m0 6h0m0 3h0m0 1h0m0 164h0m0 15h0m0 0h0m0 11h0m1-221h0m0 46h0m0 6h0m0 141h0m0 5h0m0 11h0m1-212h0m0 9h0m0 20h0m0 5h0m0 15h0m0 6h0m0 139h0m0 6h0m0 1h0m0 8h0m0 5h0m1-198h0m0 26h0m0 1h0m0 4h0m0 2h0m0 161h0m0 5h0m0 0h0m1-201h0m0 32h0m0 4h0m0 1h0m0 2h0m0 139h0m0 1h0m0 5h0m0 11h0m0 3h0m0 0h0m0 1h0m0 5h0m0 1h0m0 2h0m0 2h0m1-198h0m0 15h0m0 6h0m0 0h0m0 145h0m0 3h0m0 0h0m0 5h0m0 11h0m1-177h0m0 0h0m0 1h0m0 3h0m0 14h0m0 146h0m0 11h0m0 2h0m1-187h0m0 22h0m0 3h0m0 149h0m0 21h0m1-208h0m0 9h0m0 21h0m0 1h0m0 8h0m0 2h0m0 146h0m0 9h0m0 4h0m0 12h0m1-217h0m0 40h0m0 5h0m0 139h0m0 4h0m0 19h0m1-182h0m0 25h0m0 0h0m0 138h0m1-162h0m0 8h0m0 4h0m0 7h0m0 10h0m0 129h0m0 7h0m0 31h0m0 1h0m1-212h0m0 37h0m0 0h0m0 139h0m0 4h0m0 3h0m0 0h0m0 12h0m0 2h0m1-235h0m0 48h0m0 25h0m0 3h0m0 0h0m0 0h0m0 2h0m0 2h0m0 2h0m0 2h0m0 125h0m0 6h0m0 4h0m0 10h0m0 16h0m0 2h0m1-223h0m0 21h0m0 26h0m0 0h0m0 6h0m0 1h0m0 136h0m0 15h0m0 20h0m1-196h0m0 15h0m0 1h0m0 4h0m0 3h0m0 7h0m0 0h0m0 125h0m0 12h0m0 4h0m0 2h0m0 9h0m1-194h0m0 5h0m0 18h0m0 3h0m0 11h0m0 3h0m0 2h0m0 1h0m0 9h0m0 1h0m0 115h0m0 4h0m0 4h0m0 17h0m1-169h0m0 6h0m0 6h0m0 13h0m0 7h0m0 104h0m0 1h0m0 9h0m0 1h0m0 2h0m0 5h0m0 3h0m0 9h0m0 5h0m1-182h0m0 28h0m0 0h0m0 12h0m0 3h0m0 100h0m0 7h0m0 1h0m0 21h0m0 4h0m1-184h0m0 3h0m0 5h0m0 27h0m0 2h0m0 8h0m0 7h0m0 1h0m0 97h0m0 19h0m1-157h0m0 28h0m0 1h0m0 8h0m0 4h0m0 8h0m0 85h0m0 5h0m0 0h0m0 21h0m1-142h0m0 141h0m1-144h0m0 22h0m0 9h0m0 1h0m0 4h0m0 87h0m0 16h0m0 1h0m0 18h0m0 0h0m1-202h0m0 40h0m0 17h0m0 3h0m0 8h0m0 12h0m0 86h0m0 1h0m0 5h0m0 36h0m1-213h0m0 12h0m0 37h0m0 10h0m0 2h0m0 11h0m0 1h0m0 3h0m0 16h0m0 51h0m0 24h0m0 1h0m0 11h0m0 12h0m0 9h0m0 12h0m0 9h0m1-176h0m0 22h0m0 7h0m0 19h0m0 4h0m0 2h0m0 39h0m0 3h0m0 3h0m0 20h0m0 8h0m0 7h0m0 8h0m0 5h0m0 2h0m0 20h0m1-213h0m0 25h0m0 44h0m0 1h0m0 11h0m0 2h0m0 0h0m0 0h0m0 20h0m0 1h0m0 32h0m0 4h0m0 5h0m0 1h0m0 24h0m0 5h0m0 1h0m0 4h0m0 3h0m0 10h0m0 17h0m1-153h0m0 26h0m0 7h0m0 4h0m0 37h0m0 9h0m0 4h0m0 1h0m0 20h0m0 20h0m0 8h0m1-132h0m0 6h0m0 10h0m0 4h0m0 15h0m0 4h0m0 4h0m0 5h0m0 31h0m0 9h0m0 21h0m0 0h0m0 7h0m0 1h0m0 2h0m0 13h0m1-179h0m0 7h0m0 22h0m0 15h0m0 2h0m0 1h0m0 4h0m0 7h0m0 2h0m0 12h0m0 15h0m0 7h0m0 1h0m0 2h0m0 12h0m0 3h0m0 2h0m0 1h0m0 4h0m0 25h0m0 0h0m0 5h0m0 4h0m0 1h0m0 2h0m0 31h0m1-144h0m0 3h0m0 12h0m0 2h0m0 7h0m0 2h0m0 6h0m0 1h0m0 2h0m0 18h0m0 1h0m0 2h0m0 7h0m0 1h0m0 0h0m0 1h0m0 2h0m0 4h0m0 1h0m0 5h0m0 17h0m0 27h0m0 31h0m1-179h0m0 13h0m0 31h0m0 2h0m0 10h0m0 0h0m0 3h0m0 1h0m0 2h0m0 12h0m0 7h0m0 8h0m0 24h0m0 2h0m0 3h0m0 3h0m0 2h0m0 5h0m0 14h0m0 21h0m1-208h0m0 87h0m0 9h0m0 6h0m0 6h0m0 2h0m0 2h0m0 2h0m0 5h0m0 0h0m0 0h0m0 1h0m0 3h0m0 8h0m0 4h0m0 1h0m0 19h0m0 6h0m0 8h0m0 1h0m0 0h0m0 2h0m0 43h0m0 21h0m1-174h0m0 5h0m0 23h0m0 8h0m0 4h0m0 6h0m0 28h0m0 14h0m0 3h0m0 6h0m0 8h0m0 5h0m0 0h0m0 54h0m1-139h0m0 3h0m0 5h0m0 29h0m0 7h0m0 1h0m0 50h0m0 27h0m1-139h0m0 29h0m0 25h0m0 4h0m0 2h0m0 8h0m0 1h0m0 2h0m0 3h0m0 24h0m0 4h0m0 8h0m0 1h0m0 7h0m0 13h0m0 4h0m0 24h0m1-167h0m0 3h0m0 13h0m0 7h0m0 16h0m0 17h0m0 7h0m0 11h0m0 5h0m0 8h0m0 24h0m0 2h0m0 56h0m0 8h0m1-221h0m0 37h0m0 8h0m0 31h0m0 1h0m0 69h0m0 24h0m0 12h0m0 30h0m1-164h0m0 20h0m0 10h0m0 17h0m0 14h0m0 13h0m0 20h0m0 19h0m0 33h0m0 5h0m1-223h0m0 53h0m0 22h0m0 5h0m0 8h0m0 9h0m0 0h0m0 2h0m0 50h0m0 11h0m0 7h0m0 17h0m0 15h0m0 13h0m1-130h0m0 17h0m0 9h0m0 1h0m0 9h0m0 6h0m0 22h0m0 3h0m0 30h0m0 10h0m1-139h0m0 25h0m0 31h0m0 8h0m0 10h0m0 26h0m0 3h0m0 5h0m0 20h0m0 38h0m0 29h0m1-195h0m0 10h0m0 5h0m0 26h0m0 29h0m0 2h0m0 1h0m0 2h0m0 31h0m0 7h0m0 17h0m0 10h0m0 47h0m1-189h0m0 16h0m0 59h0m0 19h0m0 3h0m0 2h0m0 32h0m0 20h0m1-90h0m0 27h0m0 4h0m0 0h0m0 1h0m0 14h0m0 10h0m0 6h0m0 11h0m0 4h0m0 10h0m0 13h0m0 16h0m1-150h0m0 35h0m0 4h0m0 17h0m0 21h0m0 12h0m0 8h0m0 59h0m0 3h0m1-216h0m0 71h0m0 32h0m0 28h0m0 9h0m0 6h0m0 12h0m0 18h0m1-69h0m0 23h0m0 12h0m0 7h0m0 8h0m0 54h0m1-152h0m0 34h0m0 41h0m0 64h0m1-114h0m0 7h0m0 24h0m0 19h0m0 36h0m1-39h0m0 1h0m0 4h0m0 36h0m0 7h0m1-153h0m0 27h0m0 65h0m0 10h0m0 23h0m0 2h0m0 2h0m0 14h0m0 8h0m0 51h0m1-215h0m0 50h0m0 45h0m0 1h0m0 15h0m0 10h0m0 7h0m0 10h0m0 19h0m0 53h0m1-220h0m0 69h0m0 63h0m0 19h0m0 1h0m0 22h0m1-76h0m0 55h0m1-107h0m0 20h0m0 27h0m0 25h0m0 9h0m0 18h0m0 2h0m0 7h0m0 16h0m1-98h0m0 0h0m0 25h0m0 47h0m1-84h0m0 16h0m0 20h0m0 7h0m0 0h0m0 11h0m0 6h0m0 15h0m0 13h0m0 18h0m0 26h0m1-107h0m0 12h0m0 9h0m0 25h0m0 34h0m1-142h0m0 64h0m0 91h0m1-47h0m1-69h0m0 47h0m0 23h0m0 15h0m0 30h0m1 19h0m0 15h0m1-104h0m0 43h0m1-57h0m0 42h0m0 5h0m0 22h0m1-177h0m0 52h0m0 16h0m0 127h0m0 1h0m1-107h0m1 64h0m0 24h0m0 2h0m0 19h0m1-42h0m0 4h0m0 41h0m1-119h0m0 30h0m0 49h0m0 32h0m1-80h0m0 92h0m1-132h0m0 34h0m0 17h0m0 83h0"/>
<path fill="#fff" fill-rule="evenodd" d="M253.4 836L255.5 836.7L262 836L262 829.4L262 829.4L262 829.4L262 836L268.6 836.5L272.3 836L272.3 829.4L275.1 828.8L276.8 829.4L276.8 836L281.6 837L286.3 836L286.3 829.4L286.1 822.9L288.1 821L292.9 816.4L294.6 814.8L301.1 811.6L302.5 809.9L304.5 803.4L307.6 800.3L310.1 796.9L307.6 792.7L306.4 790.4L307.6 786.3L309.3 783.9L309.3 777.4L307.6 771.6L307.2 770.9L306.8 764.4L302.7 757.9L302.1 751.4L301.1 749.2L294.6 746.3L292.5 744.9L289.9 738.4L288.1 737.2L281.6 735.6L276.3 731.9L275.1 730.1L271.3 731.9L268.6 733L262 733.4L255.5 735.1L251.5 738.4L249 742L242.5 742L239.3 744.9L239.4 751.4L236 755.6L232.9 757.9L231.2 764.4L229.5 770.9L229.5 770.9L226.9 777.4L224.9 783.9L229.5 790.4L229.5 790.4L229.5 790.4L229.3 796.9L227.9 803.4L229.5 805.9L232.2 809.9L236 813.5L241.6 816.4L242.5 817.6L247.3 822.9L249 824.9L253.4 829.4L253.4 836Z"/>
<g transform="translate(200.25 702.6) scale(6.5050)" shape-rendering="crispEdges">
<path fill="#fafafa" d="M3 12h1v1h-1zM4 14h1v1h-1zM4 13h1v1h-1zM4 10h1v1h-1zM4 9h1v1h-1zM4 8h1v1h-1zM5 6h1v1h-1zM6 18h1v1h-1zM6 5h1v1h-1zM7 19h1v1h-1zM7 5h1v1h-1zM9 19h1v1h-1zM9 4h1v1h-1zM10 4h1v1h-1zM11 19h1v1h-1zM11 3h1v1h-1zM13 19h1v1h-1zM13 18h1v1h-1zM14 18h1v1h-1zM14 17h1v1h-1zM14 6h1v1h-1zM14 5h1v1h-1zM15 17h1v1h-1zM15 6h1v1h-1zM16 15h1v1h-1zM16 13h1v1h-1zM16 10h1v1h-1zM16 9h1v1h-1zM16 8h1v1h-1zM17 12h1v1h-1z"/>
<path fill="#f5f5f5" d="M4 15h1v1h-1zM4 11h1v1h-1zM5 15h1v1h-1zM5 8h1v1h-1zM6 17h1v1h-1zM6 6h1v1h-1zM7 18h1v1h-1zM7 17h1v1h-1zM7 6h1v1h-1zM8 19h1v1h-1zM8 18h1v1h-1zM10 19h1v1h-1zM11 4h1v1h-1zM12 19h1v1h-1zM12 5h1v1h-1zM13 5h1v1h-1zM15 16h1v1h-1zM15 15h1v1h-1zM15 8h1v1h-1zM15 7h1v1h-1zM16 14h1v1h-1zM16 12h1v1h-1zM16 11h1v1h-1z"/>
<path fill="#f0f0f0" d="M4 12h1v1h-1zM5 16h1v1h-1zM5 13h1v1h-1zM5 11h1v1h-1zM5 9h1v1h-1zM6 8h1v1h-1zM6 7h1v1h-1zM8 6h1v1h-1zM8 5h1v1h-1zM10 5h1v1h-1zM12 18h1v1h-1zM13 17h1v1h-1zM13 6h1v1h-1zM14 16h1v1h-1zM15 10h1v1h-1zM15 9h1v1h-1z"/>
<path fill="#ebebeb" d="M5 14h1v1h-1zM5 10h1v1h-1zM9 18h1v1h-1zM9 5h1v1h-1zM10 18h1v1h-1zM10 6h1v1h-1zM11 18h1v1h-1zM14 8h1v1h-1zM14 7h1v1h-1zM15 13h1v1h-1zM15 12h1v1h-1z"/>
<path fill="#e6e6e6" d="M5 12h1v1h-1zM7 7h1v1h-1zM8 17h1v1h-1zM9 6h1v1h-1zM11 5h1v1h-1zM12 17h1v1h-1zM12 6h1v1h-1zM14 15h1v1h-1zM14 9h1v1h-1zM15 14h1v1h-1z"/>
<path fill="#e1e1e1" d="M6 16h1v1h-1zM8 7h1v1h-1zM9 17h1v1h-1zM11 17h1v1h-1zM13 7h1v1h-1zM14 14h1v1h-1z"/>
<path fill="#dcdcdc" d="M6 15h1v1h-1zM7 16h1v1h-1zM13 16h1v1h-1zM14 11h1v1h-1zM14 10h1v1h-1zM15 11h1v1h-1z"/>
<path fill="#d7d7d7" d="M6 12h1v1h-1zM6 9h1v1h-1zM11 6h1v1h-1zM12 7h1v1h-1zM13 8h1v1h-1z"/>
<path fill="#d2d2d2" d="M6 14h1v1h-1zM6 13h1v1h-1zM7 9h1v1h-1zM10 17h1v1h-1zM11 7h1v1h-1z"/>
<path fill="#cdcdcd" d="M6 11h1v1h-1zM10 7h1v1h-1zM14 13h1v1h-1z"/>
<path fill="#c8c8c8" d="M6 10h1v1h-1zM7 14h1v1h-1zM8 16h1v1h-1zM9 16h1v1h-1zM13 15h1v1h-1z"/>
<path fill="#c3c3c3" d="M9 7h1v1h-1z"/>
<path fill="#bebebe" d="M8 8h1v1h-1zM12 16h1v1h-1zM14 12h1v1h-1z"/>
<path fill="#b9b9b9" d="M7 10h1v1h-1zM8 15h1v1h-1zM10 16h1v1h-1zM11 16h1v1h-1zM13 14h1v1h-1z"/>
<path fill="#b4b4b4" d="M7 15h1v1h-1zM7 8h1v1h-1zM12 15h1v1h-1zM13 11h1v1h-1zM13 9h1v1h-1z"/>
<path fill="#afafaf" d="M7 11h1v1h-1zM8 9h1v1h-1zM12 8h1v1h-1zM13 13h1v1h-1z"/>
<path fill="#aaaaaa" d="M13 12h1v1h-1z"/>
<path fill="#a5a5a5" d="M8 14h1v1h-1zM11 8h1v1h-1zM12 9h1v1h-1zM13 10h1v1h-1z"/>
<path fill="#a0a0a0" d="M7 13h1v1h-1zM11 15h1v1h-1z"/>
<path fill="#9b9b9b" d="M7 12h1v1h-1z"/>
<path fill="#969696" d="M10 9h1v1h-1zM10 8h1v1h-1z"/>
<path fill="#919191" d="M9 8h1v1h-1z"/>
<path fill="#878787" d="M8 12h1v1h-1z"/>
<path fill="#828282" d="M12 14h1v1h-1z"/>
<path fill="#7d7d7d" d="M12 12h1v1h-1zM12 10h1v1h-1z"/>
<path fill="#787878" d="M9 15h1v1h-1zM9 9h1v1h-1z"/>
<path fill="#737373" d="M9 14h1v1h-1zM10 15h1v1h-1z"/>
<path fill="#696969" d="M8 11h1v1h-1zM11 14h1v1h-1z"/>
<path fill="#646464" d="M12 13h1v1h-1z"/>
<path fill="#5f5f5f" d="M12 11h1v1h-1z"/>
<path fill="#5a5a5a" d="M11 9h1v1h-1z"/>
<path fill="#555555" d="M9 13h1v1h-1z"/>
<path fill="#505050" d="M10 10h1v1h-1z"/>
<path fill="#4b4b4b" d="M8 10h1v1h-1z"/>
<path fill="#3c3c3c" d="M8 13h1v1h-1z"/>
<path fill="#373737" d="M9 10h1v1h-1zM10 14h1v1h-1z"/>
<path fill="#282828" d="M11 10h1v1h-1z"/>
<path fill="#232323" d="M10 12h1v1h-1z"/>
<path fill="#191919" d="M9 12h1v1h-1zM11 11h1v1h-1z"/>
<path fill="#141414" d="M9 11h1v1h-1z"/>
<path fill="#0a0a0a" d="M10 13h1v1h-1zM10 11h1v1h-1z"/>
<path fill="#050505" d="M11 13h1v1h-1z"/>
<path fill="#000000" d="M11 12h1v1h-1z"/>
</g>
<path class="ct" d="M253.4 836L255.5 836.7L262 836L262 829.4L262 829.4L262 829.4L262 836L268.6 836.5L272.3 836L272.3 829.4L275.1 828.8L276.8 829.4L276.8 836L281.6 837L286.3 836L286.3 829.4L286.1 822.9L288.1 821L292.9 816.4L294.6 814.8L301.1 811.6L302.5 809.9L304.5 803.4L307.6 800.3L310.1 796.9L307.6 792.7L306.4 790.4L307.6 786.3L309.3 783.9L309.3 777.4L307.6 771.6L307.2 770.9L306.8 764.4L302.7 757.9L302.1 751.4L301.1 749.2L294.6 746.3L292.5 744.9L289.9 738.4L288.1 737.2L281.6 735.6L276.3 731.9L275.1 730.1L271.3 731.9L268.6 733L262 733.4L255.5 735.1L251.5 738.4L249 742L242.5 742L239.3 744.9L239.4 751.4L236 755.6L232.9 757.9L231.2 764.4L229.5 770.9L229.5 770.9L226.9 777.4L224.9 783.9L229.5 790.4L229.5 790.4L229.5 790.4L229.3 796.9L227.9 803.4L229.5 805.9L232.2 809.9L236 813.5L241.6 816.4L242.5 817.6L247.3 822.9L249 824.9L253.4 829.4ZM257.2 816.4L262 818.3L268.6 820.3L275.1 818.7L280.1 816.4L281.6 816.2L288.1 812.3L290.5 809.9L294.4 803.4L294.6 802.3L297.5 796.9L299.6 790.4L300.1 783.9L301.1 781.4L303 777.4L301.1 775.2L296.7 770.9L294.6 764.4L294.6 764.4L291.4 757.9L289.6 751.4L288.1 750.6L281.6 745.5L281 744.9L275.1 739.7L270.9 744.9L268.6 746.6L262 744.9L255.5 751L254.6 751.4L249 752L244.1 757.9L242.5 761.2L240 764.4L237.7 770.9L238.5 777.4L236.3 783.9L239.2 790.4L238.3 796.9L240.8 803.4L241.7 809.9L242.5 810.4L249 811.7L255.5 816.1ZM257.2 803.4L262 807.1L268.6 808.5L275.1 805.6L277.5 803.4L281.6 801.8L286.1 796.9L287.6 790.4L288.1 783.9L287.2 777.4L288.1 772.2L288.3 770.9L288.1 769.9L283.6 764.4L281.6 761.1L278.3 757.9L275.1 757.2L268.6 756L262 754.9L258.7 757.9L256.3 764.4L255.5 764.8L250.1 770.9L249.9 777.4L249 779.7L247.6 783.9L248.1 790.4L249 791.7L254.6 796.9L255.5 798.7ZM266.3 790.4L268.6 794.6L275.1 792.4L277.1 790.4L276.9 783.9L276.1 777.4L275.1 770.9L268.6 775L262 774L260.7 777.4L261.3 783.9L262 785.4Z"/>
</g>
<g clip-path="url(#c52)">
<path class="pt" transform="translate(336.85 702.6) scale(.5)" d="m0 68h0m0 51h0m0 49h0m0 3h0m0 65h0m1-109h0m0 14h0m0 1h0m0 17h0m0 34h0m0 5h0m0 18h0m0 0h0m0 19h0m1-168h0m0 13h0m0 21h0m0 89h0m1-63h0m0 13h0m0 12h0m0 9h0m0 5h0m0 43h0m0 2h0m0 7h0m0 8h0m1-107h0m0 33h0m0 15h0m0 12h0m0 3h0m0 19h0m0 19h0m0 11h0m0 2h0m0 2h0m1-131h0m0 18h0m0 24h0m0 31h0m0 17h0m1-134h0m0 44h0m0 0h0m0 11h0m0 17h0m0 6h0m0 45h0m0 32h0m0 13h0m1-127h0m0 5h0m0 16h0m0 36h0m1-58h0m0 5h0m0 27h0m0 10h0m0 5h0m0 12h0m0 1h0m0 26h0m0 5h0m0 38h0m1-143h0m0 28h0m0 53h0m0 34h0m0 49h0m1-125h0m0 8h0m0 7h0m0 15h0m0 6h0m0 24h0m0 4h0m0 35h0m1-142h0m0 36h0m0 21h0m0 9h0m0 19h0m0 15h0m0 41h0m0 18h0m0 0h0m0 1h0m0 4h0m1-182h0m0 67h0m0 26h0m0 25h0m0 6h0m0 14h0m0 1h0m0 8h0m0 16h0m0 15h0m1-145h0m0 12h0m0 10h0m0 4h0m0 26h0m0 9h0m0 21h0m0 16h0m0 35h0m1-180h0m0 15h0m0 29h0m0 6h0m0 25h0m0 14h0m0 4h0m0 9h0m0 4h0m0 2h0m0 22h0m0 8h0m0 5h0m0 7h0m0 14h0m0 9h0m0 4h0m0 6h0m0 0h0m1-111h0m0 9h0m0 1h0m0 39h0m0 8h0m0 12h0m0 2h0m0 17h0m0 22h0m1-202h0m0 58h0m0 9h0m0 11h0m0 5h0m0 9h0m0 21h0m0 7h0m0 4h0m0 5h0m0 4h0m0 6h0m0 1h0m0 6h0m0 11h0m0 14h0m0 5h0m0 3h0m0 14h0m0 31h0m1-212h0m0 1h0m0 39h0m0 11h0m0 3h0m0 32h0m0 2h0m0 5h0m0 12h0m0 6h0m0 2h0m0 6h0m0 16h0m0 14h0m0 1h0m0 8h0m0 19h0m0 16h0m0 8h0m0 6h0m0 0h0m0 5h0m1-171h0m0 12h0m0 8h0m0 1h0m0 8h0m0 21h0m0 7h0m0 28h0m0 1h0m0 3h0m0 12h0m0 7h0m0 2h0m0 4h0m0 3h0m0 4h0m0 1h0m0 8h0m1-144h0m0 24h0m0 12h0m0 4h0m0 7h0m0 12h0m0 1h0m0 6h0m0 8h0m0 29h0m0 1h0m0 2h0m0 57h0m1-205h0m0 30h0m0 40h0m0 0h0m0 0h0m0 4h0m0 2h0m0 7h0m0 8h0m0 9h0m0 15h0m0 1h0m0 26h0m0 2h0m0 3h0m0 1h0m0 22h0m0 3h0m0 24h0m0 2h0m1-178h0m0 33h0m0 20h0m0 5h0m0 4h0m0 8h0m0 19h0m0 10h0m0 5h0m0 9h0m0 7h0m0 3h0m0 15h0m0 26h0m0 4h0m0 3h0m0 1h0m0 5h0m0 6h0m0 0h0m0 20h0m0 6h0m1-230h0m0 42h0m0 6h0m0 3h0m0 8h0m0 7h0m0 16h0m0 18h0m0 0h0m0 12h0m0 3h0m0 15h0m0 12h0m0 22h0m0 0h0m0 37h0m1-182h0m0 35h0m0 10h0m0 14h0m0 0h0m0 6h0m0 10h0m0 0h0m0 8h0m0 6h0m0 0h0m0 1h0m0 18h0m0 10h0m0 3h0m0 26h0m0 6h0m0 4h0m0 6h0m0 1h0m0 7h0m1-132h0m0 1h0m0 23h0m0 3h0m0 4h0m0 8h0m0 21h0m0 11h0m0 34h0m0 1h0m0 7h0m0 5h0m0 9h0m0 9h0m1-133h0m0 4h0m0 4h0m0 4h0m0 20h0m0 2h0m0 0h0m0 22h0m0 51h0m0 7h0m0 0h0m0 0h0m0 5h0m0 0h0m0 28h0m1-200h0m0 41h0m0 8h0m0 24h0m0 3h0m0 3h0m0 20h0m0 58h0m0 1h0m0 3h0m0 2h0m0 2h0m0 1h0m0 1h0m0 3h0m0 2h0m0 2h0m0 7h0m0 10h0m0 4h0m0 15h0m1-225h0m0 60h0m0 3h0m0 8h0m0 1h0m0 13h0m0 1h0m0 11h0m0 5h0m0 10h0m0 68h0m0 12h0m0 1h0m0 10h0m0 0h0m0 22h0m0 6h0m0 4h0m0 3h0m1-203h0m0 23h0m0 8h0m0 22h0m0 1h0m0 1h0m0 12h0m0 79h0m0 11h0m0 7h0m0 1h0m0 3h0m0 2h0m0 4h0m0 5h0m0 9h0m0 7h0m0 0h0m0 4h0m1-226h0m0 42h0m0 38h0m0 12h0m0 93h0m0 2h0m0 14h0m0 20h0m0 2h0m1-199h0m0 31h0m0 4h0m0 11h0m0 10h0m0 91h0m0 2h0m0 6h0m0 9h0m0 8h0m0 8h0m0 10h0m0 7h0m0 9h0m1-180h0m0 16h0m0 1h0m0 11h0m0 96h0m0 4h0m0 2h0m0 5h0m0 3h0m0 10h0m0 22h0m1-166h0m0 8h0m0 4h0m0 2h0m0 10h0m0 124h0m0 1h0m0 8h0m0 5h0m0 9h0m1-244h0m0 3h0m0 47h0m0 24h0m0 21h0m0 144h0m0 8h0m0 0h0m1-184h0m0 7h0m0 3h0m0 146h0m0 15h0m0 8h0m0 1h0m1-201h0m0 9h0m0 9h0m0 11h0m0 10h0m0 4h0m0 1h0m0 2h0m0 3h0m0 128h0m0 4h0m1-195h0m0 31h0m0 24h0m0 148h0m1-178h0m0 3h0m0 22h0m0 3h0m0 4h0m0 3h0m0 1h0m0 136h0m0 5h0m1-172h0m0 18h0m0 2h0m0 154h0m0 1h0m0 2h0m0 2h0m1-179h0m0 13h0m0 5h0m0 147h0m0 9h0m0 5h0m0 1h0m0 9h0m0 2h0m1-203h0m0 0h0m0 7h0m0 3h0m0 7h0m0 6h0m0 8h0m0 157h0m0 0h0m0 3h0m0 0h0m0 13h0m1-231h0m0 20h0m0 0h0m0 4h0m0 8h0m0 7h0m0 3h0m0 12h0m0 151h0m0 2h0m0 7h0m1-240h0m0 30h0m0 45h0m0 9h0m0 1h0m0 2h0m0 148h0m0 8h0m1-237h0m0 21h0m0 29h0m0 2h0m0 10h0m0 7h0m0 0h0m0 5h0m0 4h0m0 150h0m0 2h0m0 18h0m0 2h0m0 2h0m1-208h0m0 2h0m0 26h0m0 3h0m0 6h0m0 151h0m0 1h0m0 5h0m0 1h0m0 13h0m1-202h0m0 3h0m0 23h0m0 165h0m0 1h0m0 5h0m1-221h0m0 33h0m0 6h0m0 2h0m0 5h0m0 156h0m1-183h0m0 27h0m0 155h0m0 11h0m0 13h0m1-207h0m0 17h0m0 12h0m0 1h0m0 154h0m0 5h0m0 2h0m0 3h0m0 1h0m1-181h0m0 3h0m0 5h0m0 4h0m0 6h0m0 161h0m0 5h0m0 9h0m0 0h0m0 1h0m1-212h0m0 3h0m0 12h0m0 14h0m0 160h0m0 11h0m1-200h0m0 12h0m0 0h0m0 22h0m0 0h0m1-61h0m0 22h0m0 19h0m0 20h0m0 157h0m0 15h0m1-199h0m0 13h0m0 3h0m0 7h0m0 177h0m1-186h0m0 3h0m0 6h0m0 166h0m0 0h0m0 2h0m1-219h0m0 15h0m0 33h0m0 176h0m0 2h0m0 7h0m1-230h0m0 13h0m0 0h0m0 17h0m0 2h0m0 4h0m0 6h0m0 169h0m0 2h0m0 6h0m0 1h0m1-230h0m0 18h0m0 204h0m0 9h0m0 1h0m0 3h0m1-193h0m0 0h0m0 9h0m0 172h0m0 1h0m0 7h0m0 3h0m1-249h0m0 25h0m0 28h0m0 2h0m0 5h0m0 3h0m0 178h0m0 3h0m0 2h0m0 4h0m0 5h0m1-220h0m0 0h0m0 13h0m0 5h0m0 4h0m0 0h0m0 6h0m0 2h0m0 179h0m0 8h0m1-196h0m0 185h0m1-201h0m0 20h0m1-39h0m1 31h0m0 8h0m1-32h0m0 15h0m0 8h0m0 5h0m0 193h0m0 3h0m1-215h0m0 0h0m0 11h0m0 3h0m1-28h0m0 228h0m0 1h0m0 2h0m1-228h0m0 27h0m0 198h0m1-200h0m0 197h0m0 5h0m1-243h0m0 18h0m0 24h0m0 1h0m0 0h0m1-40h0m0 16h0m0 24h0m0 199h0m0 2h0m0 0h0m1-223h0m0 4h0m0 16h0m0 1h0m2-48h0m0 16h0m0 16h0m0 6h0m1-37h0m0 23h0m0 12h0m1-41h0m0 38h0m0 3h0m0 5h0m0 0h0m1-48h0m0 24h0m0 3h0m0 16h0m0 11h0m1 1h0m1-37h0m1 17h0m0 21h0m1-43h0m0 25h0m0 15h0m1-36h0m0 39h0m1-26h0m0 19h0m0 6h0m1-43h0m0 28h0m1 15h0m1-39h0m0 28h0m0 6h0m1-17h0m0 4h0m0 0h0m0 11h0m0 3h0m0 0h0m0 4h0m1-22h0m0 5h0m0 14h0m0 1h0m0 2h0m1-50h0m0 13h0m0 13h0m0 11h0m0 6h0m0 4h0m0 1h0m0 2h0m1-42h0m0 22h0m1-17h0m0 22h0m1-21h0m0 12h0m0 10h0m0 5h0m0 3h0m1-47h0m0 42h0m2-40h0m0 32h0m0 4h0m0 11h0m0 4h0m1-2h0m0 3h0m0 0h0m1-53h0m0 41h0m0 6h0m1-18h0m0 1h0m0 4h0m0 3h0m0 11h0m0 1h0m0 1h0m1-38h0m0 14h0m0 23h0m0 3h0m1-25h0m0 20h0m1 6h0m1-24h0m0 1h0m1-24h0m1 35h0m0 3h0m0 2h0m0 2h0m1-42h0m0 2h0m0 13h0m0 0h0m0 14h0m0 10h0m0 3h0m0 0h0m0 0h0m0 1h0m1-27h0m0 15h0m0 9h0m0 4h0m0 6h0m1-46h0m0 24h0m0 12h0m0 3h0m0 1h0m1-10h0m0 17h0m1-41h0m0 9h0m0 24h0m0 1h0m1-26h0m0 17h0m0 6h0m0 4h0m1-19h0m0 2h0m0 10h0m0 210h0m1-200h0m0 200h0m1-233h0m0 20h0m0 8h0m0 201h0m1-238h0m0 5h0m0 27h0m0 11h0m1-57h0m0 27h0m0 7h0m0 17h0m0 199h0m0 3h0m1-231h0m0 22h0m0 7h0m0 8h0m0 0h0m0 193h0m1-237h0m0 5h0m0 9h0m0 8h0m0 9h0m0 16h0m0 188h0m0 1h0m0 2h0m0 2h0m1-232h0m0 17h0m0 17h0m0 199h0m1-222h0m0 16h0m0 1h0m0 1h0m0 1h0m0 5h0m0 5h0m0 191h0m0 1h0m0 1h0m1-227h0m0 9h0m0 19h0m0 194h0m0 2h0m0 3h0m1-228h0m0 15h0m0 0h0m0 5h0m0 8h0m0 5h0m0 192h0m1-232h0m0 41h0m0 192h0m1-209h0m0 2h0m0 15h0m0 195h0m0 0h0m1-237h0m0 2h0m0 20h0m0 3h0m0 17h0m0 187h0m0 7h0m1-233h0m0 15h0m0 15h0m0 195h0m0 1h0m1-2h0m0 10h0m1-239h0m0 14h0m0 5h0m0 5h0m0 2h0m0 201h0m0 8h0m0 0h0m0 2h0m1-236h0m0 43h0m0 1h0m0 3h0m0 187h0m1-213h0m0 14h0m0 9h0m1-38h0m0 22h0m0 11h0m0 6h0m0 184h0m0 5h0m0 2h0m1-202h0m0 0h0m0 2h0m0 10h0m0 183h0m1-2h0m0 4h0m1-212h0m0 16h0m0 6h0m0 10h0m0 181h0m0 1h0m0 3h0m1-216h0m0 4h0m0 15h0m0 7h0m0 6h0m0 176h0m1-208h0m0 9h0m0 2h0m0 9h0m0 6h0m0 4h0m0 173h0m0 3h0m1-223h0m0 19h0m0 30h0m0 160h0m0 15h0m0 2h0m0 8h0m0 1h0m1-221h0m0 12h0m0 11h0m0 2h0m0 173h0m0 12h0m0 1h0m0 5h0m0 4h0m0 0h0m1-216h0m0 19h0m0 10h0m0 3h0m0 153h0m0 5h0m0 5h0m0 1h0m0 4h0m0 1h0m0 0h0m0 12h0m0 1h0m1-213h0m0 23h0m0 174h0m0 4h0m0 4h0m0 3h0m0 5h0m1-238h0m0 39h0m0 20h0m0 151h0m0 4h0m0 1h0m0 6h0m0 2h0m0 4h0m0 8h0m1-215h0m0 25h0m0 3h0m0 4h0m0 9h0m0 165h0m0 6h0m0 6h0m1-218h0m0 7h0m0 11h0m0 5h0m0 4h0m0 0h0m0 4h0m0 7h0m0 151h0m0 1h0m0 8h0m0 1h0m0 6h0m0 0h0m1-16h0m0 6h0m0 3h0m0 8h0m0 2h0m0 5h0m0 3h0m0 4h0m0 1h0m1-218h0m0 6h0m0 14h0m0 14h0m0 1h0m0 151h0m0 1h0m0 25h0m1-192h0m0 6h0m0 6h0m0 167h0m1-206h0m0 18h0m0 4h0m0 171h0m0 1h0m0 21h0m1-190h0m0 7h0m0 5h0m0 159h0m0 3h0m0 3h0m0 5h0m0 3h0m0 2h0m1-227h0m0 33h0m0 13h0m0 2h0m0 2h0m0 5h0m0 6h0m0 1h0m0 147h0m0 8h0m0 1h0m1-184h0m0 17h0m0 12h0m0 147h0m0 2h0m0 3h0m1-210h0m0 41h0m0 3h0m0 6h0m0 159h0m0 0h0m0 4h0m0 6h0m0 1h0m0 6h0m1-245h0m0 33h0m0 43h0m0 165h0m1-228h0m0 33h0m0 16h0m0 7h0m0 1h0m0 2h0m0 3h0m0 1h0m0 4h0m0 148h0m0 13h0m0 6h0m0 2h0m1-202h0m0 22h0m0 4h0m0 0h0m0 9h0m0 143h0m0 2h0m0 10h0m1-206h0m0 30h0m0 17h0m0 6h0m0 133h0m0 1h0m0 20h0m0 3h0m0 12h0m1-233h0m0 31h0m0 3h0m0 8h0m0 1h0m0 1h0m0 10h0m0 5h0m0 141h0m0 17h0m0 12h0m0 3h0m1-199h0m0 3h0m0 3h0m0 19h0m0 148h0m0 5h0m0 1h0m0 16h0m0 4h0m1-225h0m0 11h0m0 5h0m0 33h0m0 141h0m0 11h0m0 5h0m0 4h0m0 5h0m1-209h0m0 52h0m0 134h0m0 4h0m0 1h0m0 1h0m1-164h0m0 11h0m0 148h0m0 11h0m0 1h0m1-198h0m0 26h0m0 6h0m0 7h0m0 1h0m0 1h0m0 4h0m0 144h0m0 4h0m0 4h0m0 8h0m0 4h0m1-195h0m0 7h0m0 9h0m0 10h0m0 9h0m0 5h0m0 4h0m0 124h0m0 8h0m0 1h0m0 13h0m0 3h0m0 1h0m1-212h0m0 1h0m0 7h0m0 22h0m0 2h0m0 6h0m0 2h0m0 1h0m0 5h0m0 12h0m0 128h0m0 10h0m0 6h0m0 4h0m0 18h0m1-219h0m0 14h0m0 20h0m0 0h0m0 9h0m0 13h0m0 1h0m1-49h0m0 11h0m0 15h0m0 20h0m0 1h0m0 122h0m0 3h0m0 12h0m1-169h0m0 15h0m0 164h0m0 2h0m1-197h0m0 1h0m0 12h0m0 3h0m0 1h0m0 7h0m0 4h0m0 0h0m0 6h0m0 4h0m0 4h0m0 4h0m0 127h0m0 4h0m0 5h0m1-174h0m0 4h0m0 9h0m0 19h0m0 0h0m0 17h0m0 110h0m0 1h0m0 3h0m0 26h0m1-208h0m0 10h0m0 20h0m0 5h0m0 4h0m0 19h0m0 9h0m0 0h0m0 3h0m0 101h0m0 8h0m0 4h0m0 10h0m0 4h0m0 1h0m1-191h0m0 21h0m0 8h0m0 6h0m0 4h0m0 2h0m0 13h0m0 111h0m0 1h0m0 25h0m0 22h0m1-226h0m0 25h0m0 19h0m0 32h0m0 17h0m0 2h0m0 78h0m0 3h0m0 2h0m0 4h0m0 5h0m0 1h0m0 12h0m0 3h0m1-159h0m0 7h0m0 3h0m0 3h0m0 15h0m0 4h0m0 0h0m0 8h0m0 5h0m0 11h0m0 1h0m0 74h0m0 3h0m0 9h0m0 1h0m1-141h0m0 1h0m0 19h0m0 2h0m0 3h0m0 11h0m0 2h0m0 8h0m0 8h0m0 76h0m0 13h0m0 16h0m0 0h0m0 12h0m1-220h0m0 47h0m0 5h0m0 26h0m0 1h0m0 10h0m0 88h0m0 5h0m0 6h0m0 0h0m0 9h0m0 12h0m0 5h0m1-228h0m0 26h0m0 33h0m0 13h0m0 9h0m0 6h0m0 4h0m0 2h0m0 3h0m0 20h0m0 6h0m0 0h0m0 64h0m0 18h0m0 2h0m0 4h0m0 1h0m0 8h0m0 23h0m1-196h0m0 3h0m0 3h0m0 3h0m0 11h0m0 22h0m0 92h0m0 2h0m0 10h0m0 1h0m0 13h0m0 7h0m0 5h0m0 9h0m0 11h0m1-188h0m0 20h0m0 25h0m0 10h0m0 3h0m0 9h0m0 4h0m0 1h0m0 66h0m0 1h0m0 5h0m0 5h0m0 37h0m0 4h0m1-174h0m0 18h0m0 22h0m0 1h0m0 4h0m0 7h0m0 0h0m0 26h0m0 3h0m0 3h0m0 4h0m0 3h0m0 20h0m0 5h0m0 7h0m0 8h0m0 25h0m0 14h0m1-211h0m0 24h0m0 0h0m0 42h0m0 17h0m0 38h0m0 4h0m0 9h0m0 19h0m0 4h0m0 3h0m0 6h0m0 9h0m0 3h0m0 7h0m0 20h0m1-194h0m0 6h0m0 8h0m0 11h0m0 1h0m0 3h0m0 20h0m0 7h0m0 15h0m0 2h0m0 13h0m0 5h0m0 1h0m0 4h0m0 8h0m0 1h0m0 0h0m0 19h0m0 18h0m0 24h0m0 9h0m0 2h0m0 12h0m0 11h0m0 1h0m0 6h0m1-186h0m0 9h0m0 2h0m0 25h0m0 21h0m0 3h0m0 12h0m0 1h0m0 10h0m0 0h0m0 6h0m0 3h0m0 2h0m0 17h0m0 2h0m0 6h0m0 1h0m0 6h0m0 3h0m0 13h0m0 19h0m1-166h0m0 21h0m0 2h0m0 28h0m0 2h0m0 1h0m0 2h0m0 12h0m0 25h0m0 8h0m0 7h0m0 17h0m0 10h0m0 1h0m0 7h0m0 17h0m0 14h0m0 5h0m0 1h0m1-192h0m0 44h0m0 3h0m0 5h0m0 3h0m0 20h0m0 1h0m0 0h0m0 16h0m0 1h0m0 10h0m0 19h0m0 3h0m0 6h0m0 16h0m0 11h0m1-102h0m0 6h0m0 20h0m0 3h0m0 10h0m0 21h0m0 8h0m0 9h0m0 21h0m0 9h0m0 27h0m1-142h0m0 16h0m0 18h0m0 13h0m0 8h0m0 6h0m0 2h0m0 8h0m0 13h0m0 4h0m0 16h0m0 7h0m1-157h0m0 45h0m0 9h0m0 14h0m0 2h0m0 13h0m0 0h0m0 7h0m0 3h0m0 1h0m0 3h0m0 12h0m0 3h0m0 7h0m0 4h0m0 2h0m0 15h0m0 4h0m0 2h0m0 23h0m1-157h0m0 14h0m0 12h0m0 0h0m0 6h0m0 7h0m0 11h0m0 11h0m0 19h0m0 9h0m0 10h0m0 0h0m0 2h0m0 8h0m0 14h0m0 5h0m0 2h0m0 33h0m0 3h0m0 2h0m0 3h0m1-125h0m0 38h0m0 9h0m0 13h0m0 45h0m0 16h0m1-142h0m0 10h0m0 39h0m0 10h0m0 2h0m0 8h0m0 5h0m0 5h0m0 8h0m0 3h0m0 1h0m0 3h0m0 13h0m0 31h0m0 9h0m1-193h0m0 9h0m0 23h0m0 3h0m0 25h0m0 1h0m0 16h0m0 28h0m0 14h0m0 0h0m0 30h0m1-116h0m0 3h0m0 1h0m0 13h0m0 6h0m0 3h0m0 0h0m0 18h0m0 9h0m0 1h0m0 10h0m0 22h0m0 4h0m0 4h0m0 13h0m0 3h0m0 2h0m0 5h0m0 5h0m0 5h0m1-169h0m0 26h0m0 0h0m0 57h0m0 15h0m0 5h0m0 14h0m0 3h0m0 4h0m0 15h0m0 10h0m0 0h0m0 5h0m0 18h0m1-196h0m0 7h0m0 47h0m0 6h0m0 0h0m0 15h0m0 13h0m0 22h0m0 18h0m0 13h0m0 8h0m0 1h0m0 4h0m0 0h0m0 3h0m0 7h0m0 2h0m0 5h0m0 4h0m0 3h0m0 5h0m0 9h0m0 27h0m1-164h0m0 31h0m0 5h0m0 29h0m0 5h0m0 19h0m0 19h0m1-122h0m0 61h0m0 25h0m0 24h0m0 7h0m0 11h0m0 1h0m0 3h0m0 21h0m0 6h0m0 9h0m1-130h0m0 14h0m0 6h0m0 9h0m0 13h0m0 6h0m0 1h0m0 35h0m0 8h0m0 1h0m0 11h0m0 30h0m0 2h0m1-123h0m0 13h0m0 46h0m0 17h0m0 1h0m0 22h0m0 0h0m0 5h0m0 35h0m0 14h0m1-188h0m0 57h0m0 43h0m0 4h0m0 20h0m0 17h0m0 20h0m1-219h0m0 59h0m0 52h0m0 3h0m0 2h0m0 6h0m0 21h0m0 12h0m0 5h0m0 3h0m0 12h0m0 25h0m0 4h0m0 10h0m1-160h0m0 63h0m0 25h0m0 20h0m0 3h0m0 6h0m1-100h0m0 4h0m0 16h0m0 13h0m0 21h0m0 3h0m0 9h0m0 69h0m0 4h0m1-108h0m0 29h0m0 10h0m0 16h0m0 15h0m0 21h0m1-166h0m0 38h0m0 27h0m0 3h0m0 21h0m0 3h0m0 5h0m0 19h0m0 5h0m0 0h0m0 2h0m0 10h0m0 9h0m1-122h0m0 4h0m0 59h0m0 7h0m0 1h0m0 11h0m0 20h0m0 1h0m0 6h0m0 24h0m0 1h0m0 40h0m1-169h0m0 72h0m0 38h0m0 3h0m0 67h0m1-111h0m0 4h0m0 2h0m0 3h0m0 2h0m0 1h0m0 54h0m0 26h0m0 26h0m1-156h0m0 14h0m0 9h0m0 4h0m0 13h0m0 1h0m0 5h0m0 14h0m0 6h0m0 15h0m0 4h0m1-79h0m0 24h0m0 5h0m0 15h0m0 4h0m0 5h0m0 4h0m0 10h0m0 1h0m0 16h0m0 3h0m0 10h0m0 29h0m0 8h0m0 5h0m1-175h0m0 45h0m0 13h0m0 22h0m0 5h0m0 12h0m0 8h0m0 3h0m0 19h0m0 4h0m1-81h0m0 21h0m0 47h0m0 1h0m1-113h0m0 64h0m0 27h0m0 11h0m0 51h0m1-67h0m0 18h0m0 16h0m0 15h0m0 7h0m0 43h0m1-201h0m0 23h0m0 37h0m0 30h0m0 12h0m0 41h0m0 15h0m0 19h0m1-139h0m0 67h0m1 11h0m0 4h0m0 34h0m0 21h0m1-96h0m0 49h0m0 13h0m0 10h0m0 23h0m1-140h0m0 66h0m0 3h0m0 8h0m0 13h0m0 10h0m0 9h0m0 12h0m0 8h0m0 39h0m1-148h0m0 13h0m0 7h0m0 8h0m0 9h0m0 17h0m0 3h0m0 36h0m0 14h0m1-114h0m0 103h0m0 1h0m1-31h0m0 29h0m0 5h0m1-88h0m0 20h0m0 3h0m0 27h0m0 18h0m0 32h0m1-127h0m0 64h0m1-105h0m0 103h0m0 82h0m1-119h0m1 65h0m1-32h0m0 80h0m1-89h0m0 74h0m1-191h0m0 82h0m0 45h0m1 49h0m1-22h0m2-5h0m0 19h0m0 39h0m1-150h0m0 82h0m0 36h0m1-91h0m1-35h0m0 135h0m2-59h0m0 28h0m1-109h0m1-2h0m2 77h0m1-81h0m1 135h0m2-55h0m0 23h0m0 12h0m1-9h0m0 5h0m1 16h0m4-59h0m5 53h0"/>
<path fill="#fff" fill-rule="evenodd" d="M372.6 836L379.1 836.5L385.6 836.5L392.1 836L392.1 829.4L392.1 829.4L398.6 827.6L405.2 823.5L405.5 822.9L405.2 821.3L404.3 816.4L405.2 816L411.7 815.7L418.2 811.3L420 809.9L421.9 803.4L424.7 799.3L427.1 796.9L425.6 790.4L424.7 783.9L424.7 783.9L424.7 783.9L427.2 777.4L424.7 773.6L422.5 770.9L421.9 764.4L421.8 757.9L418.2 753.2L416.6 751.4L411.7 745.4L411 744.9L405.2 741.2L401.5 738.4L398.6 736.4L392.1 734.6L385.6 731.9L385.6 731.9L379.1 731.6L372.6 731.9L372.6 731.9L366.1 738.4L366.1 738.4L363 744.9L359.6 746.5L355.4 751.4L353.1 756.2L351.5 757.9L351.7 764.4L350.1 770.9L348.9 777.4L349.3 783.9L346.8 790.4L349 796.9L352.7 803.4L352.9 809.9L353.1 812.1L354.4 816.4L359.6 819.2L364.7 822.9L366.1 824.4L372.6 829.4L372.6 829.4L372.6 836Z"/>
<g transform="translate(336.85 702.6) scale(6.5050)" shape-rendering="crispEdges">
<path fill="#fafafa" d="M1 15h1v1h-1zM1 14h1v1h-1zM1 11h1v1h-1zM1 9h1v1h-1zM2 17h1v1h-1zM2 7h1v1h-1zM2 6h1v1h-1zM3 19h1v1h-1zM3 18h1v1h-1zM3 6h1v1h-1zM3 5h1v1h-1zM4 19h1v1h-1zM8 4h1v1h-1zM9 19h1v1h-1zM10 19h1v1h-1zM10 17h1v1h-1zM10 5h1v1h-1zM11 18h1v1h-1zM11 17h1v1h-1zM11 6h1v1h-1zM11 5h1v1h-1zM12 7h1v1h-1zM12 6h1v1h-1zM12 5h1v1h-1zM13 16h1v1h-1zM13 15h1v1h-1zM13 10h1v1h-1zM13 9h1v1h-1zM13 8h1v1h-1zM14 14h1v1h-1zM14 12h1v1h-1zM14 10h1v1h-1z"/>
<path fill="#f5f5f5" d="M1 13h1v1h-1zM2 16h1v1h-1zM2 15h1v1h-1zM2 9h1v1h-1zM2 8h1v1h-1zM3 17h1v1h-1zM4 18h1v1h-1zM4 6h1v1h-1zM4 5h1v1h-1zM5 19h1v1h-1zM5 5h1v1h-1zM5 4h1v1h-1zM6 19h1v1h-1zM6 4h1v1h-1zM7 19h1v1h-1zM7 18h1v1h-1zM7 4h1v1h-1zM8 19h1v1h-1zM9 18h1v1h-1zM9 5h1v1h-1zM10 18h1v1h-1zM12 16h1v1h-1zM13 14h1v1h-1zM13 13h1v1h-1zM13 12h1v1h-1z"/>
<path fill="#f0f0f0" d="M2 10h1v1h-1zM4 17h1v1h-1zM6 5h1v1h-1zM8 5h1v1h-1zM9 17h1v1h-1zM9 6h1v1h-1zM10 7h1v1h-1zM10 6h1v1h-1zM12 15h1v1h-1zM12 10h1v1h-1zM12 9h1v1h-1zM12 8h1v1h-1zM13 11h1v1h-1z"/>
<path fill="#ebebeb" d="M2 14h1v1h-1zM2 12h1v1h-1zM2 11h1v1h-1zM5 18h1v1h-1zM5 6h1v1h-1zM6 18h1v1h-1zM8 18h1v1h-1zM11 16h1v1h-1zM11 7h1v1h-1zM12 14h1v1h-1zM12 13h1v1h-1zM12 12h1v1h-1z"/>
<path fill="#e6e6e6" d="M2 13h1v1h-1zM3 16h1v1h-1zM3 14h1v1h-1zM3 7h1v1h-1zM7 5h1v1h-1zM11 15h1v1h-1zM11 9h1v1h-1zM11 8h1v1h-1zM12 11h1v1h-1z"/>
<path fill="#e1e1e1" d="M3 8h1v1h-1zM4 7h1v1h-1zM6 17h1v1h-1zM7 6h1v1h-1zM8 6h1v1h-1zM10 16h1v1h-1zM11 14h1v1h-1z"/>
<path fill="#dcdcdc" d="M4 16h1v1h-1zM5 17h1v1h-1zM8 17h1v1h-1zM9 7h1v1h-1z"/>
<path fill="#d7d7d7" d="M3 15h1v1h-1zM3 13h1v1h-1zM3 9h1v1h-1zM7 17h1v1h-1z"/>
<path fill="#d2d2d2" d="M8 7h1v1h-1zM10 8h1v1h-1zM11 12h1v1h-1z"/>
<path fill="#cdcdcd" d="M5 7h1v1h-1zM9 8h1v1h-1zM10 15h1v1h-1zM10 9h1v1h-1z"/>
<path fill="#c8c8c8" d="M4 8h1v1h-1zM7 7h1v1h-1zM11 10h1v1h-1z"/>
<path fill="#c3c3c3" d="M3 12h1v1h-1zM3 11h1v1h-1zM6 6h1v1h-1zM10 14h1v1h-1zM10 10h1v1h-1z"/>
<path fill="#bebebe" d="M3 10h1v1h-1zM6 7h1v1h-1zM8 16h1v1h-1zM9 16h1v1h-1zM11 13h1v1h-1z"/>
<path fill="#b9b9b9" d="M5 16h1v1h-1z"/>
<path fill="#afafaf" d="M4 15h1v1h-1zM7 16h1v1h-1zM9 9h1v1h-1zM10 11h1v1h-1zM11 11h1v1h-1z"/>
<path fill="#aaaaaa" d="M6 16h1v1h-1zM8 8h1v1h-1zM9 15h1v1h-1z"/>
<path fill="#a5a5a5" d="M4 14h1v1h-1zM4 9h1v1h-1zM6 8h1v1h-1zM10 13h1v1h-1z"/>
<path fill="#a0a0a0" d="M7 8h1v1h-1zM10 12h1v1h-1z"/>
<path fill="#9b9b9b" d="M4 13h1v1h-1zM4 12h1v1h-1zM4 11h1v1h-1z"/>
<path fill="#919191" d="M5 15h1v1h-1zM9 11h1v1h-1z"/>
<path fill="#8c8c8c" d="M9 14h1v1h-1z"/>
<path fill="#878787" d="M5 8h1v1h-1zM7 15h1v1h-1z"/>
<path fill="#828282" d="M5 14h1v1h-1zM6 15h1v1h-1zM8 15h1v1h-1zM8 9h1v1h-1z"/>
<path fill="#787878" d="M5 9h1v1h-1z"/>
<path fill="#737373" d="M6 9h1v1h-1zM7 9h1v1h-1zM9 13h1v1h-1z"/>
<path fill="#6e6e6e" d="M4 10h1v1h-1z"/>
<path fill="#696969" d="M8 14h1v1h-1z"/>
<path fill="#5f5f5f" d="M5 10h1v1h-1zM8 13h1v1h-1zM8 10h1v1h-1z"/>
<path fill="#555555" d="M9 10h1v1h-1z"/>
<path fill="#505050" d="M9 12h1v1h-1z"/>
<path fill="#4b4b4b" d="M6 14h1v1h-1zM8 12h1v1h-1z"/>
<path fill="#464646" d="M7 10h1v1h-1z"/>
<path fill="#3c3c3c" d="M6 10h1v1h-1zM7 14h1v1h-1z"/>
<path fill="#2d2d2d" d="M6 12h1v1h-1zM8 11h1v1h-1z"/>
<path fill="#232323" d="M5 11h1v1h-1zM6 13h1v1h-1z"/>
<path fill="#191919" d="M5 13h1v1h-1zM6 11h1v1h-1zM7 11h1v1h-1z"/>
<path fill="#0f0f0f" d="M7 13h1v1h-1z"/>
<path fill="#000000" d="M5 12h1v1h-1zM7 12h1v1h-1z"/>
</g>
<path class="ct" d="M372.6 836L379.1 836.5L385.6 836.5L392.1 836L392.1 829.4L392.1 829.4L398.6 827.6L405.2 823.5L405.5 822.9L405.2 821.3L404.3 816.4L405.2 816L411.7 815.7L418.2 811.3L420 809.9L421.9 803.4L424.7 799.3L427.1 796.9L425.6 790.4L424.7 783.9L424.7 783.9L424.7 783.9L427.2 777.4L424.7 773.6L422.5 770.9L421.9 764.4L421.8 757.9L418.2 753.2L416.6 751.4L411.7 745.4L411 744.9L405.2 741.2L401.5 738.4L398.6 736.4L392.1 734.6L385.6 731.9L385.6 731.9L379.1 731.6L372.6 731.9L372.6 731.9L366.1 738.4L366.1 738.4L363 744.9L359.6 746.5L355.4 751.4L353.1 756.2L351.5 757.9L351.7 764.4L350.1 770.9L348.9 777.4L349.3 783.9L346.8 790.4L349 796.9L352.7 803.4L352.9 809.9L353.1 812.1L354.4 816.4L359.6 819.2L364.7 822.9L366.1 824.4L372.6 829.4L372.6 829.4ZM371.5 816.4L372.6 817.7L379.1 817.7L385.6 817.9L392.1 817.5L393.1 816.4L398.6 814L404.8 809.9L405.2 809.5L409.7 803.4L411.7 796.9L411.7 796.9L416.4 790.4L415.4 783.9L417 777.4L415.2 770.9L411.7 765.9L409.9 764.4L410.3 757.9L405.2 754.8L400.1 751.4L398.6 750L392.4 744.9L392.1 744.6L388.9 744.9L385.6 745.1L385.5 744.9L379.1 741.2L375 744.9L372.6 747.9L366.8 751.4L366.1 752L359.6 756.9L359.3 757.9L357.8 764.4L355.7 770.9L355 777.4L355.2 783.9L355.9 790.4L359.6 795.1L360.2 796.9L359.6 799.4L358.4 803.4L359.6 807L362.9 809.9L366.1 811.6ZM370.6 803.4L372.6 804.9L379.1 807.8L385.6 806.7L392.1 805.9L396.1 803.4L398.6 800.2L400.4 796.9L403.6 790.4L404.7 783.9L400.7 777.4L402.4 770.9L398.6 766.1L395.5 764.4L392.1 760.5L385.6 758.7L379.1 759L377.4 757.9L372.6 756.2L370.8 757.9L367.8 764.4L366.1 765.8L362.6 770.9L366.1 777.4L366.1 777.4L366.1 777.4L365.8 783.9L366.1 790.4L366.1 790.4L368.2 796.9ZM371.8 790.4L372.6 791.5L379.1 792.1L385.6 794.7L387.8 790.4L389.1 783.9L392.1 777.4L385.6 774.5L379.1 774L372.6 776.5L372.2 777.4L371 783.9ZM379.1 783.9L379.1 783.9L379.1 783.9L379.1 783.9Z"/>
</g>
<g clip-path="url(#c53)">
<path class="pt" transform="translate(473.45 702.6) scale(.5)" d="m0 64h0m0 39h0m0 1h0m0 97h0m1-141h0m1 40h0m0 25h0m0 48h0m1 9h0m0 19h0m0 13h0m1-41h0m1-81h0m0 32h0m0 16h0m0 70h0m1-117h0m0 75h0m1-66h0m1 122h0m0 12h0m1-97h0m0 32h0m0 16h0m0 21h0m1-67h0m0 1h0m0 22h0m0 6h0m2-19h0m0 12h0m1-104h0m0 10h0m0 106h0m0 15h0m0 36h0m1-168h0m0 60h0m0 44h0m1-47h0m0 14h0m0 14h0m0 3h0m0 1h0m0 84h0m0 0h0m1-124h0m0 15h0m0 5h0m0 30h0m0 15h0m1-32h0m0 10h0m0 12h0m0 14h0m0 38h0m1-125h0m0 29h0m0 32h0m0 3h0m0 35h0m0 23h0m0 7h0m0 23h0m1-200h0m0 192h0m1-159h0m0 56h0m0 7h0m0 1h0m0 3h0m0 78h0m0 31h0m0 1h0m1-162h0m0 42h0m0 2h0m0 7h0m0 2h0m0 22h0m0 4h0m1-55h0m0 25h0m0 30h0m0 9h0m0 5h0m0 53h0m1-164h0m0 156h0m1-122h0m0 3h0m0 37h0m0 16h0m0 8h0m0 23h0m0 42h0m1-115h0m0 14h0m0 6h0m0 47h0m1-122h0m0 36h0m0 9h0m0 30h0m0 8h0m0 25h0m1-137h0m0 15h0m0 4h0m0 54h0m0 24h0m0 2h0m0 8h0m0 0h0m0 13h0m0 1h0m0 8h0m0 11h0m0 7h0m0 2h0m0 5h0m0 23h0m1-54h0m0 11h0m0 10h0m0 9h0m0 30h0m0 30h0m1-145h0m0 3h0m0 3h0m0 32h0m0 10h0m0 9h0m0 8h0m0 29h0m0 5h0m0 3h0m0 50h0m1-140h0m0 24h0m0 48h0m0 1h0m0 1h0m0 2h0m0 7h0m0 1h0m0 56h0m1-194h0m0 40h0m0 28h0m0 14h0m0 16h0m0 4h0m0 32h0m0 8h0m0 23h0m0 3h0m0 3h0m1-118h0m0 11h0m0 14h0m0 7h0m0 11h0m0 3h0m0 7h0m0 5h0m0 9h0m0 9h0m0 2h0m0 10h0m0 10h0m0 4h0m0 2h0m1-130h0m0 41h0m0 23h0m0 0h0m0 3h0m0 1h0m0 12h0m0 3h0m0 14h0m0 7h0m0 1h0m0 18h0m0 4h0m0 0h0m0 3h0m0 32h0m1-170h0m0 2h0m0 25h0m0 17h0m0 47h0m0 11h0m0 5h0m0 4h0m0 3h0m0 1h0m0 8h0m1-93h0m0 4h0m0 29h0m0 11h0m0 5h0m0 2h0m0 2h0m0 1h0m0 8h0m0 2h0m0 1h0m0 3h0m0 27h0m0 14h0m0 9h0m0 1h0m1-151h0m0 19h0m0 4h0m0 14h0m0 2h0m0 1h0m0 23h0m0 20h0m0 10h0m0 1h0m0 39h0m0 3h0m0 44h0m1-215h0m0 44h0m0 3h0m0 47h0m0 0h0m0 32h0m0 11h0m0 2h0m0 0h0m1-173h0m0 94h0m0 17h0m0 3h0m0 14h0m0 18h0m0 4h0m0 33h0m0 19h0m0 30h0m0 7h0m0 2h0m1-162h0m0 11h0m0 10h0m0 2h0m0 3h0m0 7h0m0 5h0m0 31h0m0 16h0m0 10h0m0 7h0m0 14h0m0 14h0m0 2h0m0 1h0m0 5h0m1-186h0m0 24h0m0 2h0m0 13h0m0 2h0m0 5h0m0 9h0m0 2h0m0 8h0m0 12h0m0 22h0m0 2h0m0 7h0m0 6h0m0 6h0m0 4h0m0 1h0m0 36h0m0 18h0m0 5h0m0 0h0m0 4h0m0 15h0m1-174h0m0 11h0m0 15h0m0 1h0m0 10h0m0 12h0m0 7h0m0 6h0m0 9h0m0 6h0m0 10h0m0 0h0m0 1h0m0 15h0m0 5h0m0 6h0m0 8h0m0 4h0m0 3h0m0 22h0m0 1h0m0 25h0m1-187h0m0 8h0m0 30h0m0 13h0m0 1h0m0 2h0m0 1h0m0 3h0m0 14h0m0 6h0m0 1h0m0 2h0m0 10h0m0 0h0m0 2h0m0 13h0m0 1h0m0 22h0m0 14h0m0 4h0m0 10h0m0 17h0m1-127h0m0 16h0m0 8h0m0 6h0m0 14h0m0 21h0m0 1h0m0 12h0m0 3h0m0 4h0m0 2h0m0 37h0m0 8h0m1-170h0m0 45h0m0 1h0m0 3h0m0 52h0m0 6h0m0 7h0m0 20h0m0 31h0m0 4h0m0 15h0m1-187h0m0 2h0m0 37h0m0 3h0m0 7h0m0 6h0m0 50h0m0 2h0m0 16h0m0 1h0m0 4h0m0 5h0m0 1h0m0 4h0m0 17h0m0 5h0m1-165h0m0 33h0m0 9h0m0 9h0m0 4h0m0 2h0m0 0h0m0 78h0m0 36h0m0 3h0m0 0h0m1-155h0m0 29h0m0 5h0m0 2h0m0 16h0m0 49h0m0 10h0m0 1h0m0 2h0m0 8h0m0 25h0m0 3h0m0 1h0m1-169h0m0 27h0m0 9h0m0 7h0m0 3h0m0 5h0m0 17h0m0 3h0m0 42h0m0 37h0m0 8h0m0 2h0m0 7h0m0 6h0m1-148h0m0 23h0m0 10h0m0 3h0m0 82h0m0 18h0m1-146h0m0 0h0m0 25h0m0 1h0m0 2h0m0 92h0m0 7h0m0 10h0m0 9h0m0 4h0m0 34h0m1-192h0m0 2h0m0 2h0m0 7h0m0 29h0m0 14h0m0 92h0m0 3h0m0 10h0m0 0h0m1-215h0m0 80h0m0 26h0m0 87h0m0 9h0m0 2h0m0 0h0m0 4h0m0 1h0m0 3h0m0 4h0m0 23h0m1-224h0m0 42h0m0 11h0m0 14h0m0 32h0m0 81h0m0 7h0m0 13h0m0 6h0m0 0h0m0 7h0m0 1h0m1-208h0m0 17h0m0 1h0m0 19h0m0 16h0m0 8h0m0 32h0m0 104h0m0 2h0m0 1h0m0 6h0m0 3h0m0 6h0m0 1h0m0 5h0m0 3h0m1-198h0m0 38h0m0 5h0m0 18h0m0 2h0m0 4h0m0 94h0m0 27h0m1-167h0m0 6h0m0 4h0m0 1h0m0 7h0m0 1h0m0 6h0m0 105h0m0 3h0m0 1h0m0 2h0m0 7h0m0 4h0m0 5h0m0 14h0m0 3h0m0 9h0m1-201h0m0 16h0m0 5h0m0 2h0m0 20h0m0 119h0m0 0h0m0 1h0m0 7h0m0 2h0m0 5h0m0 0h0m0 2h0m0 13h0m0 2h0m1-194h0m0 13h0m0 8h0m0 136h0m0 2h0m0 7h0m0 3h0m0 3h0m0 13h0m0 4h0m0 3h0m1-187h0m0 4h0m0 5h0m0 12h0m0 14h0m0 3h0m0 117h0m0 6h0m0 2h0m0 22h0m0 5h0m0 5h0m1-227h0m0 7h0m0 47h0m0 141h0m0 7h0m1-171h0m0 22h0m0 2h0m0 146h0m1-185h0m0 20h0m0 4h0m0 19h0m0 3h0m0 3h0m0 0h0m0 125h0m0 1h0m0 8h0m0 6h0m0 4h0m0 3h0m1-162h0m0 10h0m0 158h0m1-165h0m0 1h0m0 8h0m0 149h0m0 4h0m0 3h0m0 10h0m1-200h0m0 28h0m0 140h0m0 5h0m1-211h0m0 35h0m0 7h0m0 17h0m0 1h0m0 3h0m0 4h0m0 2h0m0 1h0m0 134h0m0 1h0m0 3h0m0 1h0m0 3h0m0 6h0m0 3h0m0 7h0m0 3h0m0 5h0m0 1h0m1-242h0m0 72h0m0 2h0m0 136h0m0 1h0m0 18h0m1-176h0m0 5h0m0 5h0m0 0h0m0 11h0m0 143h0m0 7h0m1-172h0m0 2h0m0 165h0m0 23h0m1-229h0m0 20h0m0 9h0m0 20h0m0 3h0m0 6h0m0 145h0m0 19h0m1-200h0m0 11h0m0 6h0m0 164h0m0 3h0m0 8h0m0 0h0m1-163h0m0 3h0m0 155h0m0 12h0m1-208h0m0 22h0m0 18h0m0 166h0m1-212h0m0 212h0m1-182h0m0 5h0m0 2h0m0 7h0m0 0h0m0 152h0m0 25h0m0 2h0m0 0h0m1-196h0m0 5h0m0 8h0m0 4h0m0 155h0m0 1h0m0 4h0m0 2h0m0 2h0m0 0h0m1-203h0m0 18h0m0 14h0m0 3h0m0 173h0m0 11h0m1-204h0m0 10h0m0 5h0m0 10h0m0 5h0m0 150h0m0 11h0m0 1h0m1-172h0m0 0h0m1-31h0m0 30h0m0 0h0m0 5h0m0 2h0m0 158h0m0 3h0m1-220h0m0 31h0m0 12h0m0 13h0m0 162h0m0 5h0m0 6h0m1-190h0m0 22h0m0 154h0m0 18h0m0 0h0m0 2h0m1-195h0m0 4h0m0 8h0m0 4h0m0 2h0m0 1h0m0 166h0m0 1h0m1-208h0m0 8h0m0 4h0m0 17h0m0 6h0m0 3h0m0 4h0m0 162h0m1-178h0m0 3h0m0 5h0m0 177h0m1-207h0m0 28h0m0 10h0m1-50h0m0 1h0m0 23h0m0 25h0m1-49h0m0 34h0m0 7h0m0 182h0m0 3h0m1-253h0m0 37h0m0 10h0m0 10h0m0 12h0m0 5h0m0 1h0m0 2h0m0 159h0m0 5h0m1-186h0m0 12h0m0 2h0m0 169h0m0 1h0m1-210h0m0 46h0m0 161h0m1-177h0m0 5h0m0 175h0m0 7h0m0 6h0m1-255h0m0 44h0m0 7h0m0 22h0m0 171h0m0 5h0m0 5h0m0 3h0m0 0h0m0 0h0m1-213h0m0 12h0m0 11h0m0 3h0m0 1h0m0 1h0m0 173h0m0 2h0m0 1h0m0 4h0m0 2h0m0 0h0m1-229h0m0 3h0m0 32h0m0 6h0m0 9h0m0 178h0m0 3h0m0 1h0m1-188h0m0 4h0m1-17h0m1-41h0m0 50h0m0 0h0m1-40h0m0 12h0m0 13h0m0 4h0m0 1h0m0 6h0m0 6h0m0 0h0m1-34h0m0 8h0m0 5h0m0 15h0m0 1h0m0 1h0m1-23h0m0 8h0m0 3h0m0 8h0m1-15h0m0 12h0m0 9h0m1-15h0m0 7h0m1-3h0m0 6h0m0 3h0m1-10h0m0 6h0m1-4h0m0 11h0m1-60h0m0 55h0m1-9h0m0 11h0m1-25h0m0 20h0m0 2h0m0 5h0m1-42h0m0 15h0m0 18h0m1-29h0m0 17h0m1-29h0m0 22h0m0 11h0m0 7h0m0 198h0m0 1h0m1 0h0m1-192h0m0 192h0m0 0h0m1-221h0m0 26h0m0 196h0m0 0h0m1-237h0m0 41h0m1-40h0m0 10h0m0 229h0m1-218h0m0 3h0m0 11h0m0 1h0m0 0h0m1-55h0m0 51h0m0 0h0m0 6h0m0 2h0m0 198h0m1-234h0m0 17h0m0 13h0m0 0h0m0 5h0m1-8h0m1-37h0m0 242h0m0 1h0m1-216h0m0 9h0m0 3h0m0 201h0m0 1h0m1-203h0m0 4h0m0 201h0m0 0h0m0 1h0m0 1h0m1-2h0m1-224h0m0 12h0m0 7h0m0 1h0m1-19h0m0 12h0m0 207h0m1-228h0m0 234h0m1-223h0m0 1h0m0 13h0m0 3h0m0 4h0m0 2h0m0 199h0m1-215h0m0 9h0m0 2h0m0 2h0m0 1h0m0 0h0m0 3h0m1-32h0m0 21h0m0 203h0m0 6h0m1-245h0m0 12h0m0 16h0m0 18h0m0 1h0m0 192h0m0 0h0m1-193h0m0 2h0m1-1h0m0 197h0m1-230h0m0 23h0m0 3h0m1 200h0m1-1h0m1-238h0m0 30h0m0 3h0m0 7h0m0 199h0m1-234h0m0 0h0m1 24h0m0 5h0m0 3h0m0 9h0m0 2h0m0 193h0m1-226h0m0 8h0m0 24h0m1-28h0m0 20h0m0 5h0m0 1h0m0 196h0m1-191h0m0 195h0m1-212h0m0 1h0m1-44h0m0 21h0m1-20h0m0 14h0m0 21h0m0 12h0m0 7h0m0 3h0m0 193h0m1-214h0m0 9h0m0 206h0m1-222h0m1 2h0m0 6h0m0 15h0m0 0h0m0 1h0m0 195h0m0 2h0m0 2h0m1-251h0m0 25h0m0 223h0m1-246h0m0 12h0m0 4h0m0 31h0m0 7h0m0 192h0m1-234h0m0 5h0m0 27h0m0 12h0m1-18h0m0 17h0m0 193h0m0 2h0m1-253h0m0 50h0m0 4h0m0 4h0m1-32h0m0 22h0m0 8h0m0 195h0m1-229h0m0 2h0m0 24h0m0 10h0m0 0h0m0 189h0m1-231h0m0 26h0m0 5h0m1-24h0m0 13h0m0 4h0m1-13h0m0 12h0m0 3h0m0 4h0m0 10h0m0 193h0m1-235h0m0 37h0m0 2h0m0 199h0m1-203h0m0 2h0m0 3h0m0 196h0m0 2h0m1-247h0m0 25h0m0 3h0m0 7h0m0 1h0m0 203h0m0 4h0m1-224h0m0 21h0m0 200h0m0 8h0m1-256h0m0 22h0m0 26h0m0 205h0m0 4h0m1-221h0m0 6h0m0 9h0m0 6h0m0 190h0m0 4h0m0 6h0m1-5h0m0 0h0m0 1h0m1-217h0m0 16h0m0 0h0m0 204h0m0 0h0m1-244h0m0 41h0m0 192h0m0 3h0m0 1h0m1-225h0m0 15h0m0 4h0m0 5h0m0 195h0m1-217h0m0 14h0m0 0h0m0 10h0m0 2h0m0 7h0m0 1h0m0 189h0m0 3h0m1-227h0m0 3h0m0 10h0m0 211h0m0 4h0m0 3h0m1-226h0m0 9h0m0 8h0m0 194h0m0 9h0m0 7h0m1-235h0m0 20h0m0 3h0m0 10h0m0 185h0m0 1h0m1-210h0m0 5h0m0 14h0m0 2h0m0 0h0m0 2h0m0 4h0m0 1h0m0 183h0m0 3h0m0 2h0m0 4h0m1-236h0m0 39h0m0 8h0m0 178h0m0 0h0m0 1h0m0 11h0m1-193h0m0 184h0m0 1h0m0 4h0m0 3h0m0 4h0m1-206h0m1-29h0m0 26h0m0 2h0m0 191h0m0 4h0m0 7h0m1-243h0m0 38h0m0 8h0m0 4h0m0 186h0m0 3h0m0 8h0m1-242h0m0 11h0m0 38h0m0 181h0m0 14h0m1-233h0m0 7h0m0 20h0m0 4h0m0 193h0m0 8h0m1-202h0m0 6h0m0 0h0m0 187h0m0 3h0m1-215h0m0 2h0m0 1h0m0 20h0m0 0h0m0 0h0m1-49h0m0 20h0m0 22h0m0 4h0m0 5h0m0 181h0m0 0h0m0 1h0m0 0h0m0 7h0m0 5h0m1-192h0m0 181h0m0 14h0m1-198h0m0 193h0m1-197h0m0 190h0m0 0h0m0 3h0m0 3h0m0 5h0m1-244h0m0 12h0m0 29h0m0 198h0m0 6h0m0 0h0m1-224h0m0 22h0m0 9h0m0 177h0m1-225h0m0 25h0m0 200h0m0 4h0m1-243h0m0 22h0m0 219h0m1-191h0m0 3h0m0 5h0m0 180h0m0 4h0m0 3h0m0 8h0m1-200h0m0 9h0m0 186h0m0 3h0m1-215h0m0 27h0m0 172h0m0 1h0m0 19h0m1-211h0m0 8h0m0 11h0m0 1h0m0 172h0m0 2h0m0 0h0m1-227h0m0 33h0m0 2h0m0 9h0m0 5h0m0 181h0m1-198h0m0 7h0m0 7h0m0 177h0m0 3h0m0 16h0m1-238h0m0 21h0m0 25h0m0 182h0m0 13h0m1-193h0m0 1h0m0 8h0m0 166h0m0 2h0m0 9h0m1-187h0m0 12h0m1 152h0m0 8h0m0 11h0m1-191h0m0 17h0m0 2h0m0 3h0m0 151h0m0 9h0m0 15h0m1-209h0m0 11h0m0 5h0m0 0h0m0 2h0m0 5h0m0 3h0m0 10h0m0 159h0m0 19h0m1-223h0m0 29h0m0 1h0m0 1h0m0 165h0m0 4h0m0 7h0m1-213h0m0 48h0m0 3h0m0 6h0m0 140h0m0 3h0m0 5h0m1-194h0m0 12h0m0 1h0m0 13h0m0 4h0m0 156h0m0 7h0m0 2h0m0 12h0m0 2h0m1-218h0m0 4h0m0 7h0m0 21h0m0 11h0m0 8h0m0 1h0m0 2h0m0 142h0m0 0h0m0 4h0m0 8h0m0 4h0m0 12h0m1-206h0m0 26h0m0 0h0m0 10h0m0 11h0m0 135h0m0 12h0m0 1h0m1-227h0m0 35h0m0 28h0m0 2h0m0 13h0m0 127h0m0 19h0m0 1h0m1-165h0m0 8h0m0 10h0m0 2h0m0 151h0m1-204h0m0 14h0m0 24h0m0 5h0m0 3h0m0 145h0m0 23h0m1-217h0m0 22h0m0 165h0m0 8h0m0 2h0m1-171h0m0 1h0m0 11h0m0 17h0m0 157h0m1-232h0m0 26h0m0 38h0m0 140h0m0 9h0m0 22h0m0 0h0m0 1h0m1-210h0m0 9h0m0 3h0m0 168h0m0 4h0m0 1h0m0 5h0m1-162h0m0 6h0m0 0h0m0 7h0m0 0h0m0 1h0m0 10h0m0 141h0m0 6h0m1-230h0m0 47h0m0 4h0m0 15h0m0 13h0m0 4h0m0 3h0m0 0h0m0 114h0m0 1h0m0 1h0m0 6h0m0 2h0m0 4h0m0 6h0m0 7h0m1-206h0m0 1h0m0 0h0m0 26h0m0 10h0m0 4h0m0 3h0m0 1h0m0 0h0m0 3h0m0 133h0m0 4h0m0 1h0m0 6h0m0 2h0m1-220h0m0 36h0m0 4h0m0 9h0m0 12h0m0 24h0m0 2h0m0 0h0m0 2h0m0 122h0m0 7h0m0 3h0m0 3h0m1-201h0m0 3h0m0 10h0m0 36h0m0 9h0m0 0h0m0 5h0m0 5h0m0 2h0m0 2h0m0 95h0m0 5h0m0 6h0m0 4h0m0 6h0m0 3h0m0 3h0m0 9h0m0 12h0m0 4h0m0 0h0m1-218h0m0 4h0m0 7h0m0 21h0m0 17h0m0 6h0m0 15h0m0 96h0m0 3h0m0 4h0m0 9h0m0 10h0m0 5h0m0 13h0m0 4h0m1-223h0m0 16h0m0 21h0m0 30h0m0 3h0m0 6h0m0 3h0m0 3h0m0 11h0m0 4h0m0 92h0m1-161h0m0 11h0m0 13h0m0 14h0m0 4h0m0 101h0m0 2h0m0 12h0m0 2h0m0 3h0m0 21h0m0 3h0m1-177h0m0 5h0m0 9h0m0 4h0m0 10h0m0 5h0m0 101h0m0 1h0m0 7h0m0 8h0m0 19h0m1-215h0m0 18h0m0 4h0m0 15h0m0 13h0m0 3h0m0 8h0m0 2h0m0 15h0m0 5h0m0 0h0m0 3h0m0 7h0m0 15h0m0 73h0m0 18h0m0 12h0m1-115h0m0 3h0m0 7h0m0 2h0m0 2h0m0 64h0m1-152h0m0 60h0m0 93h0m0 4h0m0 5h0m0 18h0m0 31h0m1-194h0m0 17h0m0 29h0m0 2h0m0 3h0m0 6h0m0 8h0m0 7h0m0 64h0m0 21h0m0 7h0m0 4h0m0 11h0m0 16h0m0 4h0m1-205h0m0 15h0m0 8h0m0 16h0m0 3h0m0 98h0m0 3h0m0 11h0m0 14h0m0 20h0m0 2h0m1-151h0m0 17h0m0 2h0m0 15h0m0 6h0m0 2h0m0 71h0m0 12h0m0 3h0m0 26h0m1-111h0m0 39h0m0 11h0m0 2h0m0 2h0m0 8h0m0 7h0m0 1h0m0 9h0m0 1h0m0 17h0m0 1h0m0 16h0m1-147h0m0 8h0m0 7h0m0 14h0m0 2h0m0 0h0m0 5h0m0 39h0m0 0h0m0 5h0m0 4h0m0 6h0m0 1h0m0 9h0m0 4h0m0 18h0m0 31h0m1-161h0m0 40h0m0 4h0m0 4h0m0 31h0m0 1h0m0 10h0m0 4h0m0 5h0m0 1h0m0 5h0m0 10h0m0 1h0m0 6h0m0 43h0m1-219h0m0 43h0m0 21h0m0 14h0m0 20h0m0 2h0m0 33h0m0 18h0m0 0h0m0 12h0m0 3h0m0 3h0m0 12h0m1-181h0m0 37h0m0 9h0m0 24h0m0 14h0m0 7h0m0 5h0m0 5h0m0 4h0m0 10h0m0 4h0m0 11h0m0 1h0m0 3h0m0 3h0m0 6h0m0 2h0m0 4h0m0 32h0m0 1h0m1-176h0m0 108h0m0 4h0m0 9h0m0 7h0m0 16h0m0 4h0m0 8h0m0 33h0m0 3h0m1-121h0m0 11h0m0 19h0m0 10h0m0 6h0m0 4h0m0 9h0m0 1h0m0 4h0m0 8h0m0 6h0m0 3h0m0 12h0m0 9h0m1-214h0m0 75h0m0 60h0m0 20h0m0 2h0m0 17h0m0 4h0m0 9h0m0 3h0m0 47h0m1-186h0m0 51h0m0 4h0m0 16h0m0 25h0m1-80h0m0 39h0m0 20h0m0 42h0m0 6h0m0 0h0m0 4h0m0 6h0m0 2h0m1-61h0m0 2h0m0 2h0m0 15h0m0 1h0m0 4h0m0 5h0m0 9h0m0 3h0m0 4h0m0 0h0m0 12h0m0 7h0m0 8h0m0 6h0m0 0h0m0 8h0m0 13h0m0 1h0m0 7h0m1-129h0m0 1h0m0 14h0m0 35h0m0 48h0m0 5h0m1-140h0m0 36h0m0 7h0m0 31h0m0 12h0m0 4h0m0 3h0m0 6h0m0 4h0m0 8h0m0 13h0m0 13h0m0 6h0m0 5h0m0 1h0m0 22h0m1-161h0m0 37h0m0 21h0m0 1h0m0 0h0m0 16h0m0 0h0m0 1h0m0 7h0m0 16h0m0 9h0m1-121h0m0 8h0m0 18h0m0 2h0m0 12h0m0 13h0m0 20h0m0 8h0m0 5h0m0 11h0m0 36h0m0 6h0m0 0h0m0 0h0m0 18h0m0 21h0m0 14h0m1-179h0m0 46h0m0 1h0m0 15h0m0 2h0m0 8h0m0 2h0m0 12h0m0 3h0m0 10h0m0 7h0m1-114h0m0 11h0m0 26h0m0 29h0m0 5h0m0 3h0m0 6h0m0 41h0m0 1h0m0 7h0m0 4h0m0 4h0m0 7h0m0 34h0m1-177h0m0 53h0m0 17h0m0 5h0m0 13h0m0 15h0m0 5h0m0 12h0m0 0h0m0 22h0m0 20h0m1-113h0m0 7h0m0 44h0m0 18h0m0 15h0m1-99h0m0 1h0m0 73h0m0 23h0m0 8h0m1-151h0m0 88h0m0 25h0m0 11h0m0 0h0m0 0h0m0 41h0m1-133h0m0 2h0m0 18h0m0 25h0m0 82h0m1-198h0m0 122h0m0 28h0m0 0h0m0 65h0m1-171h0m0 43h0m0 39h0m0 7h0m0 57h0m1-92h0m0 8h0m0 9h0m0 30h0m0 15h0m0 9h0m0 2h0m0 15h0m1-83h0m0 18h0m0 18h0m0 2h0m0 83h0m0 12h0m1-196h0m0 41h0m0 20h0m0 20h0m0 26h0m0 17h0m1-135h0m0 77h0m0 55h0m0 1h0m1 27h0m0 21h0m1-115h0m0 15h0m0 14h0m0 52h0m0 35h0"/>
<path fill="#fff" fill-rule="evenodd" d="M521.8 836L522.2 836.3L528.7 836L528.7 829.4L528.7 829.4L535.2 829.4L541.8 828.7L548.3 829.4L554.8 827.3L560.3 822.9L561.3 822.7L562.4 822.9L567.8 824.4L569.6 822.9L574.3 816.9L574.7 816.4L580.8 812.8L583.1 809.9L583.1 803.4L587.3 798.4L588.1 796.9L588.7 790.4L590.4 783.9L591.3 777.4L588.9 770.9L587.3 768.7L583.9 764.4L584.1 757.9L580.8 753.7L576.7 751.4L575.7 744.9L574.3 743.7L571.2 738.4L567.8 735.3L561.3 735.1L554.8 733.5L548.3 736.1L541.8 735.1L535.8 731.9L535.2 731.6L535 731.9L528.7 736.9L525.2 738.4L522.2 740L516.5 744.9L515.7 745.4L509.2 744.9L504.2 751.4L502.7 753.8L498.1 757.9L502.1 764.4L496.2 769.6L494.7 770.9L495.3 777.4L493.7 783.9L496.2 787.2L497.7 790.4L496.7 796.9L499.5 803.4L502.7 809.9L502.7 809.9L508.6 816.4L509.2 816.8L515.7 822L519 822.9L521.8 829.4L521.8 836Z"/>
<g transform="translate(473.45 702.6) scale(6.5050)" shape-rendering="crispEdges">
<path fill="#fafafa" d="M2 14h1v1h-1zM3 17h1v1h-1zM3 15h1v1h-1zM3 14h1v1h-1zM3 13h1v1h-1zM3 8h1v1h-1zM4 17h1v1h-1zM4 16h1v1h-1zM4 9h1v1h-1zM4 7h1v1h-1zM5 17h1v1h-1zM5 6h1v1h-1zM6 18h1v1h-1zM6 6h1v1h-1zM6 5h1v1h-1zM7 19h1v1h-1zM7 18h1v1h-1zM7 5h1v1h-1zM7 4h1v1h-1zM8 19h1v1h-1zM9 19h1v1h-1zM9 4h1v1h-1zM10 19h1v1h-1zM10 4h1v1h-1zM11 19h1v1h-1zM11 4h1v1h-1zM12 19h1v1h-1zM12 4h1v1h-1zM13 19h1v1h-1zM13 18h1v1h-1zM13 4h1v1h-1zM15 18h1v1h-1zM15 17h1v1h-1zM16 7h1v1h-1zM16 6h1v1h-1zM17 15h1v1h-1zM17 14h1v1h-1zM18 12h1v1h-1zM18 11h1v1h-1z"/>
<path fill="#f5f5f5" d="M3 12h1v1h-1zM3 11h1v1h-1zM3 10h1v1h-1zM4 15h1v1h-1zM4 14h1v1h-1zM4 11h1v1h-1zM4 8h1v1h-1zM6 17h1v1h-1zM8 18h1v1h-1zM8 5h1v1h-1zM10 5h1v1h-1zM11 18h1v1h-1zM11 5h1v1h-1zM12 18h1v1h-1zM12 17h1v1h-1zM13 5h1v1h-1zM14 18h1v1h-1zM15 7h1v1h-1zM15 6h1v1h-1zM16 16h1v1h-1zM16 15h1v1h-1zM17 13h1v1h-1zM17 12h1v1h-1zM17 11h1v1h-1zM17 10h1v1h-1z"/>
<path fill="#f0f0f0" d="M4 12h1v1h-1zM4 10h1v1h-1zM5 16h1v1h-1zM5 7h1v1h-1zM6 7h1v1h-1zM7 17h1v1h-1zM7 6h1v1h-1zM9 18h1v1h-1zM9 5h1v1h-1zM11 6h1v1h-1zM12 6h1v1h-1zM12 5h1v1h-1zM13 17h1v1h-1zM13 6h1v1h-1zM14 17h1v1h-1zM14 7h1v1h-1zM14 6h1v1h-1zM14 5h1v1h-1zM15 16h1v1h-1zM16 9h1v1h-1zM16 8h1v1h-1z"/>
<path fill="#ebebeb" d="M4 13h1v1h-1zM5 11h1v1h-1zM5 8h1v1h-1zM8 17h1v1h-1zM9 17h1v1h-1zM10 18h1v1h-1zM10 17h1v1h-1zM15 15h1v1h-1zM15 8h1v1h-1zM16 14h1v1h-1zM16 11h1v1h-1zM16 10h1v1h-1z"/>
<path fill="#e6e6e6" d="M5 15h1v1h-1zM5 14h1v1h-1zM5 9h1v1h-1zM8 7h1v1h-1zM8 6h1v1h-1zM9 6h1v1h-1zM10 6h1v1h-1zM15 9h1v1h-1zM16 13h1v1h-1zM16 12h1v1h-1z"/>
<path fill="#e1e1e1" d="M5 12h1v1h-1zM6 16h1v1h-1zM7 7h1v1h-1zM11 17h1v1h-1zM14 16h1v1h-1zM15 13h1v1h-1z"/>
<path fill="#dcdcdc" d="M5 13h1v1h-1zM5 10h1v1h-1zM9 7h1v1h-1zM10 7h1v1h-1zM12 16h1v1h-1zM12 7h1v1h-1zM15 14h1v1h-1zM15 10h1v1h-1z"/>
<path fill="#d7d7d7" d="M6 15h1v1h-1zM6 8h1v1h-1zM7 16h1v1h-1zM7 15h1v1h-1zM7 8h1v1h-1zM13 16h1v1h-1z"/>
<path fill="#d2d2d2" d="M6 11h1v1h-1zM8 8h1v1h-1zM14 15h1v1h-1zM15 11h1v1h-1z"/>
<path fill="#cdcdcd" d="M6 14h1v1h-1zM9 16h1v1h-1zM10 16h1v1h-1zM11 16h1v1h-1zM11 7h1v1h-1zM12 8h1v1h-1zM13 8h1v1h-1zM13 7h1v1h-1zM14 9h1v1h-1z"/>
<path fill="#c8c8c8" d="M6 13h1v1h-1zM6 10h1v1h-1zM13 9h1v1h-1zM14 10h1v1h-1zM14 8h1v1h-1z"/>
<path fill="#c3c3c3" d="M10 8h1v1h-1zM13 15h1v1h-1z"/>
<path fill="#bebebe" d="M6 9h1v1h-1zM7 13h1v1h-1zM7 10h1v1h-1zM12 15h1v1h-1zM14 14h1v1h-1z"/>
<path fill="#b9b9b9" d="M7 9h1v1h-1zM10 15h1v1h-1zM12 9h1v1h-1zM14 12h1v1h-1zM15 12h1v1h-1z"/>
<path fill="#b4b4b4" d="M6 12h1v1h-1zM7 14h1v1h-1zM8 9h1v1h-1zM9 8h1v1h-1zM11 8h1v1h-1zM14 11h1v1h-1z"/>
<path fill="#afafaf" d="M8 16h1v1h-1zM8 14h1v1h-1z"/>
<path fill="#aaaaaa" d="M8 15h1v1h-1zM12 14h1v1h-1zM14 13h1v1h-1z"/>
<path fill="#a5a5a5" d="M7 11h1v1h-1zM8 10h1v1h-1zM11 9h1v1h-1z"/>
<path fill="#a0a0a0" d="M7 12h1v1h-1zM8 12h1v1h-1zM9 15h1v1h-1zM10 14h1v1h-1z"/>
<path fill="#9b9b9b" d="M13 14h1v1h-1zM13 10h1v1h-1z"/>
<path fill="#919191" d="M9 14h1v1h-1zM11 14h1v1h-1zM13 13h1v1h-1zM13 11h1v1h-1z"/>
<path fill="#8c8c8c" d="M9 9h1v1h-1zM10 9h1v1h-1zM12 13h1v1h-1z"/>
<path fill="#878787" d="M9 12h1v1h-1zM12 10h1v1h-1z"/>
<path fill="#787878" d="M8 13h1v1h-1zM9 10h1v1h-1zM11 15h1v1h-1zM13 12h1v1h-1z"/>
<path fill="#696969" d="M10 12h1v1h-1z"/>
<path fill="#646464" d="M8 11h1v1h-1zM9 11h1v1h-1z"/>
<path fill="#5f5f5f" d="M11 12h1v1h-1zM11 11h1v1h-1z"/>
<path fill="#5a5a5a" d="M9 13h1v1h-1z"/>
<path fill="#555555" d="M11 10h1v1h-1zM12 12h1v1h-1z"/>
<path fill="#505050" d="M10 13h1v1h-1zM10 11h1v1h-1zM11 13h1v1h-1zM12 11h1v1h-1z"/>
<path fill="#000000" d="M10 10h1v1h-1z"/>
</g>
<path class="ct" d="M521.8 836L522.2 836.3L528.7 836L528.7 829.4L528.7 829.4L535.2 829.4L541.8 828.7L548.3 829.4L554.8 827.3L560.3 822.9L561.3 822.7L562.4 822.9L567.8 824.4L569.6 822.9L574.3 816.9L574.7 816.4L580.8 812.8L583.1 809.9L583.1 803.4L587.3 798.4L588.1 796.9L588.7 790.4L590.4 783.9L591.3 777.4L588.9 770.9L587.3 768.7L583.9 764.4L584.1 757.9L580.8 753.7L576.7 751.4L575.7 744.9L574.3 743.7L571.2 738.4L567.8 735.3L561.3 735.1L554.8 733.5L548.3 736.1L541.8 735.1L535.8 731.9L535.2 731.6L535 731.9L528.7 736.9L525.2 738.4L522.2 740L516.5 744.9L515.7 745.4L509.2 744.9L504.2 751.4L502.7 753.8L498.1 757.9L502.1 764.4L496.2 769.6L494.7 770.9L495.3 777.4L493.7 783.9L496.2 787.2L497.7 790.4L496.7 796.9L499.5 803.4L502.7 809.9L502.7 809.9L508.6 816.4L509.2 816.8L515.7 822L519 822.9L521.8 829.4ZM544.6 816.4L548.3 818.5L550.3 816.4L554.8 813.2L561.3 814.5L567.8 812.7L570 809.9L574.1 803.4L574.3 803.1L579.5 796.9L580.8 794L581.9 790.4L581.3 783.9L580.8 781.3L580.2 777.4L578.7 770.9L574.3 764.4L574.3 764.4L574 757.9L567.8 752.8L566.2 751.4L561.3 746.5L554.8 747.7L548.3 746.5L542.7 744.9L541.8 744.3L535.2 744.9L535.2 744.9L535.2 744.9L528.7 744L527.6 744.9L528.7 751.4L528.7 751.4L528.7 751.4L528.7 751.4L522.2 748.9L519.1 751.4L515.7 753.6L510.2 757.9L509.2 762.2L508.8 764.4L505.9 770.9L509.2 776.6L509.6 777.4L509.2 778.3L505.7 783.9L503.4 790.4L507.7 796.9L508 803.4L509.2 804.8L513.7 809.9L515.7 811.7L522.2 814.2L528.7 816.1L535.2 815.3L541.8 815.4ZM527.4 809.9L528.7 810.7L530.7 809.9L535.2 807L541.8 803.8L548.3 808.1L554 803.4L554.8 801.2L561.3 801.3L566.7 796.9L567.8 795.2L569.3 790.4L567.8 784.3L567.6 783.9L567.8 782.6L568.6 777.4L567.8 776.2L565.1 770.9L561.3 766.7L554.8 764.4L554.8 764.4L548.8 757.9L548.3 757.3L547 757.9L541.8 759.1L536.5 757.9L535.2 757.6L534.8 757.9L528.7 763.9L525.5 764.4L523.2 770.9L522.2 771.9L519.7 777.4L515.7 782.9L515.1 783.9L515.7 785.6L522.2 789.5L522.6 790.4L522.2 793.2L521.1 796.9L522.2 797.7L526.9 803.4ZM533.1 790.4L535.2 791.6L541.8 791.9L548.3 792.4L550.4 790.4L554.8 785.6L557.3 783.9L556.6 777.4L554.8 775.1L550.1 770.9L548.3 769.8L541.8 768.1L537.6 770.9L535.8 777.4L541.8 782.9L543.9 783.9L541.8 784.8L535.2 788.8Z"/>
</g>
<g clip-path="url(#c54)">
<path class="pt" transform="translate(610.05 702.6) scale(.5)" d="m0 92h0m0 22h0m0 26h0m0 3h0m1-73h0m0 76h0m0 29h0m1-135h0m0 43h0m0 18h0m0 31h0m0 9h0m0 0h0m0 6h0m0 8h0m0 11h0m0 16h0m1-171h0m0 61h0m0 57h0m0 1h0m0 1h0m0 1h0m0 4h0m0 4h0m0 82h0m1-191h0m0 52h0m0 41h0m0 6h0m0 6h0m0 3h0m0 4h0m0 1h0m0 50h0m0 1h0m0 28h0m1-84h0m0 17h0m0 9h0m0 26h0m0 13h0m0 3h0m1-103h0m0 12h0m0 20h0m0 33h0m0 39h0m1-129h0m0 39h0m0 32h0m0 19h0m0 11h0m0 13h0m0 6h0m1-111h0m0 35h0m0 58h0m1-177h0m0 110h0m0 33h0m0 15h0m0 13h0m0 5h0m0 6h0m1-87h0m0 16h0m0 11h0m0 37h0m1-60h0m0 27h0m0 3h0m0 48h0m0 12h0m1-84h0m0 3h0m0 16h0m0 3h0m0 7h0m0 52h0m1-151h0m0 35h0m0 47h0m0 30h0m0 12h0m0 0h0m0 15h0m0 2h0m0 13h0m0 1h0m1-124h0m0 21h0m0 12h0m0 1h0m0 2h0m0 19h0m0 6h0m0 29h0m0 4h0m0 14h0m0 79h0m1-174h0m0 22h0m0 2h0m0 2h0m0 12h0m0 32h0m0 17h0m0 10h0m1-95h0m0 26h0m0 13h0m0 12h0m0 1h0m0 40h0m0 18h0m0 17h0m0 4h0m1-88h0m0 19h0m0 7h0m0 6h0m0 19h0m0 37h0m1-133h0m0 32h0m0 20h0m0 4h0m0 28h0m0 4h0m0 9h0m0 13h0m1-33h0m0 12h0m0 1h0m0 9h0m0 38h0m1-118h0m0 9h0m0 13h0m0 9h0m0 5h0m0 8h0m0 17h0m0 23h0m0 5h0m0 19h0m0 16h0m1-206h0m0 48h0m0 29h0m0 30h0m0 6h0m0 1h0m0 24h0m0 18h0m0 2h0m0 15h0m1-95h0m0 11h0m0 29h0m0 1h0m0 6h0m0 5h0m0 14h0m0 51h0m0 29h0m1-165h0m0 33h0m0 5h0m0 11h0m0 22h0m0 2h0m0 7h0m0 10h0m0 17h0m1-90h0m0 23h0m0 20h0m0 38h0m0 3h0m0 9h0m0 7h0m1-114h0m0 28h0m0 42h0m0 11h0m0 9h0m1-80h0m0 32h0m0 10h0m0 3h0m0 20h0m0 2h0m0 27h0m0 4h0m0 8h0m0 18h0m0 7h0m0 5h0m1-218h0m0 100h0m0 13h0m0 21h0m0 5h0m0 1h0m0 30h0m0 8h0m0 5h0m1-156h0m0 80h0m0 24h0m0 1h0m0 6h0m0 11h0m0 21h0m0 12h0m0 10h0m0 6h0m0 46h0m1-189h0m0 41h0m0 14h0m0 18h0m0 6h0m0 14h0m0 25h0m0 7h0m0 3h0m0 8h0m0 18h0m0 38h0m1-176h0m0 0h0m0 3h0m0 4h0m0 39h0m0 11h0m0 4h0m0 8h0m0 1h0m0 4h0m0 3h0m0 2h0m0 27h0m0 12h0m0 37h0m0 4h0m1-162h0m0 6h0m0 9h0m0 27h0m0 6h0m0 4h0m0 25h0m0 3h0m0 1h0m0 9h0m0 7h0m0 22h0m1-106h0m0 47h0m0 2h0m0 5h0m0 56h0m0 14h0m0 18h0m0 27h0m1-194h0m0 16h0m0 12h0m0 23h0m0 10h0m0 5h0m0 20h0m0 1h0m0 10h0m0 11h0m0 5h0m0 1h0m0 6h0m0 2h0m0 9h0m1-133h0m0 54h0m0 3h0m0 21h0m0 16h0m0 9h0m0 20h0m0 10h0m0 10h0m1-110h0m0 32h0m0 16h0m0 13h0m0 16h0m0 7h0m0 6h0m0 4h0m0 2h0m0 0h0m0 33h0m0 5h0m1-185h0m0 56h0m0 13h0m0 7h0m0 8h0m0 56h0m0 5h0m0 17h0m0 8h0m0 21h0m1-147h0m0 14h0m0 33h0m0 14h0m0 8h0m0 31h0m0 15h0m0 31h0m0 3h0m0 3h0m1-152h0m0 17h0m0 41h0m0 5h0m0 26h0m0 3h0m1-143h0m0 56h0m0 27h0m0 0h0m0 4h0m0 2h0m0 0h0m0 14h0m0 6h0m0 8h0m0 4h0m0 9h0m0 14h0m0 4h0m0 20h0m0 30h0m1-137h0m0 7h0m0 7h0m0 11h0m0 13h0m0 1h0m0 3h0m0 4h0m0 1h0m0 2h0m0 0h0m0 1h0m0 2h0m0 1h0m0 2h0m0 9h0m0 0h0m0 2h0m0 0h0m0 5h0m0 4h0m0 7h0m0 2h0m0 5h0m0 1h0m0 5h0m0 13h0m0 18h0m0 7h0m0 7h0m0 10h0m1-168h0m0 15h0m0 19h0m0 3h0m0 10h0m0 6h0m0 7h0m0 11h0m0 24h0m0 26h0m0 4h0m0 7h0m0 3h0m0 7h0m1-182h0m0 22h0m0 5h0m0 13h0m0 7h0m0 36h0m0 19h0m0 12h0m0 12h0m0 6h0m0 45h0m0 27h0m0 4h0m0 9h0m1-200h0m0 13h0m0 39h0m0 5h0m0 5h0m0 0h0m0 2h0m0 1h0m0 6h0m0 2h0m0 1h0m0 18h0m0 1h0m0 7h0m0 1h0m0 4h0m0 7h0m0 14h0m0 3h0m0 1h0m0 22h0m0 34h0m1-177h0m0 41h0m0 3h0m0 19h0m0 3h0m0 7h0m0 6h0m0 2h0m0 0h0m0 5h0m0 1h0m0 2h0m0 3h0m0 10h0m0 1h0m0 20h0m0 5h0m0 6h0m0 1h0m0 13h0m1-142h0m0 54h0m0 4h0m0 18h0m0 23h0m0 5h0m0 10h0m0 6h0m0 16h0m1-193h0m0 40h0m0 21h0m0 1h0m0 17h0m0 20h0m0 1h0m0 2h0m0 50h0m0 2h0m0 6h0m0 9h0m0 5h0m0 17h0m0 9h0m0 28h0m0 13h0m1-173h0m0 47h0m0 0h0m0 48h0m0 29h0m0 35h0m0 2h0m1-204h0m0 9h0m0 14h0m0 25h0m0 12h0m0 4h0m0 1h0m0 4h0m0 0h0m0 15h0m0 6h0m0 8h0m0 40h0m0 13h0m0 7h0m1-148h0m0 12h0m0 41h0m0 16h0m0 12h0m0 2h0m0 2h0m0 70h0m0 2h0m0 34h0m1-186h0m0 51h0m0 4h0m0 1h0m0 14h0m0 5h0m0 43h0m0 37h0m0 2h0m0 5h0m0 13h0m1-151h0m0 2h0m0 13h0m0 13h0m0 19h0m0 0h0m0 49h0m0 29h0m0 2h0m0 1h0m0 4h0m0 5h0m0 0h0m0 2h0m0 12h0m0 1h0m0 26h0m1-173h0m0 11h0m0 4h0m0 13h0m0 5h0m0 3h0m0 2h0m0 4h0m0 74h0m0 4h0m0 1h0m0 11h0m0 20h0m0 5h0m1-173h0m0 11h0m0 19h0m0 9h0m0 0h0m0 19h0m0 74h0m0 0h0m0 2h0m0 12h0m0 12h0m1-159h0m0 10h0m0 16h0m0 4h0m0 14h0m0 14h0m0 86h0m0 6h0m0 17h0m0 7h0m1-192h0m0 19h0m0 43h0m0 14h0m0 79h0m0 12h0m1-164h0m0 42h0m0 10h0m0 11h0m0 7h0m0 95h0m0 30h0m0 7h0m1-179h0m0 12h0m0 11h0m0 2h0m0 21h0m0 0h0m0 1h0m0 102h0m0 10h0m1-186h0m0 22h0m0 3h0m0 7h0m0 15h0m0 7h0m0 16h0m0 4h0m0 90h0m0 14h0m0 29h0m1-160h0m0 10h0m0 1h0m0 103h0m0 10h0m0 1h0m0 4h0m0 5h0m0 1h0m0 8h0m1-167h0m0 32h0m0 111h0m0 40h0m1-180h0m0 5h0m0 1h0m0 2h0m0 7h0m0 10h0m0 113h0m0 21h0m0 2h0m0 1h0m1-176h0m0 26h0m0 6h0m0 7h0m0 0h0m0 112h0m0 7h0m0 13h0m1-184h0m0 27h0m0 6h0m0 19h0m0 0h0m0 126h0m1-181h0m0 20h0m0 18h0m0 136h0m0 6h0m0 8h0m0 1h0m0 0h0m1-207h0m0 54h0m0 0h0m0 8h0m0 7h0m0 3h0m0 118h0m1-173h0m0 43h0m0 164h0m1-246h0m0 31h0m0 30h0m0 154h0m0 0h0m0 6h0m0 23h0m0 5h0m1-197h0m0 22h0m0 2h0m0 6h0m0 4h0m0 1h0m0 132h0m0 20h0m1-185h0m0 15h0m0 2h0m0 1h0m0 6h0m0 13h0m1-44h0m0 22h0m0 3h0m0 3h0m0 1h0m0 14h0m0 1h0m0 131h0m0 7h0m1-14h0m0 6h0m0 10h0m0 5h0m0 0h0m1-205h0m0 40h0m0 4h0m0 12h0m1-23h0m0 5h0m0 3h0m0 3h0m0 7h0m1-26h0m0 4h0m0 1h0m0 178h0m0 1h0m1-176h0m0 7h0m0 146h0m0 2h0m0 5h0m0 3h0m1-193h0m0 31h0m0 1h0m0 3h0m0 12h0m0 140h0m1-184h0m0 12h0m0 2h0m0 10h0m0 1h0m0 1h0m0 0h0m0 16h0m0 137h0m0 0h0m0 17h0m0 12h0m1-177h0m0 9h0m0 138h0m0 2h0m0 4h0m0 1h0m0 4h0m0 11h0m1-175h0m0 1h0m0 0h0m0 10h0m0 146h0m0 1h0m0 21h0m0 11h0m1-201h0m0 24h0m0 147h0m0 1h0m0 3h0m0 2h0m0 11h0m0 1h0m0 2h0m1-210h0m0 26h0m0 8h0m1-45h0m0 28h0m0 25h0m0 167h0m0 1h0m0 10h0m1-204h0m0 21h0m0 155h0m0 24h0m1-197h0m0 21h0m0 148h0m0 33h0m1-204h0m0 2h0m0 8h0m0 4h0m0 0h0m0 2h0m0 162h0m1-161h0m0 5h0m0 152h0m0 0h0m0 10h0m0 4h0m0 4h0m0 1h0m1-222h0m0 26h0m0 181h0m0 7h0m0 12h0m0 6h0m1-190h0m0 184h0m0 5h0m1-190h0m0 160h0m0 4h0m0 24h0m0 4h0m1-219h0m0 17h0m0 9h0m0 3h0m0 3h0m0 0h0m0 158h0m0 14h0m0 2h0m0 8h0m1-183h0m0 156h0m0 10h0m1-219h0m0 47h0m0 165h0m0 3h0m0 1h0m0 2h0m0 18h0m0 0h0m0 1h0m0 2h0m1-220h0m0 32h0m0 184h0m0 6h0m1-238h0m0 12h0m0 22h0m0 18h0m0 160h0m0 2h0m0 1h0m0 1h0m0 9h0m0 12h0m1-218h0m0 3h0m0 4h0m0 199h0m1-211h0m0 4h0m0 10h0m0 8h0m0 1h0m0 10h0m0 3h0m0 167h0m0 5h0m0 7h0m0 3h0m1-213h0m0 1h0m0 16h0m0 8h0m0 5h0m0 169h0m0 19h0m0 1h0m1-211h0m0 5h0m0 3h0m0 13h0m0 172h0m0 0h0m0 0h0m1-192h0m1-31h0m0 7h0m0 5h0m0 6h0m0 19h0m0 2h0m0 10h0m0 181h0m0 3h0m1-217h0m0 206h0m1-205h0m0 30h0m0 4h0m0 2h0m0 168h0m0 5h0m0 15h0m0 0h0m1-242h0m0 49h0m0 2h0m0 7h0m0 174h0m0 6h0m1-213h0m0 16h0m0 11h0m0 177h0m0 3h0m1-229h0m0 15h0m0 2h0m0 14h0m0 20h0m0 170h0m0 0h0m1-180h0m0 11h0m0 172h0m0 8h0m0 4h0m1-187h0m0 178h0m0 3h0m0 1h0m0 3h0m0 0h0m1-232h0m0 35h0m0 3h0m0 185h0m0 4h0m1-230h0m0 29h0m0 10h0m0 4h0m0 4h0m0 182h0m0 10h0m0 1h0m1-251h0m0 18h0m0 32h0m0 3h0m0 0h0m0 5h0m0 4h0m1-24h0m0 4h0m0 10h0m0 0h0m0 18h0m0 0h0m0 166h0m0 6h0m1-221h0m0 24h0m0 5h0m0 16h0m0 171h0m1 13h0m1-226h0m0 9h0m0 20h0m0 10h0m0 174h0m0 13h0m1-203h0m0 7h0m0 4h0m0 192h0m1-205h0m0 18h0m0 178h0m1-189h0m0 6h0m0 184h0m0 9h0m1-245h0m0 28h0m0 11h0m0 6h0m0 13h0m0 1h0m0 178h0m1-189h0m0 10h0m0 182h0m1-232h0m0 5h0m0 36h0m0 2h0m0 184h0m0 0h0m1-217h0m0 25h0m0 3h0m0 1h0m0 193h0m0 2h0m1-205h0m0 2h0m0 1h0m0 1h0m0 3h0m0 5h0m0 194h0m0 3h0m1-219h0m0 19h0m0 198h0m1-205h0m0 4h0m0 9h0m0 190h0m0 3h0m0 0h0m1-208h0m0 11h0m0 190h0m0 1h0m1-191h0m0 2h0m0 1h0m0 2h0m0 192h0m1-257h0m0 27h0m0 34h0m0 4h0m0 186h0m1-200h0m0 9h0m1-22h0m0 10h0m0 12h0m1-23h0m0 3h0m0 6h0m0 4h0m0 5h0m0 13h0m1-39h0m0 36h0m1-32h0m0 25h0m0 1h0m0 5h0m1-60h0m0 9h0m0 19h0m0 38h0m1-16h0m0 10h0m0 3h0m0 181h0m0 1h0m0 1h0m0 3h0m0 2h0m1-187h0m0 183h0m1-232h0m0 6h0m0 6h0m0 28h0m0 11h0m1-52h0m0 9h0m0 1h0m0 31h0m0 9h0m1-25h0m0 20h0m0 1h0m0 5h0m0 3h0m0 177h0m0 6h0m0 2h0m1-220h0m0 5h0m0 4h0m0 13h0m0 189h0m0 3h0m1-211h0m0 25h0m0 192h0m1-204h0m0 1h0m0 8h0m0 8h0m0 188h0m1-251h0m0 31h0m0 13h0m0 2h0m0 9h0m0 2h0m1-23h0m0 22h0m1-6h0m1-55h0m0 44h0m0 2h0m0 15h0m0 1h0m0 189h0m1-232h0m0 14h0m0 3h0m0 15h0m0 7h0m0 5h0m0 188h0m1-252h0m0 59h0m0 4h0m0 2h0m1-36h0m0 12h0m0 15h0m0 2h0m1-5h0m0 6h0m1-39h0m0 7h0m0 37h0m1-38h0m0 27h0m0 9h0m1-14h0m1-25h0m0 1h0m0 29h0m1-41h0m0 7h0m1 17h0m0 22h0m0 1h0m0 2h0m1-36h0m0 25h0m1-33h0m0 32h0m0 6h0m0 2h0m0 195h0m1-235h0m0 15h0m0 27h0m0 195h0m1-221h0m0 14h0m0 0h0m0 1h0m0 5h0m0 204h0m2-221h0m0 14h0m0 1h0m0 0h0m0 2h0m1-28h0m0 26h0m0 6h0m0 193h0m0 6h0m1-234h0m0 226h0m0 0h0m1-225h0m0 2h0m0 21h0m0 8h0m1 1h0m0 2h0m0 193h0m0 6h0m1-221h0m0 218h0m1-230h0m0 31h0m0 3h0m0 195h0m1-222h0m0 28h0m0 195h0m1-235h0m0 41h0m0 190h0m1-200h0m1-37h0m0 46h0m0 192h0m0 1h0m0 2h0m0 0h0m0 3h0m1-229h0m0 16h0m0 8h0m0 201h0m0 0h0m0 1h0m0 3h0m0 1h0m1-217h0m0 17h0m0 2h0m0 0h0m0 192h0m1-240h0m0 23h0m0 15h0m1-21h0m0 3h0m0 8h0m0 4h0m0 9h0m1-30h0m0 19h0m0 16h0m1 1h0m0 2h0m1-17h0m0 3h0m0 7h0m0 5h0m0 1h0m0 2h0m1-39h0m0 14h0m0 14h0m0 9h0m0 2h0m1-23h0m0 1h0m0 3h0m1-34h0m0 43h0m1 13h0m1-65h0m0 33h0m1 13h0m0 6h0m0 1h0m0 8h0m1-37h0m0 23h0m0 12h0m0 4h0m0 0h0m1-23h0m0 3h0m0 3h0m0 2h0m0 9h0m1 2h0m1-56h0m0 49h0m1 11h0m0 2h0m0 0h0m1-21h0m0 12h0m0 3h0m0 4h0m1-24h0m0 7h0m0 10h0m1-26h0m0 14h0m0 12h0m0 0h0m0 8h0m0 3h0m1-37h0m0 8h0m1-6h0m0 17h0m0 6h0m0 8h0m0 189h0m1-188h0m0 0h0m0 187h0m0 1h0m1-210h0m0 21h0m0 3h0m0 1h0m0 190h0m1-215h0m0 8h0m0 1h0m0 3h0m0 12h0m0 189h0m1-197h0m0 9h0m0 2h0m0 186h0m0 1h0m2-210h0m0 8h0m0 5h0m0 199h0m1-229h0m0 30h0m0 1h0m0 5h0m0 6h0m0 185h0m1-237h0m0 22h0m0 0h0m0 24h0m0 2h0m0 0h0m0 3h0m1-42h0m0 24h0m0 5h0m0 6h0m0 191h0m0 2h0m1-238h0m0 22h0m0 13h0m0 15h0m0 180h0m1-195h0m0 8h0m0 181h0m0 4h0m0 2h0m0 3h0m1-188h0m0 180h0m0 12h0m1-200h0m0 7h0m0 2h0m0 177h0m0 2h0m0 10h0m0 2h0m0 3h0m1-203h0m0 194h0m0 4h0m1-185h0m0 176h0m0 5h0m0 5h0m0 0h0m1-237h0m0 40h0m0 13h0m0 171h0m0 14h0m1-188h0m0 176h0m0 2h0m0 10h0m0 1h0m1-219h0m0 25h0m0 3h0m0 5h0m1-54h0m0 40h0m0 7h0m0 2h0m0 2h0m0 174h0m1-228h0m0 18h0m0 27h0m0 0h0m0 3h0m0 10h0m0 167h0m0 3h0m0 1h0m0 1h0m1-191h0m0 186h0m1 4h0m0 3h0m0 2h0m0 0h0m1-196h0m0 9h0m0 6h0m0 181h0m1-240h0m0 49h0m0 9h0m1-15h0m0 12h0m0 2h0m0 3h0m0 4h0m0 174h0m0 1h0m1-206h0m0 201h0m0 1h0m0 14h0m1-211h0m0 1h0m0 6h0m0 2h0m0 12h0m0 1h0m0 6h0m0 169h0m0 2h0m0 12h0m0 1h0m1-217h0m0 27h0m0 2h0m0 174h0m1-189h0m0 12h0m0 8h0m0 170h0m0 5h0m0 2h0m1-208h0m0 1h0m0 16h0m0 2h0m0 3h0m0 171h0m0 8h0m0 5h0m1-204h0m0 12h0m0 2h0m0 1h0m0 10h0m0 176h0m0 4h0m1-224h0m0 34h0m0 9h0m0 7h0m1-63h0m0 31h0m0 3h0m0 12h0m0 5h0m0 172h0m0 9h0m0 13h0m1-223h0m0 21h0m0 2h0m0 177h0m1-158h0m0 162h0m0 9h0m1-231h0m0 26h0m0 33h0m0 164h0m0 2h0m0 5h0m0 7h0m1-249h0m0 48h0m0 15h0m0 0h0m0 4h0m0 3h0m0 3h0m0 161h0m0 5h0m0 2h0m0 5h0m1-238h0m0 50h0m0 4h0m0 4h0m0 3h0m0 171h0m0 8h0m0 1h0m0 4h0m1-209h0m0 4h0m0 12h0m0 3h0m0 13h0m0 150h0m0 12h0m0 1h0m1-201h0m0 26h0m0 162h0m0 5h0m0 4h0m0 1h0m0 1h0m0 12h0m1-199h0m0 11h0m0 13h0m0 151h0m0 6h0m1-195h0m0 4h0m0 32h0m0 161h0m0 7h0m0 12h0m0 0h0m1-233h0m0 33h0m0 13h0m0 9h0m0 152h0m0 10h0m0 9h0m1-217h0m0 4h0m0 5h0m0 24h0m0 8h0m0 11h0m0 154h0m1-176h0m0 19h0m0 147h0m0 2h0m1-193h0m0 39h0m0 6h0m0 1h0m0 147h0m0 12h0m0 0h0m0 13h0m0 2h0m1-184h0m0 2h0m0 2h0m0 0h0m0 2h0m0 147h0m0 10h0m0 4h0m0 7h0m1-209h0m0 7h0m0 0h0m0 26h0m0 5h0m0 151h0m0 1h0m0 3h0m0 11h0m0 0h0m0 4h0m1-199h0m0 15h0m0 1h0m0 2h0m0 19h0m0 138h0m0 4h0m0 9h0m0 6h0m1-239h0m0 36h0m0 21h0m0 6h0m0 11h0m0 3h0m0 5h0m0 139h0m0 2h0m0 1h0m0 20h0m1-196h0m0 28h0m0 10h0m0 159h0m1-217h0m0 37h0m0 8h0m0 3h0m0 2h0m0 1h0m0 7h0m0 145h0m1-223h0m0 12h0m0 33h0m0 5h0m0 12h0m0 3h0m0 143h0m0 3h0m0 5h0m0 2h0m0 1h0m0 18h0m1-211h0m0 39h0m0 11h0m0 1h0m0 130h0m0 14h0m0 4h0m1-163h0m0 4h0m0 18h0m0 153h0m0 8h0m1-246h0m0 34h0m0 7h0m0 20h0m0 2h0m0 9h0m0 2h0m0 24h0m0 114h0m0 14h0m1-186h0m0 15h0m0 5h0m0 26h0m0 6h0m0 0h0m0 126h0m0 3h0m0 0h0m1-207h0m0 52h0m0 5h0m0 12h0m0 0h0m0 8h0m0 7h0m0 0h0m0 106h0m0 0h0m0 2h0m0 0h0m0 6h0m0 21h0m1-156h0m0 134h0m0 1h0m0 2h0m0 9h0m0 12h0m0 8h0m1-201h0m0 12h0m0 12h0m0 11h0m0 17h0m0 4h0m0 114h0m1-191h0m0 24h0m0 16h0m0 19h0m0 7h0m0 2h0m0 1h0m0 3h0m0 0h0m0 113h0m0 4h0m0 7h0m0 1h0m0 0h0m0 16h0m0 10h0m1-205h0m0 13h0m0 10h0m0 13h0m0 7h0m0 7h0m0 12h0m0 97h0m0 13h0m0 24h0m1-181h0m0 1h0m0 7h0m0 9h0m0 4h0m0 9h0m0 13h0m0 4h0m0 104h0m0 12h0m0 25h0m0 1h0m1-182h0m0 3h0m0 4h0m0 4h0m0 1h0m0 5h0m0 9h0m0 11h0m0 101h0m0 14h0m0 2h0m0 2h0m0 17h0m0 4h0m1-177h0m0 3h0m0 22h0m0 8h0m0 4h0m0 4h0m0 96h0m0 14h0m0 2h0m0 33h0m1-208h0m0 13h0m0 14h0m0 10h0m0 3h0m0 22h0m0 101h0m0 20h0m0 0h0m0 26h0"/>
<path fill="#fff" fill-rule="evenodd" d="M683.1 836L684.9 836.4L687 836L687 829.4L691.4 827.5L697.9 829.4L697.9 829.4L697.9 836L704.4 836.9L706.7 836L706.7 829.4L710.9 825.2L716.5 822.9L717.4 822.5L723.9 820.3L730.4 816.4L730.4 816.4L735.6 809.9L736.9 807.3L743.4 807.3L745 803.4L746.3 796.9L745.8 790.4L746.1 783.9L746.5 777.4L746.4 770.9L744.4 764.4L743.4 759.8L736.9 759.8L734.5 757.9L734.5 751.4L730.4 746.7L727.5 744.9L723.9 742.2L717.4 739.6L710.9 739.3L707.2 738.4L704.4 736.6L697.9 735.5L691.4 733.2L684.9 736.2L681.3 738.4L678.4 740.2L675.1 738.4L671.8 735.7L669.9 738.4L665.3 742.3L658.8 738.4L652.3 741.6L649.9 744.9L645.8 750.9L645.4 751.4L639.3 757L638.2 757.9L639.3 764.4L639.3 764.4L639.3 764.4L635 770.9L633.1 777.4L632.8 779.6L631.8 783.9L632.8 784.9L636.2 790.4L632.8 796.9L637.1 803.4L639.3 807.1L642.4 809.9L645.8 812.2L652.3 813.7L656.3 816.4L658.8 819.7L662.6 822.9L665.3 824.6L671.8 827.3L678.4 827.2L683.1 829.4L683.1 836Z"/>
<g transform="translate(610.05 702.6) scale(6.5050)" shape-rendering="crispEdges">
<path fill="#fafafa" d="M0 10h1v1h-1zM2 12h1v1h-1zM3 16h1v1h-1zM3 14h1v1h-1zM3 13h1v1h-1zM3 11h1v1h-1zM3 10h1v1h-1zM3 9h1v1h-1zM3 8h1v1h-1zM4 16h1v1h-1zM4 9h1v1h-1zM5 7h1v1h-1zM5 5h1v1h-1zM6 17h1v1h-1zM6 5h1v1h-1zM7 18h1v1h-1zM7 5h1v1h-1zM8 5h1v1h-1zM9 19h1v1h-1zM9 4h1v1h-1zM10 19h1v1h-1zM10 5h1v1h-1zM11 4h1v1h-1zM12 19h1v1h-1zM12 4h1v1h-1zM13 19h1v1h-1zM13 4h1v1h-1zM14 18h1v1h-1zM14 4h1v1h-1zM15 19h1v1h-1zM15 5h1v1h-1zM16 18h1v1h-1zM16 5h1v1h-1zM17 18h1v1h-1zM17 5h1v1h-1zM18 18h1v1h-1zM18 17h1v1h-1zM18 6h1v1h-1zM18 5h1v1h-1zM19 17h1v1h-1zM19 16h1v1h-1zM19 8h1v1h-1zM19 7h1v1h-1zM19 5h1v1h-1z"/>
<path fill="#f5f5f5" d="M3 12h1v1h-1zM4 15h1v1h-1zM4 13h1v1h-1zM4 10h1v1h-1zM4 8h1v1h-1zM5 16h1v1h-1zM5 8h1v1h-1zM6 7h1v1h-1zM6 6h1v1h-1zM7 17h1v1h-1zM7 6h1v1h-1zM8 18h1v1h-1zM8 17h1v1h-1zM8 6h1v1h-1zM9 18h1v1h-1zM9 5h1v1h-1zM11 19h1v1h-1zM11 18h1v1h-1zM11 5h1v1h-1zM12 5h1v1h-1zM13 18h1v1h-1zM13 6h1v1h-1zM13 5h1v1h-1zM14 19h1v1h-1zM14 5h1v1h-1zM15 18h1v1h-1zM17 17h1v1h-1zM17 6h1v1h-1zM18 8h1v1h-1zM18 7h1v1h-1zM19 15h1v1h-1zM19 9h1v1h-1z"/>
<path fill="#f0f0f0" d="M4 14h1v1h-1zM4 12h1v1h-1zM5 14h1v1h-1zM5 11h1v1h-1zM5 10h1v1h-1zM5 9h1v1h-1zM6 16h1v1h-1zM6 8h1v1h-1zM7 7h1v1h-1zM8 7h1v1h-1zM9 17h1v1h-1zM9 6h1v1h-1zM10 18h1v1h-1zM10 6h1v1h-1zM12 18h1v1h-1zM14 6h1v1h-1zM16 17h1v1h-1zM16 7h1v1h-1zM16 6h1v1h-1zM19 13h1v1h-1z"/>
<path fill="#ebebeb" d="M4 11h1v1h-1zM5 15h1v1h-1zM6 15h1v1h-1zM6 9h1v1h-1zM7 15h1v1h-1zM9 7h1v1h-1zM10 17h1v1h-1zM11 6h1v1h-1zM13 17h1v1h-1zM14 17h1v1h-1zM15 17h1v1h-1zM15 6h1v1h-1zM19 12h1v1h-1z"/>
<path fill="#e6e6e6" d="M5 13h1v1h-1zM6 14h1v1h-1zM7 16h1v1h-1zM7 9h1v1h-1zM8 16h1v1h-1zM11 17h1v1h-1zM12 17h1v1h-1zM12 6h1v1h-1zM14 16h1v1h-1zM17 16h1v1h-1zM17 8h1v1h-1zM17 7h1v1h-1zM18 16h1v1h-1zM19 14h1v1h-1zM19 11h1v1h-1zM19 10h1v1h-1z"/>
<path fill="#e1e1e1" d="M6 10h1v1h-1zM7 8h1v1h-1zM8 8h1v1h-1zM11 7h1v1h-1zM14 7h1v1h-1zM16 16h1v1h-1zM17 15h1v1h-1zM17 14h1v1h-1zM18 15h1v1h-1zM18 9h1v1h-1z"/>
<path fill="#dcdcdc" d="M5 12h1v1h-1zM6 13h1v1h-1zM6 11h1v1h-1zM7 14h1v1h-1zM8 15h1v1h-1zM10 7h1v1h-1zM12 7h1v1h-1zM15 7h1v1h-1zM17 9h1v1h-1zM18 14h1v1h-1zM18 13h1v1h-1zM18 10h1v1h-1z"/>
<path fill="#d7d7d7" d="M6 12h1v1h-1zM8 9h1v1h-1zM9 16h1v1h-1zM10 16h1v1h-1zM13 7h1v1h-1zM17 11h1v1h-1zM18 11h1v1h-1z"/>
<path fill="#d2d2d2" d="M9 9h1v1h-1zM17 12h1v1h-1z"/>
<path fill="#cdcdcd" d="M10 8h1v1h-1zM11 16h1v1h-1zM11 8h1v1h-1zM13 16h1v1h-1zM15 8h1v1h-1zM16 11h1v1h-1zM17 13h1v1h-1zM17 10h1v1h-1zM18 12h1v1h-1z"/>
<path fill="#c8c8c8" d="M7 12h1v1h-1zM8 14h1v1h-1zM14 9h1v1h-1zM14 8h1v1h-1zM15 16h1v1h-1zM15 9h1v1h-1zM16 15h1v1h-1zM16 8h1v1h-1z"/>
<path fill="#c3c3c3" d="M7 13h1v1h-1zM7 10h1v1h-1zM9 15h1v1h-1zM10 15h1v1h-1zM12 8h1v1h-1z"/>
<path fill="#bebebe" d="M7 11h1v1h-1zM8 11h1v1h-1zM9 8h1v1h-1zM12 16h1v1h-1zM15 15h1v1h-1zM16 14h1v1h-1zM16 13h1v1h-1zM16 9h1v1h-1z"/>
<path fill="#b9b9b9" d="M10 9h1v1h-1zM11 15h1v1h-1z"/>
<path fill="#b4b4b4" d="M13 15h1v1h-1zM15 10h1v1h-1zM16 10h1v1h-1z"/>
<path fill="#afafaf" d="M8 10h1v1h-1zM9 14h1v1h-1zM16 12h1v1h-1z"/>
<path fill="#aaaaaa" d="M12 14h1v1h-1zM13 8h1v1h-1zM15 14h1v1h-1zM15 12h1v1h-1z"/>
<path fill="#a5a5a5" d="M14 15h1v1h-1z"/>
<path fill="#a0a0a0" d="M9 13h1v1h-1zM9 10h1v1h-1zM11 9h1v1h-1zM13 10h1v1h-1z"/>
<path fill="#9b9b9b" d="M10 14h1v1h-1zM11 14h1v1h-1zM12 15h1v1h-1zM14 14h1v1h-1z"/>
<path fill="#969696" d="M14 10h1v1h-1zM15 13h1v1h-1z"/>
<path fill="#919191" d="M10 10h1v1h-1zM12 10h1v1h-1zM13 9h1v1h-1zM14 12h1v1h-1zM14 11h1v1h-1z"/>
<path fill="#8c8c8c" d="M9 11h1v1h-1zM11 13h1v1h-1zM11 12h1v1h-1z"/>
<path fill="#878787" d="M8 12h1v1h-1zM13 14h1v1h-1z"/>
<path fill="#828282" d="M9 12h1v1h-1zM10 13h1v1h-1zM13 12h1v1h-1zM13 11h1v1h-1zM15 11h1v1h-1z"/>
<path fill="#7d7d7d" d="M10 12h1v1h-1zM12 9h1v1h-1zM13 13h1v1h-1z"/>
<path fill="#787878" d="M12 13h1v1h-1z"/>
<path fill="#6e6e6e" d="M12 11h1v1h-1zM14 13h1v1h-1z"/>
<path fill="#696969" d="M8 13h1v1h-1z"/>
<path fill="#646464" d="M11 11h1v1h-1z"/>
<path fill="#505050" d="M11 10h1v1h-1zM12 12h1v1h-1z"/>
<path fill="#000000" d="M10 11h1v1h-1z"/>
</g>
<path class="ct" d="M683.1 836L684.9 836.4L687 836L687 829.4L691.4 827.5L697.9 829.4L697.9 829.4L697.9 836L704.4 836.9L706.7 836L706.7 829.4L710.9 825.2L716.5 822.9L717.4 822.5L723.9 820.3L730.4 816.4L730.4 816.4L735.6 809.9L736.9 807.3L743.4 807.3L745 803.4L746.3 796.9L745.8 790.4L746.1 783.9L746.5 777.4L746.4 770.9L744.4 764.4L743.4 759.8L736.9 759.8L734.5 757.9L734.5 751.4L730.4 746.7L727.5 744.9L723.9 742.2L717.4 739.6L710.9 739.3L707.2 738.4L704.4 736.6L697.9 735.5L691.4 733.2L684.9 736.2L681.3 738.4L678.4 740.2L675.1 738.4L671.8 735.7L669.9 738.4L665.3 742.3L658.8 738.4L652.3 741.6L649.9 744.9L645.8 750.9L645.4 751.4L639.3 757L638.2 757.9L639.3 764.4L639.3 764.4L639.3 764.4L635 770.9L633.1 777.4L632.8 779.6L631.8 783.9L632.8 784.9L636.2 790.4L632.8 796.9L637.1 803.4L639.3 807.1L642.4 809.9L645.8 812.2L652.3 813.7L656.3 816.4L658.8 819.7L662.6 822.9L665.3 824.6L671.8 827.3L678.4 827.2L683.1 829.4ZM662.1 809.9L665.3 810.2L671.8 814L678.4 814.9L684.9 816.2L691.4 816.3L697.9 815L704.4 813.2L710.9 815.1L717.4 811.3L723.9 809.9L723.9 809.9L730.4 809.9L731.7 803.4L736.2 796.9L733.9 790.4L736.1 783.9L736.9 780.2L743.4 780.2L743.7 777.4L743.5 770.9L743.4 770.6L736.9 770.6L732.3 764.4L730.4 762.6L724.8 757.9L723.9 751.4L717.4 753.1L714.6 751.4L710.9 747.1L704.4 748.9L697.9 748.4L691.4 745.6L684.9 746.8L678.4 748.3L673.6 751.4L671.8 752.2L665.3 755.2L658.8 755.3L655.9 757.9L655.6 764.4L652.3 767L650.6 770.9L648.6 777.4L645.8 780.5L643.2 783.9L645 790.4L645.8 791.7L651.4 796.9L652.3 798.2L658.8 802L660.1 803.4ZM690.9 809.9L691.4 810.1L691.9 809.9L697.9 806.5L704.4 805.8L710.9 803.4L710.9 803.4L717.4 797.6L717.6 796.9L717.4 790.4L717.4 790.4L717.4 790.4L720 783.9L717.4 780.4L716.1 777.4L717.4 774.3L720.8 770.9L717.4 764.4L710.9 767.3L704.4 765.4L703.5 764.4L703 757.9L697.9 755L692 757.9L691.4 758.1L684.9 759.8L678.4 762.6L676.9 764.4L671.8 767.2L665.3 768.5L660.4 770.9L658.8 777.4L660 783.9L659 790.4L665.3 796.1L667.9 796.9L671.8 803L678.4 802.8L680.3 803.4L684.9 805.8ZM671.5 757.9L671.8 758.5L672.7 757.9L671.8 757.6ZM663.8 790.4L665.3 791.8L668.1 790.4L665.3 785.3ZM688.1 790.4L691.4 791.6L697.9 794.1L704.4 792.9L707.4 790.4L704.4 787L697.9 785.2L697.6 783.9L697.3 777.4L691.4 773.8L689.8 770.9L691.4 766L693 764.4L691.4 764L690.5 764.4L684.9 767L680.1 770.9L678.4 772.3L673.1 777.4L671.8 783.9L678.4 790.4L680.5 783.9L684.9 781.8L686.3 783.9Z"/>
</g>
<g clip-path="url(#c60)">
<path class="pt" transform="translate(63.65 839.2) scale(.5)" d="m1 119h0m0 32h0m1-3h0m0 56h0m1-77h0m1 30h0m1-29h0m0 26h0m0 85h0m1-141h0m0 26h0m0 76h0m1-91h0m0 65h0m2-29h0m0 24h0m0 51h0m1-116h0m0 13h0m0 43h0m1-12h0m0 2h0m1-62h0m0 26h0m0 24h0m0 4h0m0 4h0m1-8h0m0 14h0m0 7h0m0 6h0m0 16h0m1-65h0m0 30h0m0 10h0m0 14h0m0 32h0m1-85h0m0 16h0m0 3h0m0 4h0m0 0h0m0 15h0m1-82h0m0 4h0m0 59h0m0 2h0m0 28h0m0 50h0m1-96h0m0 72h0m0 11h0m1-111h0m0 24h0m0 10h0m0 27h0m0 1h0m0 27h0m1-100h0m0 30h0m0 11h0m0 24h0m0 23h0m0 0h0m0 3h0m0 5h0m0 23h0m1-130h0m0 154h0m1-80h0m0 28h0m1-56h0m0 7h0m0 61h0m1-88h0m0 5h0m0 44h0m0 15h0m0 7h0m0 0h0m0 12h0m0 11h0m1-35h0m0 0h0m1-91h0m0 11h0m0 36h0m0 14h0m0 33h0m1-2h0m0 4h0m0 30h0m0 8h0m0 49h0m1-137h0m0 10h0m0 2h0m0 5h0m0 23h0m0 1h0m0 9h0m0 0h0m0 10h0m0 4h0m0 19h0m1-103h0m0 16h0m0 4h0m0 20h0m0 3h0m0 6h0m0 2h0m0 9h0m0 9h0m0 18h0m0 18h0m0 11h0m1-138h0m0 3h0m0 38h0m0 43h0m0 4h0m0 34h0m0 14h0m0 34h0m1-184h0m0 55h0m0 73h0m0 6h0m1-120h0m0 22h0m0 35h0m0 4h0m0 14h0m0 3h0m0 2h0m0 26h0m0 3h0m0 22h0m0 6h0m0 0h0m0 3h0m1-118h0m0 5h0m0 8h0m0 2h0m0 12h0m0 5h0m0 6h0m0 16h0m0 8h0m0 4h0m0 18h0m0 18h0m0 42h0m1-157h0m0 15h0m0 17h0m0 32h0m0 3h0m0 5h0m0 38h0m0 5h0m0 28h0m1-109h0m0 4h0m0 10h0m0 5h0m0 6h0m0 6h0m0 6h0m0 1h0m0 18h0m0 39h0m1-144h0m0 57h0m0 0h0m0 2h0m0 17h0m0 6h0m0 1h0m0 19h0m0 6h0m0 13h0m0 12h0m0 0h0m1-115h0m0 15h0m0 6h0m0 26h0m0 1h0m0 3h0m0 10h0m0 15h0m0 11h0m0 7h0m0 45h0m1-135h0m0 22h0m0 7h0m0 0h0m0 6h0m0 9h0m0 8h0m0 37h0m0 2h0m0 8h0m0 11h0m0 0h0m1-59h0m0 24h0m0 22h0m0 1h0m0 69h0m1-190h0m0 8h0m0 27h0m0 2h0m0 7h0m0 7h0m0 6h0m0 13h0m0 9h0m0 3h0m0 6h0m0 8h0m0 3h0m0 8h0m0 9h0m0 9h0m1-158h0m0 40h0m0 5h0m0 22h0m0 1h0m0 8h0m0 7h0m0 24h0m0 3h0m0 1h0m0 10h0m0 1h0m0 1h0m0 2h0m0 8h0m0 15h0m0 1h0m0 2h0m0 21h0m0 24h0m0 36h0m1-210h0m0 18h0m0 12h0m0 17h0m0 9h0m0 12h0m0 0h0m0 1h0m0 1h0m0 23h0m0 6h0m0 4h0m0 8h0m0 3h0m0 42h0m0 33h0m1-150h0m0 2h0m0 0h0m0 15h0m0 1h0m0 1h0m0 6h0m0 2h0m0 9h0m0 0h0m0 6h0m0 7h0m0 0h0m0 9h0m0 2h0m0 25h0m0 7h0m0 5h0m0 1h0m0 21h0m0 14h0m1-117h0m0 5h0m0 3h0m0 18h0m0 1h0m0 0h0m0 2h0m0 8h0m0 11h0m0 2h0m0 16h0m0 13h0m1-145h0m0 54h0m0 3h0m0 8h0m0 13h0m0 3h0m0 7h0m0 13h0m0 4h0m0 22h0m0 2h0m0 3h0m0 15h0m0 1h0m0 6h0m0 6h0m0 11h0m1-187h0m0 26h0m0 74h0m0 7h0m0 19h0m0 9h0m0 4h0m0 2h0m0 4h0m0 2h0m0 1h0m0 26h0m1-98h0m0 0h0m0 0h0m0 25h0m0 0h0m0 27h0m0 2h0m0 10h0m0 8h0m0 9h0m0 2h0m0 1h0m0 17h0m0 11h0m1-140h0m0 19h0m0 80h0m0 5h0m0 20h0m0 4h0m0 32h0m1-207h0m0 64h0m0 2h0m0 8h0m0 26h0m0 31h0m0 19h0m0 0h0m0 8h0m0 16h0m0 17h0m1-160h0m0 24h0m0 14h0m0 66h0m0 1h0m0 10h0m0 2h0m0 18h0m0 13h0m0 50h0m1-170h0m0 3h0m0 78h0m0 12h0m0 33h0m0 6h0m1-49h0m0 6h0m0 11h0m0 6h0m0 19h0m0 5h0m0 7h0m1-178h0m0 4h0m0 22h0m0 10h0m0 2h0m0 6h0m0 11h0m0 84h0m0 0h0m0 6h0m0 0h0m0 1h0m0 5h0m0 23h0m1-134h0m0 1h0m0 4h0m0 1h0m0 6h0m0 84h0m0 9h0m0 0h0m0 5h0m0 3h0m0 12h0m0 8h0m0 1h0m0 11h0m1-154h0m0 16h0m0 0h0m0 92h0m0 1h0m0 13h0m0 9h0m0 6h0m0 36h0m1-206h0m0 41h0m0 0h0m0 125h0m0 4h0m0 4h0m0 11h0m1-180h0m0 8h0m0 21h0m0 4h0m0 6h0m0 10h0m0 100h0m0 5h0m0 4h0m0 3h0m1-137h0m0 2h0m0 5h0m0 109h0m0 24h0m0 7h0m0 4h0m0 22h0m1-207h0m0 32h0m0 13h0m0 1h0m0 1h0m0 108h0m0 0h0m0 8h0m0 13h0m0 9h0m0 39h0m1-219h0m0 41h0m0 10h0m0 1h0m0 94h0m0 2h0m0 8h0m0 1h0m0 11h0m0 10h0m0 5h0m0 4h0m1-160h0m0 122h0m0 0h0m0 3h0m0 0h0m0 11h0m0 13h0m1-176h0m0 3h0m0 14h0m0 23h0m0 3h0m0 110h0m0 0h0m0 2h0m0 1h0m0 17h0m0 1h0m1-172h0m0 12h0m0 18h0m0 7h0m0 115h0m0 10h0m0 2h0m0 30h0m1-195h0m0 156h0m0 4h0m0 9h0m0 20h0m1-181h0m0 145h0m0 3h0m0 8h0m0 5h0m1-8h0m0 15h0m1-142h0m0 122h0m0 2h0m0 4h0m0 15h0m0 5h0m1-190h0m0 24h0m0 19h0m0 3h0m0 117h0m0 9h0m0 32h0m0 7h0m1-211h0m0 7h0m0 4h0m0 25h0m0 4h0m0 125h0m0 1h0m0 2h0m0 40h0m1-169h0m0 3h0m1-21h0m0 144h0m0 1h0m0 21h0m1-175h0m0 7h0m0 19h0m0 0h0m0 134h0m0 17h0m0 5h0m1-178h0m0 8h0m0 5h0m0 1h0m0 4h0m0 140h0m0 0h0m0 1h0m0 4h0m0 13h0m0 1h0m1-170h0m0 6h0m0 6h0m0 136h0m0 15h0m1-154h0m0 4h0m0 134h0m0 3h0m0 2h0m1-159h0m0 164h0m0 9h0m1-182h0m0 6h0m0 13h0m0 8h0m0 2h0m0 136h0m0 0h0m0 23h0m0 30h0m1-53h0m1-176h0m0 18h0m0 5h0m0 2h0m0 7h0m0 0h0m0 5h0m0 141h0m0 10h0m0 12h0m0 23h0m1-213h0m0 5h0m0 6h0m0 11h0m0 146h0m0 11h0m0 2h0m0 26h0m1-214h0m0 13h0m0 15h0m0 148h0m0 2h0m1-191h0m0 25h0m0 0h0m0 2h0m0 8h0m0 9h0m0 1h0m0 143h0m0 4h0m1-185h0m0 18h0m0 10h0m0 3h0m0 4h0m0 159h0m0 5h0m0 12h0m1-202h0m0 21h0m0 159h0m0 2h0m0 1h0m0 1h0m0 40h0m1-232h0m0 12h0m0 13h0m0 168h0m1-7h0m0 1h0m1-196h0m0 31h0m0 2h0m0 8h0m0 155h0m0 0h0m0 6h0m0 23h0m0 16h0m1-200h0m0 2h0m0 157h0m0 1h0m0 11h0m1-217h0m0 10h0m0 25h0m0 11h0m0 170h0m1-226h0m0 12h0m0 28h0m0 6h0m0 1h0m0 3h0m0 158h0m1-154h0m0 2h0m0 157h0m0 8h0m0 4h0m0 15h0m1-209h0m0 7h0m0 13h0m0 0h0m0 0h0m0 160h0m0 1h0m0 19h0m0 0h0m0 18h0m1-225h0m0 6h0m0 186h0m0 11h0m0 2h0m0 9h0m1-221h0m0 27h0m0 10h0m0 155h0m1-182h0m0 8h0m0 1h0m0 8h0m0 5h0m0 166h0m0 0h0m0 2h0m0 14h0m1-206h0m0 18h0m0 164h0m0 14h0m0 8h0m0 26h0m1-256h0m0 34h0m0 7h0m0 5h0m0 165h0m0 2h0m0 14h0m0 2h0m1-203h0m0 25h0m0 159h0m0 2h0m0 1h0m0 11h0m1-190h0m0 2h0m0 178h0m0 14h0m0 3h0m0 20h0m1-238h0m0 11h0m0 194h0m0 2h0m0 3h0m1-216h0m0 211h0m0 1h0m0 0h0m0 2h0m0 3h0m1-190h0m0 16h0m0 1h0m0 158h0m0 15h0m0 26h0m1-204h0m1-38h0m0 21h0m0 13h0m0 0h0m0 196h0m1-197h0m0 0h0m0 8h0m0 171h0m1-220h0m0 9h0m0 24h0m0 5h0m0 8h0m0 168h0m0 1h0m0 2h0m1-195h0m0 9h0m0 0h0m0 16h0m0 183h0m0 12h0m0 5h0m1-224h0m0 4h0m0 7h0m0 2h0m0 9h0m0 1h0m0 175h0m0 2h0m0 2h0m0 4h0m1-188h0m0 0h0m1-14h0m0 11h0m0 1h0m0 1h0m0 181h0m1-216h0m0 22h0m0 2h0m0 2h0m0 6h0m0 4h0m0 176h0m0 6h0m0 1h0m0 4h0m1-204h0m0 11h0m0 2h0m0 3h0m0 1h0m0 174h0m0 5h0m1-201h0m0 12h0m0 1h0m0 7h0m0 1h0m0 172h0m0 1h0m0 5h0m0 3h0m1-187h0m1-16h0m0 25h0m1-18h0m0 4h0m0 5h0m0 181h0m0 10h0m0 4h0m0 14h0m1-25h0m0 3h0m1-217h0m0 34h0m0 175h0m0 1h0m0 27h0m1-229h0m0 20h0m0 0h0m0 2h0m0 5h0m0 172h0m0 5h0m1-205h0m0 14h0m0 12h0m0 0h0m0 3h0m0 0h0m0 189h0m1-194h0m0 4h0m0 171h0m0 10h0m0 4h0m0 23h0m1-219h0m0 4h0m0 1h0m0 5h0m0 0h0m0 171h0m0 31h0m1-203h0m0 178h0m1-185h0m0 1h0m0 179h0m0 17h0m0 13h0m1-209h0m0 4h0m0 176h0m0 7h0m0 0h0m0 4h0m0 26h0m1-237h0m0 22h0m0 183h0m0 16h0m1-226h0m0 19h0m0 0h0m0 190h0m0 5h0m1-217h0m0 16h0m0 3h0m0 3h0m0 185h0m0 4h0m0 23h0m1-236h0m0 32h0m0 3h0m0 177h0m0 6h0m0 13h0m1-208h0m0 10h0m0 185h0m0 17h0m1-226h0m0 20h0m0 181h0m0 0h0m0 3h0m1-209h0m0 12h0m0 12h0m0 2h0m0 1h0m0 2h0m0 177h0m0 8h0m0 6h0m0 6h0m0 7h0m1-235h0m0 14h0m0 12h0m0 183h0m0 11h0m0 2h0m0 2h0m1-215h0m0 208h0m0 5h0m0 12h0m1-227h0m0 15h0m0 6h0m0 202h0m0 24h0m1-250h0m0 13h0m0 4h0m0 7h0m0 1h0m0 191h0m0 4h0m0 14h0m1-222h0m0 13h0m0 182h0m0 2h0m0 8h0m1-211h0m0 16h0m1-3h0m0 187h0m0 16h0m0 1h0m0 11h0m1-211h0m0 186h0m1-218h0m0 8h0m0 8h0m0 1h0m0 11h0m0 1h0m0 2h0m0 212h0m1-231h0m0 203h0m0 19h0m0 5h0m1-234h0m0 8h0m0 22h0m0 1h0m0 181h0m0 1h0m0 10h0m1-14h0m0 5h0m0 1h0m0 0h0m0 1h0m1-203h0m0 193h0m0 6h0m0 7h0m0 6h0m0 3h0m1-222h0m0 3h0m0 2h0m1-4h0m0 205h0m0 22h0m0 7h0m1-226h0m0 5h0m0 2h0m0 12h0m0 169h0m1-181h0m0 185h0m0 16h0m1-199h0m0 1h0m0 180h0m0 13h0m0 4h0m1-212h0m0 4h0m0 17h0m0 2h0m0 190h0m1-1h0m0 13h0m0 5h0m1-232h0m0 191h0m0 31h0m1-211h0m0 4h0m0 9h0m0 167h0m0 37h0m1-240h0m0 16h0m0 6h0m0 10h0m0 10h0m0 164h0m0 26h0m0 27h0m1-232h0m0 3h0m0 6h0m0 5h0m0 169h0m0 0h0m0 33h0m1-216h0m0 177h0m0 24h0m0 14h0m0 8h0m1-227h0m0 12h0m0 4h0m0 165h0m0 36h0m1-227h0m0 12h0m0 7h0m0 10h0m0 162h0m1-176h0m0 11h0m0 3h0m0 174h0m0 2h0m0 3h0m1-196h0m0 10h0m0 174h0m0 2h0m0 7h0m1-191h0m0 15h0m0 167h0m0 18h0m1-186h0m0 168h0m0 25h0m1-214h0m0 11h0m0 177h0m0 7h0m0 19h0m1-204h0m0 12h0m0 160h0m0 0h0m0 2h0m0 13h0m0 0h0m0 1h0m0 13h0m1-194h0m0 1h0m0 2h0m0 6h0m0 1h0m0 167h0m0 3h0m1-217h0m0 10h0m0 13h0m0 5h0m0 2h0m0 15h0m0 197h0m1-204h0m0 4h0m0 155h0m0 2h0m0 15h0m0 11h0m1-194h0m0 6h0m0 3h0m0 158h0m0 3h0m0 1h0m0 2h0m0 3h0m0 8h0m1-189h0m0 4h0m0 7h0m0 2h0m0 0h0m0 3h0m0 5h0m0 153h0m0 5h0m0 5h0m0 29h0m1-208h0m0 3h0m0 1h0m0 3h0m0 0h0m0 0h0m0 2h0m1-38h0m0 198h0m0 17h0m1-193h0m0 11h0m0 10h0m0 156h0m0 13h0m1-205h0m0 12h0m0 0h0m0 5h0m0 0h0m0 1h0m0 16h0m0 0h0m0 1h0m0 154h0m0 22h0m1-180h0m0 153h0m0 2h0m0 2h0m0 34h0m1-199h0m0 162h0m0 5h0m0 7h0m0 4h0m0 14h0m0 5h0m1-191h0m0 165h0m0 3h0m0 7h0m1-209h0m0 3h0m0 35h0m0 151h0m0 1h0m0 4h0m0 39h0m1-212h0m0 1h0m0 2h0m0 2h0m0 4h0m0 4h0m0 6h0m0 155h0m0 0h0m0 3h0m0 13h0m0 3h0m1-191h0m0 166h0m0 0h0m0 3h0m0 9h0m1-204h0m0 14h0m0 1h0m0 18h0m0 12h0m1-31h0m0 11h0m0 163h0m0 12h0m0 10h0m0 32h0m1-205h0m0 14h0m0 136h0m0 3h0m0 2h0m0 8h0m1-13h0m1-136h0m0 142h0m0 4h0m0 5h0m0 10h0m1-191h0m0 166h0m0 0h0m0 12h0m1-183h0m0 21h0m0 2h0m0 1h0m0 2h0m0 5h0m0 6h0m1-53h0m0 15h0m0 11h0m0 15h0m0 0h0m0 1h0m0 1h0m0 3h0m0 2h0m0 1h0m0 2h0m0 3h0m0 131h0m0 5h0m0 5h0m0 2h0m0 4h0m0 52h0m1-212h0m0 155h0m1-189h0m0 8h0m0 7h0m0 16h0m0 13h0m0 2h0m0 0h0m1-38h0m0 15h0m0 9h0m0 18h0m0 5h0m0 113h0m0 4h0m0 11h0m0 24h0m1-207h0m0 21h0m0 6h0m0 34h0m0 122h0m0 0h0m0 9h0m0 12h0m1-192h0m0 19h0m0 29h0m0 105h0m0 5h0m0 10h0m0 2h0m0 3h0m0 0h0m0 3h0m1-159h0m0 12h0m0 1h0m0 5h0m0 3h0m0 4h0m0 120h0m0 3h0m0 8h0m0 32h0m1-176h0m0 17h0m0 120h0m0 6h0m0 4h0m0 7h0m0 5h0m1-178h0m0 22h0m0 6h0m0 9h0m0 1h0m0 101h0m0 8h0m0 1h0m0 1h0m0 1h0m0 14h0m1-144h0m0 120h0m0 3h0m0 34h0m0 9h0m1-188h0m0 12h0m0 20h0m0 116h0m0 2h0m0 15h0m0 16h0m0 4h0m0 30h0m1-242h0m0 27h0m0 21h0m0 9h0m0 3h0m0 106h0m0 13h0m0 5h0m0 3h0m0 18h0m0 4h0m1-150h0m0 114h0m0 24h0m1-164h0m0 27h0m0 3h0m0 99h0m0 5h0m0 9h0m0 1h0m0 2h0m0 2h0m0 7h0m0 21h0m0 5h0m1-215h0m0 41h0m0 25h0m0 2h0m0 101h0m0 7h0m0 0h0m0 2h0m0 3h0m0 18h0m0 44h0m1-207h0m0 10h0m0 16h0m0 2h0m0 2h0m0 2h0m1-34h0m0 8h0m0 9h0m0 6h0m0 0h0m0 4h0m0 4h0m0 96h0m0 4h0m0 1h0m0 1h0m0 2h0m0 1h0m0 3h0m0 11h0m0 3h0m1-151h0m0 10h0m0 0h0m0 15h0m0 96h0m0 1h0m0 0h0m0 2h0m0 14h0m1-144h0m0 10h0m0 1h0m0 23h0m0 4h0m0 5h0m0 82h0m0 4h0m0 13h0m0 8h0m0 14h0m1-161h0m0 21h0m0 7h0m0 6h0m0 8h0m0 75h0m0 8h0m0 34h0m0 30h0m1-151h0m0 80h0m0 7h0m0 16h0m0 14h0m0 7h0m0 53h0m1-195h0m0 5h0m0 93h0m0 4h0m0 31h0m1-159h0m0 4h0m0 9h0m0 17h0m0 1h0m0 3h0m0 16h0m0 82h0m0 14h0m0 8h0m0 3h0m1-166h0m0 42h0m0 11h0m0 6h0m0 59h0m0 22h0m0 2h0m0 26h0m1-108h0m0 3h0m0 1h0m0 59h0m0 1h0m0 10h0m0 4h0m0 1h0m0 1h0m0 8h0m0 19h0m1-171h0m0 14h0m0 35h0m0 4h0m0 7h0m0 78h0m0 1h0m0 9h0m0 10h0m0 7h0m1-132h0m0 12h0m0 9h0m0 17h0m0 0h0m0 41h0m0 1h0m0 17h0m0 30h0m0 24h0m1-182h0m0 20h0m0 85h0m0 11h0m0 0h0m0 9h0m1-102h0m0 3h0m0 16h0m0 2h0m0 7h0m0 14h0m0 14h0m0 58h0m0 6h0m0 26h0m1-123h0m0 6h0m0 4h0m0 6h0m0 12h0m0 0h0m0 26h0m0 3h0m0 2h0m0 1h0m0 2h0m0 12h0m0 11h0m0 3h0m0 16h0m0 6h0m0 25h0m1-193h0m0 15h0m0 20h0m0 15h0m0 2h0m0 1h0m0 14h0m0 3h0m0 3h0m0 3h0m0 17h0m0 40h0m0 9h0m0 0h0m0 3h0m0 4h0m1-127h0m0 13h0m0 0h0m0 8h0m0 13h0m0 10h0m0 22h0m0 19h0m0 5h0m0 2h0m0 1h0m0 15h0m0 2h0m0 2h0m0 2h0m0 8h0m0 3h0m0 6h0m0 6h0m1-145h0m0 22h0m0 13h0m0 9h0m0 3h0m0 1h0m0 1h0m0 4h0m0 13h0m0 0h0m0 2h0m0 0h0m0 1h0m0 39h0m0 4h0m0 1h0m0 8h0m0 1h0m0 28h0m0 4h0m0 5h0m0 3h0m0 2h0m0 12h0m0 21h0m1-169h0m0 7h0m0 6h0m0 7h0m0 11h0m0 3h0m0 2h0m0 10h0m0 2h0m0 1h0m0 3h0m0 4h0m0 0h0m0 2h0m0 1h0m0 1h0m0 3h0m0 1h0m0 7h0m0 5h0m0 2h0m0 0h0m0 1h0m0 41h0m0 18h0m0 8h0m0 40h0m1-164h0m0 15h0m0 0h0m0 46h0m0 12h0m0 7h0m0 27h0m1-153h0m0 8h0m0 28h0m0 2h0m0 0h0m0 6h0m0 8h0m0 2h0m0 4h0m0 11h0m0 5h0m0 11h0m0 1h0m0 3h0m0 25h0m0 12h0m0 26h0m1-94h0m0 27h0m0 23h0m0 19h0m0 30h0m1-108h0m0 51h0m0 2h0m0 23h0m0 3h0m0 7h0m0 12h0m0 75h0m1-198h0m0 4h0m0 15h0m0 14h0m0 0h0m0 15h0m0 5h0m0 2h0m0 16h0m0 13h0m0 15h0m0 19h0m1-138h0m0 27h0m0 45h0m0 17h0m0 23h0m0 5h0m0 10h0m0 3h0m0 13h0m1-125h0m0 39h0m0 2h0m0 3h0m0 6h0m0 15h0m0 2h0m0 2h0m0 10h0m0 14h0m0 5h0m0 1h0m0 7h0m0 8h0m0 1h0m0 11h0m0 18h0m0 1h0m1-156h0m0 13h0m0 10h0m0 51h0m0 11h0m0 2h0m0 8h0m0 32h0m1-118h0m0 2h0m0 32h0m0 13h0m0 2h0m0 1h0m0 21h0m0 14h0m0 39h0m1-139h0m0 17h0m0 3h0m0 1h0m0 23h0m0 10h0m0 22h0m0 5h0m0 9h0m0 16h0m0 13h0m0 5h0m0 1h0m0 0h0m0 2h0m0 23h0m1-132h0m0 21h0m0 27h0m0 5h0m0 12h0m0 3h0m0 8h0m0 15h0m0 17h0m0 0h0m0 1h0m0 3h0m0 1h0m1-56h0m0 2h0m0 13h0m0 30h0m1-97h0m0 36h0m0 14h0m0 10h0m0 2h0m0 2h0m0 3h0m0 31h0m0 5h0m0 3h0m1-102h0m0 7h0m0 22h0m0 18h0m0 13h0m0 12h0m0 76h0m0 39h0m1-185h0m0 35h0m0 14h0m0 15h0m0 33h0m0 36h0m1-127h0m0 1h0m0 26h0m0 13h0m0 6h0m0 0h0m0 20h0m0 17h0m0 23h0m0 12h0m1-85h0m0 9h0m0 1h0m0 47h0m0 45h0m1-153h0m1-13h0m0 24h0m0 34h0m0 8h0m0 9h0m0 127h0m1-199h0m0 46h0m0 19h0m0 22h0m0 16h0m0 12h0m0 5h0m1-38h0m0 1h0m0 9h0m0 2h0m0 7h0m1-65h0m0 3h0m0 19h0m1-44h0m0 5h0m0 2h0m0 17h0m0 2h0m0 8h0m0 9h0m0 15h0m0 21h0m0 2h0m0 44h0m1-92h0m0 21h0m0 94h0m1-155h0m0 29h0m0 6h0m0 18h0m0 3h0m0 1h0m0 10h0m0 53h0m1-126h0m0 12h0m0 49h0m0 70h0m1-62h0m0 2h0m0 47h0m0 0h0m1-61h0m0 48h0m1-37h0m1-39h0m0 20h0m1 30h0m1-29h0m0 58h0m1-70h0m0 3h0m0 16h0m0 35h0m0 5h0m1 20h0m0 23h0m1-119h0m0 10h0m0 24h0m0 37h0m0 5h0m1-31h0m1 77h0m1-158h0m0 74h0m1-2h0m0 9h0m1-10h0m0 22h0"/>
<path fill="#fff" fill-rule="evenodd" d="M131.5 946.5L132 946.8L132.4 946.5L138.5 941.7L141 940L145 938.8L151.5 935.1L154.7 933.5L158 927L158 927L164.2 920.5L164.5 919.9L166.9 914L168.9 907.5L170.6 901L171 899.4L172.9 894.5L171.5 888L171 886.7L169.4 881.5L165.1 875L164.5 874.3L158 875L158 875L158 875L158 875L158.4 868.5L158 868L151.5 863.8L145 863.3L142.5 862L138.5 859.3L132 856.3L125.4 859.2L121.5 862L118.9 863.3L112.4 867L109.6 868.5L105.9 870.3L101.3 875L99.4 877.2L95.5 881.5L92.9 886.5L89 888L86.4 889.4L84.9 894.5L86.4 897.3L88 901L86.4 905.5L85.4 907.5L86.4 914L86.4 914L90 920.5L89.3 927L92.9 932L94.9 933.5L99.4 939.2L99.9 940L105.9 943.7L112.4 943.8L118.9 946.5L125.4 944.1L131.5 946.5Z"/>
<g transform="translate(63.65 839.2) scale(6.5050)" shape-rendering="crispEdges">
<path fill="#fafafa" d="M3 11h1v1h-1zM3 10h1v1h-1zM3 8h1v1h-1zM3 7h1v1h-1zM4 13h1v1h-1zM4 12h1v1h-1zM4 8h1v1h-1zM4 7h1v1h-1zM5 15h1v1h-1zM5 14h1v1h-1zM5 6h1v1h-1zM6 15h1v1h-1zM7 15h1v1h-1zM7 4h1v1h-1zM8 16h1v1h-1zM9 3h1v1h-1zM10 16h1v1h-1zM10 15h1v1h-1zM10 3h1v1h-1zM10 2h1v1h-1zM11 15h1v1h-1zM11 3h1v1h-1zM13 14h1v1h-1zM14 13h1v1h-1zM14 5h1v1h-1zM14 4h1v1h-1zM15 12h1v1h-1zM15 11h1v1h-1zM15 5h1v1h-1zM16 9h1v1h-1zM16 8h1v1h-1zM16 7h1v1h-1z"/>
<path fill="#f5f5f5" d="M4 11h1v1h-1zM4 10h1v1h-1zM4 9h1v1h-1zM5 13h1v1h-1zM6 14h1v1h-1zM6 6h1v1h-1zM6 5h1v1h-1zM7 5h1v1h-1zM8 15h1v1h-1zM8 4h1v1h-1zM9 15h1v1h-1zM9 14h1v1h-1zM9 4h1v1h-1zM10 4h1v1h-1zM12 14h1v1h-1zM12 4h1v1h-1zM13 13h1v1h-1zM13 5h1v1h-1zM13 4h1v1h-1zM14 12h1v1h-1zM15 10h1v1h-1zM15 9h1v1h-1zM15 8h1v1h-1zM15 7h1v1h-1zM15 6h1v1h-1z"/>
<path fill="#f0f0f0" d="M5 7h1v1h-1zM7 14h1v1h-1zM11 14h1v1h-1zM11 4h1v1h-1z"/>
<path fill="#ebebeb" d="M5 12h1v1h-1zM5 11h1v1h-1zM6 13h1v1h-1zM6 7h1v1h-1zM7 6h1v1h-1zM10 14h1v1h-1zM11 5h1v1h-1zM12 13h1v1h-1zM12 5h1v1h-1zM14 11h1v1h-1zM14 10h1v1h-1zM14 8h1v1h-1zM14 6h1v1h-1z"/>
<path fill="#e6e6e6" d="M5 8h1v1h-1zM8 14h1v1h-1zM13 12h1v1h-1zM13 6h1v1h-1z"/>
<path fill="#e1e1e1" d="M5 9h1v1h-1zM6 12h1v1h-1zM9 13h1v1h-1zM10 5h1v1h-1z"/>
<path fill="#dcdcdc" d="M5 10h1v1h-1zM8 6h1v1h-1zM11 13h1v1h-1zM13 11h1v1h-1zM14 9h1v1h-1zM14 7h1v1h-1z"/>
<path fill="#d7d7d7" d="M7 13h1v1h-1zM8 5h1v1h-1zM9 5h1v1h-1zM12 12h1v1h-1zM12 6h1v1h-1z"/>
<path fill="#d2d2d2" d="M6 8h1v1h-1zM7 7h1v1h-1z"/>
<path fill="#cdcdcd" d="M6 11h1v1h-1zM10 13h1v1h-1zM13 10h1v1h-1z"/>
<path fill="#c8c8c8" d="M6 9h1v1h-1zM7 12h1v1h-1zM8 13h1v1h-1zM10 6h1v1h-1zM12 11h1v1h-1zM13 7h1v1h-1z"/>
<path fill="#c3c3c3" d="M7 8h1v1h-1zM9 6h1v1h-1zM11 6h1v1h-1zM13 8h1v1h-1z"/>
<path fill="#bebebe" d="M6 10h1v1h-1z"/>
<path fill="#b9b9b9" d="M10 12h1v1h-1z"/>
<path fill="#b4b4b4" d="M11 12h1v1h-1zM13 9h1v1h-1z"/>
<path fill="#afafaf" d="M8 12h1v1h-1zM12 7h1v1h-1z"/>
<path fill="#aaaaaa" d="M7 11h1v1h-1z"/>
<path fill="#a5a5a5" d="M12 10h1v1h-1zM12 8h1v1h-1z"/>
<path fill="#9b9b9b" d="M8 7h1v1h-1z"/>
<path fill="#969696" d="M7 9h1v1h-1zM9 12h1v1h-1z"/>
<path fill="#919191" d="M10 7h1v1h-1zM11 11h1v1h-1zM11 7h1v1h-1zM12 9h1v1h-1z"/>
<path fill="#8c8c8c" d="M7 10h1v1h-1zM8 11h1v1h-1z"/>
<path fill="#878787" d="M8 9h1v1h-1zM8 8h1v1h-1z"/>
<path fill="#828282" d="M10 11h1v1h-1zM11 10h1v1h-1z"/>
<path fill="#787878" d="M9 10h1v1h-1z"/>
<path fill="#6e6e6e" d="M9 11h1v1h-1z"/>
<path fill="#646464" d="M9 7h1v1h-1zM11 9h1v1h-1z"/>
<path fill="#5f5f5f" d="M9 8h1v1h-1zM11 8h1v1h-1z"/>
<path fill="#505050" d="M10 8h1v1h-1z"/>
<path fill="#414141" d="M10 9h1v1h-1z"/>
<path fill="#3c3c3c" d="M8 10h1v1h-1z"/>
<path fill="#373737" d="M10 10h1v1h-1z"/>
<path fill="#000000" d="M9 9h1v1h-1z"/>
</g>
<path class="ct" d="M131.5 946.5L132 946.8L132.4 946.5L138.5 941.7L141 940L145 938.8L151.5 935.1L154.7 933.5L158 927L158 927L164.2 920.5L164.5 919.9L166.9 914L168.9 907.5L170.6 901L171 899.4L172.9 894.5L171.5 888L171 886.7L169.4 881.5L165.1 875L164.5 874.3L158 875L158 875L158 875L158 875L158.4 868.5L158 868L151.5 863.8L145 863.3L142.5 862L138.5 859.3L132 856.3L125.4 859.2L121.5 862L118.9 863.3L112.4 867L109.6 868.5L105.9 870.3L101.3 875L99.4 877.2L95.5 881.5L92.9 886.5L89 888L86.4 889.4L84.9 894.5L86.4 897.3L88 901L86.4 905.5L85.4 907.5L86.4 914L86.4 914L90 920.5L89.3 927L92.9 932L94.9 933.5L99.4 939.2L99.9 940L105.9 943.7L112.4 943.8L118.9 946.5L125.4 944.1ZM115 933.5L118.9 936.4L121.7 933.5L125.4 930.3L130.6 933.5L132 934.4L133.6 933.5L138.5 931.3L144.1 927L145 926.3L151.5 922.8L153.6 920.5L158 915.1L158.7 914L158.7 907.5L161.8 901L158 895.1L157.7 894.5L158 894L161.9 888L158.5 881.5L158 881.2L151.5 879L145 875.6L141.3 875L138.5 872.6L132 871.7L125.4 870.5L118.9 871.4L115.2 875L112.6 881.5L112.4 881.6L105.9 887.8L105.6 888L99.4 891.4L97.4 894.5L96.8 901L96.3 907.5L99.4 914L99.4 914L99.8 920.5L105 927L105.9 928L112.4 932ZM116.8 920.5L118.9 922.4L125.4 922.8L132 920.5L132 920.5L132 920.5L138.5 921.2L139.2 920.5L142.4 914L145 910.4L147.5 907.5L151.5 901.4L151.7 901L151.5 900.3L148.5 894.5L146.6 888L145 887.1L138.5 883.4L132 883.7L125.4 882.5L118.9 885.6L116 888L114.2 894.5L112.4 896.7L108.2 901L107.3 907.5L110.5 914L112.4 916.4ZM116.2 907.5L118.9 910.3L122.8 907.5L125.4 906.1L127.9 907.5L132 910.9L135.5 907.5L137.8 901L138.5 896.1L138.5 894.5L138.5 894.4L132 893L125.4 894.5L125.4 894.5L121.1 901L118.9 904.6Z"/>
</g>
<g clip-path="url(#c61)">
<path class="pt" transform="translate(200.25 839.2) scale(.5)" d="m0 125h0m1-21h0m0 79h0m1-40h0m1-94h0m0 34h0m0 30h0m1 21h0m0 10h0m0 48h0m1-92h0m2 13h0m1 36h0m1-88h0m1 28h0m0 14h0m0 48h0m0 6h0m2-79h0m0 112h0m1-135h0m0 53h0m1-3h0m0 50h0m1-89h0m0 48h0m0 51h0m0 15h0m0 71h0m1-181h0m0 25h0m0 6h0m0 26h0m1-50h0m0 29h0m0 13h0m0 14h0m1-77h0m0 12h0m0 17h0m0 18h0m0 3h0m0 11h0m0 26h0m0 16h0m0 36h0m1-66h0m0 78h0m1-132h0m0 25h0m0 32h0m1-38h0m0 16h0m1 7h0m0 28h0m0 19h0m1-37h0m0 51h0m1-100h0m0 43h0m0 28h0m0 55h0m1-14h0m1-118h0m0 15h0m0 26h0m0 0h0m0 8h0m0 11h0m0 42h0m1-125h0m0 22h0m0 4h0m0 5h0m0 23h0m0 2h0m0 8h0m0 16h0m0 42h0m0 56h0m1-94h0m0 22h0m1-128h0m0 32h0m0 57h0m0 28h0m0 10h0m0 9h0m0 12h0m1-105h0m0 33h0m0 9h0m0 3h0m0 9h0m0 8h0m0 9h0m0 35h0m1-110h0m0 16h0m0 17h0m0 5h0m0 21h0m0 34h0m0 6h0m0 0h0m0 29h0m0 1h0m1-133h0m0 21h0m0 0h0m0 10h0m0 36h0m0 4h0m0 53h0m1-127h0m0 15h0m0 30h0m0 3h0m0 3h0m0 1h0m0 6h0m0 6h0m0 3h0m0 18h0m0 1h0m0 3h0m1-70h0m0 27h0m0 9h0m0 5h0m0 19h0m0 5h0m0 19h0m1-74h0m0 1h0m0 23h0m0 0h0m0 6h0m0 7h0m0 6h0m0 2h0m0 9h0m0 13h0m0 7h0m0 10h0m0 23h0m0 46h0m1-168h0m0 24h0m0 31h0m0 7h0m0 1h0m0 15h0m1-50h0m0 7h0m0 15h0m0 6h0m0 61h0m1-148h0m0 50h0m0 1h0m0 7h0m0 6h0m0 29h0m0 2h0m0 30h0m0 20h0m0 3h0m0 4h0m1-125h0m0 48h0m0 11h0m0 3h0m0 0h0m0 16h0m0 41h0m1-129h0m0 9h0m0 6h0m0 18h0m0 9h0m0 18h0m0 2h0m0 26h0m0 4h0m0 20h0m0 19h0m0 27h0m1-178h0m0 26h0m0 11h0m0 8h0m0 2h0m0 15h0m0 0h0m0 5h0m0 3h0m0 3h0m0 6h0m0 3h0m0 2h0m0 22h0m0 8h0m0 28h0m0 8h0m0 13h0m0 10h0m1-128h0m0 3h0m0 0h0m0 6h0m0 1h0m0 4h0m0 10h0m0 5h0m0 14h0m0 2h0m0 0h0m0 3h0m0 1h0m0 5h0m0 16h0m0 8h0m0 19h0m1-165h0m0 76h0m0 0h0m0 1h0m0 19h0m0 6h0m0 3h0m0 5h0m0 9h0m0 10h0m0 13h0m0 4h0m0 21h0m0 10h0m0 18h0m0 3h0m1-213h0m0 79h0m0 14h0m0 42h0m0 20h0m0 0h0m1-121h0m0 19h0m0 17h0m0 26h0m0 4h0m0 9h0m0 4h0m0 9h0m0 2h0m0 14h0m0 15h0m0 21h0m0 6h0m0 11h0m1-166h0m0 7h0m0 17h0m0 45h0m0 20h0m0 8h0m0 20h0m0 13h0m0 5h0m0 1h0m0 1h0m0 12h0m0 69h0m1-224h0m0 59h0m0 23h0m0 6h0m0 23h0m0 2h0m0 1h0m0 5h0m0 12h0m0 14h0m0 7h0m0 1h0m0 63h0m1-154h0m0 12h0m0 26h0m0 8h0m0 0h0m0 5h0m0 13h0m0 1h0m0 0h0m0 7h0m0 8h0m0 4h0m0 0h0m1-125h0m0 22h0m0 13h0m0 5h0m0 16h0m0 9h0m0 5h0m0 12h0m0 11h0m0 11h0m0 25h0m0 9h0m0 8h0m1-148h0m0 34h0m0 22h0m0 0h0m0 34h0m0 11h0m0 2h0m0 2h0m0 30h0m0 7h0m0 24h0m0 2h0m1-148h0m0 9h0m0 50h0m0 31h0m0 4h0m0 17h0m0 2h0m0 36h0m0 18h0m1-148h0m0 13h0m0 55h0m0 4h0m0 1h0m0 6h0m0 0h0m0 4h0m0 0h0m0 1h0m0 13h0m0 4h0m1-136h0m0 11h0m0 8h0m0 5h0m0 22h0m0 1h0m0 59h0m0 2h0m0 3h0m0 5h0m0 1h0m0 30h0m0 8h0m1-174h0m0 20h0m0 14h0m0 19h0m0 9h0m0 67h0m0 12h0m0 3h0m0 19h0m0 6h0m0 7h0m1-161h0m0 16h0m0 11h0m0 3h0m0 4h0m0 5h0m0 1h0m0 11h0m0 1h0m0 75h0m0 1h0m0 2h0m0 9h0m0 29h0m1-197h0m0 18h0m0 29h0m0 15h0m0 9h0m0 9h0m0 105h0m0 4h0m1-151h0m0 127h0m0 1h0m0 13h0m0 5h0m0 5h0m1-122h0m0 7h0m0 81h0m0 1h0m0 1h0m0 23h0m0 17h0m1-182h0m0 2h0m0 26h0m0 5h0m0 1h0m0 0h0m0 21h0m0 88h0m0 18h0m0 2h0m0 10h0m0 1h0m0 6h0m1-139h0m0 113h0m0 6h0m0 1h0m1-138h0m0 24h0m0 14h0m0 83h0m0 1h0m0 1h0m0 4h0m0 7h0m0 4h0m0 8h0m0 4h0m1-161h0m0 15h0m0 12h0m0 0h0m0 6h0m0 2h0m0 3h0m0 97h0m0 30h0m0 2h0m1-184h0m0 53h0m0 0h0m0 8h0m0 3h0m0 1h0m0 0h0m0 89h0m0 0h0m0 0h0m0 3h0m0 18h0m0 1h0m0 31h0m1-171h0m0 5h0m0 116h0m0 5h0m0 25h0m0 11h0m1-150h0m0 9h0m0 6h0m0 97h0m0 28h0m1-147h0m0 116h0m0 2h0m0 4h0m0 20h0m1-187h0m0 3h0m0 17h0m0 6h0m0 12h0m0 5h0m0 12h0m0 5h0m0 5h0m0 104h0m0 15h0m0 1h0m1-178h0m0 18h0m0 2h0m0 23h0m0 111h0m0 3h0m0 0h0m0 0h0m0 0h0m0 15h0m0 4h0m0 44h0m1-194h0m0 6h0m0 1h0m0 8h0m0 1h0m0 1h0m0 2h0m0 9h0m0 0h0m0 4h0m0 0h0m0 101h0m0 7h0m1-160h0m0 1h0m0 6h0m0 33h0m0 115h0m0 12h0m0 11h0m0 4h0m0 9h0m0 4h0m1-179h0m0 11h0m0 3h0m0 15h0m0 5h0m0 1h0m0 101h0m0 9h0m0 2h0m0 11h0m1-202h0m0 42h0m0 6h0m0 21h0m0 9h0m0 110h0m0 22h0m0 7h0m0 14h0m1-204h0m0 14h0m0 1h0m0 4h0m0 8h0m0 2h0m0 0h0m0 21h0m1-24h0m0 1h0m0 0h0m0 5h0m0 11h0m0 3h0m0 115h0m0 8h0m0 46h0m1-203h0m0 20h0m0 4h0m0 10h0m0 114h0m1-144h0m0 4h0m0 2h0m0 16h0m0 4h0m0 113h0m0 4h0m0 47h0m1-192h0m0 18h0m0 128h0m0 16h0m0 34h0m1-200h0m0 9h0m0 7h0m0 0h0m0 137h0m0 26h0m0 5h0m1-194h0m0 5h0m0 21h0m0 9h0m0 2h0m0 125h0m0 1h0m0 0h0m0 3h0m0 0h0m0 9h0m0 13h0m0 16h0m1-183h0m0 145h0m0 1h0m0 6h0m0 4h0m0 18h0m0 16h0m0 1h0m1-216h0m0 22h0m0 0h0m0 9h0m0 7h0m0 1h0m0 0h0m0 138h0m0 2h0m0 17h0m0 4h0m0 20h0m1-228h0m0 5h0m0 2h0m0 7h0m0 10h0m0 3h0m0 15h0m0 1h0m0 0h0m0 129h0m0 2h0m0 15h0m0 20h0m1-211h0m0 8h0m0 18h0m0 17h0m0 2h0m0 128h0m0 2h0m0 11h0m0 26h0m0 2h0m0 0h0m1-201h0m0 16h0m0 5h0m0 5h0m0 1h0m0 139h0m0 10h0m0 1h0m1-165h0m0 8h0m0 11h0m0 156h0m0 5h0m0 9h0m1-196h0m0 21h0m0 140h0m0 0h0m0 0h0m0 23h0m0 19h0m1-218h0m0 175h0m0 4h0m0 10h0m0 14h0m0 9h0m1-185h0m0 0h0m0 6h0m0 166h0m1-22h0m0 17h0m0 2h0m0 17h0m0 13h0m1-214h0m0 174h0m0 1h0m0 0h0m0 23h0m1-221h0m0 33h0m0 3h0m0 1h0m0 8h0m0 148h0m0 0h0m0 5h0m0 27h0m0 15h0m1-204h0m0 1h0m0 156h0m0 2h0m0 2h0m0 3h0m1-195h0m0 16h0m0 15h0m0 4h0m0 2h0m0 152h0m0 2h0m0 9h0m1-209h0m0 11h0m0 23h0m0 4h0m0 5h0m0 159h0m1-201h0m0 28h0m0 0h0m0 1h0m0 5h0m0 5h0m0 175h0m0 3h0m1-189h0m0 8h0m0 164h0m0 21h0m1-18h0m0 8h0m0 2h0m1-189h0m0 6h0m0 10h0m0 166h0m0 3h0m1-172h0m0 166h0m0 7h0m0 2h0m0 34h0m1-235h0m0 14h0m0 0h0m0 12h0m0 1h0m0 2h0m0 164h0m0 16h0m1-189h0m0 1h0m0 6h0m0 165h0m0 11h0m0 15h0m0 9h0m1-224h0m0 9h0m0 183h0m0 5h0m0 12h0m1-4h0m0 8h0m1-225h0m0 12h0m0 16h0m0 3h0m0 185h0m0 32h0m1-224h0m0 4h0m0 175h0m0 4h0m0 0h0m0 2h0m0 4h0m0 1h0m1-192h0m0 9h0m0 2h0m0 189h0m1-195h0m0 1h0m0 7h0m0 1h0m0 4h0m0 163h0m1-187h0m0 7h0m0 8h0m0 4h0m0 188h0m1-210h0m0 12h0m0 7h0m0 5h0m0 168h0m0 1h0m0 1h0m0 25h0m1-197h0m0 1h0m0 1h0m0 2h0m0 172h0m0 1h0m0 2h0m1-214h0m0 16h0m0 3h0m0 12h0m0 177h0m0 46h0m1-225h0m1 2h0m0 178h0m0 9h0m1-205h0m0 25h0m1-22h0m0 7h0m0 8h0m0 1h0m0 1h0m0 1h0m0 4h0m0 182h0m0 1h0m1-212h0m0 26h0m0 178h0m1-201h0m0 4h0m0 206h0m1-204h0m0 17h0m0 185h0m0 6h0m0 9h0m1-208h0m0 5h0m0 2h0m0 181h0m0 11h0m1-195h0m0 3h0m0 0h0m0 1h0m0 1h0m0 0h0m0 179h0m0 3h0m1-204h0m0 8h0m0 4h0m0 187h0m0 2h0m0 19h0m1-213h0m0 7h0m0 6h0m0 175h0m0 28h0m0 1h0m0 6h0m0 3h0m0 3h0m1-236h0m0 5h0m0 10h0m0 5h0m0 1h0m0 178h0m0 2h0m0 3h0m0 4h0m0 16h0m1-228h0m0 5h0m0 199h0m0 1h0m0 26h0m1-237h0m0 204h0m0 1h0m0 6h0m0 13h0m1-216h0m0 14h0m0 8h0m0 1h0m0 0h0m0 1h0m0 176h0m0 5h0m0 0h0m1-213h0m0 26h0m0 210h0m1-209h0m0 5h0m0 189h0m0 28h0m1-246h0m0 15h0m0 195h0m0 3h0m0 19h0m0 1h0m1-217h0m0 3h0m0 4h0m0 4h0m0 2h0m0 180h0m0 23h0m1-242h0m0 25h0m0 7h0m0 7h0m0 0h0m0 171h0m0 1h0m0 1h0m0 4h0m0 2h0m0 9h0m0 6h0m1-204h0m0 184h0m0 1h0m0 1h0m0 6h0m0 29h0m1-240h0m0 0h0m0 24h0m0 180h0m0 3h0m0 14h0m1-231h0m0 8h0m0 14h0m0 4h0m0 185h0m0 4h0m0 13h0m1-213h0m0 5h0m0 13h0m0 6h0m0 171h0m0 5h0m0 4h0m0 5h0m0 14h0m0 19h0m1-228h0m0 7h0m0 1h0m1-4h0m0 1h0m0 3h0m0 176h0m0 35h0m1-214h0m0 5h0m0 185h0m0 3h0m0 2h0m0 0h0m1-220h0m0 23h0m0 184h0m0 22h0m1-199h0m0 2h0m0 173h0m0 7h0m0 29h0m1-210h0m0 173h0m0 19h0m0 0h0m0 9h0m1-212h0m0 11h0m0 216h0m1-232h0m0 2h0m0 7h0m0 189h0m0 36h0m1-228h0m0 3h0m0 5h0m0 179h0m1-210h0m0 14h0m0 7h0m0 4h0m0 6h0m0 1h0m0 1h0m0 174h0m0 6h0m0 6h0m0 10h0m0 6h0m1-236h0m0 25h0m0 5h0m0 182h0m0 14h0m0 1h0m0 8h0m1-241h0m0 17h0m0 7h0m0 5h0m0 184h0m0 26h0m0 18h0m1-228h0m0 7h0m0 186h0m1-217h0m0 27h0m0 5h0m0 178h0m1-208h0m0 26h0m0 4h0m1-10h0m0 4h0m0 7h0m0 1h0m0 177h0m0 2h0m0 0h0m1-198h0m0 193h0m0 7h0m0 6h0m0 2h0m0 2h0m0 9h0m1-214h0m0 5h0m1-13h0m0 17h0m0 189h0m0 4h0m0 1h0m1-229h0m0 43h0m0 171h0m0 3h0m0 12h0m0 3h0m1-214h0m0 8h0m0 2h0m0 5h0m0 8h0m0 174h0m0 0h0m0 6h0m1-199h0m0 193h0m1-203h0m0 2h0m0 14h0m0 14h0m0 0h0m0 2h0m0 0h0m0 167h0m0 39h0m1-236h0m0 9h0m0 1h0m0 4h0m0 9h0m0 2h0m0 173h0m0 2h0m0 2h0m0 12h0m0 14h0m1-222h0m0 6h0m0 2h0m0 12h0m0 0h0m0 4h0m1-16h0m0 3h0m0 4h0m0 184h0m1-213h0m0 203h0m0 1h0m0 0h0m0 7h0m0 2h0m0 1h0m0 12h0m0 1h0m0 5h0m0 3h0m1-222h0m0 18h0m0 5h0m0 2h0m0 173h0m0 3h0m0 8h0m1-196h0m0 5h0m0 170h0m0 7h0m1-186h0m0 18h0m0 161h0m0 7h0m0 24h0m1-236h0m0 12h0m0 9h0m0 5h0m0 4h0m0 8h0m0 169h0m1 9h0m0 6h0m1-212h0m0 24h0m0 10h0m0 0h0m0 165h0m0 7h0m0 8h0m1-195h0m0 10h0m0 170h0m0 11h0m1-188h0m0 10h0m0 162h0m0 7h0m0 21h0m1-206h0m0 181h0m0 8h0m1-213h0m0 200h0m0 4h0m0 1h0m1-161h0m0 158h0m0 16h0m1-190h0m0 9h0m0 4h0m0 158h0m0 22h0m1-199h0m0 0h0m0 1h0m0 3h0m0 4h0m0 0h0m0 5h0m0 166h0m0 0h0m0 28h0m1-219h0m0 2h0m0 8h0m0 9h0m0 5h0m0 10h0m0 3h0m0 155h0m0 0h0m0 4h0m0 5h0m0 5h0m0 4h0m1-212h0m0 0h0m0 18h0m0 170h0m0 7h0m0 0h0m0 5h0m0 2h0m0 1h0m0 11h0m1-181h0m0 154h0m0 9h0m0 4h0m0 2h0m0 1h0m0 11h0m0 10h0m1-234h0m0 23h0m0 14h0m0 5h0m0 1h0m0 2h0m0 1h0m0 1h0m0 2h0m0 162h0m0 0h0m1-172h0m0 1h0m0 3h0m0 6h0m0 0h0m0 154h0m0 4h0m0 1h0m1-200h0m0 16h0m0 14h0m0 2h0m0 2h0m0 5h0m0 6h0m0 0h0m0 143h0m0 5h0m0 56h0m1-248h0m0 20h0m0 11h0m0 2h0m0 9h0m0 6h0m0 0h0m0 138h0m0 12h0m1-159h0m0 3h0m0 6h0m0 158h0m0 1h0m0 6h0m1-176h0m0 147h0m0 9h0m0 15h0m1-192h0m0 9h0m0 0h0m0 5h0m0 19h0m0 135h0m0 7h0m1-170h0m0 14h0m0 11h0m0 3h0m1-18h0m0 11h0m0 8h0m0 140h0m0 6h0m0 0h0m0 4h0m0 20h0m0 10h0m1-179h0m0 0h0m0 132h0m0 0h0m0 39h0m0 0h0m0 12h0m0 7h0m1-192h0m0 150h0m0 3h0m1-181h0m0 160h0m0 8h0m0 8h0m1-160h0m0 2h0m0 12h0m0 130h0m0 2h0m0 8h0m0 11h0m0 5h0m1-217h0m0 26h0m0 23h0m0 5h0m0 1h0m0 3h0m0 1h0m0 132h0m0 33h0m0 12h0m0 1h0m1-239h0m0 34h0m0 1h0m0 26h0m0 137h0m0 10h0m1-182h0m0 11h0m0 31h0m0 124h0m0 14h0m0 5h0m1-173h0m0 7h0m0 147h0m0 9h0m0 23h0m1-219h0m0 53h0m0 2h0m0 157h0m0 28h0m1-203h0m0 4h0m0 15h0m0 5h0m0 2h0m0 130h0m0 5h0m1-189h0m0 17h0m0 23h0m0 10h0m1 4h0m0 122h0m0 4h0m0 7h0m0 4h0m0 1h0m0 1h0m0 15h0m0 11h0m1-190h0m0 8h0m0 2h0m0 1h0m0 0h0m0 195h0m1-241h0m0 0h0m0 28h0m0 23h0m0 4h0m0 2h0m0 124h0m0 11h0m0 19h0m1-188h0m0 16h0m0 3h0m0 11h0m0 1h0m0 127h0m0 0h0m0 7h0m0 3h0m0 11h0m1-150h0m0 1h0m0 130h0m0 2h0m0 1h0m1-154h0m0 1h0m0 32h0m0 3h0m0 3h0m0 3h0m0 4h0m0 100h0m0 14h0m0 5h0m0 11h0m1-161h0m0 2h0m0 6h0m0 6h0m0 13h0m0 100h0m0 5h0m0 9h0m1-133h0m0 6h0m0 8h0m0 3h0m0 2h0m0 140h0m1-190h0m0 7h0m0 2h0m0 6h0m0 7h0m0 11h0m0 3h0m0 2h0m0 0h0m0 5h0m0 3h0m0 0h0m0 2h0m0 6h0m0 122h0m0 6h0m1-187h0m0 55h0m0 0h0m0 3h0m0 102h0m0 1h0m0 6h0m0 0h0m0 27h0m1-166h0m0 23h0m0 8h0m0 2h0m0 91h0m0 8h0m0 1h0m0 1h0m0 25h0m1-149h0m0 112h0m0 21h0m0 1h0m0 6h0m1-138h0m0 9h0m0 5h0m0 1h0m0 110h0m0 3h0m0 3h0m1-122h0m0 0h0m0 14h0m0 0h0m0 1h0m0 72h0m0 5h0m0 2h0m0 7h0m0 41h0m0 26h0m1-199h0m0 10h0m0 7h0m0 102h0m0 5h0m0 3h0m0 4h0m0 1h0m0 3h0m0 15h0m0 9h0m0 38h0m1-202h0m0 24h0m0 16h0m0 0h0m0 6h0m0 7h0m0 0h0m0 67h0m0 8h0m0 9h0m0 2h0m0 11h0m0 4h0m0 1h0m0 1h0m0 4h0m0 5h0m1-147h0m0 18h0m0 3h0m0 4h0m0 7h0m0 67h0m0 2h0m0 1h0m0 1h0m0 6h0m0 2h0m0 5h0m0 11h0m0 2h0m0 25h0m0 5h0m0 15h0m1-192h0m0 29h0m0 25h0m0 1h0m0 64h0m0 5h0m0 19h0m1-155h0m0 19h0m0 7h0m0 31h0m0 7h0m0 16h0m0 46h0m0 17h0m0 42h0m1-167h0m0 18h0m0 5h0m0 15h0m0 4h0m0 5h0m0 13h0m0 1h0m0 5h0m0 1h0m0 44h0m0 17h0m0 5h0m0 6h0m0 10h0m1-150h0m0 9h0m0 1h0m0 17h0m0 5h0m0 8h0m0 8h0m0 4h0m0 9h0m0 1h0m0 1h0m0 43h0m0 11h0m0 11h0m0 2h0m0 1h0m0 1h0m0 15h0m1-156h0m0 41h0m0 23h0m0 4h0m0 7h0m0 40h0m0 6h0m0 19h0m0 2h0m0 15h0m0 10h0m1-148h0m0 16h0m0 4h0m0 6h0m0 11h0m0 4h0m0 7h0m0 8h0m0 41h0m0 6h0m0 11h0m0 21h0m0 1h0m0 3h0m1-117h0m0 23h0m0 5h0m0 2h0m0 46h0m0 2h0m0 1h0m0 12h0m0 2h0m0 1h0m0 15h0m0 3h0m1-162h0m0 48h0m0 3h0m0 34h0m0 15h0m0 19h0m0 22h0m1-150h0m0 31h0m0 12h0m0 7h0m0 10h0m0 20h0m0 1h0m0 9h0m0 10h0m0 15h0m0 12h0m0 0h0m0 1h0m0 0h0m0 6h0m0 23h0m0 56h0m1-161h0m0 8h0m0 21h0m0 13h0m0 1h0m0 8h0m0 1h0m0 6h0m0 10h0m0 15h0m0 20h0m0 3h0m0 2h0m0 17h0m1-109h0m0 12h0m0 12h0m0 8h0m0 10h0m0 4h0m0 2h0m0 6h0m0 30h0m1-144h0m0 26h0m0 44h0m0 3h0m0 20h0m0 27h0m0 27h0m0 10h0m0 0h0m0 17h0m1-153h0m0 27h0m0 4h0m0 4h0m0 10h0m0 7h0m0 19h0m0 1h0m0 5h0m0 1h0m0 22h0m0 2h0m0 61h0m0 29h0m1-184h0m0 27h0m0 8h0m0 4h0m0 17h0m0 13h0m0 8h0m0 22h0m0 2h0m0 3h0m1-114h0m0 31h0m0 21h0m0 9h0m0 2h0m0 15h0m0 15h0m0 6h0m0 7h0m0 29h0m0 3h0m1-127h0m0 6h0m0 31h0m0 13h0m0 25h0m0 2h0m0 6h0m0 3h0m0 1h0m0 16h0m0 1h0m0 10h0m0 4h0m1-122h0m0 10h0m0 14h0m0 10h0m0 19h0m0 33h0m0 39h0m0 43h0m1-183h0m0 44h0m0 18h0m0 1h0m0 7h0m0 1h0m0 8h0m0 16h0m0 17h0m0 8h0m0 15h0m0 26h0m0 6h0m1-125h0m0 7h0m0 10h0m0 36h0m0 1h0m0 7h0m0 20h0m0 30h0m0 7h0m1-192h0m0 47h0m0 16h0m0 25h0m0 35h0m0 2h0m0 24h0m0 13h0m1-89h0m0 19h0m0 36h0m0 35h0m0 50h0m0 7h0m1-174h0m0 110h0m0 24h0m0 18h0m1-97h0m0 9h0m0 4h0m0 36h0m0 24h0m1-94h0m0 9h0m0 56h0m0 4h0m0 33h0m1-128h0m0 63h0m0 2h0m0 3h0m0 12h0m0 6h0m0 1h0m0 5h0m0 30h0m0 45h0m1-167h0m0 12h0m0 30h0m0 4h0m0 3h0m0 17h0m0 19h0m0 10h0m0 1h0m0 1h0m0 31h0m1-96h0m0 26h0m0 9h0m0 6h0m0 17h0m0 60h0m1-111h0m0 23h0m1-41h0m0 10h0m0 2h0m0 4h0m0 14h0m0 17h0m0 22h0m0 3h0m0 20h0m1-78h0m0 40h0m0 34h0m0 34h0m1-114h0m0 11h0m0 0h0m0 17h0m0 1h0m0 12h0m0 0h0m0 5h0m0 10h0m0 11h0m0 28h0m1-167h0m0 91h0m0 40h0m0 1h0m0 67h0m1-112h0m0 7h0m0 28h0m1 30h0m1-107h0m0 18h0m0 30h0m0 59h0m0 13h0m1-84h0m0 11h0m1-36h0m0 106h0m1-110h0m0 53h0m0 15h0m0 31h0m1-51h0m0 1h0m0 15h0m0 23h0m0 2h0m1-19h0m1-100h0m0 93h0m0 30h0m0 55h0m1-157h0m0 3h0m0 118h0m1-90h0m0 16h0m0 18h0m0 22h0m1-98h0m0 31h0m1-43h0m0 74h0m0 11h0m0 11h0m0 3h0"/>
<path fill="#fff" fill-rule="evenodd" d="M273.4 946.5L275.1 947.5L276.8 946.5L281.6 943.6L288.1 940L288.1 940L294.6 935.6L298.9 933.5L301.1 931.8L304.3 927L306.2 920.5L307.6 917.4L310.2 914L312.5 907.5L311.3 901L308.4 894.5L308.9 888L307.6 886.6L301.5 881.5L301.7 875L301.1 874L294.6 872.4L290.5 868.5L288.1 865.4L281.6 863.1L277.5 862L275.1 860.6L268.6 860.8L262 859.4L255.5 862L255.5 862L255.5 862L249 861.2L248.2 862L243.1 868.5L242.5 868.8L238.1 875L236 879.9L233.9 881.5L229.5 882.9L225.3 888L225.8 894.5L226.2 901L224.8 907.5L227.6 914L229.5 919.4L229.8 920.5L233.3 927L236 928.7L242.5 933.4L242.8 933.5L247.7 940L249 941.1L255.5 944.4L262 945.7L268.6 944.8L273.4 946.5Z"/>
<g transform="translate(200.25 839.2) scale(6.5050)" shape-rendering="crispEdges">
<path fill="#fafafa" d="M3 10h1v1h-1zM4 12h1v1h-1zM4 11h1v1h-1zM4 6h1v1h-1zM5 13h1v1h-1zM5 6h1v1h-1zM6 14h1v1h-1zM6 4h1v1h-1zM7 15h1v1h-1zM7 4h1v1h-1zM7 3h1v1h-1zM8 3h1v1h-1zM9 16h1v1h-1zM9 3h1v1h-1zM10 3h1v1h-1zM11 16h1v1h-1zM11 3h1v1h-1zM12 3h1v1h-1zM13 15h1v1h-1zM13 4h1v1h-1zM14 14h1v1h-1zM14 5h1v1h-1zM15 14h1v1h-1zM15 6h1v1h-1zM15 5h1v1h-1zM16 11h1v1h-1zM16 10h1v1h-1zM16 8h1v1h-1zM16 7h1v1h-1zM17 10h1v1h-1z"/>
<path fill="#f5f5f5" d="M4 10h1v1h-1zM4 9h1v1h-1zM4 8h1v1h-1zM4 7h1v1h-1zM5 12h1v1h-1zM6 5h1v1h-1zM7 14h1v1h-1zM8 15h1v1h-1zM8 4h1v1h-1zM9 15h1v1h-1zM9 4h1v1h-1zM11 15h1v1h-1zM12 15h1v1h-1zM12 4h1v1h-1zM15 13h1v1h-1zM15 11h1v1h-1zM15 7h1v1h-1zM16 9h1v1h-1z"/>
<path fill="#f0f0f0" d="M6 13h1v1h-1zM7 5h1v1h-1zM10 15h1v1h-1zM11 4h1v1h-1zM13 14h1v1h-1zM13 5h1v1h-1zM14 6h1v1h-1zM15 12h1v1h-1z"/>
<path fill="#ebebeb" d="M5 10h1v1h-1zM5 9h1v1h-1zM5 8h1v1h-1zM5 7h1v1h-1zM6 6h1v1h-1zM8 14h1v1h-1zM10 14h1v1h-1zM12 14h1v1h-1zM14 13h1v1h-1zM15 9h1v1h-1zM15 8h1v1h-1z"/>
<path fill="#e6e6e6" d="M5 11h1v1h-1zM6 7h1v1h-1zM8 13h1v1h-1zM9 14h1v1h-1zM9 5h1v1h-1zM10 4h1v1h-1zM12 5h1v1h-1zM13 13h1v1h-1zM13 6h1v1h-1zM15 10h1v1h-1z"/>
<path fill="#e1e1e1" d="M6 12h1v1h-1zM7 6h1v1h-1zM8 5h1v1h-1zM11 14h1v1h-1zM12 13h1v1h-1zM14 12h1v1h-1zM14 8h1v1h-1zM14 7h1v1h-1z"/>
<path fill="#dcdcdc" d="M7 13h1v1h-1zM11 5h1v1h-1zM14 11h1v1h-1z"/>
<path fill="#d7d7d7" d="M6 11h1v1h-1zM7 12h1v1h-1zM13 12h1v1h-1z"/>
<path fill="#d2d2d2" d="M6 10h1v1h-1zM6 9h1v1h-1zM8 6h1v1h-1zM10 5h1v1h-1z"/>
<path fill="#cdcdcd" d="M6 8h1v1h-1zM14 10h1v1h-1z"/>
<path fill="#c8c8c8" d="M8 12h1v1h-1zM10 13h1v1h-1zM11 13h1v1h-1zM14 9h1v1h-1z"/>
<path fill="#c3c3c3" d="M7 8h1v1h-1zM9 13h1v1h-1zM10 6h1v1h-1zM12 6h1v1h-1z"/>
<path fill="#bebebe" d="M7 11h1v1h-1zM7 10h1v1h-1zM12 12h1v1h-1z"/>
<path fill="#b9b9b9" d="M13 11h1v1h-1zM13 8h1v1h-1zM13 7h1v1h-1z"/>
<path fill="#b4b4b4" d="M7 7h1v1h-1zM8 11h1v1h-1z"/>
<path fill="#aaaaaa" d="M9 6h1v1h-1zM12 7h1v1h-1z"/>
<path fill="#a0a0a0" d="M10 12h1v1h-1zM11 6h1v1h-1zM13 10h1v1h-1zM13 9h1v1h-1z"/>
<path fill="#9b9b9b" d="M12 11h1v1h-1z"/>
<path fill="#969696" d="M9 12h1v1h-1z"/>
<path fill="#919191" d="M7 9h1v1h-1zM11 12h1v1h-1z"/>
<path fill="#8c8c8c" d="M8 10h1v1h-1zM11 7h1v1h-1z"/>
<path fill="#7d7d7d" d="M9 7h1v1h-1z"/>
<path fill="#737373" d="M10 11h1v1h-1z"/>
<path fill="#6e6e6e" d="M8 9h1v1h-1zM10 7h1v1h-1zM12 10h1v1h-1z"/>
<path fill="#646464" d="M8 8h1v1h-1zM12 8h1v1h-1z"/>
<path fill="#5f5f5f" d="M8 7h1v1h-1zM9 11h1v1h-1z"/>
<path fill="#5a5a5a" d="M9 8h1v1h-1z"/>
<path fill="#4b4b4b" d="M9 10h1v1h-1z"/>
<path fill="#464646" d="M11 8h1v1h-1z"/>
<path fill="#414141" d="M12 9h1v1h-1z"/>
<path fill="#323232" d="M10 8h1v1h-1z"/>
<path fill="#232323" d="M11 11h1v1h-1z"/>
<path fill="#1e1e1e" d="M9 9h1v1h-1zM10 10h1v1h-1z"/>
<path fill="#191919" d="M10 9h1v1h-1zM11 9h1v1h-1z"/>
<path fill="#000000" d="M11 10h1v1h-1z"/>
</g>
<path class="ct" d="M273.4 946.5L275.1 947.5L276.8 946.5L281.6 943.6L288.1 940L288.1 940L294.6 935.6L298.9 933.5L301.1 931.8L304.3 927L306.2 920.5L307.6 917.4L310.2 914L312.5 907.5L311.3 901L308.4 894.5L308.9 888L307.6 886.6L301.5 881.5L301.7 875L301.1 874L294.6 872.4L290.5 868.5L288.1 865.4L281.6 863.1L277.5 862L275.1 860.6L268.6 860.8L262 859.4L255.5 862L255.5 862L255.5 862L249 861.2L248.2 862L243.1 868.5L242.5 868.8L238.1 875L236 879.9L233.9 881.5L229.5 882.9L225.3 888L225.8 894.5L226.2 901L224.8 907.5L227.6 914L229.5 919.4L229.8 920.5L233.3 927L236 928.7L242.5 933.4L242.8 933.5L247.7 940L249 941.1L255.5 944.4L262 945.7L268.6 944.8ZM260.4 933.5L262 934.1L264 933.5L268.6 932.7L272.3 933.5L275.1 934.2L278 933.5L281.6 930.9L288.1 927.9L289.4 927L294.6 922.4L296.1 920.5L296.4 914L301.1 908L301.5 907.5L301.1 905.7L300.2 901L298 894.5L295.4 888L294.6 886.9L288.6 881.5L288.1 881L282.3 875L281.6 874.4L275.1 872.7L268.6 868.5L262 874.6L255.5 874.2L254.3 875L249 880.2L247.2 881.5L242.5 886.5L240.5 888L237.7 894.5L237.9 901L238 907.5L236 914L240.7 920.5L242.5 923.1L246.2 927L249 929L255.1 927L255.5 926.9L255.7 927ZM258.2 920.5L262 924.7L268.6 923.5L275.1 924.3L279.9 920.5L281.6 918.4L286.8 914L288.1 912.6L290.6 907.5L291.3 901L288.1 896L287.5 894.5L285.7 888L281.6 885.5L278.3 881.5L275.1 879.9L271.5 881.5L268.6 882.8L264.7 881.5L262 880.6L260.6 881.5L255.5 883.7L249.3 888L250.3 894.5L249 896.6L245.9 901L249 905.7L250.8 907.5L255.5 914L255.5 914ZM274.2 914L275.1 914.6L275.6 914L277.7 907.5L279.2 901L275.1 897.5L268.6 894.5L262 899L260.6 901L262 903.7L265.7 907.5L268.6 908.9Z"/>
</g>
<g clip-path="url(#c62)">
<path class="pt" transform="translate(336.85 839.2) scale(.5)" d="m0 2h0m0 13h0m0 5h0m0 8h0m0 17h0m1-40h0m0 1h0m0 15h0m0 18h0m0 1h0m0 3h0m0 3h0m0 7h0m0 3h0m1-55h0m0 7h0m0 1h0m0 2h0m1-9h0m0 14h0m0 11h0m0 6h0m0 1h0m0 6h0m0 9h0m0 2h0m0 22h0m1-72h0m0 2h0m0 10h0m0 4h0m0 6h0m0 6h0m0 12h0m0 16h0m0 11h0m0 12h0m1-59h0m0 3h0m0 9h0m0 16h0m0 7h0m1-55h0m0 14h0m0 1h0m0 4h0m0 8h0m0 16h0m0 6h0m0 2h0m0 20h0m1-65h0m0 46h0m0 45h0m0 4h0m1-90h0m0 7h0m0 9h0m0 5h0m0 5h0m0 9h0m0 13h0m0 11h0m0 7h0m0 6h0m1-82h0m0 45h0m0 0h0m0 10h0m0 22h0m1-71h0m0 15h0m0 4h0m0 4h0m0 2h0m0 17h0m0 19h0m0 21h0m1-87h0m0 31h0m0 2h0m0 5h0m0 4h0m0 11h0m0 9h0m0 3h0m0 0h0m0 7h0m0 9h0m1-73h0m0 2h0m0 6h0m0 7h0m0 35h0m0 1h0m0 2h0m0 3h0m0 2h0m0 10h0m1-57h0m0 5h0m0 5h0m0 16h0m0 6h0m0 2h0m0 14h0m0 6h0m0 18h0m1-79h0m0 14h0m0 2h0m0 0h0m0 7h0m0 3h0m0 2h0m0 2h0m0 11h0m0 1h0m0 6h0m0 0h0m0 2h0m0 9h0m0 7h0m0 1h0m0 3h0m0 9h0m0 1h0m1-88h0m0 7h0m0 21h0m0 20h0m0 1h0m0 1h0m0 2h0m0 3h0m0 8h0m1-43h0m0 2h0m0 2h0m0 1h0m0 3h0m0 1h0m0 3h0m0 4h0m0 5h0m0 9h0m0 0h0m0 2h0m0 1h0m0 8h0m0 0h0m0 13h0m0 10h0m0 8h0m0 8h0m0 15h0m1-101h0m0 6h0m0 4h0m0 0h0m0 3h0m0 1h0m0 14h0m0 0h0m0 7h0m0 1h0m0 4h0m0 4h0m0 3h0m0 8h0m0 5h0m0 2h0m0 9h0m0 0h0m0 3h0m0 17h0m0 15h0m0 4h0m1-119h0m0 16h0m0 4h0m0 5h0m0 1h0m0 8h0m0 2h0m0 4h0m0 12h0m0 3h0m0 2h0m0 0h0m0 5h0m0 2h0m0 14h0m0 6h0m0 13h0m0 7h0m1-111h0m0 8h0m0 11h0m0 4h0m0 7h0m0 7h0m0 13h0m0 18h0m0 4h0m0 2h0m0 15h0m0 13h0m0 6h0m1-97h0m0 15h0m0 2h0m0 5h0m0 3h0m0 2h0m0 2h0m0 7h0m0 0h0m0 3h0m0 16h0m0 6h0m0 1h0m0 2h0m0 4h0m0 1h0m0 5h0m0 0h0m0 5h0m0 16h0m1-106h0m0 22h0m0 3h0m0 0h0m0 6h0m0 0h0m0 3h0m0 4h0m0 2h0m0 0h0m0 4h0m0 0h0m0 5h0m0 1h0m0 4h0m0 10h0m0 6h0m0 8h0m0 2h0m0 1h0m0 13h0m0 50h0m1-146h0m0 33h0m0 2h0m0 3h0m0 1h0m0 6h0m0 5h0m0 30h0m0 2h0m0 1h0m0 2h0m1-86h0m0 16h0m0 6h0m0 1h0m0 7h0m0 1h0m0 7h0m0 6h0m0 41h0m0 5h0m0 10h0m0 5h0m0 0h0m0 6h0m1-96h0m0 14h0m0 4h0m0 0h0m0 12h0m0 47h0m0 8h0m0 5h0m0 1h0m0 3h0m0 1h0m1-103h0m0 6h0m0 2h0m0 8h0m0 73h0m0 9h0m0 5h0m1-112h0m0 18h0m0 6h0m0 3h0m0 1h0m0 3h0m0 6h0m0 2h0m0 1h0m0 0h0m0 0h0m0 0h0m0 59h0m0 6h0m0 5h0m0 2h0m0 20h0m1-115h0m0 6h0m0 6h0m0 2h0m0 73h0m0 8h0m0 3h0m0 8h0m0 1h0m1-119h0m0 4h0m0 4h0m0 16h0m0 2h0m0 2h0m0 8h0m0 61h0m0 1h0m0 3h0m0 8h0m0 18h0m1-118h0m0 0h0m0 13h0m0 8h0m0 2h0m0 2h0m0 86h0m1-106h0m0 9h0m0 5h0m0 74h0m0 20h0m1-100h0m0 2h0m0 81h0m0 0h0m0 1h0m0 6h0m0 7h0m0 7h0m0 20h0m1-120h0m0 81h0m0 0h0m0 0h0m0 7h0m0 7h0m1-113h0m0 114h0m0 1h0m0 4h0m0 2h0m0 15h0m1-140h0m0 10h0m0 5h0m0 8h0m0 85h0m0 2h0m0 4h0m0 0h0m0 6h0m1-108h0m0 5h0m0 4h0m0 94h0m0 3h0m0 2h0m1-109h0m0 13h0m0 101h0m1-129h0m0 6h0m1 15h0m0 1h0m0 6h0m1-23h0m0 119h0m1-112h0m0 5h0m0 6h0m0 112h0m0 4h0m1-136h0m0 10h0m0 1h0m0 7h0m0 2h0m0 0h0m0 1h0m0 103h0m0 1h0m0 3h0m0 15h0m1-125h0m0 6h0m0 2h0m0 100h0m0 1h0m0 1h0m0 3h0m1-105h0m0 99h0m0 2h0m0 4h0m0 2h0m1-115h0m0 3h0m0 105h0m0 16h0m0 7h0m1-134h0m0 4h0m0 0h0m0 2h0m0 2h0m0 2h0m0 2h0m0 105h0m0 4h0m1-8h0m0 1h0m0 0h0m0 2h0m0 25h0m1-162h0m0 18h0m0 11h0m0 1h0m1-17h0m0 9h0m0 3h0m0 0h0m0 5h0m0 4h0m0 0h0m0 102h0m0 2h0m0 12h0m0 5h0m1-145h0m0 9h0m0 126h0m0 3h0m0 6h0m1-133h0m0 13h0m0 105h0m0 1h0m0 5h0m0 1h0m1-121h0m0 9h0m0 0h0m0 4h0m0 107h0m0 3h0m0 2h0m0 4h0m1-146h0m0 9h0m0 127h0m0 9h0m1-130h0m0 8h0m0 2h0m0 114h0m0 7h0m1-127h0m0 3h0m0 117h0m0 5h0m0 9h0m0 2h0m1-139h0m0 1h0m0 8h0m0 1h0m0 121h0m0 0h0m0 15h0m1-160h0m0 21h0m0 1h0m0 5h0m0 107h0m0 6h0m0 8h0m0 1h0m1-144h0m0 11h0m0 6h0m0 5h0m0 4h0m0 109h0m0 4h0m0 0h0m1-121h0m0 132h0m1-138h0m0 2h0m0 122h0m0 2h0m0 10h0m1-149h0m0 24h0m0 120h0m0 17h0m1-145h0m0 7h0m0 1h0m0 1h0m0 3h0m0 108h0m0 0h0m0 5h0m0 30h0m1-154h0m0 126h0m0 7h0m1-139h0m0 12h0m0 6h0m0 111h0m0 10h0m1-130h0m0 128h0m1-130h0m0 6h0m0 120h0m0 11h0m1-134h0m0 1h0m0 1h0m0 122h0m1-137h0m0 19h0m0 128h0m0 5h0m0 1h0m0 4h0m0 3h0m0 13h0m0 1h0m1-162h0m0 6h0m0 3h0m0 114h0m0 0h0m0 1h0m0 7h0m0 1h0m1-131h0m0 3h0m0 1h0m0 122h0m0 0h0m1-146h0m0 4h0m0 7h0m0 15h0m0 121h0m0 12h0m1-147h0m0 12h0m0 123h0m0 0h0m0 12h0m1-148h0m0 14h0m0 2h0m0 126h0m0 0h0m0 19h0m1-163h0m0 12h0m0 2h0m0 127h0m0 2h0m0 17h0m1-152h0m0 8h0m0 4h0m0 1h0m0 134h0m1-151h0m0 12h0m0 4h0m0 125h0m0 6h0m0 2h0m1-139h0m0 2h0m0 2h0m0 5h0m0 1h0m0 118h0m0 1h0m0 7h0m0 0h0m0 3h0m1-6h0m1-131h0m0 5h0m0 1h0m0 129h0m0 4h0m0 0h0m1-128h0m0 138h0m0 6h0m0 29h0m1-185h0m0 1h0m0 7h0m0 127h0m1-162h0m0 27h0m0 5h0m0 1h0m0 3h0m0 125h0m0 0h0m0 1h0m0 43h0m1-174h0m0 8h0m0 128h0m0 6h0m0 18h0m1-172h0m0 6h0m0 16h0m0 126h0m1-153h0m0 150h0m0 3h0m0 14h0m1-141h0m1-17h0m0 17h0m0 3h0m0 0h0m0 123h0m0 0h0m0 4h0m0 11h0m0 10h0m1-149h0m0 1h0m0 1h0m0 130h0m0 5h0m0 18h0m1-171h0m0 3h0m0 3h0m0 3h0m0 137h0m0 3h0m0 6h0m1-136h0m0 122h0m0 3h0m0 3h0m1-132h0m0 1h0m0 132h0m0 7h0m1-149h0m0 6h0m0 7h0m0 139h0m1-176h0m0 24h0m0 10h0m0 2h0m0 124h0m0 3h0m0 1h0m0 6h0m1-151h0m0 13h0m0 0h0m0 130h0m0 2h0m0 10h0m2-156h0m0 27h0m0 120h0m0 0h0m0 12h0m0 0h0m0 4h0m0 1h0m0 2h0m1-148h0m0 3h0m0 134h0m0 3h0m0 28h0m1-39h0m0 2h0m0 6h0m0 5h0m0 21h0m0 11h0m1-174h0m0 12h0m0 120h0m0 20h0m1-154h0m0 6h0m0 126h0m0 2h0m0 0h0m0 6h0m1-154h0m0 6h0m0 9h0m0 4h0m0 8h0m0 2h0m0 118h0m0 1h0m0 5h0m0 8h0m0 18h0m1-150h0m0 1h0m0 117h0m0 4h0m0 14h0m1-138h0m0 4h0m1-6h0m0 128h0m0 10h0m1-143h0m0 4h0m0 134h0m0 0h0m1-129h0m0 1h0m0 1h0m0 120h0m1-119h0m0 116h0m0 1h0m1-149h0m0 16h0m0 3h0m0 135h0m0 6h0m1-136h0m0 5h0m0 5h0m0 126h0m1-131h0m0 5h0m0 121h0m0 6h0m0 13h0m1-149h0m0 5h0m0 5h0m0 127h0m0 2h0m1-134h0m0 2h0m0 4h0m0 1h0m0 123h0m0 3h0m0 2h0m1-146h0m0 17h0m0 0h0m0 123h0m0 6h0m1-132h0m0 3h0m0 121h0m0 3h0m0 1h0m0 0h0m0 3h0m1-129h0m0 122h0m0 0h0m0 3h0m0 6h0m0 5h0m0 3h0m1-134h0m0 119h0m0 4h0m0 6h0m0 5h0m0 4h0m1-175h0m0 40h0m0 114h0m0 5h0m0 23h0m1-176h0m0 31h0m0 124h0m0 1h0m1-149h0m0 13h0m0 1h0m0 5h0m0 4h0m1 6h0m0 117h0m0 3h0m0 0h0m1-144h0m0 16h0m0 3h0m0 4h0m0 117h0m1-131h0m0 12h0m1 117h0m0 9h0m0 15h0m1-138h0m0 133h0m1-139h0m0 122h0m0 27h0m1-162h0m0 20h0m0 118h0m0 4h0m1-131h0m0 1h0m0 136h0m1-133h0m0 119h0m0 20h0m1-158h0m0 2h0m0 12h0m0 3h0m0 1h0m0 6h0m0 5h0m0 110h0m0 3h0m0 6h0m1-131h0m0 5h0m0 7h0m0 113h0m1-131h0m0 6h0m0 8h0m0 4h0m0 1h0m0 0h0m0 126h0m1-139h0m0 5h0m0 2h0m0 117h0m0 6h0m0 1h0m0 20h0m0 12h0m1-182h0m0 29h0m0 113h0m0 2h0m0 1h0m0 4h0m0 5h0m1-143h0m0 20h0m0 1h0m0 120h0m1-133h0m0 8h0m0 3h0m0 5h0m0 111h0m0 7h0m0 4h0m0 8h0m1-134h0m0 1h0m0 3h0m0 110h0m0 1h0m0 6h0m0 3h0m1-137h0m0 1h0m0 18h0m0 114h0m0 1h0m0 8h0m0 3h0m1-158h0m0 0h0m0 17h0m0 11h0m0 0h0m0 112h0m0 11h0m1 1h0m1-147h0m0 22h0m0 3h0m0 111h0m0 1h0m1-120h0m0 5h0m0 6h0m0 128h0m0 12h0m1-134h0m0 132h0m1-165h0m0 11h0m0 3h0m0 15h0m0 0h0m0 110h0m0 3h0m0 10h0m0 14h0m1-141h0m0 10h0m0 103h0m1-122h0m0 21h0m0 99h0m0 3h0m0 17h0m1-141h0m0 22h0m1-24h0m0 14h0m0 7h0m0 110h0m0 8h0m1-132h0m0 6h0m0 7h0m0 1h0m0 2h0m0 2h0m0 103h0m0 10h0m0 5h0m1-131h0m0 11h0m0 105h0m0 1h0m0 5h0m0 16h0m1-127h0m0 0h0m0 5h0m0 104h0m0 0h0m0 28h0m1-148h0m0 11h0m0 2h0m1 2h0m0 103h0m0 10h0m1-124h0m0 9h0m0 105h0m0 4h0m0 3h0m1-122h0m0 2h0m0 12h0m0 1h0m0 0h0m0 97h0m0 5h0m0 1h0m0 1h0m0 7h0m1-114h0m0 4h0m0 3h0m0 95h0m0 3h0m0 4h0m0 0h0m0 10h0m1-124h0m0 7h0m0 8h0m0 92h0m0 1h0m0 2h0m0 5h0m0 6h0m0 1h0m0 1h0m1-119h0m0 105h0m0 8h0m1-113h0m0 5h0m0 6h0m0 1h0m0 91h0m1-91h0m0 4h0m0 87h0m0 15h0m1-131h0m0 8h0m1-7h0m0 14h0m0 13h0m0 1h0m0 87h0m0 4h0m0 1h0m0 1h0m0 8h0m0 5h0m1-127h0m0 1h0m0 3h0m0 9h0m0 11h0m0 0h0m0 93h0m1-115h0m0 9h0m0 0h0m0 4h0m0 93h0m0 1h0m0 0h0m0 4h0m0 6h0m0 0h0m0 8h0m1-124h0m0 103h0m0 2h0m0 1h0m0 2h0m0 2h0m0 1h0m0 13h0m0 5h0m1-135h0m0 25h0m0 3h0m0 0h0m0 84h0m0 35h0m1-143h0m0 20h0m0 8h0m0 0h0m0 76h0m0 0h0m0 6h0m0 5h0m0 4h0m1-114h0m0 11h0m0 8h0m0 79h0m0 0h0m0 1h0m0 1h0m0 0h0m0 1h0m0 4h0m0 7h0m0 14h0m0 7h0m1-148h0m0 5h0m0 4h0m0 2h0m0 22h0m0 0h0m0 79h0m0 0h0m0 6h0m0 16h0m1-121h0m0 18h0m0 9h0m0 0h0m0 78h0m0 4h0m0 9h0m0 2h0m1-126h0m0 5h0m0 7h0m0 1h0m0 4h0m0 9h0m0 76h0m0 6h0m0 1h0m0 3h0m0 3h0m0 10h0m0 21h0m1-125h0m0 15h0m0 2h0m0 1h0m0 62h0m0 2h0m0 4h0m0 7h0m0 0h0m1-116h0m0 9h0m0 7h0m0 13h0m0 10h0m0 3h0m0 61h0m0 3h0m0 1h0m0 2h0m0 15h0m1-125h0m0 42h0m0 60h0m0 6h0m0 0h0m0 1h0m0 5h0m1-83h0m0 3h0m0 4h0m0 3h0m0 3h0m0 3h0m0 56h0m0 6h0m0 3h0m0 4h0m0 34h0m1-150h0m0 20h0m0 7h0m0 3h0m0 11h0m0 3h0m0 54h0m0 4h0m0 7h0m0 1h0m0 2h0m0 0h0m0 6h0m0 8h0m1-126h0m0 33h0m0 4h0m0 61h0m0 3h0m0 11h0m0 2h0m0 0h0m0 23h0m1-114h0m0 17h0m0 5h0m0 3h0m0 68h0m0 2h0m0 19h0m1-104h0m0 1h0m0 5h0m0 7h0m0 2h0m0 4h0m0 45h0m0 4h0m0 0h0m0 4h0m0 13h0m0 20h0m0 3h0m0 1h0m1-115h0m0 6h0m0 5h0m0 9h0m0 4h0m0 53h0m0 16h0m0 0h0m0 15h0m0 7h0m1-125h0m0 12h0m0 5h0m0 13h0m0 1h0m0 3h0m0 4h0m0 39h0m0 5h0m0 5h0m0 7h0m0 2h0m0 3h0m0 13h0m1-111h0m0 19h0m0 7h0m0 4h0m0 7h0m0 0h0m0 3h0m0 35h0m0 4h0m0 4h0m0 9h0m0 1h0m0 4h0m0 6h0m0 20h0m0 3h0m1-113h0m0 5h0m0 3h0m0 8h0m0 44h0m0 3h0m0 2h0m0 9h0m0 1h0m0 14h0m0 0h0m1-76h0m0 3h0m0 0h0m0 5h0m0 6h0m0 37h0m0 6h0m0 1h0m0 22h0m0 4h0m0 20h0m1-141h0m0 12h0m0 22h0m0 18h0m0 35h0m0 4h0m0 42h0m1-103h0m0 9h0m0 42h0m0 2h0m0 2h0m0 0h0m0 5h0m0 13h0m0 14h0m0 0h0m0 6h0m1-81h0m0 5h0m0 2h0m0 5h0m0 7h0m0 3h0m0 0h0m0 1h0m0 1h0m0 3h0m0 2h0m0 6h0m0 3h0m0 6h0m0 7h0m0 0h0m0 31h0m0 1h0m0 10h0m1-116h0m0 8h0m0 5h0m0 5h0m0 9h0m0 0h0m0 1h0m0 4h0m0 4h0m0 3h0m0 7h0m0 6h0m0 3h0m0 15h0m0 3h0m0 2h0m0 1h0m0 18h0m0 1h0m0 16h0m0 14h0m1-99h0m0 3h0m0 4h0m0 7h0m0 17h0m0 2h0m1-47h0m0 5h0m0 24h0m0 2h0m0 3h0m0 7h0m0 3h0m0 10h0m0 1h0m0 7h0m0 4h0m0 0h0m0 2h0m0 2h0m0 10h0m1-59h0m0 9h0m0 13h0m0 0h0m0 11h0m0 3h0m0 3h0m0 5h0m0 9h0m0 3h0m0 2h0m1-70h0m0 5h0m0 9h0m0 1h0m0 0h0m0 5h0m0 11h0m0 2h0m0 7h0m0 2h0m0 5h0m0 0h0m0 7h0m0 7h0m0 3h0m0 1h0m0 4h0m0 5h0m0 3h0m0 5h0m1-88h0m0 10h0m0 9h0m0 4h0m0 7h0m0 0h0m0 2h0m0 6h0m0 1h0m0 16h0m0 9h0m0 4h0m0 9h0m0 13h0m1-89h0m0 9h0m0 15h0m0 10h0m0 1h0m0 3h0m0 2h0m0 0h0m0 1h0m0 4h0m0 5h0m0 4h0m0 2h0m0 4h0m0 1h0m0 1h0m0 1h0m0 7h0m0 3h0m0 0h0m0 5h0m0 5h0m0 18h0m1-109h0m0 11h0m0 23h0m0 12h0m0 4h0m0 35h0m0 19h0m1-118h0m0 21h0m0 38h0m0 12h0m0 0h0m0 14h0m0 7h0m0 1h0m0 16h0m0 1h0m0 2h0m1-63h0m0 4h0m0 2h0m0 3h0m0 6h0m0 1h0m0 17h0m0 4h0m0 5h0m0 7h0m0 13h0m0 9h0m0 10h0m1-108h0m0 10h0m0 3h0m0 7h0m0 16h0m0 4h0m0 9h0m0 8h0m0 40h0m0 2h0m1-84h0m0 34h0m0 11h0m0 4h0m0 3h0m0 4h0m0 3h0m1-91h0m0 25h0m0 11h0m0 3h0m0 39h0m0 0h0m0 3h0m0 12h0m0 1h0m0 6h0m0 1h0m0 14h0m0 5h0m1-50h0m0 6h0m0 1h0m0 3h0m0 5h0m0 29h0m1-102h0m0 3h0m0 32h0m0 13h0m0 2h0m0 1h0m0 13h0m0 18h0m0 7h0m1-32h0m0 7h0m0 0h0m0 6h0m0 15h0m0 9h0m1-73h0m0 5h0m0 3h0m0 9h0m0 13h0m0 11h0m0 3h0m0 1h0m0 1h0m0 2h0m0 1h0m0 10h0m0 24h0m1-89h0m0 25h0m0 2h0m0 10h0m0 1h0m0 13h0m0 2h0m0 7h0m0 10h0m0 3h0m0 3h0m0 30h0m1-66h0m0 4h0m0 0h0m0 4h0m0 56h0m1-108h0m0 17h0m0 1h0m0 12h0m0 13h0m0 22h0m0 4h0m0 6h0m1-58h0m0 1h0m0 5h0m0 5h0m0 1h0m0 24h0m0 11h0m0 9h0m0 2h0m0 13h0m1-67h0m0 10h0m0 0h0m0 3h0m0 13h0m0 5h0m0 0h0m0 0h0m0 9h0m0 2h0m0 20h0m0 1h0m0 0h0m0 1h0m0 7h0m1-108h0m0 49h0m0 2h0m0 13h0m0 5h0m0 2h0m0 7h0m0 0h0m0 17h0m0 6h0m1-65h0m0 28h0m0 17h0m0 44h0m1-97h0m0 15h0m0 16h0m0 17h0m0 9h0m1-29h0m0 5h0m0 11h0m0 5h0m0 32h0m0 9h0m1-63h0m0 5h0m0 8h0m0 8h0m0 1h0m0 0h0m0 1h0m0 16h0m1-20h0m0 27h0m1-86h0m0 36h0m0 17h0m0 42h0m1-66h0m0 8h0m0 39h0m0 6h0m0 3h0m1-105h0m0 39h0m0 9h0m0 1h0m0 5h0m0 5h0m0 30h0m0 9h0m0 31h0m1-115h0m0 44h0m0 10h0m0 4h0m0 4h0m0 10h0m0 30h0m0 4h0m0 4h0m1-60h0m0 25h0m0 10h0m1-25h0m0 14h0m0 26h0m1-55h0m0 8h0m0 28h0m0 6h0m0 11h0m0 18h0m1-116h0m0 106h0m1-78h0m0 31h0m0 15h0m1 0h0m1-1h0m1-22h0m0 23h0m1-20h0m0 43h0m1-16h0m0 13h0m0 4h0m2-69h0m2 19h0m0 38h0m0 14h0m1-45h0m0 25h0m0 37h0m1-37h0m1 22h0m0 10h0m2-46h0m0 29h0m1-49h0m1 31h0m2-30h0m1 9h0m1 8h0m2-7h0m0 17h0m0 42h0m1-24h0m0 14h0m1-22h0m4 16h0m5 1h0"/>
<path fill="#fff" fill-rule="evenodd" d="M400.9 940L405.2 942.1L411.7 944.8L418.2 946.1L423.1 940L424.7 938.3L429.3 933.5L428.9 927L427.7 920.5L424.7 915.8L423.4 914L419.1 907.5L418.2 906.6L414.6 901L411.7 896.8L408.8 894.5L405.2 889.6L404.2 888L398.6 884.4L394.7 881.5L392.1 879L387.1 875L385.6 874L379.3 868.5L379.1 868.3L372.6 862.1L369.4 862L366.1 861.8L359.6 857L353.1 855.8L349.2 862L347.3 868.5L347.2 875L348.1 881.5L349.7 888L353.1 894.5L353.1 894.5L355.9 901L359.6 906.9L360.2 907.5L366.1 913.4L366.5 914L372.6 920.3L372.8 920.5L377.9 927L379.1 928.5L385.6 931.1L389.3 933.5L392.1 937.1L398.6 939.4L400.9 940Z"/>
<g transform="translate(336.85 839.2) scale(6.5050)" shape-rendering="crispEdges">
<path fill="#fafafa" d="M1 5h1v1h-1zM1 4h1v1h-1zM1 3h1v1h-1zM1 2h1v1h-1zM2 8h1v1h-1zM2 2h1v1h-1zM3 10h1v1h-1zM4 11h1v1h-1zM4 3h1v1h-1zM5 12h1v1h-1zM5 3h1v1h-1zM6 13h1v1h-1zM6 4h1v1h-1zM7 5h1v1h-1zM9 15h1v1h-1zM10 15h1v1h-1zM10 7h1v1h-1zM11 16h1v1h-1zM12 16h1v1h-1zM12 10h1v1h-1zM13 15h1v1h-1zM14 14h1v1h-1z"/>
<path fill="#f5f5f5" d="M2 3h1v1h-1zM5 4h1v1h-1zM8 14h1v1h-1zM8 6h1v1h-1zM9 7h1v1h-1zM10 8h1v1h-1zM11 15h1v1h-1zM11 9h1v1h-1zM12 15h1v1h-1zM13 14h1v1h-1zM13 13h1v1h-1zM13 12h1v1h-1z"/>
<path fill="#f0f0f0" d="M2 7h1v1h-1zM2 6h1v1h-1zM2 4h1v1h-1zM3 9h1v1h-1zM3 3h1v1h-1zM4 10h1v1h-1zM6 5h1v1h-1zM7 13h1v1h-1zM12 11h1v1h-1z"/>
<path fill="#ebebeb" d="M9 14h1v1h-1zM12 14h1v1h-1zM12 13h1v1h-1z"/>
<path fill="#e6e6e6" d="M2 5h1v1h-1zM3 8h1v1h-1zM4 4h1v1h-1zM5 11h1v1h-1zM7 6h1v1h-1zM10 14h1v1h-1zM10 9h1v1h-1zM11 14h1v1h-1zM12 12h1v1h-1z"/>
<path fill="#e1e1e1" d="M3 4h1v1h-1zM6 12h1v1h-1zM8 13h1v1h-1zM8 7h1v1h-1zM11 10h1v1h-1z"/>
<path fill="#d7d7d7" d="M3 7h1v1h-1zM5 5h1v1h-1zM9 8h1v1h-1zM11 11h1v1h-1z"/>
<path fill="#d2d2d2" d="M3 5h1v1h-1z"/>
<path fill="#cdcdcd" d="M4 5h1v1h-1zM6 6h1v1h-1zM10 10h1v1h-1zM11 13h1v1h-1zM11 12h1v1h-1z"/>
<path fill="#c8c8c8" d="M9 13h1v1h-1zM10 13h1v1h-1z"/>
<path fill="#c3c3c3" d="M3 6h1v1h-1zM4 9h1v1h-1zM7 12h1v1h-1z"/>
<path fill="#bebebe" d="M6 11h1v1h-1z"/>
<path fill="#b9b9b9" d="M9 9h1v1h-1zM10 12h1v1h-1z"/>
<path fill="#b4b4b4" d="M5 10h1v1h-1z"/>
<path fill="#afafaf" d="M8 12h1v1h-1zM10 11h1v1h-1z"/>
<path fill="#aaaaaa" d="M7 7h1v1h-1zM9 12h1v1h-1z"/>
<path fill="#a5a5a5" d="M8 8h1v1h-1z"/>
<path fill="#a0a0a0" d="M4 6h1v1h-1z"/>
<path fill="#9b9b9b" d="M4 8h1v1h-1z"/>
<path fill="#969696" d="M5 6h1v1h-1z"/>
<path fill="#7d7d7d" d="M9 11h1v1h-1z"/>
<path fill="#737373" d="M4 7h1v1h-1z"/>
<path fill="#696969" d="M6 10h1v1h-1z"/>
<path fill="#5f5f5f" d="M7 11h1v1h-1zM7 8h1v1h-1zM9 10h1v1h-1z"/>
<path fill="#5a5a5a" d="M6 7h1v1h-1zM8 11h1v1h-1z"/>
<path fill="#555555" d="M5 9h1v1h-1z"/>
<path fill="#414141" d="M8 9h1v1h-1z"/>
<path fill="#373737" d="M5 8h1v1h-1z"/>
<path fill="#2d2d2d" d="M8 10h1v1h-1z"/>
<path fill="#282828" d="M7 10h1v1h-1z"/>
<path fill="#232323" d="M6 8h1v1h-1z"/>
<path fill="#191919" d="M7 9h1v1h-1z"/>
<path fill="#0f0f0f" d="M5 7h1v1h-1z"/>
<path fill="#000000" d="M6 9h1v1h-1z"/>
</g>
<path class="ct" d="M400.9 940L405.2 942.1L411.7 944.8L418.2 946.1L423.1 940L424.7 938.3L429.3 933.5L428.9 927L427.7 920.5L424.7 915.8L423.4 914L419.1 907.5L418.2 906.6L414.6 901L411.7 896.8L408.8 894.5L405.2 889.6L404.2 888L398.6 884.4L394.7 881.5L392.1 879L387.1 875L385.6 874L379.3 868.5L379.1 868.3L372.6 862.1L369.4 862L366.1 861.8L359.6 857L353.1 855.8L349.2 862L347.3 868.5L347.2 875L348.1 881.5L349.7 888L353.1 894.5L353.1 894.5L355.9 901L359.6 906.9L360.2 907.5L366.1 913.4L366.5 914L372.6 920.3L372.8 920.5L377.9 927L379.1 928.5L385.6 931.1L389.3 933.5L392.1 937.1L398.6 939.4ZM391.1 927L392.1 927.7L398.6 932.3L405.2 933.1L411.7 932.5L417 927L417.7 920.5L414.7 914L412 907.5L411.7 907.1L405.5 901L405.2 900.7L401.1 894.5L398.6 891.6L393.4 888L392.1 887L385.6 881.6L385.4 881.5L379.1 877.7L375.6 875L372.6 872.3L366.1 868.5L366.1 868.5L359.6 867.2L358.3 868.5L354.1 875L355.5 881.5L356.5 888L359.6 894.2L359.7 894.5L362.1 901L366.1 905.1L368.1 907.5L372.6 913.5L373.3 914L378.6 920.5L379.1 921.1L385.6 924.8ZM380.9 914L385.6 918.5L392.1 919.8L398.6 920.5L403.9 914L402.5 907.5L398.6 902.3L397.6 901L392.4 894.5L392.1 894.3L385.6 888.4L385.3 888L379.1 884L374.6 881.5L372.6 879.9L366.1 880.7L365.1 881.5L363.2 888L365.4 894.5L366.1 896.1L368.1 901L372.6 906.6L373.8 907.5L379.1 912.1ZM376.3 901L379.1 903.1L385.6 907.5L387.8 901L385.6 899.8L379.2 894.5L379.1 894.4L378.7 894.5ZM371.2 888L372.6 891.8L374.6 888L372.6 887Z"/>
</g>
<g clip-path="url(#c63)">
<path class="pt" transform="translate(473.45 839.2) scale(.5)" d="m0 1h0m0 12h0m0 8h0m0 10h0m1-15h0m1-4h0m0 6h0m0 27h0m1-43h0m0 57h0m0 6h0m1-23h0m1-23h0m0 4h0m0 34h0m0 11h0m1-34h0m0 73h0m1-41h0m1-64h0m0 82h0m1-60h0m0 8h0m0 36h0m0 35h0m1-103h0m0 17h0m0 18h0m0 24h0m2-12h0m0 14h0m1-29h0m0 1h0m0 22h0m0 29h0m0 31h0m1-87h0m0 28h0m0 69h0m1-78h0m0 28h0m0 5h0m0 2h0m0 0h0m0 8h0m0 9h0m1-78h0m0 35h0m0 0h0m0 22h0m0 60h0m1-107h0m0 9h0m0 2h0m0 57h0m0 11h0m1-91h0m0 15h0m0 25h0m0 4h0m0 17h0m0 3h0m0 8h0m0 4h0m1-32h0m0 68h0m1-108h0m0 20h0m0 4h0m0 11h0m0 2h0m0 13h0m0 30h0m0 16h0m1-117h0m0 39h0m0 16h0m0 5h0m0 26h0m0 6h0m0 24h0m1-115h0m0 12h0m0 27h0m0 26h0m0 26h0m0 3h0m1-35h0m0 17h0m1-29h0m0 22h0m0 4h0m0 2h0m0 8h0m0 17h0m0 37h0m1-113h0m0 1h0m0 36h0m0 83h0m1-88h0m0 6h0m0 5h0m0 9h0m0 8h0m0 15h0m1-78h0m0 4h0m0 9h0m0 4h0m0 9h0m0 8h0m0 21h0m0 8h0m0 1h0m0 5h0m0 6h0m0 2h0m0 2h0m0 1h0m0 8h0m0 1h0m1-91h0m0 19h0m0 7h0m0 1h0m0 37h0m0 3h0m1-66h0m0 20h0m0 0h0m0 0h0m0 12h0m0 3h0m0 7h0m0 12h0m0 10h0m0 15h0m0 11h0m1-82h0m0 5h0m0 20h0m0 2h0m0 3h0m0 15h0m0 9h0m0 8h0m0 6h0m0 4h0m1-64h0m0 1h0m0 15h0m0 6h0m0 11h0m0 6h0m0 15h0m0 1h0m0 7h0m0 6h0m0 28h0m1-122h0m0 24h0m0 4h0m0 4h0m0 6h0m0 2h0m0 6h0m0 6h0m0 3h0m0 11h0m0 1h0m0 0h0m0 10h0m0 2h0m0 14h0m1-101h0m0 10h0m0 12h0m0 2h0m0 10h0m0 12h0m0 3h0m0 3h0m0 2h0m0 2h0m0 18h0m0 8h0m0 6h0m0 4h0m0 13h0m0 4h0m1-103h0m0 17h0m0 3h0m0 10h0m0 1h0m0 3h0m0 14h0m0 26h0m0 22h0m0 9h0m0 19h0m1-118h0m0 11h0m0 3h0m0 9h0m0 6h0m0 4h0m0 2h0m0 1h0m0 2h0m0 3h0m0 16h0m0 5h0m0 20h0m0 8h0m0 5h0m0 6h0m0 7h0m1-105h0m0 7h0m0 9h0m0 5h0m0 20h0m0 1h0m0 18h0m0 1h0m0 0h0m0 6h0m0 0h0m0 14h0m0 22h0m1-118h0m0 27h0m0 29h0m0 5h0m0 6h0m0 8h0m0 2h0m0 3h0m0 13h0m1-89h0m0 25h0m0 0h0m0 11h0m0 14h0m0 0h0m0 9h0m0 1h0m0 0h0m0 6h0m0 25h0m0 7h0m0 47h0m1-125h0m0 7h0m0 3h0m0 7h0m0 1h0m0 1h0m0 9h0m0 7h0m0 3h0m0 1h0m0 11h0m0 5h0m0 6h0m0 4h0m0 15h0m0 22h0m0 8h0m1-123h0m0 12h0m0 0h0m0 16h0m0 3h0m0 7h0m0 16h0m0 3h0m0 0h0m0 6h0m0 0h0m0 3h0m0 1h0m0 7h0m0 2h0m0 3h0m0 10h0m0 12h0m0 3h0m0 2h0m0 7h0m0 4h0m1-106h0m0 7h0m0 2h0m0 4h0m0 9h0m0 10h0m0 1h0m0 2h0m0 1h0m0 2h0m0 3h0m0 2h0m0 5h0m0 2h0m0 3h0m0 18h0m0 3h0m0 2h0m0 2h0m0 3h0m0 17h0m1-124h0m0 4h0m0 14h0m0 1h0m0 7h0m0 0h0m0 5h0m0 5h0m0 4h0m0 16h0m0 3h0m0 10h0m0 8h0m0 22h0m0 29h0m0 32h0m1-154h0m0 22h0m0 9h0m0 16h0m0 2h0m0 14h0m0 42h0m0 1h0m0 21h0m1-121h0m0 19h0m0 13h0m0 4h0m0 4h0m0 3h0m0 60h0m0 0h0m0 1h0m1-107h0m0 19h0m0 6h0m0 0h0m0 11h0m0 9h0m0 2h0m0 1h0m0 4h0m0 2h0m0 51h0m0 3h0m1-97h0m0 23h0m0 8h0m0 4h0m0 60h0m0 19h0m0 19h0m1-137h0m0 14h0m0 10h0m0 2h0m0 12h0m0 2h0m0 59h0m0 8h0m0 15h0m0 2h0m0 18h0m1-154h0m0 5h0m0 26h0m0 5h0m0 11h0m0 78h0m1-101h0m0 11h0m0 3h0m0 11h0m0 70h0m0 7h0m0 2h0m1-99h0m0 16h0m0 69h0m0 34h0m1-128h0m0 2h0m0 13h0m0 3h0m0 8h0m0 75h0m0 4h0m0 0h0m0 18h0m1-121h0m0 16h0m0 6h0m0 83h0m0 39h0m1-168h0m0 28h0m0 10h0m0 2h0m0 106h0m1-130h0m0 13h0m0 4h0m0 0h0m0 2h0m0 6h0m0 1h0m0 0h0m0 2h0m0 78h0m0 4h0m0 1h0m0 6h0m0 5h0m0 20h0m1-144h0m0 13h0m0 13h0m0 0h0m0 3h0m0 81h0m0 2h0m0 25h0m0 13h0m1-152h0m0 22h0m0 3h0m0 3h0m0 1h0m0 1h0m0 1h0m0 83h0m0 3h0m0 3h0m0 5h0m0 1h0m0 2h0m0 11h0m0 1h0m0 4h0m1-150h0m0 12h0m0 15h0m0 3h0m0 1h0m0 88h0m0 4h0m0 2h0m0 2h0m0 8h0m0 18h0m1-130h0m0 1h0m0 2h0m0 6h0m0 105h0m0 9h0m1-153h0m0 12h0m0 5h0m0 17h0m0 8h0m0 89h0m0 8h0m0 1h0m1-122h0m0 20h0m0 107h0m1-139h0m0 12h0m0 6h0m0 8h0m0 8h0m0 91h0m0 8h0m0 9h0m0 2h0m0 5h0m0 45h0m1-195h0m0 10h0m0 9h0m0 1h0m0 13h0m0 98h0m0 15h0m0 2h0m0 3h0m0 4h0m0 2h0m1-137h0m0 11h0m0 117h0m1-139h0m0 22h0m0 1h0m0 0h0m0 118h0m1-152h0m0 6h0m0 19h0m0 10h0m0 4h0m0 92h0m0 3h0m0 9h0m0 6h0m0 14h0m1-154h0m0 19h0m0 9h0m0 96h0m0 4h0m0 6h0m1-142h0m0 2h0m0 7h0m0 27h0m0 105h0m0 12h0m0 9h0m1-155h0m0 9h0m0 2h0m0 3h0m0 13h0m0 107h0m0 20h0m1-124h0m0 106h0m0 8h0m1-129h0m0 7h0m0 0h0m0 1h0m0 3h0m0 2h0m0 103h0m0 18h0m0 16h0m1-146h0m0 1h0m0 4h0m0 6h0m0 100h0m0 2h0m0 34h0m0 1h0m0 9h0m1-181h0m0 21h0m0 127h0m1-131h0m0 13h0m0 3h0m0 146h0m1-162h0m0 6h0m0 2h0m0 1h0m0 8h0m0 109h0m0 4h0m0 3h0m0 3h0m0 23h0m1-142h0m0 119h0m0 2h0m0 3h0m1-149h0m0 6h0m0 4h0m0 6h0m0 2h0m0 122h0m0 9h0m0 1h0m0 2h0m0 14h0m0 13h0m1-174h0m0 18h0m0 121h0m0 31h0m1-191h0m0 12h0m0 16h0m0 2h0m0 133h0m0 14h0m0 21h0m0 4h0m1-176h0m0 6h0m0 1h0m0 0h0m0 2h0m0 5h0m0 129h0m0 4h0m0 1h0m0 9h0m0 8h0m1-181h0m0 18h0m0 6h0m0 1h0m0 3h0m0 117h0m0 3h0m0 7h0m1-150h0m0 15h0m0 4h0m0 123h0m0 0h0m0 1h0m0 0h0m0 4h0m0 4h0m0 10h0m0 1h0m1-142h0m0 122h0m0 3h0m0 1h0m1-123h0m1-8h0m0 5h0m0 2h0m0 133h0m1-153h0m0 9h0m0 2h0m0 10h0m0 121h0m0 2h0m0 19h0m1-169h0m0 155h0m0 7h0m1-135h0m0 142h0m0 1h0m1-16h0m0 6h0m0 0h0m0 28h0m1-164h0m0 1h0m0 2h0m0 126h0m0 2h0m0 5h0m0 11h0m0 33h0m1-189h0m0 0h0m0 11h0m0 129h0m0 5h0m0 12h0m1-145h0m0 0h0m0 2h0m0 1h0m0 2h0m0 124h0m0 0h0m0 3h0m1-162h0m0 23h0m0 135h0m0 6h0m0 4h0m0 3h0m0 13h0m0 7h0m1-161h0m0 0h0m0 3h0m0 126h0m1-133h0m0 4h0m0 131h0m0 22h0m1-166h0m0 10h0m0 1h0m0 140h0m1-132h0m0 2h0m0 1h0m0 128h0m1-174h0m0 24h0m0 9h0m0 7h0m0 6h0m0 127h0m0 1h0m1-149h0m0 6h0m0 141h0m0 6h0m0 12h0m1-157h0m0 4h0m0 148h0m0 15h0m1-169h0m0 12h0m0 2h0m0 128h0m0 1h0m0 0h0m0 11h0m0 0h0m1-175h0m0 16h0m0 14h0m0 133h0m0 3h0m0 17h0m0 4h0m1-182h0m0 7h0m1-9h0m0 13h0m0 12h0m0 3h0m1 2h0m0 1h0m0 0h0m0 135h0m0 0h0m0 14h0m1-167h0m0 2h0m0 12h0m0 1h0m0 139h0m0 17h0m0 3h0m1-173h0m0 7h0m0 5h0m0 2h0m0 4h0m0 142h0m1-170h0m0 11h0m0 1h0m0 7h0m1-5h0m0 7h0m0 1h0m0 1h0m0 2h0m0 144h0m1-174h0m0 10h0m0 2h0m0 7h0m0 0h0m0 5h0m0 142h0m0 12h0m0 5h0m0 8h0m1-162h0m0 157h0m1-167h0m0 4h0m0 148h0m0 19h0m1-173h0m0 9h0m0 0h0m0 1h0m0 1h0m0 3h0m0 134h0m0 2h0m0 13h0m1-155h0m0 151h0m0 6h0m1-157h0m0 8h0m0 133h0m0 3h0m1-180h0m0 6h0m0 12h0m0 7h0m0 14h0m0 5h0m0 1h0m0 135h0m0 3h0m0 1h0m1-169h0m0 11h0m0 10h0m0 7h0m0 1h0m1-24h0m0 24h0m0 138h0m0 9h0m0 3h0m0 7h0m1-164h0m0 149h0m0 1h0m1-153h0m0 8h0m0 0h0m0 139h0m0 1h0m0 0h0m0 21h0m1-17h0m1-163h0m0 12h0m0 10h0m0 145h0m0 5h0m1-170h0m0 18h0m0 143h0m0 17h0m0 1h0m0 3h0m1-175h0m0 5h0m0 2h0m0 145h0m0 8h0m0 27h0m1-180h0m0 3h0m0 145h0m0 3h0m0 1h0m1-148h0m0 142h0m0 1h0m0 6h0m0 3h0m0 1h0m0 2h0m0 4h0m0 16h0m1-192h0m0 12h0m0 5h0m0 5h0m0 143h0m0 4h0m1-177h0m0 18h0m0 15h0m0 1h0m0 134h0m0 7h0m1-159h0m0 4h0m0 152h0m0 7h0m0 8h0m1-180h0m0 24h0m0 2h0m0 1h0m1-9h0m0 147h0m0 6h0m0 31h0m1-186h0m0 10h0m0 137h0m1-151h0m0 156h0m0 4h0m0 3h0m1-170h0m0 4h0m0 8h0m0 9h0m0 1h0m0 139h0m0 12h0m0 13h0m1-161h0m0 1h0m0 134h0m0 2h0m0 2h0m0 4h0m0 7h0m1-177h0m0 12h0m0 5h0m0 11h0m0 1h0m0 132h0m0 5h0m0 5h0m1-188h0m0 12h0m0 34h0m0 137h0m0 2h0m1-166h0m0 8h0m1 12h0m0 5h0m0 1h0m0 140h0m0 0h0m0 12h0m1-179h0m0 21h0m0 4h0m0 143h0m0 3h0m1-144h0m0 1h0m0 136h0m0 3h0m1-166h0m0 7h0m0 12h0m0 142h0m0 15h0m0 1h0m1-165h0m0 9h0m0 4h0m0 171h0m0 0h0m1-172h0m0 0h0m0 1h0m0 3h0m0 1h0m0 142h0m1 4h0m1-154h0m0 145h0m0 2h0m0 1h0m0 2h0m0 9h0m1-189h0m0 12h0m0 4h0m0 9h0m0 9h0m0 139h0m0 4h0m0 9h0m1-156h0m0 0h0m0 1h0m0 11h0m0 132h0m1-172h0m0 5h0m0 18h0m0 16h0m0 138h0m0 2h0m0 4h0m0 14h0m1-182h0m0 9h0m0 16h0m0 167h0m1-179h0m0 3h0m0 157h0m0 30h0m1-199h0m0 11h0m0 12h0m0 143h0m0 14h0m1-185h0m0 19h0m0 8h0m0 2h0m0 148h0m0 2h0m1-207h0m0 27h0m0 4h0m0 19h0m0 6h0m0 151h0m0 3h0m0 13h0m0 9h0m1-193h0m0 9h0m0 4h0m0 135h0m0 7h0m0 12h0m1-169h0m0 6h0m0 9h0m0 3h0m0 140h0m0 0h0m1-139h0m0 133h0m0 1h0m0 5h0m0 0h0m0 35h0m1-183h0m0 144h0m0 2h0m0 0h0m0 2h0m0 12h0m1-181h0m0 164h0m0 4h0m0 25h0m1-190h0m0 15h0m0 6h0m0 5h0m0 1h0m0 132h0m0 12h0m0 14h0m0 7h0m0 26h0m1-223h0m0 25h0m0 142h0m0 4h0m0 2h0m0 6h0m0 1h0m1-150h0m0 2h0m0 135h0m0 3h0m0 0h0m0 5h0m0 1h0m0 3h0m1-166h0m0 12h0m0 12h0m0 130h0m0 3h0m0 17h0m0 5h0m1-187h0m0 12h0m0 12h0m0 0h0m0 6h0m0 136h0m0 4h0m1-166h0m0 17h0m0 1h0m0 140h0m0 4h0m0 13h0m1-163h0m0 9h0m0 1h0m0 0h0m0 5h0m0 3h0m0 141h0m0 8h0m0 3h0m1-173h0m0 6h0m0 2h0m0 1h0m0 4h0m0 8h0m0 0h0m0 129h0m0 2h0m1-160h0m0 9h0m0 156h0m1-151h0m0 5h0m0 4h0m0 6h0m0 131h0m0 10h0m0 1h0m0 5h0m0 0h0m1-161h0m0 14h0m0 1h0m0 138h0m0 4h0m0 9h0m0 1h0m0 2h0m0 0h0m1-186h0m0 31h0m0 133h0m0 8h0m0 25h0m0 2h0m1-176h0m0 3h0m0 137h0m0 15h0m1-146h0m1-4h0m0 1h0m0 166h0m0 1h0m0 1h0m1-162h0m0 137h0m0 1h0m0 10h0m0 16h0m1-184h0m0 20h0m0 1h0m0 164h0m1-166h0m0 4h0m0 130h0m0 8h0m0 2h0m0 17h0m1-24h0m0 0h0m0 5h0m1-150h0m0 1h0m0 2h0m1-7h0m0 12h0m0 1h0m0 153h0m0 0h0m0 12h0m2-188h0m0 7h0m0 10h0m0 12h0m0 1h0m0 132h0m1-163h0m0 159h0m0 11h0m0 24h0m1-170h0m0 3h0m0 135h0m0 4h0m0 0h0m0 23h0m1-171h0m0 10h0m0 1h0m0 134h0m0 2h0m0 3h0m1-173h0m0 34h0m0 136h0m0 14h0m1-19h0m0 11h0m1-202h0m0 50h0m0 0h0m0 3h0m0 10h0m0 2h0m0 143h0m0 4h0m0 3h0m1-155h0m0 4h0m0 127h0m0 12h0m0 2h0m0 13h0m1-164h0m0 1h0m0 4h0m0 4h0m0 131h0m0 25h0m1-173h0m0 10h0m0 3h0m0 139h0m1-154h0m0 4h0m0 156h0m1-168h0m0 30h0m0 4h0m0 121h0m0 1h0m0 3h0m0 0h0m0 1h0m0 6h0m0 1h0m0 6h0m0 22h0m1-185h0m0 4h0m0 10h0m0 9h0m0 2h0m0 0h0m0 120h0m0 3h0m0 4h0m0 3h0m0 9h0m0 12h0m1-171h0m0 9h0m0 6h0m0 4h0m0 0h0m0 120h0m0 6h0m0 26h0m1-188h0m0 8h0m0 12h0m0 152h0m1-136h0m0 3h0m0 118h0m0 3h0m0 2h0m1-131h0m0 11h0m0 134h0m1-152h0m0 14h0m0 3h0m0 114h0m0 1h0m0 2h0m0 11h0m0 18h0m1-16h0m0 2h0m0 3h0m0 1h0m1-129h0m0 2h0m0 104h0m0 9h0m0 6h0m0 11h0m1-134h0m0 4h0m0 2h0m1-38h0m0 23h0m0 5h0m0 1h0m0 123h0m0 6h0m0 4h0m1-20h0m0 6h0m0 5h0m0 6h0m1-143h0m0 2h0m0 5h0m0 6h0m0 11h0m0 2h0m0 106h0m1-128h0m0 6h0m0 0h0m0 120h0m0 7h0m0 2h0m0 2h0m0 10h0m1-171h0m0 15h0m0 33h0m0 108h0m1-115h0m0 0h0m0 4h0m0 0h0m0 102h0m0 1h0m0 3h0m0 14h0m1-133h0m0 2h0m0 4h0m0 8h0m0 3h0m0 98h0m0 9h0m0 6h0m1-137h0m0 18h0m0 4h0m0 2h0m0 101h0m1-101h0m0 1h0m0 100h0m0 1h0m0 1h0m0 8h0m1-185h0m0 51h0m0 11h0m0 7h0m0 3h0m0 101h0m0 4h0m1-116h0m0 5h0m0 109h0m1-138h0m0 2h0m0 10h0m0 8h0m0 15h0m0 3h0m0 3h0m0 98h0m0 16h0m1-143h0m0 30h0m0 108h0m0 7h0m1-157h0m0 22h0m0 121h0m1-124h0m0 15h0m0 8h0m0 1h0m0 103h0m0 3h0m0 9h0m0 6h0m1-169h0m0 12h0m0 22h0m0 2h0m0 3h0m0 4h0m0 8h0m0 90h0m0 7h0m0 19h0m1-134h0m0 12h0m0 98h0m0 5h0m0 2h0m0 4h0m0 2h0m0 3h0m0 6h0m0 5h0m1-131h0m0 102h0m0 1h0m0 17h0m0 4h0m0 5h0m1-158h0m0 29h0m0 10h0m0 5h0m0 90h0m0 1h0m0 15h0m0 7h0m0 17h0m1-147h0m0 3h0m0 17h0m0 82h0m0 2h0m0 0h0m0 1h0m0 11h0m0 4h0m0 11h0m1-167h0m0 22h0m0 3h0m0 14h0m0 4h0m0 1h0m0 9h0m0 88h0m0 0h0m0 24h0m1-128h0m0 4h0m0 15h0m0 79h0m0 4h0m0 11h0m1-184h0m0 52h0m0 14h0m0 101h0m0 13h0m1-114h0m0 7h0m0 1h0m0 11h0m0 6h0m0 1h0m0 70h0m0 1h0m0 7h0m0 6h0m0 14h0m0 11h0m0 7h0m1-145h0m0 2h0m0 28h0m0 2h0m0 71h0m1-2h0m0 6h0m0 5h0m0 1h0m0 15h0m0 20h0m1-117h0m0 7h0m0 58h0m0 8h0m0 11h0m0 6h0m1-112h0m0 20h0m0 3h0m0 6h0m0 5h0m0 0h0m0 2h0m0 46h0m0 14h0m0 7h0m0 8h0m0 1h0m0 5h0m0 8h0m1-151h0m0 10h0m0 15h0m0 1h0m0 4h0m0 29h0m0 50h0m0 1h0m0 2h0m0 5h0m0 18h0m1-116h0m0 8h0m0 4h0m0 2h0m0 19h0m0 0h0m0 2h0m0 59h0m0 5h0m0 11h0m0 1h0m0 31h0m1-185h0m0 33h0m0 6h0m0 11h0m0 19h0m0 5h0m0 8h0m0 6h0m0 3h0m0 49h0m0 3h0m0 1h0m0 2h0m0 3h0m0 0h0m0 1h0m0 2h0m0 11h0m0 1h0m0 31h0m1-160h0m0 16h0m0 12h0m0 21h0m0 3h0m0 2h0m0 40h0m0 6h0m0 4h0m0 9h0m0 9h0m0 5h0m0 6h0m0 17h0m0 3h0m1-118h0m0 7h0m0 16h0m0 3h0m0 34h0m0 2h0m0 3h0m0 14h0m0 1h0m1-133h0m0 17h0m0 46h0m0 0h0m0 3h0m0 5h0m0 41h0m0 15h0m0 4h0m0 2h0m0 0h0m0 0h0m0 5h0m0 2h0m0 2h0m0 29h0m1-104h0m0 39h0m0 9h0m0 10h0m0 2h0m0 33h0m1-123h0m0 16h0m0 5h0m0 12h0m0 6h0m0 5h0m0 5h0m0 1h0m0 0h0m0 0h0m0 21h0m0 3h0m0 6h0m0 4h0m1-84h0m0 4h0m0 56h0m0 13h0m0 5h0m0 9h0m0 5h0m0 10h0m0 1h0m0 19h0m1-113h0m0 60h0m0 10h0m0 9h0m0 5h0m1-59h0m0 13h0m0 1h0m0 3h0m0 13h0m0 1h0m0 1h0m0 41h0m0 1h0m0 21h0m1-107h0m0 2h0m0 6h0m0 19h0m0 9h0m0 1h0m0 1h0m0 1h0m0 1h0m0 0h0m0 0h0m0 1h0m0 12h0m0 1h0m0 0h0m0 2h0m0 5h0m0 2h0m0 0h0m0 3h0m1-103h0m0 23h0m0 21h0m0 21h0m0 31h0m0 7h0m1-68h0m0 4h0m0 17h0m0 1h0m0 4h0m0 5h0m0 3h0m0 4h0m0 0h0m0 3h0m0 9h0m0 4h0m0 14h0m0 6h0m0 8h0m0 20h0m1-111h0m0 31h0m0 1h0m0 12h0m0 4h0m0 2h0m0 0h0m0 16h0m0 15h0m0 15h0m0 33h0m1-116h0m0 11h0m0 7h0m0 12h0m0 5h0m0 2h0m0 8h0m0 5h0m0 0h0m0 11h0m0 0h0m0 1h0m0 0h0m0 6h0m0 2h0m0 6h0m0 40h0m1-125h0m0 16h0m0 2h0m0 18h0m0 2h0m0 4h0m0 3h0m0 3h0m0 21h0m0 14h0m0 1h0m1-55h0m0 1h0m0 7h0m0 8h0m0 9h0m0 3h0m0 3h0m0 5h0m0 0h0m0 1h0m0 4h0m0 24h0m0 3h0m0 16h0m1-76h0m0 1h0m0 4h0m0 7h0m0 0h0m0 11h0m0 6h0m0 18h0m0 3h0m0 19h0m0 12h0m1-77h0m0 19h0m0 17h0m0 6h0m0 35h0m1-117h0m0 25h0m0 31h0m0 8h0m0 22h0m1-49h0m0 1h0m0 19h0m0 3h0m0 11h0m0 1h0m0 46h0m1-81h0m0 6h0m0 38h0m0 1h0m0 19h0m1-74h0m0 21h0m0 19h0m0 4h0m0 38h0m1-73h0m0 32h0m0 15h0m0 7h0m0 29h0m1-69h0m0 7h0m0 3h0m0 11h0m0 1h0m0 14h0m0 11h0m0 29h0m1-120h0m0 48h0m0 34h0m0 15h0m0 8h0m0 15h0m1-83h0m0 17h0m0 13h0m0 6h0m0 11h0m0 35h0m1-101h0m0 3h0m0 58h0m0 15h0m1-32h0m0 41h0m1-65h0m0 15h0m0 5h0m0 4h0m0 21h0"/>
<path fill="#fff" fill-rule="evenodd" d="M567.4 946.5L567.8 946.8L568.5 946.5L574.3 944.9L578 946.5L580.8 947.6L583.4 946.5L585.6 940L587.3 937.9L590.7 933.5L592.6 927L591 920.5L587.3 914.4L587.2 914L586 907.5L580.8 901.5L580.4 901L574.3 894.8L574 894.5L570.6 888L567.8 884.9L562.6 881.5L561.3 880.4L554.8 876.2L553 875L548.3 873.4L541.8 869.7L539.4 868.5L535.2 865.8L528.7 862L522.2 863.8L519 862L515.7 858.8L509.2 861.2L502.7 861.7L502.1 862L496.2 868.5L496.2 868.5L495.1 875L493.5 881.5L494.1 888L495.4 894.5L496.2 895.7L500.3 901L502.7 903.6L506.7 907.5L509.2 910.8L511.1 914L515.7 919.1L517 920.5L522.2 924.4L527.8 927L528.7 927.7L535.2 932.8L538 933.5L541.8 935.1L548.3 938.1L554.8 940L554.8 940L561.3 944.2L567.4 946.5Z"/>
<g transform="translate(473.45 839.2) scale(6.5050)" shape-rendering="crispEdges">
<path fill="#fafafa" d="M2 4h1v1h-1zM2 3h1v1h-1zM3 8h1v1h-1zM3 7h1v1h-1zM3 5h1v1h-1zM3 4h1v1h-1zM3 3h1v1h-1zM4 3h1v1h-1zM5 3h1v1h-1zM5 2h1v1h-1zM6 12h1v1h-1zM8 13h1v1h-1zM8 3h1v1h-1zM9 14h1v1h-1zM10 14h1v1h-1zM10 4h1v1h-1zM11 15h1v1h-1zM11 5h1v1h-1zM12 15h1v1h-1zM12 5h1v1h-1zM13 6h1v1h-1zM14 16h1v1h-1zM15 16h1v1h-1zM15 8h1v1h-1zM16 16h1v1h-1zM16 9h1v1h-1zM17 16h1v1h-1zM17 15h1v1h-1zM17 11h1v1h-1zM17 10h1v1h-1zM18 13h1v1h-1z"/>
<path fill="#f5f5f5" d="M3 6h1v1h-1zM4 9h1v1h-1zM4 8h1v1h-1zM4 5h1v1h-1zM4 4h1v1h-1zM5 10h1v1h-1zM6 3h1v1h-1zM9 4h1v1h-1zM11 14h1v1h-1zM12 6h1v1h-1zM14 7h1v1h-1zM15 15h1v1h-1zM16 15h1v1h-1zM17 14h1v1h-1zM17 13h1v1h-1zM17 12h1v1h-1z"/>
<path fill="#f0f0f0" d="M5 4h1v1h-1zM6 11h1v1h-1zM6 4h1v1h-1zM7 12h1v1h-1zM7 4h1v1h-1zM8 12h1v1h-1zM8 4h1v1h-1zM9 13h1v1h-1zM10 5h1v1h-1zM13 15h1v1h-1zM14 15h1v1h-1zM16 10h1v1h-1z"/>
<path fill="#ebebeb" d="M4 6h1v1h-1zM11 6h1v1h-1zM12 14h1v1h-1zM15 9h1v1h-1zM16 14h1v1h-1zM16 13h1v1h-1zM16 12h1v1h-1z"/>
<path fill="#e6e6e6" d="M4 7h1v1h-1zM5 9h1v1h-1zM9 5h1v1h-1zM10 13h1v1h-1zM13 7h1v1h-1zM14 8h1v1h-1zM15 14h1v1h-1zM16 11h1v1h-1z"/>
<path fill="#e1e1e1" d="M5 5h1v1h-1zM6 10h1v1h-1zM7 11h1v1h-1zM9 12h1v1h-1zM13 14h1v1h-1z"/>
<path fill="#dcdcdc" d="M5 8h1v1h-1zM12 7h1v1h-1z"/>
<path fill="#d7d7d7" d="M5 6h1v1h-1zM7 5h1v1h-1zM8 5h1v1h-1zM10 6h1v1h-1zM11 13h1v1h-1zM12 13h1v1h-1zM14 14h1v1h-1z"/>
<path fill="#d2d2d2" d="M6 9h1v1h-1zM6 5h1v1h-1zM8 11h1v1h-1zM14 9h1v1h-1zM15 10h1v1h-1z"/>
<path fill="#cdcdcd" d="M5 7h1v1h-1zM10 12h1v1h-1zM15 13h1v1h-1zM15 12h1v1h-1zM15 11h1v1h-1z"/>
<path fill="#c8c8c8" d="M6 8h1v1h-1zM6 6h1v1h-1z"/>
<path fill="#bebebe" d="M7 10h1v1h-1zM8 6h1v1h-1zM9 6h1v1h-1zM13 8h1v1h-1zM14 13h1v1h-1z"/>
<path fill="#b9b9b9" d="M11 7h1v1h-1zM13 13h1v1h-1z"/>
<path fill="#b4b4b4" d="M7 9h1v1h-1zM7 6h1v1h-1zM14 10h1v1h-1z"/>
<path fill="#afafaf" d="M9 11h1v1h-1zM12 12h1v1h-1z"/>
<path fill="#aaaaaa" d="M8 10h1v1h-1zM12 8h1v1h-1z"/>
<path fill="#a0a0a0" d="M11 12h1v1h-1zM14 12h1v1h-1z"/>
<path fill="#9b9b9b" d="M6 7h1v1h-1zM13 9h1v1h-1zM14 11h1v1h-1z"/>
<path fill="#969696" d="M7 7h1v1h-1zM10 11h1v1h-1zM10 7h1v1h-1z"/>
<path fill="#919191" d="M7 8h1v1h-1z"/>
<path fill="#878787" d="M13 12h1v1h-1zM13 11h1v1h-1z"/>
<path fill="#828282" d="M8 8h1v1h-1z"/>
<path fill="#7d7d7d" d="M13 10h1v1h-1z"/>
<path fill="#737373" d="M9 10h1v1h-1z"/>
<path fill="#6e6e6e" d="M9 7h1v1h-1z"/>
<path fill="#696969" d="M12 10h1v1h-1z"/>
<path fill="#646464" d="M8 9h1v1h-1z"/>
<path fill="#5f5f5f" d="M11 11h1v1h-1z"/>
<path fill="#555555" d="M8 7h1v1h-1zM11 8h1v1h-1zM12 11h1v1h-1z"/>
<path fill="#505050" d="M10 10h1v1h-1zM12 9h1v1h-1z"/>
<path fill="#4b4b4b" d="M10 8h1v1h-1z"/>
<path fill="#373737" d="M9 8h1v1h-1zM11 9h1v1h-1z"/>
<path fill="#232323" d="M9 9h1v1h-1z"/>
<path fill="#0a0a0a" d="M11 10h1v1h-1z"/>
<path fill="#000000" d="M10 9h1v1h-1z"/>
</g>
<path class="ct" d="M567.4 946.5L567.8 946.8L568.5 946.5L574.3 944.9L578 946.5L580.8 947.6L583.4 946.5L585.6 940L587.3 937.9L590.7 933.5L592.6 927L591 920.5L587.3 914.4L587.2 914L586 907.5L580.8 901.5L580.4 901L574.3 894.8L574 894.5L570.6 888L567.8 884.9L562.6 881.5L561.3 880.4L554.8 876.2L553 875L548.3 873.4L541.8 869.7L539.4 868.5L535.2 865.8L528.7 862L522.2 863.8L519 862L515.7 858.8L509.2 861.2L502.7 861.7L502.1 862L496.2 868.5L496.2 868.5L495.1 875L493.5 881.5L494.1 888L495.4 894.5L496.2 895.7L500.3 901L502.7 903.6L506.7 907.5L509.2 910.8L511.1 914L515.7 919.1L517 920.5L522.2 924.4L527.8 927L528.7 927.7L535.2 932.8L538 933.5L541.8 935.1L548.3 938.1L554.8 940L554.8 940L561.3 944.2ZM557.8 933.5L561.3 935L567.8 936.5L574.3 933.5L574.3 933.5L579.6 927L579.8 920.5L580.8 914L578.5 907.5L574.3 902.5L572.9 901L567.8 895.1L567.4 894.5L561.3 888.2L560.6 888L554.8 886L548.3 882.7L545.9 881.5L541.8 877.8L535.2 875.5L534.1 875L528.7 871.5L522.2 871.5L515.7 871.2L509.2 873.6L508.4 875L503.8 881.5L502.7 886.4L502.5 888L502.7 888.4L507 894.5L509.2 900.6L509.4 901L514.8 907.5L515.7 909L520.1 914L522.2 916.4L528.7 917.7L533.1 920.5L535.2 923.2L541.8 926.9L542 927L548.3 929.9L554.8 932.2ZM546.3 920.5L548.3 922L554.8 920.5L554.8 920.5L554.8 920.5L561.3 925.3L567.8 923.6L569.8 920.5L570.3 914L567.8 908.6L567.2 907.5L563.6 901L561.3 897.4L555.8 894.5L554.8 894.1L548.3 888.8L546.1 888L541.8 885.9L535.2 882.9L528.7 882.5L522.2 882.3L515.7 885.3L513.5 888L515.7 890.7L518.9 894.5L522.2 899.7L522.9 901L526.8 907.5L528.7 908.4L535.2 913.7L535.9 914L541.8 916.6ZM541.8 907.5L548.3 912.8L552.9 907.5L554.4 901L548.3 895.8L545 894.5L541.8 894L535.2 891.5L533 894.5L530.9 901L535.2 904.6L541.8 907.5Z"/>
</g>
<g clip-path="url(#c64)">
<path class="pt" transform="translate(610.05 839.2) scale(.5)" d="m0 66h0m0 26h0m0 25h0m0 62h0m1-148h0m0 119h0m0 47h0m1-149h0m0 20h0m0 34h0m0 17h0m0 5h0m0 1h0m0 3h0m0 11h0m0 19h0m1-86h0m0 37h0m0 4h0m0 0h0m0 1h0m0 3h0m0 1h0m0 37h0m0 6h0m1-94h0m0 11h0m0 5h0m0 29h0m0 4h0m0 3h0m0 3h0m0 2h0m0 2h0m0 14h0m0 18h0m1-94h0m0 66h0m0 3h0m0 14h0m0 12h0m0 28h0m1-80h0m0 24h0m0 6h0m0 20h0m0 38h0m1-144h0m0 38h0m0 28h0m0 12h0m0 34h0m0 5h0m0 32h0m1-119h0m0 38h0m0 90h0m1-118h0m0 19h0m0 10h0m0 11h0m0 34h0m0 5h0m0 14h0m1-91h0m0 47h0m0 6h0m0 13h0m1-107h0m0 63h0m0 15h0m0 53h0m0 11h0m1-159h0m0 45h0m0 19h0m0 14h0m0 49h0m0 7h0m1-108h0m0 11h0m0 30h0m0 4h0m0 6h0m0 8h0m0 1h0m0 21h0m0 1h0m0 37h0m1-133h0m0 36h0m0 7h0m0 4h0m0 1h0m0 0h0m0 23h0m0 7h0m0 27h0m0 1h0m0 18h0m1-93h0m0 25h0m0 2h0m0 7h0m0 28h0m0 7h0m0 12h0m0 25h0m1-85h0m0 17h0m0 5h0m0 18h0m0 6h0m0 12h0m0 28h0m0 7h0m0 27h0m1-129h0m0 3h0m0 3h0m0 11h0m0 9h0m0 52h0m1-93h0m0 14h0m0 3h0m0 44h0m0 2h0m0 12h0m0 30h0m0 21h0m1-135h0m0 6h0m0 55h0m0 7h0m0 52h0m1-131h0m0 8h0m0 25h0m0 4h0m0 4h0m0 28h0m0 11h0m0 8h0m0 54h0m0 20h0m1-169h0m0 43h0m0 1h0m0 6h0m0 13h0m0 2h0m0 14h0m0 6h0m0 13h0m0 2h0m1-109h0m0 35h0m0 6h0m0 6h0m0 10h0m0 3h0m0 5h0m0 17h0m0 32h0m1-93h0m0 3h0m0 13h0m0 13h0m0 43h0m0 5h0m0 5h0m0 11h0m0 34h0m1-159h0m0 56h0m0 31h0m0 3h0m0 36h0m0 18h0m0 3h0m1-138h0m0 37h0m0 28h0m0 9h0m0 12h0m1-92h0m0 10h0m0 58h0m0 6h0m0 4h0m0 2h0m0 0h0m0 22h0m0 23h0m0 9h0m0 2h0m0 1h0m1-166h0m0 61h0m0 1h0m0 23h0m0 7h0m0 33h0m0 25h0m0 4h0m0 21h0m1-116h0m0 10h0m0 15h0m0 25h0m0 17h0m0 1h0m0 3h0m0 17h0m0 33h0m0 21h0m1-133h0m0 36h0m0 11h0m0 3h0m0 1h0m0 13h0m0 1h0m0 10h0m0 3h0m0 1h0m0 13h0m0 44h0m1-190h0m0 61h0m0 18h0m0 8h0m0 8h0m0 28h0m0 1h0m0 9h0m0 2h0m0 3h0m0 1h0m0 10h0m0 16h0m0 22h0m0 7h0m1-172h0m0 23h0m0 1h0m0 34h0m0 3h0m0 3h0m0 11h0m0 25h0m0 21h0m0 23h0m0 8h0m0 12h0m1-149h0m0 26h0m0 2h0m0 10h0m0 3h0m0 54h0m0 33h0m0 16h0m1-144h0m0 2h0m0 2h0m0 3h0m0 27h0m0 1h0m0 20h0m0 4h0m0 2h0m0 7h0m0 5h0m0 1h0m0 42h0m0 2h0m0 48h0m1-179h0m0 3h0m0 64h0m0 15h0m0 26h0m0 1h0m0 5h0m0 23h0m1-115h0m0 12h0m0 19h0m0 4h0m0 9h0m0 6h0m0 6h0m0 7h0m0 21h0m0 8h0m0 17h0m0 0h0m1-166h0m0 88h0m0 0h0m0 7h0m0 41h0m0 4h0m0 0h0m0 5h0m0 4h0m0 25h0m1-160h0m0 52h0m0 24h0m0 22h0m0 12h0m0 11h0m0 10h0m0 4h0m0 6h0m0 47h0m1-111h0m0 35h0m0 3h0m0 2h0m0 42h0m0 80h0m1-229h0m0 40h0m0 17h0m0 2h0m0 1h0m0 17h0m0 5h0m0 2h0m0 2h0m0 2h0m0 25h0m0 0h0m0 14h0m0 2h0m0 20h0m0 12h0m1-138h0m0 15h0m0 17h0m0 0h0m0 2h0m0 9h0m0 2h0m0 1h0m0 2h0m0 13h0m0 2h0m0 7h0m0 1h0m0 4h0m0 2h0m0 5h0m0 4h0m0 5h0m0 3h0m0 2h0m0 2h0m0 2h0m0 0h0m0 1h0m0 3h0m0 15h0m0 5h0m0 0h0m0 10h0m0 8h0m0 1h0m1-136h0m0 8h0m0 18h0m0 24h0m0 1h0m0 2h0m0 5h0m0 5h0m0 16h0m0 15h0m0 7h0m0 27h0m0 4h0m1-160h0m0 16h0m0 47h0m0 4h0m0 2h0m0 7h0m0 10h0m0 6h0m0 29h0m0 4h0m0 9h0m0 3h0m0 5h0m0 1h0m1-129h0m0 21h0m0 6h0m0 10h0m0 6h0m0 2h0m0 8h0m0 2h0m0 2h0m0 1h0m0 2h0m0 21h0m0 5h0m0 11h0m0 0h0m0 2h0m0 6h0m0 11h0m1-112h0m0 6h0m0 20h0m0 4h0m0 1h0m0 10h0m0 3h0m0 8h0m0 1h0m0 24h0m0 31h0m0 8h0m0 2h0m0 2h0m0 6h0m0 4h0m0 0h0m0 7h0m1-125h0m0 5h0m0 14h0m0 14h0m0 43h0m0 10h0m0 0h0m0 28h0m0 52h0m1-219h0m0 61h0m0 11h0m0 7h0m0 1h0m0 46h0m0 1h0m0 17h0m0 5h0m0 2h0m0 2h0m0 6h0m0 18h0m1-136h0m0 14h0m0 29h0m0 54h0m0 31h0m0 9h0m0 18h0m0 33h0m1-172h0m0 7h0m0 10h0m0 0h0m0 4h0m0 51h0m0 12h0m0 5h0m0 1h0m0 10h0m0 0h0m0 35h0m1-120h0m0 68h0m0 13h0m0 2h0m0 17h0m1-132h0m0 4h0m0 34h0m0 60h0m0 27h0m0 7h0m0 0h0m0 6h0m0 2h0m0 11h0m0 35h0m1-223h0m0 8h0m0 27h0m0 13h0m0 8h0m0 19h0m0 4h0m0 57h0m0 34h0m0 1h0m1-175h0m0 20h0m0 34h0m0 4h0m0 6h0m0 11h0m0 5h0m0 2h0m0 54h0m0 19h0m0 10h0m0 18h0m1-159h0m0 8h0m0 4h0m0 8h0m0 0h0m0 10h0m0 10h0m0 6h0m0 1h0m0 4h0m0 2h0m0 4h0m0 56h0m0 16h0m0 14h0m0 3h0m0 10h0m0 0h0m0 11h0m0 21h0m1-195h0m0 25h0m0 9h0m0 7h0m0 20h0m0 1h0m0 64h0m0 1h0m0 3h0m0 1h0m0 5h0m0 56h0m0 5h0m1-179h0m0 29h0m0 11h0m0 65h0m0 4h0m0 24h0m0 2h0m0 21h0m1-139h0m0 10h0m0 7h0m0 11h0m0 63h0m0 2h0m0 4h0m0 6h0m0 19h0m0 6h0m0 4h0m0 7h0m1-165h0m0 19h0m0 13h0m0 1h0m0 9h0m0 1h0m0 5h0m0 4h0m0 69h0m0 13h0m0 7h0m0 18h0m0 7h0m0 15h0m1-202h0m0 29h0m0 18h0m0 9h0m0 19h0m0 1h0m0 82h0m0 9h0m0 0h0m0 9h0m1-159h0m0 4h0m0 24h0m0 24h0m0 2h0m0 84h0m0 2h0m0 1h0m0 0h0m0 11h0m0 19h0m0 20h0m1-172h0m0 14h0m0 5h0m0 105h0m0 12h0m0 3h0m0 8h0m1-151h0m0 28h0m0 3h0m0 99h0m0 3h0m0 6h0m1-137h0m0 13h0m0 26h0m0 99h0m0 0h0m0 1h0m0 8h0m0 49h0m1-205h0m0 31h0m0 105h0m0 2h0m0 0h0m0 4h0m0 3h0m0 7h0m0 5h0m0 23h0m1-177h0m0 6h0m0 15h0m0 5h0m0 5h0m0 4h0m0 102h0m0 15h0m0 1h0m0 10h0m1-145h0m0 13h0m0 5h0m0 1h0m0 106h0m0 4h0m0 3h0m0 5h0m0 0h0m0 1h0m0 15h0m0 9h0m0 21h0m1-180h0m0 17h0m0 2h0m0 102h0m0 2h0m0 3h0m0 0h0m0 13h0m0 16h0m1-207h0m0 43h0m0 2h0m0 0h0m0 8h0m0 5h0m0 112h0m0 3h0m0 3h0m0 61h0m1-181h0m0 8h0m0 1h0m0 3h0m0 101h0m0 3h0m0 7h0m0 1h0m0 19h0m0 22h0m1-186h0m0 15h0m0 10h0m0 0h0m0 3h0m0 3h0m0 139h0m0 10h0m0 8h0m1-190h0m0 1h0m0 1h0m0 1h0m0 12h0m0 1h0m0 9h0m0 9h0m1-41h0m0 6h0m0 3h0m0 16h0m0 119h0m0 38h0m0 7h0m1-207h0m0 31h0m0 10h0m0 12h0m0 4h0m0 104h0m0 21h0m0 6h0m0 39h0m1-202h0m0 26h0m0 3h0m0 121h0m1-138h0m0 18h0m0 108h0m0 0h0m0 1h0m0 3h0m0 11h0m0 2h0m0 2h0m0 2h0m0 3h0m1-149h0m0 1h0m0 6h0m0 2h0m0 8h0m0 132h0m0 13h0m1-157h0m0 6h0m0 3h0m0 133h0m0 1h0m0 2h0m1-165h0m0 7h0m0 10h0m0 6h0m0 6h0m0 118h0m0 11h0m0 0h0m0 8h0m1-204h0m0 16h0m0 41h0m0 143h0m0 31h0m1-206h0m0 0h0m0 4h0m0 6h0m0 152h0m0 8h0m0 4h0m1-177h0m0 20h0m0 140h0m0 5h0m0 3h0m0 10h0m0 1h0m1-170h0m0 21h0m0 3h0m0 134h0m0 16h0m0 18h0m0 19h0m1-191h0m0 6h0m1-4h0m0 3h0m0 155h0m1-185h0m0 165h0m0 5h0m0 12h0m1-165h0m0 11h0m0 136h0m0 7h0m0 15h0m0 16h0m1-213h0m0 25h0m0 16h0m0 136h0m0 1h0m0 31h0m0 9h0m1-204h0m0 5h0m0 8h0m0 9h0m0 136h0m0 3h0m0 23h0m1-166h0m0 143h0m0 2h0m0 17h0m1-189h0m0 12h0m0 13h0m0 1h0m0 7h0m0 136h0m0 2h0m0 2h0m0 3h0m0 29h0m1-219h0m0 3h0m0 29h0m0 2h0m0 12h0m0 149h0m1-185h0m0 16h0m0 5h0m0 7h0m0 10h0m0 137h0m0 11h0m0 18h0m0 3h0m1-197h0m0 3h0m0 162h0m0 9h0m0 1h0m0 2h0m0 6h0m1-179h0m0 13h0m0 148h0m0 3h0m0 20h0m1-195h0m0 206h0m1-194h0m0 24h0m0 134h0m0 14h0m0 38h0m1-210h0m0 20h0m0 3h0m0 137h0m0 0h0m0 1h0m0 4h0m0 17h0m0 0h0m0 5h0m1-206h0m0 179h0m0 1h0m0 2h0m0 19h0m0 1h0m0 14h0m1-203h0m0 25h0m0 2h0m0 1h0m0 136h0m0 16h0m0 15h0m1-202h0m0 25h0m0 154h0m0 14h0m1-212h0m0 26h0m0 12h0m0 6h0m0 162h0m0 13h0m0 7h0m1-210h0m0 28h0m0 150h0m0 9h0m0 15h0m0 21h0m0 15h0m1-218h0m0 0h0m0 2h0m0 6h0m0 4h0m0 153h0m0 26h0m0 15h0m1-231h0m0 21h0m0 8h0m0 2h0m0 154h0m0 8h0m0 5h0m0 4h0m0 25h0m1-224h0m0 11h0m0 13h0m0 159h0m0 8h0m1-155h0m0 149h0m0 6h0m0 12h0m1-184h0m0 1h0m0 19h0m0 141h0m0 3h0m0 5h0m0 4h0m0 10h0m0 28h0m1-244h0m0 19h0m0 16h0m0 4h0m0 8h0m0 1h0m0 147h0m0 2h0m1-166h0m0 23h0m0 141h0m0 2h0m0 1h0m0 26h0m1-194h0m0 11h0m0 2h0m0 153h0m0 3h0m0 5h0m0 9h0m0 21h0m0 14h0m1-226h0m0 8h0m0 10h0m0 161h0m0 3h0m0 1h0m0 2h0m0 10h0m0 24h0m1-199h0m0 4h0m0 2h0m0 151h0m0 17h0m1-186h0m0 169h0m1-170h0m0 15h0m0 167h0m1-176h0m0 3h0m0 4h0m0 163h0m0 2h0m1-179h0m0 11h0m1-4h0m0 4h0m0 158h0m0 4h0m0 2h0m1-202h0m0 24h0m0 8h0m0 3h0m0 12h0m0 153h0m0 12h0m1-187h0m0 179h0m0 1h0m0 1h0m0 2h0m0 6h0m0 4h0m1-184h0m0 164h0m0 3h0m0 4h0m0 1h0m0 10h0m0 8h0m1-198h0m0 10h0m0 4h0m0 5h0m0 2h0m0 5h0m0 0h0m0 158h0m1-180h0m0 198h0m1-227h0m0 34h0m0 4h0m0 5h0m0 156h0m0 9h0m0 5h0m0 4h0m0 8h0m0 15h0m1-217h0m0 5h0m0 15h0m0 3h0m0 1h0m0 150h0m0 7h0m0 6h0m0 3h0m0 2h0m0 2h0m0 31h0m1-220h0m0 12h0m0 162h0m0 1h0m0 8h0m0 11h0m0 13h0m1-202h0m0 0h0m0 5h0m0 6h0m0 5h0m0 151h0m1-176h0m0 5h0m0 6h0m0 3h0m0 163h0m0 9h0m0 21h0m0 17h0m1-209h0m0 11h0m0 152h0m0 15h0m0 2h0m0 9h0m1-198h0m0 10h0m0 188h0m1-224h0m0 25h0m0 11h0m0 10h0m0 163h0m0 7h0m1-197h0m0 13h0m0 2h0m0 0h0m0 2h0m0 2h0m0 160h0m1-172h0m0 175h0m0 12h0m0 1h0m1-179h0m0 166h0m0 2h0m0 5h0m0 0h0m0 6h0m0 3h0m0 5h0m0 8h0m1-224h0m0 28h0m1 4h0m0 162h0m0 1h0m0 2h0m0 1h0m0 22h0m0 1h0m1-195h0m0 14h0m0 156h0m0 11h0m0 15h0m0 7h0m0 7h0m1-39h0m0 0h0m0 5h0m1-210h0m0 40h0m0 194h0m1-203h0m0 0h0m0 8h0m0 3h0m0 1h0m0 0h0m0 3h0m0 0h0m0 157h0m0 8h0m1-211h0m0 48h0m0 165h0m0 0h0m0 32h0m1-247h0m0 22h0m0 26h0m0 156h0m1 1h0m0 4h0m0 7h0m0 13h0m0 28h0m1-247h0m0 19h0m0 0h0m0 13h0m0 162h0m0 11h0m0 13h0m1-206h0m0 8h0m0 7h0m0 6h0m0 160h0m0 1h0m0 4h0m0 8h0m0 14h0m0 27h0m1-219h0m0 166h0m0 7h0m0 4h0m0 9h0m1-198h0m0 5h0m0 2h0m0 1h0m0 169h0m0 2h0m0 8h0m0 2h0m0 2h0m1-218h0m0 20h0m0 181h0m1-169h0m0 6h0m0 0h0m0 167h0m0 2h0m0 19h0m0 10h0m0 5h0m1-223h0m0 21h0m0 9h0m0 182h0m1-194h0m0 12h0m0 164h0m0 25h0m1-216h0m0 4h0m0 15h0m0 1h0m0 163h0m0 40h0m1-219h0m0 2h0m0 10h0m0 8h0m0 154h0m0 11h0m0 1h0m0 13h0m1-186h0m0 9h0m0 179h0m0 15h0m0 9h0m1-249h0m0 39h0m0 8h0m0 153h0m0 1h0m0 10h0m0 31h0m1-42h0m0 8h0m0 9h0m0 5h0m1-198h0m0 19h0m0 157h0m0 18h0m0 6h0m1-191h0m0 7h0m0 163h0m0 1h0m0 0h0m1-198h0m0 7h0m0 7h0m0 4h0m0 14h0m0 165h0m0 2h0m0 6h0m0 1h0m1-194h0m0 14h0m0 8h0m0 185h0m0 4h0m1-215h0m0 30h0m0 158h0m0 9h0m0 5h0m0 21h0m1-208h0m0 2h0m0 9h0m0 162h0m0 18h0m0 3h0m0 14h0m1-230h0m0 198h0m0 4h0m0 5h0m0 26h0m1-228h0m0 21h0m0 4h0m0 164h0m0 1h0m0 2h0m1-179h0m0 1h0m0 9h0m0 2h0m0 170h0m0 4h0m0 16h0m1-190h0m0 1h0m0 0h0m0 2h0m0 1h0m0 164h0m0 12h0m1-204h0m0 10h0m0 17h0m0 183h0m1-213h0m0 1h0m0 9h0m0 1h0m0 9h0m0 174h0m0 22h0m1-21h0m0 1h0m0 4h0m0 4h0m0 1h0m0 2h0m0 39h0m1-258h0m0 39h0m0 2h0m0 172h0m1-194h0m0 22h0m0 168h0m0 7h0m0 12h0m1-203h0m0 2h0m0 11h0m0 1h0m0 167h0m0 4h0m0 1h0m0 22h0m1-222h0m0 214h0m0 17h0m1-215h0m0 6h0m0 7h0m0 165h0m0 16h0m0 5h0m1-208h0m0 15h0m0 3h0m0 169h0m0 6h0m0 11h0m1-192h0m0 0h0m0 7h0m0 3h0m0 166h0m0 8h0m0 3h0m0 10h0m1-223h0m0 8h0m1-4h0m0 12h0m0 8h0m0 1h0m1 9h0m0 174h0m0 2h0m1-191h0m0 7h0m0 2h0m0 194h0m1-212h0m0 4h0m0 9h0m0 13h0m0 169h0m0 1h0m0 10h0m0 3h0m0 11h0m0 3h0m0 21h0m1-247h0m0 15h0m0 12h0m0 1h0m0 2h0m0 0h0m0 166h0m0 14h0m0 9h0m1-207h0m0 19h0m0 1h0m0 170h0m0 5h0m1 3h0m0 0h0m1-198h0m0 4h0m0 11h0m0 177h0m0 4h0m1-177h0m0 1h0m0 164h0m0 5h0m0 4h0m0 24h0m1-198h0m0 166h0m0 1h0m0 19h0m1-220h0m0 29h0m0 1h0m0 2h0m0 169h0m0 30h0m0 4h0m1 14h0m1-244h0m1 27h0m0 2h0m0 2h0m0 167h0m0 11h0m1-209h0m0 3h0m0 11h0m0 1h0m0 0h0m0 180h0m0 4h0m0 12h0m0 2h0m0 4h0m1-189h0m0 7h0m0 184h0m1-206h0m0 12h0m0 1h0m0 11h0m0 159h0m0 1h0m0 33h0m1-209h0m0 218h0m1-231h0m0 13h0m0 1h0m0 174h0m0 1h0m0 13h0m0 3h0m1-184h0m0 2h0m0 162h0m0 13h0m0 1h0m0 15h0m1-209h0m0 12h0m0 0h0m0 3h0m0 8h0m0 167h0m0 8h0m1-183h0m0 9h0m0 165h0m1-163h0m0 169h0m0 10h0m0 12h0m1-208h0m0 10h0m0 161h0m0 3h0m0 9h0m0 22h0m1-235h0m0 212h0m0 0h0m1-213h0m0 6h0m0 8h0m0 2h0m0 15h0m0 2h0m0 8h0m0 161h0m0 11h0m0 1h0m0 7h0m1-190h0m0 10h0m0 8h0m0 156h0m0 6h0m1-216h0m0 49h0m0 6h0m0 168h0m1-193h0m0 12h0m0 11h0m0 152h0m0 8h0m0 26h0m1-192h0m0 164h0m0 5h0m0 26h0m0 7h0m1-221h0m0 8h0m0 4h0m0 1h0m0 15h0m0 147h0m0 7h0m0 2h0m0 3h0m0 19h0m0 19h0m1-208h0m0 0h0m0 3h0m0 5h0m0 3h0m0 0h0m0 149h0m1-170h0m0 166h0m0 1h0m0 0h0m0 32h0m1-187h0m0 6h0m0 150h0m0 18h0m0 13h0m1-216h0m0 10h0m0 8h0m0 176h0m0 11h0m0 0h0m0 0h0m1-208h0m0 184h0m0 17h0m0 1h0m1-169h0m0 7h0m0 2h0m0 0h0m0 1h0m0 148h0m0 38h0m0 2h0m1-219h0m0 13h0m0 163h0m0 9h0m0 10h0m0 21h0m1-230h0m0 4h0m0 10h0m0 2h0m0 6h0m0 13h0m0 7h0m0 4h0m0 149h0m0 44h0m1-53h0m0 16h0m0 5h0m1-185h0m0 15h0m0 146h0m0 8h0m0 4h0m1-182h0m0 1h0m0 13h0m0 5h0m0 0h0m0 13h0m0 148h0m0 0h0m0 4h0m0 1h0m0 4h0m0 11h0m1-207h0m0 39h0m0 0h0m0 2h0m0 1h0m1 136h0m0 5h0m1-167h0m0 5h0m0 21h0m0 0h0m0 143h0m0 21h0m1-189h0m0 11h0m0 5h0m0 2h0m0 151h0m0 6h0m0 6h0m0 15h0m1-192h0m0 14h0m0 8h0m1-14h0m0 1h0m0 8h0m0 141h0m0 14h0m0 29h0m1-212h0m0 8h0m0 9h0m0 14h0m1-27h0m0 6h0m0 21h0m0 134h0m0 15h0m0 2h0m1-188h0m0 5h0m0 4h0m0 5h0m0 2h0m0 23h0m0 167h0m1-183h0m0 8h0m0 146h0m1-161h0m0 6h0m0 159h0m0 29h0m1-231h0m0 199h0m1-155h0m0 6h0m0 2h0m0 1h0m0 2h0m0 6h0m0 2h0m0 133h0m0 3h0m0 10h0m0 20h0m1-203h0m0 168h0m0 4h0m0 6h0m0 17h0m1-193h0m0 13h0m0 7h0m0 4h0m0 11h0m0 1h0m0 1h0m0 133h0m0 4h0m0 8h0m1-191h0m0 14h0m0 3h0m0 2h0m0 7h0m0 3h0m0 8h0m0 139h0m0 4h0m0 0h0m0 12h0m0 9h0m0 8h0m1-187h0m0 19h0m0 1h0m0 1h0m0 4h0m0 131h0m0 3h0m0 6h0m0 7h0m1-147h0m0 129h0m0 10h0m0 4h0m1-163h0m0 11h0m0 3h0m0 2h0m0 3h0m0 130h0m0 8h0m0 21h0m0 13h0m1-176h0m0 135h0m0 20h0m0 0h0m1-173h0m0 1h0m0 9h0m0 16h0m0 134h0m0 9h0m0 45h0m1-217h0m0 13h0m0 12h0m0 4h0m0 127h0m0 1h0m0 17h0m1-167h0m0 17h0m0 0h0m0 6h0m0 131h0m0 22h0m0 4h0m0 1h0m0 15h0m0 7h0m1-189h0m0 135h0m0 14h0m0 12h0m0 15h0m1-189h0m0 150h0m0 5h0m1-195h0m0 38h0m0 10h0m0 12h0m0 0h0m1-37h0m0 36h0m0 1h0m0 2h0m0 1h0m0 1h0m0 135h0m1-174h0m0 16h0m0 1h0m0 144h0m0 2h0m0 2h0m0 7h0m0 8h0m1-186h0m0 15h0m0 10h0m0 3h0m0 5h0m0 4h0m0 4h0m0 125h0m0 6h0m0 3h0m0 4h0m0 7h0m1-199h0m0 1h0m0 36h0m0 1h0m0 10h0m0 133h0m1-124h0m0 4h0m0 119h0m0 3h0m0 13h0m0 4h0m0 4h0m1-182h0m0 10h0m0 9h0m0 2h0m0 140h0m0 3h0m1-161h0m0 15h0m0 9h0m0 5h0m0 9h0m0 135h0m1-175h0m0 11h0m0 15h0m0 9h0m0 4h0m0 115h0m0 26h0m1-194h0m0 24h0m0 10h0m0 15h0m0 2h0m0 116h0m0 0h0m0 2h0m1-162h0m0 24h0m0 25h0m0 97h0m0 31h0m1-176h0m0 6h0m0 1h0m0 3h0m0 30h0m0 4h0m0 5h0m0 122h0m1-139h0m0 7h0m0 9h0m0 98h0m0 14h0m0 1h0m0 5h0m0 3h0m1-194h0m0 7h0m0 6h0m0 14h0m0 13h0m0 2h0m0 4h0m0 13h0m0 15h0m0 152h0m1-208h0m0 42h0m0 5h0m0 1h0m0 6h0m0 96h0m0 35h0m0 5h0m1-156h0m0 20h0m0 111h0m0 1h0m0 10h0m0 2h0m1-170h0m0 16h0m0 23h0m0 8h0m0 0h0m0 110h0m0 9h0m0 0h0m0 3h0m0 9h0m0 1h0m0 7h0m1-196h0m0 14h0m0 15h0m0 21h0m0 0h0m0 103h0"/>
<path fill="#fff" fill-rule="evenodd" d="M672.8 940L678.4 943.3L683.5 940L684.9 939.4L688.1 940L691.4 941.3L697.9 942.6L704.4 943.4L710.9 942.2L712.9 940L717.4 936.9L723.9 936L730.4 938.3L736.9 934.1L743.4 934.1L743.7 933.5L743.4 929.2L736.9 929.2L736.2 927L736.9 926.4L743.4 926.4L744.6 920.5L746.7 914L746.7 907.5L746.8 901L746.1 894.5L746.2 888L743.9 881.5L743.4 880.5L736.9 880.5L730.4 875.7L728.7 875L723.9 871L717.4 869.8L714.9 868.5L710.9 866.3L704.4 864.6L701.9 862L697.9 859L692.1 862L691.4 862.4L684.9 864.7L678.4 866.1L671.8 866.3L665.3 866.7L658.8 867.4L652.3 868.2L651.6 868.5L648.6 875L645.8 877.5L641.7 881.5L639.3 883.5L632.8 888L632.8 888L631 894.5L631.2 901L632.8 903.9L634.1 907.5L639.3 914L639.3 914L639.3 914L638.3 920.5L639.3 921.8L644.1 927L645.8 928L652.3 932.4L655.6 933.5L658.8 933.9L665.3 937.7L671.8 938.7L672.8 940Z"/>
<g transform="translate(610.05 839.2) scale(6.5050)" shape-rendering="crispEdges">
<path fill="#fafafa" d="M2 11h1v1h-1zM3 12h1v1h-1zM3 11h1v1h-1zM3 10h1v1h-1zM3 7h1v1h-1zM3 6h1v1h-1zM4 14h1v1h-1zM4 13h1v1h-1zM4 12h1v1h-1zM4 11h1v1h-1zM4 6h1v1h-1zM4 5h1v1h-1zM5 13h1v1h-1zM5 5h1v1h-1zM5 4h1v1h-1zM6 14h1v1h-1zM6 4h1v1h-1zM7 14h1v1h-1zM8 15h1v1h-1zM9 15h1v1h-1zM9 3h1v1h-1zM10 16h1v1h-1zM11 15h1v1h-1zM11 3h1v1h-1zM12 15h1v1h-1zM12 3h1v1h-1zM14 3h1v1h-1zM16 4h1v1h-1zM17 4h1v1h-1zM18 15h1v1h-1zM18 5h1v1h-1zM19 14h1v1h-1zM19 13h1v1h-1zM19 6h1v1h-1z"/>
<path fill="#f5f5f5" d="M3 9h1v1h-1zM3 8h1v1h-1zM4 8h1v1h-1zM5 6h1v1h-1zM6 13h1v1h-1zM6 5h1v1h-1zM7 13h1v1h-1zM7 5h1v1h-1zM7 4h1v1h-1zM8 14h1v1h-1zM8 4h1v1h-1zM9 14h1v1h-1zM9 4h1v1h-1zM10 15h1v1h-1zM10 4h1v1h-1zM11 4h1v1h-1zM13 15h1v1h-1zM13 4h1v1h-1zM13 3h1v1h-1zM14 15h1v1h-1zM14 4h1v1h-1zM15 15h1v1h-1zM15 4h1v1h-1zM16 14h1v1h-1zM17 14h1v1h-1zM17 5h1v1h-1zM18 13h1v1h-1zM19 12h1v1h-1z"/>
<path fill="#f0f0f0" d="M4 10h1v1h-1zM4 9h1v1h-1zM4 7h1v1h-1zM5 12h1v1h-1zM5 7h1v1h-1zM6 12h1v1h-1zM6 6h1v1h-1zM10 14h1v1h-1zM13 14h1v1h-1zM14 5h1v1h-1zM15 5h1v1h-1zM16 5h1v1h-1zM17 13h1v1h-1zM17 6h1v1h-1zM18 14h1v1h-1z"/>
<path fill="#ebebeb" d="M5 8h1v1h-1zM10 5h1v1h-1zM11 14h1v1h-1zM12 14h1v1h-1zM12 4h1v1h-1zM14 14h1v1h-1zM18 6h1v1h-1zM19 8h1v1h-1zM19 7h1v1h-1z"/>
<path fill="#e6e6e6" d="M5 11h1v1h-1zM6 7h1v1h-1zM7 12h1v1h-1zM8 13h1v1h-1zM8 5h1v1h-1zM11 5h1v1h-1zM15 14h1v1h-1zM19 11h1v1h-1zM19 10h1v1h-1zM19 9h1v1h-1z"/>
<path fill="#e1e1e1" d="M5 10h1v1h-1zM5 9h1v1h-1zM7 6h1v1h-1zM8 6h1v1h-1zM9 5h1v1h-1zM10 13h1v1h-1zM13 5h1v1h-1zM16 6h1v1h-1zM17 12h1v1h-1zM18 7h1v1h-1z"/>
<path fill="#dcdcdc" d="M6 11h1v1h-1zM11 6h1v1h-1zM15 13h1v1h-1zM18 11h1v1h-1z"/>
<path fill="#d7d7d7" d="M6 9h1v1h-1zM8 12h1v1h-1zM9 13h1v1h-1zM15 6h1v1h-1zM16 13h1v1h-1zM17 7h1v1h-1zM18 8h1v1h-1z"/>
<path fill="#d2d2d2" d="M6 10h1v1h-1zM6 8h1v1h-1zM8 11h1v1h-1zM12 13h1v1h-1zM12 5h1v1h-1zM14 13h1v1h-1zM18 12h1v1h-1zM18 10h1v1h-1z"/>
<path fill="#cdcdcd" d="M7 11h1v1h-1zM9 6h1v1h-1zM11 13h1v1h-1zM12 6h1v1h-1zM14 6h1v1h-1zM17 9h1v1h-1zM18 9h1v1h-1z"/>
<path fill="#c8c8c8" d="M7 7h1v1h-1zM13 13h1v1h-1zM13 6h1v1h-1zM16 12h1v1h-1z"/>
<path fill="#bebebe" d="M7 8h1v1h-1zM13 12h1v1h-1zM17 11h1v1h-1zM17 8h1v1h-1z"/>
<path fill="#b9b9b9" d="M7 10h1v1h-1zM9 11h1v1h-1zM11 12h1v1h-1zM15 12h1v1h-1z"/>
<path fill="#b4b4b4" d="M10 12h1v1h-1zM10 6h1v1h-1zM12 12h1v1h-1zM15 7h1v1h-1zM16 7h1v1h-1z"/>
<path fill="#afafaf" d="M7 9h1v1h-1zM14 12h1v1h-1zM16 10h1v1h-1zM16 8h1v1h-1z"/>
<path fill="#aaaaaa" d="M9 12h1v1h-1zM14 7h1v1h-1zM15 11h1v1h-1zM16 11h1v1h-1z"/>
<path fill="#a5a5a5" d="M8 7h1v1h-1zM10 7h1v1h-1zM12 7h1v1h-1zM16 9h1v1h-1zM17 10h1v1h-1z"/>
<path fill="#a0a0a0" d="M8 10h1v1h-1zM8 8h1v1h-1zM13 11h1v1h-1z"/>
<path fill="#9b9b9b" d="M9 7h1v1h-1zM15 8h1v1h-1z"/>
<path fill="#969696" d="M9 10h1v1h-1zM10 8h1v1h-1z"/>
<path fill="#919191" d="M8 9h1v1h-1zM9 8h1v1h-1zM15 10h1v1h-1z"/>
<path fill="#8c8c8c" d="M13 8h1v1h-1z"/>
<path fill="#878787" d="M13 7h1v1h-1zM14 11h1v1h-1zM14 10h1v1h-1z"/>
<path fill="#828282" d="M11 11h1v1h-1z"/>
<path fill="#7d7d7d" d="M14 9h1v1h-1zM14 8h1v1h-1z"/>
<path fill="#737373" d="M9 9h1v1h-1zM11 7h1v1h-1z"/>
<path fill="#6e6e6e" d="M10 11h1v1h-1zM10 10h1v1h-1z"/>
<path fill="#696969" d="M12 11h1v1h-1zM12 8h1v1h-1zM13 10h1v1h-1zM15 9h1v1h-1z"/>
<path fill="#555555" d="M11 9h1v1h-1z"/>
<path fill="#4b4b4b" d="M11 8h1v1h-1z"/>
<path fill="#464646" d="M10 9h1v1h-1zM11 10h1v1h-1z"/>
<path fill="#414141" d="M12 10h1v1h-1z"/>
<path fill="#3c3c3c" d="M12 9h1v1h-1z"/>
<path fill="#000000" d="M13 9h1v1h-1z"/>
</g>
<path class="ct" d="M672.8 940L678.4 943.3L683.5 940L684.9 939.4L688.1 940L691.4 941.3L697.9 942.6L704.4 943.4L710.9 942.2L712.9 940L717.4 936.9L723.9 936L730.4 938.3L736.9 934.1L743.4 934.1L743.7 933.5L743.4 929.2L736.9 929.2L736.2 927L736.9 926.4L743.4 926.4L744.6 920.5L746.7 914L746.7 907.5L746.8 901L746.1 894.5L746.2 888L743.9 881.5L743.4 880.5L736.9 880.5L730.4 875.7L728.7 875L723.9 871L717.4 869.8L714.9 868.5L710.9 866.3L704.4 864.6L701.9 862L697.9 859L692.1 862L691.4 862.4L684.9 864.7L678.4 866.1L671.8 866.3L665.3 866.7L658.8 867.4L652.3 868.2L651.6 868.5L648.6 875L645.8 877.5L641.7 881.5L639.3 883.5L632.8 888L632.8 888L631 894.5L631.2 901L632.8 903.9L634.1 907.5L639.3 914L639.3 914L639.3 914L638.3 920.5L639.3 921.8L644.1 927L645.8 928L652.3 932.4L655.6 933.5L658.8 933.9L665.3 937.7L671.8 938.7ZM666.6 927L671.8 929.1L678.4 928.6L684.9 931.5L691.4 931.8L697.9 931.1L704.4 931.9L710.9 933L717.4 929.3L720.5 927L723.9 922.5L730.4 923.2L733 920.5L736.4 914L736.6 907.5L736.9 904.2L743.4 904.2L743.5 901L743.4 900.5L736.9 900.5L734 894.5L732.8 888L730.4 885L723.9 884.9L717.9 881.5L717.4 880.9L710.9 878.7L704.4 877.5L698.8 875L697.9 874.4L691.4 871L684.9 874.8L684.4 875L678.4 876.3L672.7 875L671.8 874.6L670 875L665.3 877.7L658.8 881L658.3 881.5L652.3 888L652.3 888L647.3 894.5L645.8 899L644.9 901L644.4 907.5L645.8 911.1L648 914L652.3 916L658.8 920.5L658.8 920.5L665.3 925.8ZM670.5 920.5L671.8 921.8L677.7 920.5L678.4 920.4L684.9 920L691.4 920.4L697.9 918.2L703.3 920.5L704.4 920.9L706 920.5L710.9 918.1L717.4 916.1L720.6 914L723.9 911.2L725.8 907.5L723.9 905.4L719.7 901L719.6 894.5L717.6 888L717.4 887.9L714.1 888L710.9 888.3L710.2 888L704.4 886.4L697.9 884L691.4 885.8L684.9 884.5L678.4 881.5L671.8 885.1L665.3 886.7L663 888L661.4 894.5L658.8 899L658.1 901L658.8 904.2L660.5 907.5L665.3 909.8L671.8 912.9L672.4 914L671.8 916.3ZM691 914L691.4 914.1L691.5 914L697.9 907.5L697.9 907.5L702.6 901L697.9 897.2L691.9 894.5L691.4 894.2L684.9 889.6L682.3 894.5L678.4 898.2L673.3 901L678.4 906.7L679.1 907.5L684.9 911.2ZM710 901L710.9 901.5L711.2 901L710.9 900.6Z"/>
</g>
<g clip-path="url(#c65)">
<path class="pt" transform="translate(746.65 839.2) scale(.5)" d="m0 81h0m0 10h0m0 1h0m0 15h0m0 53h0m0 15h0m0 18h0m1-121h0m0 6h0m0 5h0m0 1h0m0 7h0m0 5h0m0 8h0m0 2h0m0 41h0m0 5h0m0 1h0m0 12h0m0 8h0m0 20h0m0 3h0m0 62h0m1-246h0m0 58h0m0 2h0m0 4h0m0 2h0m0 9h0m0 1h0m0 1h0m0 10h0m0 52h0m0 0h0m0 1h0m0 22h0m0 12h0m0 2h0m0 6h0m0 36h0m0 22h0m1-211h0m0 3h0m0 10h0m0 35h0m0 1h0m0 4h0m0 5h0m0 3h0m0 49h0m0 13h0m0 1h0m0 13h0m0 12h0m1-141h0m0 22h0m0 7h0m0 6h0m0 6h0m0 7h0m0 0h0m0 7h0m0 1h0m0 45h0m0 22h0m0 30h0m0 4h0m0 16h0m1-170h0m0 13h0m0 1h0m0 0h0m0 37h0m0 49h0m0 3h0m0 1h0m0 2h0m0 10h0m0 1h0m0 8h0m0 1h0m1-146h0m0 10h0m0 7h0m0 12h0m0 0h0m0 8h0m0 18h0m0 5h0m0 1h0m0 63h0m0 1h0m0 23h0m0 19h0m1-131h0m0 5h0m0 11h0m0 12h0m0 5h0m0 3h0m0 2h0m0 43h0m0 4h0m0 12h0m0 8h0m0 5h0m0 2h0m1-128h0m0 38h0m0 64h0m0 6h0m0 6h0m0 9h0m0 1h0m0 8h0m0 10h0m0 24h0m1-204h0m0 9h0m0 4h0m0 35h0m0 0h0m0 1h0m0 24h0m0 66h0m0 1h0m0 4h0m0 3h0m0 0h0m0 5h0m0 6h0m0 41h0m0 7h0m1-215h0m0 4h0m0 18h0m0 20h0m0 37h0m0 11h0m0 56h0m0 7h0m0 4h0m0 10h0m1-137h0m0 22h0m0 0h0m0 0h0m0 9h0m0 2h0m0 18h0m0 73h0m0 2h0m0 2h0m0 4h0m0 7h0m1-110h0m0 15h0m0 10h0m0 76h0m0 34h0m0 7h0m1-151h0m0 9h0m0 3h0m0 9h0m0 10h0m0 4h0m0 75h0m0 6h0m0 1h0m0 22h0m1-154h0m0 14h0m0 2h0m0 6h0m0 10h0m0 107h0m0 15h0m0 28h0m1-201h0m0 23h0m0 18h0m0 1h0m0 25h0m0 78h0m0 0h0m0 8h0m0 2h0m0 16h0m0 0h0m0 1h0m0 3h0m0 27h0m1-169h0m0 5h0m0 2h0m0 7h0m0 20h0m0 80h0m0 9h0m0 3h0m0 5h0m0 10h0m0 12h0m1-149h0m0 10h0m0 1h0m0 14h0m0 6h0m0 83h0m0 1h0m0 2h0m0 1h0m0 11h0m0 31h0m1-192h0m0 1h0m0 10h0m0 38h0m0 4h0m0 9h0m0 3h0m0 90h0m0 5h0m0 11h0m0 32h0m0 10h0m1-205h0m0 11h0m0 3h0m0 9h0m0 26h0m0 100h0m1-14h0m0 17h0m0 6h0m0 4h0m0 6h0m0 1h0m0 17h0m1-201h0m0 17h0m0 30h0m0 10h0m0 3h0m0 1h0m0 7h0m0 1h0m0 85h0m0 25h0m0 13h0m1-134h0m0 4h0m0 94h0m0 7h0m0 14h0m1-121h0m0 8h0m0 89h0m0 3h0m0 3h0m0 3h0m0 2h0m0 1h0m0 4h0m0 1h0m0 1h0m0 2h0m0 18h0m0 10h0m0 23h0m1-159h0m0 103h0m0 6h0m0 27h0m1-218h0m0 1h0m0 37h0m0 25h0m0 6h0m0 3h0m0 1h0m0 0h0m0 99h0m0 11h0m0 35h0m0 7h0m0 12h0m0 4h0m1-197h0m0 3h0m0 1h0m0 26h0m0 1h0m0 4h0m0 96h0m0 0h0m0 7h0m0 3h0m0 2h0m0 4h0m0 12h0m0 3h0m0 2h0m0 17h0m1-214h0m0 34h0m0 33h0m0 2h0m0 98h0m0 10h0m0 3h0m0 1h0m0 5h0m0 5h0m0 2h0m0 4h0m1-153h0m0 2h0m0 3h0m0 1h0m0 0h0m0 1h0m0 5h0m0 2h0m0 7h0m0 0h0m0 123h0m0 1h0m0 14h0m1-186h0m0 8h0m0 21h0m0 9h0m0 12h0m0 109h0m0 9h0m0 36h0m1-189h0m0 6h0m0 5h0m0 14h0m0 122h0m0 0h0m0 3h0m0 13h0m1-175h0m0 13h0m0 13h0m0 6h0m0 124h0m0 5h0m0 5h0m0 1h0m0 1h0m0 1h0m0 28h0m1-190h0m0 1h0m0 3h0m0 17h0m0 9h0m0 6h0m0 113h0m0 0h0m0 2h0m0 14h0m1-164h0m0 21h0m0 13h0m0 114h0m0 2h0m0 2h0m0 1h0m0 4h0m0 6h0m0 17h0m1-206h0m0 18h0m0 7h0m0 10h0m0 2h0m0 2h0m0 5h0m0 131h0m0 3h0m0 59h0m1-192h0m0 7h0m0 147h0m0 8h0m1-194h0m0 8h0m0 2h0m0 24h0m0 137h0m0 4h0m0 28h0m1-223h0m0 34h0m0 16h0m0 1h0m0 4h0m0 1h0m0 5h0m0 145h0m1-191h0m0 16h0m0 25h0m0 138h0m1-185h0m0 1h0m0 15h0m0 11h0m0 5h0m0 10h0m0 4h0m0 131h0m0 1h0m0 9h0m0 2h0m1-177h0m0 7h0m0 18h0m0 3h0m0 7h0m0 2h0m0 1h0m0 136h0m1-182h0m0 9h0m0 25h0m0 1h0m0 2h0m0 0h0m0 139h0m0 8h0m0 1h0m0 0h0m0 4h0m0 30h0m1-230h0m0 39h0m0 0h0m0 12h0m0 2h0m0 132h0m0 3h0m0 2h0m0 5h0m0 0h0m0 17h0m0 1h0m1-212h0m0 15h0m0 7h0m0 12h0m0 160h0m1-200h0m0 29h0m0 14h0m0 1h0m0 4h0m0 6h0m0 142h0m1-174h0m0 19h0m0 6h0m0 5h0m0 4h0m0 134h0m0 8h0m0 8h0m0 4h0m1-183h0m0 19h0m0 145h0m0 9h0m0 13h0m0 25h0m1-206h0m0 14h0m0 5h0m0 2h0m0 138h0m0 1h0m1-162h0m0 2h0m0 6h0m0 10h0m0 192h0m1-209h0m0 4h0m0 2h0m0 0h0m0 1h0m0 8h0m0 8h0m0 139h0m0 1h0m0 5h0m0 9h0m0 4h0m0 26h0m0 1h0m1-214h0m0 2h0m0 3h0m0 13h0m0 7h0m0 2h0m0 2h0m0 139h0m0 1h0m1-183h0m0 13h0m0 14h0m0 161h0m1-172h0m0 13h0m0 1h0m0 10h0m0 142h0m0 4h0m0 12h0m0 13h0m0 1h0m0 3h0m1-229h0m0 39h0m0 13h0m0 146h0m0 1h0m0 31h0m1-182h0m0 149h0m0 4h0m0 7h0m0 5h0m0 28h0m1-218h0m0 18h0m0 4h0m0 163h0m1-161h0m0 3h0m0 2h0m0 0h0m0 161h0m0 44h0m1-249h0m0 1h0m0 29h0m0 159h0m0 8h0m1-188h0m0 22h0m0 5h0m0 2h0m0 3h0m0 149h0m0 3h0m1-202h0m0 1h0m0 45h0m0 3h0m0 4h0m0 147h0m0 5h0m1-179h0m0 6h0m0 4h0m0 170h0m0 0h0m0 8h0m0 1h0m0 18h0m1-195h0m0 7h0m0 1h0m0 155h0m0 20h0m1-191h0m0 2h0m0 14h0m0 160h0m0 5h0m0 6h0m0 5h0m0 2h0m1-204h0m0 17h0m0 170h0m0 11h0m0 25h0m1-205h0m0 4h0m0 162h0m0 7h0m0 17h0m1-192h0m0 6h0m0 5h0m0 163h0m0 14h0m1-197h0m0 1h0m0 4h0m0 5h0m0 4h0m0 170h0m0 10h0m0 24h0m1-206h0m0 4h0m0 1h0m0 1h0m0 2h0m0 167h0m0 12h0m0 5h0m1-230h0m0 32h0m0 1h0m0 4h0m0 1h0m0 0h0m0 173h0m0 1h0m0 3h0m1-203h0m0 22h0m0 4h0m0 0h0m0 5h0m0 165h0m0 16h0m0 1h0m0 16h0m1-234h0m0 13h0m0 6h0m0 3h0m0 1h0m0 3h0m0 5h0m0 1h0m0 184h0m1-7h0m0 10h0m1-197h0m0 4h0m0 0h0m0 183h0m0 1h0m0 1h0m0 1h0m0 9h0m1-206h0m0 5h0m0 205h0m1-191h0m0 1h0m0 168h0m0 1h0m0 3h0m0 1h0m0 14h0m0 13h0m1-213h0m0 11h0m0 175h0m0 15h0m0 1h0m0 26h0m1-234h0m0 14h0m0 0h0m0 173h0m0 2h0m0 20h0m1-217h0m0 11h0m0 0h0m0 11h0m0 202h0m1-238h0m0 17h0m0 8h0m0 13h0m0 178h0m0 1h0m1-187h0m0 6h0m0 199h0m0 21h0m2-237h0m0 14h0m0 5h0m0 0h0m0 3h0m0 172h0m0 42h0m1-218h0m0 3h0m0 168h0m0 10h0m1-176h0m0 166h0m0 3h0m0 3h0m0 18h0m1-204h0m0 12h0m0 2h0m0 165h0m0 8h0m0 11h0m0 12h0m1-213h0m0 3h0m0 11h0m0 168h0m0 1h0m0 1h0m0 14h0m1-190h0m0 180h0m0 11h0m0 4h0m1-213h0m0 18h0m0 6h0m0 166h0m0 16h0m1-215h0m0 19h0m0 0h0m0 7h0m0 1h0m0 6h0m0 174h0m0 1h0m0 21h0m0 3h0m0 8h0m1-242h0m0 31h0m0 7h0m0 162h0m0 2h0m1-189h0m0 15h0m0 2h0m0 3h0m0 174h0m0 4h0m1-186h0m0 10h0m0 165h0m0 1h0m0 4h0m0 5h0m0 5h0m0 18h0m1-225h0m0 18h0m0 1h0m0 7h0m0 173h0m0 8h0m1-205h0m0 23h0m0 0h0m0 1h0m0 172h0m0 14h0m0 33h0m1-238h0m0 11h0m0 1h0m0 9h0m0 169h0m0 8h0m0 0h0m0 14h0m1-202h0m0 8h0m0 2h0m0 165h0m0 0h0m0 1h0m0 12h0m1-220h0m0 39h0m0 167h0m0 2h0m0 8h0m0 2h0m0 6h0m0 2h0m0 3h0m0 20h0m1-212h0m0 4h0m0 169h0m0 3h0m1-185h0m0 3h0m0 3h0m0 3h0m0 171h0m0 32h0m0 3h0m1-238h0m0 201h0m0 6h0m0 8h0m0 12h0m0 7h0m1-204h0m0 6h0m0 167h0m0 0h0m0 3h0m0 2h0m0 24h0m0 12h0m1-226h0m0 4h0m0 1h0m0 11h0m0 0h0m0 3h0m0 165h0m0 5h0m0 13h0m0 1h0m0 14h0m1-202h0m0 5h0m0 1h0m0 179h0m0 10h0m0 17h0m1-211h0m0 1h0m0 168h0m0 12h0m0 22h0m1-225h0m0 19h0m0 2h0m0 7h0m0 163h0m0 11h0m0 23h0m1-206h0m0 1h0m0 8h0m0 165h0m0 2h0m0 4h0m0 1h0m0 7h0m1-207h0m0 14h0m0 3h0m0 178h0m0 5h0m0 4h0m1-189h0m0 177h0m0 2h0m0 1h0m0 2h0m1-187h0m0 0h0m0 2h0m0 2h0m0 12h0m0 176h0m0 2h0m1-191h0m0 10h0m0 3h0m0 0h0m0 4h0m0 186h0m0 0h0m1-213h0m0 11h0m0 14h0m0 171h0m0 9h0m1-193h0m0 6h0m0 4h0m0 7h0m0 161h0m0 6h0m0 6h0m1-186h0m0 5h0m0 2h0m0 5h0m0 1h0m0 161h0m0 20h0m0 23h0m1-206h0m0 168h0m0 13h0m0 4h0m0 2h0m0 10h0m1-220h0m0 17h0m0 5h0m0 169h0m0 15h0m1-20h0m0 9h0m1-194h0m0 1h0m0 10h0m0 178h0m0 5h0m1-187h0m0 7h0m0 181h0m0 3h0m0 36h0m0 1h0m1-254h0m0 23h0m0 14h0m0 165h0m0 6h0m1-198h0m0 12h0m0 15h0m0 175h0m1-216h0m0 15h0m0 6h0m0 4h0m0 8h0m0 5h0m0 8h0m0 179h0m1-188h0m0 0h0m0 168h0m0 18h0m0 1h0m1-214h0m0 17h0m0 8h0m0 6h0m0 163h0m0 1h0m0 1h0m0 7h0m1-210h0m0 34h0m0 8h0m0 159h0m0 1h0m0 12h0m0 6h0m0 13h0m1-195h0m0 162h0m0 14h0m0 8h0m0 3h0m0 3h0m1-228h0m0 28h0m0 8h0m1-2h0m0 172h0m0 15h0m0 3h0m0 14h0m1-229h0m0 13h0m0 14h0m0 162h0m0 2h0m1-190h0m0 4h0m0 10h0m0 8h0m0 7h0m0 4h0m0 155h0m0 4h0m0 3h0m0 4h0m1-169h0m0 158h0m0 1h0m0 3h0m0 19h0m0 1h0m1-187h0m0 161h0m0 2h0m0 2h0m0 23h0m0 19h0m1-223h0m0 191h0m1-186h0m0 20h0m0 165h0m1-198h0m0 5h0m0 13h0m0 2h0m0 166h0m1-157h0m0 153h0m0 4h0m0 0h0m0 1h0m0 10h0m0 16h0m0 6h0m1-222h0m0 32h0m0 152h0m0 6h0m0 2h0m0 40h0m1-216h0m0 4h0m0 10h0m0 1h0m0 151h0m0 1h0m0 1h0m0 3h0m0 5h0m0 13h0m0 12h0m0 1h0m1-212h0m0 7h0m0 1h0m0 12h0m0 163h0m0 22h0m0 28h0m1-245h0m0 2h0m0 32h0m0 3h0m0 1h0m0 4h0m0 145h0m0 4h0m0 17h0m0 5h0m0 2h0m0 29h0m1-212h0m0 7h0m0 155h0m0 2h0m0 20h0m1-184h0m0 164h0m0 4h0m0 2h0m0 3h0m0 5h0m0 19h0m0 3h0m1-216h0m0 5h0m0 12h0m0 4h0m0 150h0m0 4h0m0 23h0m1-207h0m0 5h0m0 7h0m0 28h0m0 0h0m0 145h0m1-191h0m0 20h0m0 10h0m0 156h0m0 19h0m0 2h0m1-180h0m0 17h0m0 146h0m0 15h0m0 3h0m0 8h0m1-204h0m0 7h0m0 0h0m0 20h0m0 157h0m0 4h0m1-181h0m0 14h0m0 6h0m0 0h0m0 2h0m0 146h0m0 12h0m1-165h0m0 5h0m0 9h0m0 138h0m0 11h0m0 11h0m0 1h0m0 17h0m1-198h0m0 158h0m0 1h0m0 7h0m0 4h0m0 5h0m0 0h0m0 12h0m0 23h0m1-200h0m0 149h0m0 17h0m0 4h0m0 2h0m0 2h0m0 22h0m0 3h0m1-218h0m0 13h0m0 16h0m0 137h0m0 10h0m0 23h0m0 11h0m1-195h0m0 4h0m0 2h0m0 6h0m0 1h0m0 154h0m0 7h0m0 1h0m0 2h0m1-195h0m0 7h0m0 168h0m0 10h0m0 8h0m0 22h0m1-212h0m0 4h0m0 183h0m0 0h0m0 6h0m1-193h0m0 26h0m0 2h0m0 3h0m0 138h0m0 5h0m0 3h0m0 2h0m0 5h0m0 17h0m1-210h0m0 15h0m0 2h0m0 19h0m0 2h0m0 144h0m0 21h0m1-220h0m0 11h0m0 9h0m0 20h0m0 151h0m0 4h0m0 1h0m0 0h0m0 7h0m0 14h0m0 1h0m1-188h0m0 12h0m1 151h0m0 1h0m0 2h0m0 2h0m0 1h0m0 4h0m0 7h0m0 2h0m0 26h0m1-231h0m0 18h0m0 16h0m0 1h0m0 3h0m0 8h0m0 1h0m0 136h0m0 3h0m0 10h0m0 3h0m0 11h0m0 35h0m1-211h0m0 19h0m0 133h0m0 17h0m1-199h0m0 28h0m0 154h0m0 9h0m1-153h0m0 9h0m0 1h0m0 130h0m0 4h0m0 1h0m0 12h0m0 3h0m0 1h0m0 1h0m1-179h0m0 3h0m0 5h0m0 2h0m0 9h0m0 2h0m0 3h0m0 1h0m0 0h0m0 4h0m0 131h0m0 3h0m0 7h0m0 41h0m1-229h0m0 47h0m0 133h0m0 8h0m1-177h0m0 33h0m0 5h0m0 0h0m0 140h0m0 31h0m1-195h0m0 17h0m0 136h0m0 1h0m0 10h0m0 3h0m0 35h0m1-229h0m0 43h0m0 2h0m0 1h0m0 166h0m1-187h0m0 18h0m0 3h0m0 9h0m0 124h0m0 3h0m1-152h0m0 13h0m0 146h0m0 16h0m1-194h0m0 7h0m0 11h0m0 24h0m0 2h0m0 124h0m0 7h0m0 9h0m1-156h0m0 158h0m0 18h0m1-213h0m0 9h0m0 9h0m0 25h0m0 7h0m0 3h0m0 4h0m0 120h0m0 3h0m0 4h0m0 10h0m1-152h0m0 138h0m1-169h0m0 18h0m0 24h0m0 2h0m0 0h0m0 120h0m0 15h0m0 9h0m1-167h0m0 16h0m0 5h0m0 3h0m0 121h0m0 31h0m1-180h0m0 1h0m0 1h0m0 150h0m0 0h0m0 9h0m1-185h0m0 41h0m0 6h0m0 128h0m0 3h0m1-166h0m0 14h0m0 13h0m0 3h0m0 4h0m0 1h0m0 1h0m0 3h0m0 1h0m0 1h0m0 109h0m0 6h0m0 1h0m0 23h0m1-168h0m0 36h0m0 102h0m0 1h0m0 1h0m0 0h0m0 11h0m0 1h0m0 28h0m1-212h0m0 23h0m0 34h0m0 4h0m0 8h0m0 101h0m0 8h0m0 14h0m1-134h0m0 2h0m0 104h0m0 15h0m0 1h0m1-131h0m0 2h0m0 4h0m0 7h0m0 115h0m0 4h0m1-130h0m0 12h0m0 1h0m0 3h0m0 99h0m0 30h0m0 48h0m1-221h0m0 40h0m0 107h0m0 17h0m0 1h0m0 12h0m0 5h0m0 9h0m0 4h0m0 2h0m1-188h0m0 25h0m0 1h0m0 10h0m0 92h0m0 8h0m0 2h0m0 0h0m0 6h0m0 4h0m0 11h0m1-143h0m0 13h0m0 2h0m0 6h0m0 109h0m0 11h0m0 34h0m1-164h0m0 107h0m0 7h0m0 36h0m0 31h0m1-164h0m0 82h0m0 1h0m0 3h0m0 4h0m0 0h0m0 12h0m0 19h0m1-164h0m0 18h0m0 4h0m0 4h0m0 9h0m0 9h0m0 94h0m0 6h0m0 58h0m1-204h0m0 9h0m0 20h0m0 7h0m0 10h0m0 92h0m0 17h0m0 8h0m0 11h0m0 4h0m1-184h0m0 9h0m0 22h0m0 2h0m0 15h0m0 5h0m0 2h0m0 74h0m0 1h0m0 2h0m0 32h0m0 14h0m1-169h0m0 3h0m0 27h0m0 13h0m0 105h0m0 4h0m0 6h0m0 4h0m0 3h0m1-209h0m0 28h0m0 9h0m0 20h0m0 4h0m0 28h0m0 3h0m0 70h0m0 3h0m0 2h0m0 10h0m0 2h0m0 13h0m0 8h0m0 2h0m1-161h0m0 36h0m0 8h0m0 2h0m0 72h0m0 3h0m0 1h0m0 4h0m0 22h0m0 9h0m0 5h0m0 31h0m1-193h0m0 3h0m0 28h0m0 2h0m0 4h0m0 11h0m0 1h0m0 4h0m0 65h0m0 2h0m0 4h0m0 4h0m0 9h0m0 11h0m0 12h0m0 13h0m1-202h0m0 16h0m0 56h0m0 2h0m0 0h0m0 9h0m0 81h0m0 3h0m0 1h0m0 6h0m0 2h0m0 55h0m1-191h0m0 38h0m0 3h0m0 5h0m0 43h0m0 7h0m1-85h0m0 21h0m0 2h0m0 12h0m0 3h0m0 32h0m0 29h0m0 7h0m0 7h0m0 4h0m0 12h0m0 16h0m1-151h0m0 10h0m0 8h0m0 7h0m0 3h0m0 2h0m0 10h0m0 39h0m0 4h0m0 6h0m0 11h0m0 8h0m0 2h0m0 33h0m1-180h0m0 51h0m0 10h0m0 5h0m0 11h0m0 7h0m0 26h0m0 0h0m0 8h0m0 3h0m0 17h0m0 3h0m0 18h0m0 11h0m0 11h0m0 6h0m1-192h0m0 25h0m0 49h0m0 42h0m0 2h0m0 19h0m0 3h0m0 9h0m0 1h0m0 20h0m0 38h0m1-143h0m0 20h0m0 23h0m0 0h0m0 1h0m0 6h0m0 8h0m0 4h0m0 4h0m0 50h0m0 29h0m1-209h0m0 35h0m0 4h0m0 29h0m0 11h0m0 1h0m0 11h0m0 5h0m0 5h0m0 1h0m0 1h0m0 5h0m0 9h0m0 16h0m0 2h0m0 18h0m0 0h0m0 11h0m0 12h0m1-152h0m0 49h0m0 11h0m0 16h0m0 8h0m0 1h0m0 11h0m0 37h0m0 6h0m0 9h0m0 5h0m0 17h0m0 21h0m1-171h0m0 27h0m0 9h0m0 17h0m0 17h0m0 7h0m0 7h0m0 5h0m0 1h0m0 0h0m0 3h0m0 10h0m0 25h0m0 2h0m0 2h0m0 13h0m0 11h0m1-204h0m0 54h0m0 19h0m0 6h0m0 3h0m0 24h0m0 3h0m0 4h0m0 9h0m0 4h0m0 8h0m0 5h0m0 3h0m0 2h0m0 43h0m0 3h0m1-131h0m0 7h0m0 3h0m0 19h0m0 16h0m0 4h0m0 4h0m0 15h0m0 10h0m0 8h0m0 1h0m0 9h0m0 0h0m0 3h0m0 8h0m0 31h0m1-171h0m0 41h0m0 18h0m0 6h0m0 1h0m0 15h0m0 8h0m0 14h0m0 5h0m0 4h0m0 7h0m0 40h0m1-91h0m0 5h0m0 20h0m0 7h0m0 10h0m0 4h0m0 4h0m0 4h0m0 16h0m1-141h0m0 5h0m0 11h0m0 54h0m0 4h0m0 18h0m0 8h0m0 12h0m0 5h0m0 16h0m1-15h0m0 54h0m0 5h0m0 2h0m1-176h0m0 28h0m0 22h0m0 21h0m0 8h0m0 15h0m0 4h0m0 5h0m0 6h0m0 12h0m0 6h0m0 2h0m0 32h0m1-164h0m0 17h0m0 32h0m0 65h0m0 5h0m0 33h0m1-142h0m0 38h0m0 1h0m0 8h0m0 14h0m0 5h0m0 3h0m0 22h0m0 6h0m0 7h0m0 29h0m1-60h0m0 38h0m0 13h0m0 17h0m1-115h0m0 43h0m0 5h0m0 2h0m0 5h0m0 25h0m0 27h0m0 18h0m1-131h0m0 1h0m0 60h0m0 24h0m0 6h0m0 21h0m1-110h0m0 16h0m0 4h0m0 4h0m0 5h0m0 10h0m0 14h0m0 22h0m0 4h0m0 18h0m0 8h0m0 27h0m0 19h0m1-105h0m0 13h0m0 4h0m0 10h0m0 27h0m0 5h0m0 18h0m0 25h0m1-113h0m0 14h0m0 3h0m0 8h0m0 14h0m0 31h0m0 1h0m1-91h0m0 15h0m0 23h0m0 4h0m0 14h0m0 14h0m0 12h0m0 14h0m0 6h0m0 5h0m0 15h0m0 10h0m0 0h0m1-112h0m0 32h0m1-49h0m0 32h0m0 30h0m0 18h0m0 52h0m1-120h0m0 41h0m0 43h0m0 34h0m0 4h0m1-196h0m0 93h0m0 12h0m0 9h0m0 3h0m0 10h0m1-50h0m0 5h0m0 6h0m0 7h0m0 5h0m0 8h0m1-41h0m0 25h0m0 8h0m0 34h0m0 10h0m1-129h0m0 12h0m0 46h0m0 62h0m0 9h0m1-40h0m0 6h0m0 32h0m0 37h0m1-96h0m0 5h0m0 16h0m0 30h0m0 7h0m0 2h0m1-61h0m0 70h0m1-91h0m0 4h0m0 10h0m0 10h0m0 46h0m0 86h0m1-238h0m0 108h0m0 22h0m0 27h0m1-86h0m0 20h0m0 4h0m0 9h0m0 46h0m0 8h0m0 10h0m0 7h0m1-94h0m0 25h0m0 9h0m0 6h0m0 42h0m0 16h0m1-35h0m1 2h0m0 19h0m1-87h0m0 58h0m0 66h0m1-129h0m0 45h0m0 47h0m0 5h0m1-120h0m0 64h0m0 16h0m0 82h0m1-164h0m0 107h0m0 14h0m0 25h0m1-117h0m0 31h0m0 14h0m0 43h0m1-42h0m0 14h0m2-94h0m0 48h0m0 24h0m0 5h0m0 71h0m0 0h0m1-67h0m0 20h0m1-4h0m1-11h0m1 23h0m1-68h0m0 76h0m1-118h0m0 30h0m1 39h0m1 33h0m1-8h0m0 15h0m1-75h0m1 43h0m0 11h0m1 51h0m1-95h0m0 10h0m0 6h0"/>
<path fill="#fff" fill-rule="evenodd" d="M777.4 940L782.4 944.2L788.9 943.1L795.4 941.7L801.9 943.3L808.4 941.8L810.8 940L815 936.4L821.5 935.9L828 933.9L834.5 933.9L835 933.5L836.1 927L841 922.8L843.1 920.5L844.8 914L845 907.5L847.5 901L847.5 901L848.2 894.5L847.5 893.5L844.2 888L841 883.7L838.2 881.5L834.5 878.4L831.3 875L828 870.7L823.4 868.5L821.5 867.7L815 865.5L808.4 863.5L801.9 864.1L799 862L795.4 859.6L791.3 862L788.9 863.3L784.4 862L782.4 860.9L781.4 862L775.9 867.2L773 868.5L769.4 869.9L765.2 875L762.9 877L759.2 881.5L756.4 884.7L752 888L749.9 892.7L743.4 892.7L743 894.5L743.4 901L749.9 901L749.9 901L749.9 901L743.4 901L742.4 907.5L743.4 911.8L749.9 911.8L751.9 914L753 920.5L756.4 923L760.3 927L762.9 933.5L762.9 933.5L769.4 936.7L775.9 938.6L777.4 940Z"/>
<g transform="translate(746.65 839.2) scale(6.5050)" shape-rendering="crispEdges">
<path fill="#fafafa" d="M0 12h1v1h-1zM0 11h1v1h-1zM0 9h1v1h-1zM0 7h1v1h-1zM0 6h1v1h-1zM1 14h1v1h-1zM2 15h1v1h-1zM2 14h1v1h-1zM2 5h1v1h-1zM2 4h1v1h-1zM3 4h1v1h-1zM4 15h1v1h-1zM5 16h1v1h-1zM6 3h1v1h-1zM8 16h1v1h-1zM8 3h1v1h-1zM9 3h1v1h-1zM10 15h1v1h-1zM12 14h1v1h-1zM12 4h1v1h-1zM13 5h1v1h-1zM14 6h1v1h-1zM15 11h1v1h-1zM15 10h1v1h-1zM15 9h1v1h-1z"/>
<path fill="#f5f5f5" d="M0 10h1v1h-1zM0 8h1v1h-1zM1 12h1v1h-1zM1 11h1v1h-1zM1 8h1v1h-1zM2 13h1v1h-1zM2 12h1v1h-1zM3 14h1v1h-1zM4 14h1v1h-1zM4 4h1v1h-1zM5 15h1v1h-1zM5 4h1v1h-1zM5 3h1v1h-1zM7 15h1v1h-1zM7 3h1v1h-1zM8 15h1v1h-1zM9 15h1v1h-1zM10 14h1v1h-1zM11 14h1v1h-1zM11 4h1v1h-1zM12 5h1v1h-1zM13 14h1v1h-1zM13 13h1v1h-1zM13 12h1v1h-1zM13 6h1v1h-1zM14 12h1v1h-1zM15 8h1v1h-1z"/>
<path fill="#f0f0f0" d="M1 7h1v1h-1zM2 6h1v1h-1zM3 5h1v1h-1zM4 5h1v1h-1zM6 15h1v1h-1zM7 4h1v1h-1zM8 4h1v1h-1zM10 4h1v1h-1zM13 7h1v1h-1zM14 11h1v1h-1zM14 10h1v1h-1zM14 9h1v1h-1zM14 8h1v1h-1zM14 7h1v1h-1z"/>
<path fill="#ebebeb" d="M1 10h1v1h-1zM2 10h1v1h-1zM2 7h1v1h-1zM5 14h1v1h-1zM6 14h1v1h-1zM6 4h1v1h-1zM9 4h1v1h-1zM11 13h1v1h-1zM12 13h1v1h-1z"/>
<path fill="#e6e6e6" d="M2 8h1v1h-1zM3 6h1v1h-1zM5 5h1v1h-1zM7 14h1v1h-1zM9 14h1v1h-1zM10 13h1v1h-1zM12 12h1v1h-1zM13 11h1v1h-1zM13 9h1v1h-1z"/>
<path fill="#e1e1e1" d="M1 9h1v1h-1zM2 11h1v1h-1zM2 9h1v1h-1zM3 13h1v1h-1zM5 13h1v1h-1zM6 5h1v1h-1zM11 5h1v1h-1zM12 11h1v1h-1zM12 6h1v1h-1zM13 8h1v1h-1z"/>
<path fill="#dcdcdc" d="M4 13h1v1h-1zM7 5h1v1h-1zM8 14h1v1h-1zM8 5h1v1h-1zM9 13h1v1h-1zM9 5h1v1h-1zM10 6h1v1h-1zM10 5h1v1h-1zM12 7h1v1h-1z"/>
<path fill="#d7d7d7" d="M3 7h1v1h-1zM4 6h1v1h-1zM11 6h1v1h-1zM13 10h1v1h-1z"/>
<path fill="#d2d2d2" d="M3 11h1v1h-1zM5 6h1v1h-1zM12 10h1v1h-1zM12 9h1v1h-1zM12 8h1v1h-1z"/>
<path fill="#c8c8c8" d="M3 12h1v1h-1zM4 12h1v1h-1zM6 6h1v1h-1zM10 12h1v1h-1zM11 12h1v1h-1z"/>
<path fill="#c3c3c3" d="M3 8h1v1h-1zM6 13h1v1h-1z"/>
<path fill="#bebebe" d="M8 13h1v1h-1zM8 6h1v1h-1zM9 6h1v1h-1zM11 11h1v1h-1z"/>
<path fill="#b4b4b4" d="M3 10h1v1h-1zM7 13h1v1h-1zM11 8h1v1h-1zM11 7h1v1h-1z"/>
<path fill="#afafaf" d="M6 12h1v1h-1zM7 6h1v1h-1z"/>
<path fill="#aaaaaa" d="M3 9h1v1h-1zM5 12h1v1h-1zM10 11h1v1h-1zM10 7h1v1h-1z"/>
<path fill="#a5a5a5" d="M4 7h1v1h-1zM7 12h1v1h-1zM9 12h1v1h-1zM11 10h1v1h-1z"/>
<path fill="#a0a0a0" d="M4 11h1v1h-1zM5 7h1v1h-1zM8 12h1v1h-1z"/>
<path fill="#9b9b9b" d="M4 8h1v1h-1z"/>
<path fill="#969696" d="M11 9h1v1h-1z"/>
<path fill="#8c8c8c" d="M7 7h1v1h-1z"/>
<path fill="#878787" d="M5 11h1v1h-1z"/>
<path fill="#7d7d7d" d="M4 10h1v1h-1zM5 10h1v1h-1zM5 8h1v1h-1zM9 7h1v1h-1z"/>
<path fill="#737373" d="M4 9h1v1h-1zM9 11h1v1h-1zM10 10h1v1h-1z"/>
<path fill="#696969" d="M7 8h1v1h-1zM10 8h1v1h-1z"/>
<path fill="#646464" d="M10 9h1v1h-1z"/>
<path fill="#5a5a5a" d="M8 8h1v1h-1z"/>
<path fill="#555555" d="M6 11h1v1h-1z"/>
<path fill="#505050" d="M7 11h1v1h-1zM8 10h1v1h-1zM9 9h1v1h-1z"/>
<path fill="#4b4b4b" d="M6 10h1v1h-1zM8 11h1v1h-1zM9 8h1v1h-1z"/>
<path fill="#464646" d="M8 7h1v1h-1z"/>
<path fill="#3c3c3c" d="M6 8h1v1h-1zM9 10h1v1h-1z"/>
<path fill="#373737" d="M6 9h1v1h-1zM8 9h1v1h-1z"/>
<path fill="#2d2d2d" d="M5 9h1v1h-1zM6 7h1v1h-1z"/>
<path fill="#141414" d="M7 9h1v1h-1z"/>
<path fill="#000000" d="M7 10h1v1h-1z"/>
</g>
<path class="ct" d="M777.4 940L782.4 944.2L788.9 943.1L795.4 941.7L801.9 943.3L808.4 941.8L810.8 940L815 936.4L821.5 935.9L828 933.9L834.5 933.9L835 933.5L836.1 927L841 922.8L843.1 920.5L844.8 914L845 907.5L847.5 901L847.5 901L848.2 894.5L847.5 893.5L844.2 888L841 883.7L838.2 881.5L834.5 878.4L831.3 875L828 870.7L823.4 868.5L821.5 867.7L815 865.5L808.4 863.5L801.9 864.1L799 862L795.4 859.6L791.3 862L788.9 863.3L784.4 862L782.4 860.9L781.4 862L775.9 867.2L773 868.5L769.4 869.9L765.2 875L762.9 877L759.2 881.5L756.4 884.7L752 888L749.9 892.7L743.4 892.7L743 894.5L743.4 901L749.9 901L749.9 901L749.9 901L743.4 901L742.4 907.5L743.4 911.8L749.9 911.8L751.9 914L753 920.5L756.4 923L760.3 927L762.9 933.5L762.9 933.5L769.4 936.7L775.9 938.6ZM797.9 933.5L801.9 935L805.8 933.5L808.4 931.2L814.5 927L815 926.8L821.5 925.2L827.2 920.5L828 917.6L831 914L834.5 912.3L837.5 907.5L834.5 901L834.5 901L834.5 901L835.5 894.5L834.5 893.1L829.9 888L828.2 881.5L828 881.3L821.9 875L821.5 874.7L815 873L808.4 872.1L801.9 872.7L795.4 873.2L788.9 873.2L784.1 875L782.4 875.5L775.9 879.1L770.4 881.5L769.4 882.5L765.2 888L763.1 894.5L762.9 896.7L756.4 900.6L756.1 901L756.4 901.7L762.9 901.9L764 907.5L762.9 913.1L762.6 914L762.9 914.3L766.3 920.5L768.7 927L769.4 927.8L775.9 929L782.4 928.2L788.9 932.2L795.4 932.9ZM792.5 920.5L795.4 922.5L801.9 922.3L808.4 920.7L808.8 920.5L814.7 914L815 913.7L821.5 908.5L822 907.5L823.4 901L821.5 897L820.3 894.5L815 888.4L814.5 888L808.4 883.9L801.9 883L795.4 882.6L788.9 883.2L782.4 887L775.9 887.5L775.4 888L774.2 894.5L769.9 901L771 907.5L775.1 914L775.9 915.1L782.4 920.5L788.9 919.9ZM789.5 907.5L795.4 913L801 907.5L801.9 904.8L805.2 907.5L808.4 908.8L809.7 907.5L808.4 903.7L806.3 901L801.9 897.9L795.4 897.3L790.6 894.5L790.6 888L788.9 887.1L787.6 888L787.9 894.5L782.4 899.1L780.3 901L782.4 902.9L788.9 905.5Z"/>
</g>
<g clip-path="url(#c00)"><path class="hs" d="M63.65 149.7V148.28H70.16V145.56H76.66V140.24H83.16V134.44H89.67V120.6H96.17V103.57H102.68V85.36H109.19V60.52H115.69V44.2H122.19V31.43H128.7V32.26H135.2V43.37H141.71V69.63H148.22V82.17H154.72V104.4H161.22V123.44H167.73V131.37H174.23V141.66H180.74V145.32H187.25V148.28H193.75V149.7"/>
<path class="dq" d="M107.62 149.7V19.6"/>
<path class="dq" d="M128.7 149.7V19.6"/>
<path class="dq" d="M149.91 149.7V19.6"/>
</g>
<g clip-path="url(#c11)"><path class="hs" d="M200.25 286.3V285.47H206.75V283.34H213.26V280.39H219.76V272.11H226.27V264.42H232.78V249.52H239.28V228.23H245.78V208.48H252.29V191.8H258.8V172.4H265.3V168.03H271.81V171.81H278.31V184.94H284.81V208.48H291.32V229.88H297.82V251.29H304.33V264.42H310.83V274.12H317.34V280.62H323.85V284.17H330.35V286.3"/>
<path class="dq" d="M247.09 286.3V156.2"/>
<path class="dq" d="M268.29 286.3V156.2"/>
<path class="dq" d="M289.37 286.3V156.2"/>
</g>
<g clip-path="url(#c22)"><path class="hs" d="M336.85 422.9V417.1H343.35V408.71H349.86V387.65H356.36V364.59H362.87V337.51H369.37V311.61H375.88V305.57H382.38V304.63H388.89V316.69H395.39V330.53H401.9V355.72H408.4V366.84H414.91V385.53H421.41V400.66H427.92V409.65H434.42V413.91H440.93V418.76H447.43V421.01H453.94V422.07H460.44V422.66H466.95V422.9"/>
<path class="dq" d="M365.86 422.9V292.8"/>
<path class="dq" d="M384.99 422.9V292.8"/>
<path class="dq" d="M407.88 422.9V292.8"/>
</g>
<g clip-path="url(#c33)"><path class="hs" d="M473.45 559.5V557.37H479.95V552.88H486.46V546.61H492.96V535.25H499.47V525.56H505.97V502.61H512.48V488.42H518.98V471.51H525.49V458.85H531.99V449.27H538.5V441.23H545V446.08H551.51V450.69H558.01V467.13H564.52V476.12H571.02V499.42H577.53V515.38H584.03V534.54H590.54V543.89H597.04V554.18H603.55V559.5"/>
<path class="dq" d="M516.9 559.5V429.4"/>
<path class="dq" d="M542.4 559.5V429.4"/>
<path class="dq" d="M567.9 559.5V429.4"/>
</g>
<g clip-path="url(#c44)"><path class="hs" d="M610.05 696.1V688.53H616.55V684.98H623.06V677.77H629.56V673.51H636.07V658.96H642.57V647.61H649.08V640.39H655.58V625.37H662.09V611.54H668.59V594.86H675.1V589.65H681.6V586.34H688.11V577.83H694.62V582.44H701.12V586.34H707.62V594.15H714.13V605.98H720.63V624.43H727.14V632.35H733.64V651.51H740.15V696.1"/>
<path class="dq" d="M657.54 696.1V566"/>
<path class="dq" d="M688.89 696.1V566"/>
<path class="dq" d="M716.99 696.1V566"/>
</g>
<g clip-path="url(#c55)"><path class="hs" d="M746.65 832.7V809.87H753.15V799.7H759.66V787.64H766.16V765.28H772.67V745.65H779.17V727.32H785.68V718.33H792.18V714.43H798.69V717.5H805.19V721.64H811.7V736.9H818.2V756.77H824.71V774.51H831.21V793.79H837.72V801.83H844.23V812.48H850.73V823.59H857.24V827.38H863.74V828.8H870.25V831.64H876.75V832.7"/>
<path class="dq" d="M773.92 832.7V702.6"/>
<path class="dq" d="M798 832.7V702.6"/>
<path class="dq" d="M823.02 832.7V702.6"/>
</g>
<g clip-path="url(#c66)"><path class="hs" d="M883.25 969.3V968.24H889.75V965.87H896.26V961.61H902.76V956.41H909.27V942.33H915.77V929.21H922.28V909.45H928.78V888.64H935.29V874.8H941.79V854.81H948.3V851.03H954.8V859.66H961.31V877.28H967.81V899.4H974.32V921.52H980.82V939.85H987.33V950.26H993.83V960.19H1000.34V964.1H1006.84V967.53H1013.35V969.3"/>
<path class="dq" d="M928.39 969.3V839.2"/>
<path class="dq" d="M949.55 969.3V839.2"/>
<path class="dq" d="M970.29 969.3V839.2"/>
</g>
<path class="fr" d="M63.65 19.6h130.1v130.1h-130.1ZM63.65 156.2h130.1v130.1h-130.1ZM200.25 156.2h130.1v130.1h-130.1ZM63.65 292.8h130.1v130.1h-130.1ZM200.25 292.8h130.1v130.1h-130.1ZM336.85 292.8h130.1v130.1h-130.1ZM63.65 429.4h130.1v130.1h-130.1ZM200.25 429.4h130.1v130.1h-130.1ZM336.85 429.4h130.1v130.1h-130.1ZM473.45 429.4h130.1v130.1h-130.1ZM63.65 566h130.1v130.1h-130.1ZM200.25 566h130.1v130.1h-130.1ZM336.85 566h130.1v130.1h-130.1ZM473.45 566h130.1v130.1h-130.1ZM610.05 566h130.1v130.1h-130.1ZM63.65 702.6h130.1v130.1h-130.1ZM200.25 702.6h130.1v130.1h-130.1ZM336.85 702.6h130.1v130.1h-130.1ZM473.45 702.6h130.1v130.1h-130.1ZM610.05 702.6h130.1v130.1h-130.1ZM746.65 702.6h130.1v130.1h-130.1ZM63.65 839.2h130.1v130.1h-130.1ZM200.25 839.2h130.1v130.1h-130.1ZM336.85 839.2h130.1v130.1h-130.1ZM473.45 839.2h130.1v130.1h-130.1ZM610.05 839.2h130.1v130.1h-130.1ZM746.65 839.2h130.1v130.1h-130.1ZM883.25 839.2h130.1v130.1h-130.1Z"/>
<path class="tk" d="M69.56 149.7v2.8M95.85 149.7v2.8M122.13 149.7v2.8M148.41 149.7v2.8M174.69 149.7v2.8M69.56 286.3v2.8M95.85 286.3v2.8M122.13 286.3v2.8M148.41 286.3v2.8M174.69 286.3v2.8M63.65 284.73h-2.8M63.65 258.53h-2.8M63.65 232.34h-2.8M63.65 206.14h-2.8M63.65 179.95h-2.8M201.82 286.3v2.8M228.02 286.3v2.8M254.21 286.3v2.8M280.41 286.3v2.8M306.6 286.3v2.8M69.56 422.9v2.8M95.85 422.9v2.8M122.13 422.9v2.8M148.41 422.9v2.8M174.69 422.9v2.8M63.65 421.74h-2.8M63.65 392.86h-2.8M63.65 363.97h-2.8M63.65 335.09h-2.8M63.65 306.2h-2.8M201.82 422.9v2.8M228.02 422.9v2.8M254.21 422.9v2.8M280.41 422.9v2.8M306.6 422.9v2.8M200.25 421.74h-2.8M200.25 392.86h-2.8M200.25 363.97h-2.8M200.25 335.09h-2.8M200.25 306.2h-2.8M338.01 422.9v2.8M366.89 422.9v2.8M395.78 422.9v2.8M424.66 422.9v2.8M453.55 422.9v2.8M69.56 559.5v2.8M95.85 559.5v2.8M122.13 559.5v2.8M148.41 559.5v2.8M174.69 559.5v2.8M63.65 534.65h-2.8M63.65 500.92h-2.8M63.65 467.18h-2.8M63.65 433.45h-2.8M201.82 559.5v2.8M228.02 559.5v2.8M254.21 559.5v2.8M280.41 559.5v2.8M306.6 559.5v2.8M200.25 534.65h-2.8M200.25 500.92h-2.8M200.25 467.18h-2.8M200.25 433.45h-2.8M338.01 559.5v2.8M366.89 559.5v2.8M395.78 559.5v2.8M424.66 559.5v2.8M453.55 559.5v2.8M336.85 534.65h-2.8M336.85 500.92h-2.8M336.85 467.18h-2.8M336.85 433.45h-2.8M498.3 559.5v2.8M532.03 559.5v2.8M565.77 559.5v2.8M599.5 559.5v2.8M69.56 696.1v2.8M95.85 696.1v2.8M122.13 696.1v2.8M148.41 696.1v2.8M174.69 696.1v2.8M63.65 678.43h-2.8M63.65 652.05h-2.8M63.65 625.68h-2.8M63.65 599.3h-2.8M63.65 572.92h-2.8M201.82 696.1v2.8M228.02 696.1v2.8M254.21 696.1v2.8M280.41 696.1v2.8M306.6 696.1v2.8M200.25 678.43h-2.8M200.25 652.05h-2.8M200.25 625.68h-2.8M200.25 599.3h-2.8M200.25 572.92h-2.8M338.01 696.1v2.8M366.89 696.1v2.8M395.78 696.1v2.8M424.66 696.1v2.8M453.55 696.1v2.8M336.85 678.43h-2.8M336.85 652.05h-2.8M336.85 625.68h-2.8M336.85 599.3h-2.8M336.85 572.92h-2.8M498.3 696.1v2.8M532.03 696.1v2.8M565.77 696.1v2.8M599.5 696.1v2.8M473.45 678.43h-2.8M473.45 652.05h-2.8M473.45 625.68h-2.8M473.45 599.3h-2.8M473.45 572.92h-2.8M627.72 696.1v2.8M654.1 696.1v2.8M680.47 696.1v2.8M706.85 696.1v2.8M733.23 696.1v2.8M69.56 832.7v2.8M95.85 832.7v2.8M122.13 832.7v2.8M148.41 832.7v2.8M174.69 832.7v2.8M63.65 805.66h-2.8M63.65 778.18h-2.8M63.65 750.69h-2.8M63.65 723.21h-2.8M201.82 832.7v2.8M228.02 832.7v2.8M254.21 832.7v2.8M280.41 832.7v2.8M306.6 832.7v2.8M200.25 805.66h-2.8M200.25 778.18h-2.8M200.25 750.69h-2.8M200.25 723.21h-2.8M338.01 832.7v2.8M366.89 832.7v2.8M395.78 832.7v2.8M424.66 832.7v2.8M453.55 832.7v2.8M336.85 805.66h-2.8M336.85 778.18h-2.8M336.85 750.69h-2.8M336.85 723.21h-2.8M498.3 832.7v2.8M532.03 832.7v2.8M565.77 832.7v2.8M599.5 832.7v2.8M473.45 805.66h-2.8M473.45 778.18h-2.8M473.45 750.69h-2.8M473.45 723.21h-2.8M627.72 832.7v2.8M654.1 832.7v2.8M680.47 832.7v2.8M706.85 832.7v2.8M733.23 832.7v2.8M610.05 805.66h-2.8M610.05 778.18h-2.8M610.05 750.69h-2.8M610.05 723.21h-2.8M773.69 832.7v2.8M801.17 832.7v2.8M828.66 832.7v2.8M856.14 832.7v2.8M69.56 969.3v2.8M95.85 969.3v2.8M122.13 969.3v2.8M148.41 969.3v2.8M174.69 969.3v2.8M63.65 937.48h-2.8M63.65 906.28h-2.8M63.65 875.08h-2.8M63.65 843.88h-2.8M201.82 969.3v2.8M228.02 969.3v2.8M254.21 969.3v2.8M280.41 969.3v2.8M306.6 969.3v2.8M200.25 937.48h-2.8M200.25 906.28h-2.8M200.25 875.08h-2.8M200.25 843.88h-2.8M338.01 969.3v2.8M366.89 969.3v2.8M395.78 969.3v2.8M424.66 969.3v2.8M453.55 969.3v2.8M336.85 937.48h-2.8M336.85 906.28h-2.8M336.85 875.08h-2.8M336.85 843.88h-2.8M498.3 969.3v2.8M532.03 969.3v2.8M565.77 969.3v2.8M599.5 969.3v2.8M473.45 937.48h-2.8M473.45 906.28h-2.8M473.45 875.08h-2.8M473.45 843.88h-2.8M627.72 969.3v2.8M654.1 969.3v2.8M680.47 969.3v2.8M706.85 969.3v2.8M733.23 969.3v2.8M610.05 937.48h-2.8M610.05 906.28h-2.8M610.05 875.08h-2.8M610.05 843.88h-2.8M773.69 969.3v2.8M801.17 969.3v2.8M828.66 969.3v2.8M856.14 969.3v2.8M746.65 937.48h-2.8M746.65 906.28h-2.8M746.65 875.08h-2.8M746.65 843.88h-2.8M915.07 969.3v2.8M946.27 969.3v2.8M977.47 969.3v2.8M1008.67 969.3v2.8"/>
<g font-family="'DejaVu Sans', 'Liberation Sans', sans-serif" fill="#000" stroke="#000" stroke-width=".2">
<text transform="translate(69.56 980.90) rotate(-45)" text-anchor="middle" y="2.84" font-size="10.83">2</text>
<text transform="translate(95.85 980.90) rotate(-45)" text-anchor="middle" y="2.84" font-size="10.83">4</text>
<text transform="translate(122.13 980.90) rotate(-45)" text-anchor="middle" y="2.84" font-size="10.83">6</text>
<text transform="translate(148.41 980.90) rotate(-45)" text-anchor="middle" y="2.84" font-size="10.83">8</text>
<text transform="translate(174.69 983.34) rotate(-45)" text-anchor="middle" y="2.84" font-size="10.83">10</text>
<text transform="translate(201.82 987.77) rotate(-45)" text-anchor="middle" y="2.84" font-size="10.83">−4.5</text>
<text transform="translate(228.02 987.77) rotate(-45)" text-anchor="middle" y="2.84" font-size="10.83">−3.0</text>
<text transform="translate(254.21 987.77) rotate(-45)" text-anchor="middle" y="2.84" font-size="10.83">−1.5</text>
<text transform="translate(280.41 984.56) rotate(-45)" text-anchor="middle" y="2.84" font-size="10.83">0.0</text>
<text transform="translate(306.60 984.56) rotate(-45)" text-anchor="middle" y="2.84" font-size="10.83">1.5</text>
<text transform="translate(338.01 986.99) rotate(-45)" text-anchor="middle" y="2.84" font-size="10.83">22.5</text>
<text transform="translate(366.89 986.99) rotate(-45)" text-anchor="middle" y="2.84" font-size="10.83">25.0</text>
<text transform="translate(395.78 986.99) rotate(-45)" text-anchor="middle" y="2.84" font-size="10.83">27.5</text>
<text transform="translate(424.66 986.99) rotate(-45)" text-anchor="middle" y="2.84" font-size="10.83">30.0</text>
<text transform="translate(453.55 986.99) rotate(-45)" text-anchor="middle" y="2.84" font-size="10.83">32.5</text>
<text transform="translate(498.30 986.99) rotate(-45)" text-anchor="middle" y="2.84" font-size="10.83">0.75</text>
<text transform="translate(532.03 986.99) rotate(-45)" text-anchor="middle" y="2.84" font-size="10.83">0.90</text>
<text transform="translate(565.77 986.99) rotate(-45)" text-anchor="middle" y="2.84" font-size="10.83">1.05</text>
<text transform="translate(599.50 986.99) rotate(-45)" text-anchor="middle" y="2.84" font-size="10.83">1.20</text>
<text transform="translate(627.72 991.87) rotate(-45)" text-anchor="middle" y="2.84" font-size="10.83">0.1688</text>
<text transform="translate(654.10 991.87) rotate(-45)" text-anchor="middle" y="2.84" font-size="10.83">0.1696</text>
<text transform="translate(680.47 991.87) rotate(-45)" text-anchor="middle" y="2.84" font-size="10.83">0.1704</text>
<text transform="translate(706.85 991.87) rotate(-45)" text-anchor="middle" y="2.84" font-size="10.83">0.1712</text>
<text transform="translate(733.23 991.87) rotate(-45)" text-anchor="middle" y="2.84" font-size="10.83">0.1720</text>
<text transform="translate(773.69 986.55) rotate(-45)" text-anchor="middle" y="2.84" font-size="10.83">−85</text>
<text transform="translate(801.17 986.55) rotate(-45)" text-anchor="middle" y="2.84" font-size="10.83">−80</text>
<text transform="translate(828.66 986.55) rotate(-45)" text-anchor="middle" y="2.84" font-size="10.83">−75</text>
<text transform="translate(856.14 986.55) rotate(-45)" text-anchor="middle" y="2.84" font-size="10.83">−70</text>
<text transform="translate(915.07 986.99) rotate(-45)" text-anchor="middle" y="2.84" font-size="10.83">0.25</text>
<text transform="translate(946.27 986.99) rotate(-45)" text-anchor="middle" y="2.84" font-size="10.83">0.30</text>
<text transform="translate(977.47 986.99) rotate(-45)" text-anchor="middle" y="2.84" font-size="10.83">0.35</text>
<text transform="translate(1008.67 986.99) rotate(-45)" text-anchor="middle" y="2.84" font-size="10.83">0.40</text>
<text transform="translate(45.18 293.73) rotate(-45)" text-anchor="middle" y="2.84" font-size="10.83">−4.5</text>
<text transform="translate(45.18 267.53) rotate(-45)" text-anchor="middle" y="2.84" font-size="10.83">−3.0</text>
<text transform="translate(45.18 241.34) rotate(-45)" text-anchor="middle" y="2.84" font-size="10.83">−1.5</text>
<text transform="translate(48.39 211.93) rotate(-45)" text-anchor="middle" y="2.84" font-size="10.83">0.0</text>
<text transform="translate(48.39 185.74) rotate(-45)" text-anchor="middle" y="2.84" font-size="10.83">1.5</text>
<text transform="translate(45.96 429.97) rotate(-45)" text-anchor="middle" y="2.84" font-size="10.83">22.5</text>
<text transform="translate(45.96 401.09) rotate(-45)" text-anchor="middle" y="2.84" font-size="10.83">25.0</text>
<text transform="translate(45.96 372.20) rotate(-45)" text-anchor="middle" y="2.84" font-size="10.83">27.5</text>
<text transform="translate(45.96 343.31) rotate(-45)" text-anchor="middle" y="2.84" font-size="10.83">30.0</text>
<text transform="translate(45.96 314.43) rotate(-45)" text-anchor="middle" y="2.84" font-size="10.83">32.5</text>
<text transform="translate(45.96 542.88) rotate(-45)" text-anchor="middle" y="2.84" font-size="10.83">0.75</text>
<text transform="translate(45.96 509.14) rotate(-45)" text-anchor="middle" y="2.84" font-size="10.83">0.90</text>
<text transform="translate(45.96 475.41) rotate(-45)" text-anchor="middle" y="2.84" font-size="10.83">1.05</text>
<text transform="translate(45.96 441.67) rotate(-45)" text-anchor="middle" y="2.84" font-size="10.83">1.20</text>
<text transform="translate(41.08 691.53) rotate(-45)" text-anchor="middle" y="2.84" font-size="10.83">0.1688</text>
<text transform="translate(41.08 665.15) rotate(-45)" text-anchor="middle" y="2.84" font-size="10.83">0.1696</text>
<text transform="translate(41.08 638.78) rotate(-45)" text-anchor="middle" y="2.84" font-size="10.83">0.1704</text>
<text transform="translate(41.08 612.40) rotate(-45)" text-anchor="middle" y="2.84" font-size="10.83">0.1712</text>
<text transform="translate(41.08 586.02) rotate(-45)" text-anchor="middle" y="2.84" font-size="10.83">0.1720</text>
<text transform="translate(46.40 813.44) rotate(-45)" text-anchor="middle" y="2.84" font-size="10.83">−85</text>
<text transform="translate(46.40 785.96) rotate(-45)" text-anchor="middle" y="2.84" font-size="10.83">−80</text>
<text transform="translate(46.40 758.47) rotate(-45)" text-anchor="middle" y="2.84" font-size="10.83">−75</text>
<text transform="translate(46.40 730.99) rotate(-45)" text-anchor="middle" y="2.84" font-size="10.83">−70</text>
<text transform="translate(45.96 945.70) rotate(-45)" text-anchor="middle" y="2.84" font-size="10.83">0.25</text>
<text transform="translate(45.96 914.50) rotate(-45)" text-anchor="middle" y="2.84" font-size="10.83">0.30</text>
<text transform="translate(45.96 883.31) rotate(-45)" text-anchor="middle" y="2.84" font-size="10.83">0.35</text>
<text transform="translate(45.96 852.11) rotate(-45)" text-anchor="middle" y="2.84" font-size="10.83">0.40</text>
<text x="96.38" y="1021.80" font-size="18.06">ΔRA [&quot;]</text>
<text x="226.10" y="1021.80" font-size="18.06">ΔDEC [&quot;]</text>
<text x="377.04" y="1021.80" font-size="18.06" font-style="italic">R</text>
<text x="389.59" y="1024.60" font-size="12.64" font-style="italic">e</text>
<text x="398.63" y="1021.80" font-size="18.06" xml:space="preserve"> [&quot;]</text>
<text x="532.78" y="1021.80" font-size="18.06">n</text>
<text x="670.22" y="1021.80" font-size="18.06" font-style="italic">ε</text>
<text x="790.72" y="1021.80" font-size="18.06">Θ [</text>
<text x="817.72" y="1015.30" font-size="12.64">∘</text>
<text x="825.63" y="1021.80" font-size="18.06">]</text>
<text x="936.47" y="1021.80" font-size="18.06" font-style="italic">f</text>
<text x="942.82" y="1024.60" font-size="12.64" font-style="italic">bg</text>
<g transform="translate(21.00 221.25) rotate(-90)">
<text x="-39.20" y="0.00" font-size="18.06">ΔDEC [&quot;]</text>
</g>
<g transform="translate(21.00 357.85) rotate(-90)">
<text x="-24.86" y="0.00" font-size="18.06" font-style="italic">R</text>
<text x="-12.31" y="2.80" font-size="12.64" font-style="italic">e</text>
<text x="-3.27" y="0.00" font-size="18.06" xml:space="preserve"> [&quot;]</text>
</g>
<g transform="translate(21.00 494.45) rotate(-90)">
<text x="-5.72" y="0.00" font-size="18.06">n</text>
</g>
<g transform="translate(21.00 631.05) rotate(-90)">
<text x="-4.88" y="0.00" font-size="18.06" font-style="italic">ε</text>
</g>
<g transform="translate(21.00 767.65) rotate(-90)">
<text x="-20.98" y="0.00" font-size="18.06">Θ [</text>
<text x="6.02" y="-6.50" font-size="12.64">∘</text>
<text x="13.93" y="0.00" font-size="18.06">]</text>
</g>
<g transform="translate(18.60 904.25) rotate(-90)">
<text x="-11.83" y="0.00" font-size="18.06" font-style="italic">f</text>
<text x="-5.48" y="2.80" font-size="12.64" font-style="italic">bg</text>
</g>
<text x="71.38" y="14.75" font-size="10.83">ΔRA [&quot;]</text>
<text x="110.17" y="14.75" font-size="10.83" xml:space="preserve"> = 6.498</text>
<text x="157.15" y="10.85" font-size="7.58">+1.611</text>
<text x="157.15" y="18.00" font-size="7.58">−1.582</text>
<text x="199.32" y="151.35" font-size="10.83">ΔDEC [&quot;]</text>
<text x="246.36" y="151.35" font-size="10.83" xml:space="preserve"> = −0.672</text>
<text x="302.42" y="147.45" font-size="7.58">+1.192</text>
<text x="302.42" y="154.60" font-size="7.58">−1.218</text>
<text x="345.62" y="287.95" font-size="10.83" font-style="italic">R</text>
<text x="353.14" y="289.63" font-size="7.58" font-style="italic">e</text>
<text x="358.57" y="287.95" font-size="10.83" xml:space="preserve"> [&quot;]</text>
<text x="375.45" y="287.95" font-size="10.83" xml:space="preserve"> = 26.556</text>
<text x="429.32" y="284.05" font-size="7.58">+1.977</text>
<text x="429.32" y="291.20" font-size="7.58">−1.678</text>
<text x="497.15" y="424.55" font-size="10.83">n</text>
<text x="504.01" y="424.55" font-size="10.83" xml:space="preserve"> = 0.947</text>
<text x="550.99" y="420.65" font-size="7.58">+0.113</text>
<text x="550.99" y="427.80" font-size="7.58">−0.115</text>
<text x="634.25" y="561.15" font-size="10.83" font-style="italic">ε</text>
<text x="640.11" y="561.15" font-size="10.83" xml:space="preserve"> = 0.171</text>
<text x="687.09" y="557.25" font-size="7.58">+0.001</text>
<text x="687.09" y="564.40" font-size="7.58">−0.001</text>
<text x="753.21" y="697.75" font-size="10.83">Θ [</text>
<text x="769.41" y="693.85" font-size="7.58">∘</text>
<text x="774.15" y="697.75" font-size="10.83">]</text>
<text x="778.38" y="697.75" font-size="10.83" xml:space="preserve"> = −80.503</text>
<text x="841.33" y="693.85" font-size="7.58">+4.581</text>
<text x="841.33" y="701.00" font-size="7.58">−4.398</text>
<text x="903.28" y="834.35" font-size="10.83" font-style="italic">f</text>
<text x="907.09" y="836.03" font-size="7.58" font-style="italic">bg</text>
<text x="917.48" y="834.35" font-size="10.83" xml:space="preserve"> = 0.307</text>
<text x="964.46" y="830.45" font-size="7.58">+0.032</text>
<text x="964.46" y="837.60" font-size="7.58">−0.034</text>
</g>
</svg>
</body></html>
